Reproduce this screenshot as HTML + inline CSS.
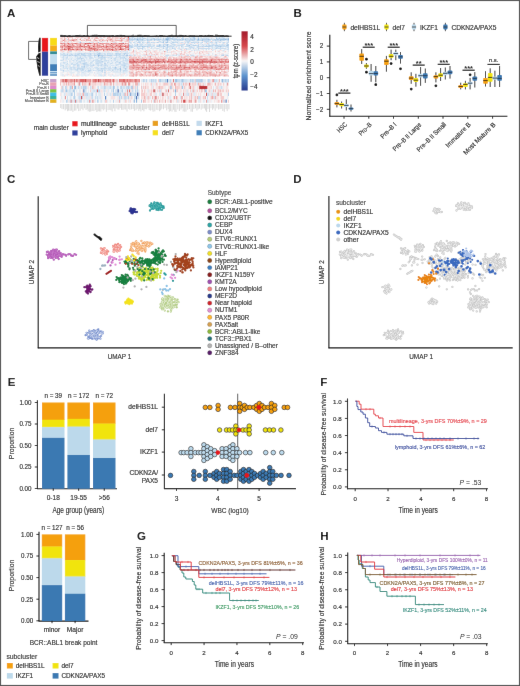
<!DOCTYPE html>
<html><head><meta charset="utf-8"><style>
html,body{margin:0;padding:0;background:#fff;}
body{width:520px;height:686px;overflow:hidden;position:relative;}
svg{position:absolute;left:0;top:0;display:block;}
text{font-family:"Liberation Sans", sans-serif;}
</style></head><body>
<svg width="520" height="686" viewBox="0 0 520 686" font-family='"Liberation Sans", sans-serif' fill="#231f20">
<defs><filter id="soft" x="0" y="0" width="520" height="686" filterUnits="userSpaceOnUse"><feConvolveMatrix order="3" kernelMatrix="0.0016 0.0371 0.0016 0.0371 0.8450 0.0371 0.0016 0.0371 0.0016" edgeMode="duplicate" preserveAlpha="true"/></filter></defs>
<g filter="url(#soft)">
<rect x="0" y="0" width="520" height="686" fill="#fff"/>
<rect x="0.5" y="0.5" width="519" height="685" fill="none" stroke="#555" stroke-width="1.2"/>
<text x="7.00" y="16.50" font-size="11.5" fill="#000" font-weight="bold">A</text>
<text x="293.50" y="16.50" font-size="11.5" fill="#000" font-weight="bold">B</text>
<text x="7.00" y="183.20" font-size="11.5" fill="#000" font-weight="bold">C</text>
<text x="293.30" y="182.70" font-size="11.5" fill="#000" font-weight="bold">D</text>
<text x="7.80" y="385.80" font-size="11.5" fill="#000" font-weight="bold">E</text>
<text x="320.20" y="386.00" font-size="11.5" fill="#000" font-weight="bold">F</text>
<text x="137.00" y="540.20" font-size="11.5" fill="#000" font-weight="bold">G</text>
<text x="320.30" y="540.40" font-size="11.5" fill="#000" font-weight="bold">H</text>
<path fill="#f6e2e2" d="M60.2 37.0h1.3v1.0h-1.3zM62.8 37.0h1.3v1.0h-1.3zM74.5 37.0h1.3v1.0h-1.3zM79.7 37.0h1.3v1.0h-1.3zM83.6 37.0h3.9v1.0h-3.9zM92.7 37.0h2.6v1.0h-2.6zM113.4 37.0h1.3v1.0h-1.3zM118.6 37.0h2.6v1.0h-2.6zM126.4 37.0h1.3v1.0h-1.3zM130.3 37.0h1.3v1.0h-1.3zM156.3 37.0h1.3v1.0h-1.3zM175.8 37.0h1.3v1.0h-1.3zM210.8 37.0h1.3v1.0h-1.3zM101.8 38.0h1.3v1.0h-1.3zM113.4 38.0h1.3v1.0h-1.3zM118.6 38.0h1.3v1.0h-1.3zM60.2 39.0h1.3v1.0h-1.3zM62.8 39.0h1.3v1.0h-1.3zM69.3 39.0h1.3v1.0h-1.3zM78.4 39.0h1.3v1.0h-1.3zM83.6 39.0h2.6v1.0h-2.6zM88.8 39.0h1.3v1.0h-1.3zM92.7 39.0h1.3v1.0h-1.3zM95.3 39.0h1.3v1.0h-1.3zM97.9 39.0h1.3v1.0h-1.3zM106.9 39.0h1.3v1.0h-1.3zM113.4 39.0h1.3v1.0h-1.3zM116.0 39.0h2.6v1.0h-2.6zM119.9 39.0h1.3v1.0h-1.3zM125.1 39.0h1.3v1.0h-1.3zM60.2 40.0h1.3v1.0h-1.3zM66.7 40.0h1.3v1.0h-1.3zM77.1 40.0h1.3v1.0h-1.3zM79.7 40.0h1.3v1.0h-1.3zM84.9 40.0h1.3v1.0h-1.3zM97.9 40.0h1.3v1.0h-1.3zM113.4 40.0h1.3v1.0h-1.3zM122.5 40.0h3.9v1.0h-3.9zM66.7 41.0h1.3v1.0h-1.3zM74.5 41.0h5.2v1.0h-5.2zM82.3 41.0h1.3v1.0h-1.3zM86.2 41.0h1.3v1.0h-1.3zM90.1 41.0h3.9v1.0h-3.9zM95.3 41.0h2.6v1.0h-2.6zM99.2 41.0h1.3v1.0h-1.3zM104.3 41.0h1.3v1.0h-1.3zM109.5 41.0h1.3v1.0h-1.3zM114.7 41.0h2.6v1.0h-2.6zM118.6 41.0h1.3v1.0h-1.3zM123.8 41.0h1.3v1.0h-1.3zM131.6 41.0h1.3v1.0h-1.3zM152.4 41.0h1.3v1.0h-1.3zM157.6 41.0h1.3v1.0h-1.3zM183.6 41.0h1.3v1.0h-1.3zM203.0 41.0h1.3v1.0h-1.3zM218.6 41.0h1.3v1.0h-1.3zM61.5 42.0h1.3v1.0h-1.3zM68.0 42.0h1.3v1.0h-1.3zM70.6 42.0h2.6v1.0h-2.6zM75.8 42.0h2.6v1.0h-2.6zM87.5 42.0h1.3v1.0h-1.3zM95.3 42.0h1.3v1.0h-1.3zM105.6 42.0h1.3v1.0h-1.3zM109.5 42.0h1.3v1.0h-1.3zM112.1 42.0h1.3v1.0h-1.3zM121.2 42.0h1.3v1.0h-1.3zM125.1 42.0h1.3v1.0h-1.3zM109.5 42.9h1.3v1.0h-1.3zM136.8 42.9h1.3v1.0h-1.3zM145.9 42.9h1.3v1.0h-1.3zM153.7 42.9h1.3v1.0h-1.3zM164.1 42.9h1.3v1.0h-1.3zM179.7 42.9h2.6v1.0h-2.6zM188.7 42.9h2.6v1.0h-2.6zM204.3 42.9h1.3v1.0h-1.3zM213.4 42.9h1.3v1.0h-1.3zM223.8 42.9h1.3v1.0h-1.3zM60.2 43.9h1.3v1.0h-1.3zM62.8 43.9h1.3v1.0h-1.3zM74.5 43.9h1.3v1.0h-1.3zM88.8 43.9h1.3v1.0h-1.3zM91.4 43.9h1.3v1.0h-1.3zM95.3 43.9h1.3v1.0h-1.3zM122.5 43.9h1.3v1.0h-1.3zM126.4 43.9h1.3v1.0h-1.3zM156.3 43.9h1.3v1.0h-1.3zM175.8 43.9h1.3v1.0h-1.3zM74.5 44.9h1.3v1.0h-1.3zM86.2 44.9h1.3v1.0h-1.3zM101.8 44.9h1.3v1.0h-1.3zM104.3 44.9h1.3v1.0h-1.3zM91.4 45.9h1.3v1.0h-1.3zM175.8 46.9h1.3v1.0h-1.3zM199.1 46.9h1.3v1.0h-1.3zM201.7 46.9h1.3v1.0h-1.3zM60.2 47.9h1.3v1.0h-1.3zM62.8 47.9h1.3v1.0h-1.3zM73.2 47.9h1.3v1.0h-1.3zM83.6 47.9h1.3v1.0h-1.3zM86.2 47.9h1.3v1.0h-1.3zM99.2 47.9h1.3v1.0h-1.3zM113.4 47.9h1.3v1.0h-1.3zM132.9 48.9h1.3v1.0h-1.3zM135.5 48.9h1.3v1.0h-1.3zM184.9 48.9h1.3v1.0h-1.3zM193.9 48.9h1.3v1.0h-1.3zM200.4 48.9h1.3v1.0h-1.3zM66.7 49.9h1.3v1.0h-1.3zM71.9 49.9h1.3v1.0h-1.3zM82.3 49.9h1.3v1.0h-1.3zM92.7 49.9h1.3v1.0h-1.3zM104.3 49.9h1.3v1.0h-1.3zM122.5 49.9h1.3v1.0h-1.3zM135.5 49.9h1.3v1.0h-1.3zM139.4 49.9h1.3v1.0h-1.3zM152.4 49.9h1.3v1.0h-1.3zM155.0 49.9h2.6v1.0h-2.6zM168.0 49.9h1.3v1.0h-1.3zM173.2 49.9h1.3v1.0h-1.3zM177.1 49.9h1.3v1.0h-1.3zM183.6 49.9h3.9v1.0h-3.9zM203.0 49.9h1.3v1.0h-1.3zM214.7 49.9h1.3v1.0h-1.3zM218.6 49.9h3.9v1.0h-3.9zM60.2 50.9h2.6v1.0h-2.6zM64.1 50.9h1.3v1.0h-1.3zM66.7 50.9h2.6v1.0h-2.6zM74.5 50.9h2.6v1.0h-2.6zM94.0 50.9h1.3v1.0h-1.3zM105.6 50.9h1.3v1.0h-1.3zM110.8 50.9h1.3v1.0h-1.3zM118.6 50.9h1.3v1.0h-1.3zM131.6 50.9h1.3v1.0h-1.3zM140.7 50.9h1.3v1.0h-1.3zM145.9 50.9h5.2v1.0h-5.2zM152.4 50.9h1.3v1.0h-1.3zM155.0 50.9h2.6v1.0h-2.6zM158.9 50.9h1.3v1.0h-1.3zM161.5 50.9h1.3v1.0h-1.3zM165.4 50.9h1.3v1.0h-1.3zM170.6 50.9h2.6v1.0h-2.6zM174.5 50.9h1.3v1.0h-1.3zM177.1 50.9h3.9v1.0h-3.9zM183.6 50.9h2.6v1.0h-2.6zM191.3 50.9h1.3v1.0h-1.3zM193.9 50.9h1.3v1.0h-1.3zM196.5 50.9h1.3v1.0h-1.3zM199.1 50.9h1.3v1.0h-1.3zM201.7 50.9h3.9v1.0h-3.9zM206.9 50.9h5.2v1.0h-5.2zM223.8 50.9h1.3v1.0h-1.3zM69.3 51.8h1.3v1.0h-1.3zM78.4 51.8h1.3v1.0h-1.3zM84.9 51.8h1.3v1.0h-1.3zM88.8 51.8h1.3v1.0h-1.3zM92.7 51.8h1.3v1.0h-1.3zM105.6 51.8h1.3v1.0h-1.3zM108.2 51.8h1.3v1.0h-1.3zM130.3 51.8h1.3v1.0h-1.3zM135.5 51.8h1.3v1.0h-1.3zM138.1 51.8h2.6v1.0h-2.6zM144.6 51.8h1.3v1.0h-1.3zM151.1 51.8h1.3v1.0h-1.3zM156.3 51.8h3.9v1.0h-3.9zM161.5 51.8h1.3v1.0h-1.3zM171.9 51.8h1.3v1.0h-1.3zM174.5 51.8h1.3v1.0h-1.3zM181.0 51.8h1.3v1.0h-1.3zM193.9 51.8h1.3v1.0h-1.3zM203.0 51.8h5.2v1.0h-5.2zM209.5 51.8h2.6v1.0h-2.6zM214.7 51.8h1.3v1.0h-1.3zM219.9 51.8h1.3v1.0h-1.3zM223.8 51.8h2.6v1.0h-2.6zM131.6 52.8h2.6v1.0h-2.6zM136.8 52.8h2.6v1.0h-2.6zM143.3 52.8h1.3v1.0h-1.3zM155.0 52.8h3.9v1.0h-3.9zM162.8 52.8h3.9v1.0h-3.9zM170.6 52.8h1.3v1.0h-1.3zM173.2 52.8h1.3v1.0h-1.3zM178.4 52.8h1.3v1.0h-1.3zM184.9 52.8h1.3v1.0h-1.3zM188.7 52.8h1.3v1.0h-1.3zM191.3 52.8h1.3v1.0h-1.3zM193.9 52.8h1.3v1.0h-1.3zM196.5 52.8h1.3v1.0h-1.3zM200.4 52.8h3.9v1.0h-3.9zM218.6 52.8h1.3v1.0h-1.3zM221.2 52.8h2.6v1.0h-2.6zM226.4 52.8h1.3v1.0h-1.3zM130.3 53.8h1.3v1.0h-1.3zM135.5 53.8h2.6v1.0h-2.6zM140.7 53.8h2.6v1.0h-2.6zM155.0 53.8h1.3v1.0h-1.3zM157.6 53.8h1.3v1.0h-1.3zM166.7 53.8h2.6v1.0h-2.6zM170.6 53.8h2.6v1.0h-2.6zM187.4 53.8h2.6v1.0h-2.6zM195.2 53.8h1.3v1.0h-1.3zM200.4 53.8h1.3v1.0h-1.3zM218.6 53.8h3.9v1.0h-3.9zM223.8 53.8h1.3v1.0h-1.3zM132.9 54.8h1.3v1.0h-1.3zM136.8 54.8h2.6v1.0h-2.6zM153.7 54.8h1.3v1.0h-1.3zM157.6 54.8h1.3v1.0h-1.3zM179.7 54.8h1.3v1.0h-1.3zM183.6 54.8h2.6v1.0h-2.6zM199.1 54.8h1.3v1.0h-1.3zM210.8 54.8h1.3v1.0h-1.3zM217.3 54.8h1.3v1.0h-1.3zM103.0 55.8h1.3v1.0h-1.3zM106.9 55.8h1.3v1.0h-1.3zM112.1 55.8h1.3v1.0h-1.3zM127.7 55.8h2.6v1.0h-2.6zM132.9 55.8h1.3v1.0h-1.3zM136.8 55.8h2.6v1.0h-2.6zM143.3 55.8h1.3v1.0h-1.3zM153.7 55.8h1.3v1.0h-1.3zM170.6 55.8h2.6v1.0h-2.6zM205.6 55.8h1.3v1.0h-1.3zM208.2 55.8h1.3v1.0h-1.3zM210.8 55.8h2.6v1.0h-2.6zM217.3 55.8h1.3v1.0h-1.3zM221.2 55.8h1.3v1.0h-1.3zM136.8 56.8h1.3v1.0h-1.3zM139.4 56.8h2.6v1.0h-2.6zM143.3 56.8h1.3v1.0h-1.3zM145.9 56.8h1.3v1.0h-1.3zM152.4 56.8h2.6v1.0h-2.6zM156.3 56.8h1.3v1.0h-1.3zM160.2 56.8h1.3v1.0h-1.3zM164.1 56.8h1.3v1.0h-1.3zM168.0 56.8h1.3v1.0h-1.3zM170.6 56.8h1.3v1.0h-1.3zM174.5 56.8h1.3v1.0h-1.3zM177.1 56.8h1.3v1.0h-1.3zM179.7 56.8h1.3v1.0h-1.3zM186.2 56.8h1.3v1.0h-1.3zM188.7 56.8h1.3v1.0h-1.3zM191.3 56.8h2.6v1.0h-2.6zM204.3 56.8h1.3v1.0h-1.3zM206.9 56.8h2.6v1.0h-2.6zM212.1 56.8h1.3v1.0h-1.3zM219.9 56.8h1.3v1.0h-1.3zM222.5 56.8h1.3v1.0h-1.3zM129.0 57.8h1.3v1.0h-1.3zM138.1 57.8h1.3v1.0h-1.3zM143.3 57.8h1.3v1.0h-1.3zM145.9 57.8h2.6v1.0h-2.6zM152.4 57.8h2.6v1.0h-2.6zM158.9 57.8h1.3v1.0h-1.3zM168.0 57.8h1.3v1.0h-1.3zM177.1 57.8h1.3v1.0h-1.3zM181.0 57.8h1.3v1.0h-1.3zM192.6 57.8h2.6v1.0h-2.6zM196.5 57.8h2.6v1.0h-2.6zM201.7 57.8h1.3v1.0h-1.3zM208.2 57.8h2.6v1.0h-2.6zM213.4 57.8h2.6v1.0h-2.6zM217.3 57.8h2.6v1.0h-2.6zM222.5 57.8h1.3v1.0h-1.3zM127.7 58.8h1.3v1.0h-1.3zM165.4 58.8h2.6v1.0h-2.6zM64.1 59.8h1.3v1.0h-1.3zM151.1 59.8h1.3v1.0h-1.3zM178.4 59.8h1.3v1.0h-1.3zM192.6 59.8h1.3v1.0h-1.3zM219.9 59.8h1.3v1.0h-1.3zM226.4 59.8h1.3v1.0h-1.3zM70.6 60.8h1.3v1.0h-1.3zM127.7 60.8h1.3v1.0h-1.3zM127.7 62.7h1.3v1.0h-1.3zM165.4 62.7h2.6v1.0h-2.6zM175.8 62.7h2.6v1.0h-2.6zM197.8 62.7h1.3v1.0h-1.3zM204.3 62.7h1.3v1.0h-1.3zM208.2 62.7h1.3v1.0h-1.3zM212.1 62.7h1.3v1.0h-1.3zM216.0 62.7h1.3v1.0h-1.3zM226.4 62.7h2.6v1.0h-2.6zM79.7 63.7h1.3v1.0h-1.3zM129.0 63.7h1.3v1.0h-1.3zM140.7 63.7h2.6v1.0h-2.6zM152.4 63.7h1.3v1.0h-1.3zM158.9 63.7h2.6v1.0h-2.6zM174.5 63.7h2.6v1.0h-2.6zM181.0 63.7h1.3v1.0h-1.3zM183.6 63.7h1.3v1.0h-1.3zM190.0 63.7h1.3v1.0h-1.3zM193.9 63.7h1.3v1.0h-1.3zM208.2 63.7h1.3v1.0h-1.3zM213.4 63.7h2.6v1.0h-2.6zM222.5 63.7h1.3v1.0h-1.3zM226.4 63.7h1.3v1.0h-1.3zM212.1 64.7h1.3v1.0h-1.3zM68.0 65.7h1.3v1.0h-1.3zM75.8 65.7h1.3v1.0h-1.3zM92.7 65.7h1.3v1.0h-1.3zM144.6 65.7h1.3v1.0h-1.3zM147.2 65.7h1.3v1.0h-1.3zM166.7 65.7h1.3v1.0h-1.3zM197.8 65.7h1.3v1.0h-1.3zM223.8 65.7h1.3v1.0h-1.3zM127.7 67.7h1.3v1.0h-1.3zM204.3 67.7h1.3v1.0h-1.3zM64.1 68.7h1.3v1.0h-1.3zM130.3 69.7h1.3v1.0h-1.3zM132.9 69.7h2.6v1.0h-2.6zM142.0 69.7h1.3v1.0h-1.3zM152.4 69.7h2.6v1.0h-2.6zM156.3 69.7h1.3v1.0h-1.3zM160.2 69.7h1.3v1.0h-1.3zM164.1 69.7h1.3v1.0h-1.3zM168.0 69.7h3.9v1.0h-3.9zM173.2 69.7h1.3v1.0h-1.3zM181.0 69.7h1.3v1.0h-1.3zM183.6 69.7h1.3v1.0h-1.3zM186.2 69.7h1.3v1.0h-1.3zM190.0 69.7h1.3v1.0h-1.3zM193.9 69.7h1.3v1.0h-1.3zM200.4 69.7h2.6v1.0h-2.6zM205.6 69.7h1.3v1.0h-1.3zM210.8 69.7h1.3v1.0h-1.3zM223.8 69.7h1.3v1.0h-1.3zM227.7 69.7h1.3v1.0h-1.3zM105.6 70.7h1.3v1.0h-1.3zM108.2 70.7h1.3v1.0h-1.3zM112.1 70.7h1.3v1.0h-1.3zM130.3 70.7h1.3v1.0h-1.3zM132.9 70.7h1.3v1.0h-1.3zM158.9 70.7h2.6v1.0h-2.6zM168.0 70.7h1.3v1.0h-1.3zM177.1 70.7h1.3v1.0h-1.3zM182.3 70.7h1.3v1.0h-1.3zM188.7 70.7h1.3v1.0h-1.3zM192.6 70.7h1.3v1.0h-1.3zM205.6 70.7h2.6v1.0h-2.6zM217.3 70.7h2.6v1.0h-2.6zM226.4 70.7h1.3v1.0h-1.3zM61.5 71.7h1.3v1.0h-1.3zM66.7 71.7h2.6v1.0h-2.6zM78.4 71.7h2.6v1.0h-2.6zM88.8 71.7h1.3v1.0h-1.3zM94.0 71.7h1.3v1.0h-1.3zM103.0 71.7h1.3v1.0h-1.3zM105.6 71.7h1.3v1.0h-1.3zM127.7 71.7h1.3v1.0h-1.3zM138.1 71.7h1.3v1.0h-1.3zM142.0 71.7h1.3v1.0h-1.3zM156.3 71.7h1.3v1.0h-1.3zM160.2 71.7h1.3v1.0h-1.3zM169.3 71.7h1.3v1.0h-1.3zM174.5 71.7h1.3v1.0h-1.3zM183.6 71.7h2.6v1.0h-2.6zM188.7 71.7h5.2v1.0h-5.2zM200.4 71.7h1.3v1.0h-1.3zM208.2 71.7h1.3v1.0h-1.3zM217.3 71.7h1.3v1.0h-1.3zM226.4 71.7h1.3v1.0h-1.3zM138.1 72.6h1.3v1.0h-1.3zM143.3 72.6h1.3v1.0h-1.3zM147.2 72.6h1.3v1.0h-1.3zM160.2 72.6h2.6v1.0h-2.6zM182.3 72.6h1.3v1.0h-1.3zM191.3 72.6h1.3v1.0h-1.3zM200.4 72.6h2.6v1.0h-2.6zM214.7 72.6h1.3v1.0h-1.3zM217.3 72.6h1.3v1.0h-1.3zM225.1 72.6h1.3v1.0h-1.3zM227.7 72.6h1.3v1.0h-1.3zM61.5 73.6h1.3v1.0h-1.3zM65.4 73.6h2.6v1.0h-2.6zM71.9 73.6h2.6v1.0h-2.6zM77.1 73.6h1.3v1.0h-1.3zM83.6 73.6h1.3v1.0h-1.3zM92.7 73.6h1.3v1.0h-1.3zM96.6 73.6h1.3v1.0h-1.3zM101.8 73.6h2.6v1.0h-2.6zM108.2 73.6h3.9v1.0h-3.9zM114.7 73.6h1.3v1.0h-1.3zM118.6 73.6h1.3v1.0h-1.3zM121.2 73.6h2.6v1.0h-2.6zM127.7 73.6h2.6v1.0h-2.6zM131.6 73.6h1.3v1.0h-1.3zM134.2 73.6h1.3v1.0h-1.3zM138.1 73.6h1.3v1.0h-1.3zM147.2 73.6h5.2v1.0h-5.2zM157.6 73.6h1.3v1.0h-1.3zM161.5 73.6h1.3v1.0h-1.3zM165.4 73.6h1.3v1.0h-1.3zM170.6 73.6h1.3v1.0h-1.3zM181.0 73.6h1.3v1.0h-1.3zM187.4 73.6h1.3v1.0h-1.3zM192.6 73.6h1.3v1.0h-1.3zM201.7 73.6h1.3v1.0h-1.3zM221.2 73.6h1.3v1.0h-1.3zM64.1 74.6h1.3v1.0h-1.3zM68.0 74.6h1.3v1.0h-1.3zM73.2 74.6h1.3v1.0h-1.3zM94.0 74.6h1.3v1.0h-1.3zM121.2 74.6h1.3v1.0h-1.3zM143.3 74.6h1.3v1.0h-1.3zM158.9 74.6h1.3v1.0h-1.3zM208.2 74.6h1.3v1.0h-1.3zM227.7 74.6h1.3v1.0h-1.3zM61.5 75.6h1.3v1.0h-1.3zM73.2 75.6h3.9v1.0h-3.9zM78.4 75.6h1.3v1.0h-1.3zM84.9 75.6h1.3v1.0h-1.3zM94.0 75.6h1.3v1.0h-1.3zM96.6 75.6h1.3v1.0h-1.3zM105.6 75.6h1.3v1.0h-1.3zM110.8 75.6h1.3v1.0h-1.3zM114.7 75.6h2.6v1.0h-2.6zM119.9 75.6h2.6v1.0h-2.6zM142.0 75.6h1.3v1.0h-1.3zM144.6 75.6h1.3v1.0h-1.3zM147.2 75.6h1.3v1.0h-1.3zM151.1 75.6h1.3v1.0h-1.3zM157.6 75.6h1.3v1.0h-1.3zM165.4 75.6h1.3v1.0h-1.3zM173.2 75.6h2.6v1.0h-2.6zM184.9 75.6h1.3v1.0h-1.3zM188.7 75.6h1.3v1.0h-1.3zM210.8 75.6h1.3v1.0h-1.3zM219.9 75.6h1.3v1.0h-1.3z"/>
<path fill="#f4cdcd" d="M61.5 37.0h1.3v1.0h-1.3zM68.0 37.0h1.3v1.0h-1.3zM70.6 37.0h2.6v1.0h-2.6zM75.8 37.0h3.9v1.0h-3.9zM81.0 37.0h2.6v1.0h-2.6zM91.4 37.0h1.3v1.0h-1.3zM99.2 37.0h2.6v1.0h-2.6zM103.0 37.0h2.6v1.0h-2.6zM106.9 37.0h1.3v1.0h-1.3zM114.7 37.0h3.9v1.0h-3.9zM123.8 37.0h2.6v1.0h-2.6zM60.2 38.0h2.6v1.0h-2.6zM65.4 38.0h1.3v1.0h-1.3zM71.9 38.0h1.3v1.0h-1.3zM74.5 38.0h1.3v1.0h-1.3zM77.1 38.0h1.3v1.0h-1.3zM79.7 38.0h1.3v1.0h-1.3zM83.6 38.0h2.6v1.0h-2.6zM94.0 38.0h1.3v1.0h-1.3zM97.9 38.0h1.3v1.0h-1.3zM108.2 38.0h5.2v1.0h-5.2zM114.7 38.0h3.9v1.0h-3.9zM121.2 38.0h1.3v1.0h-1.3zM61.5 39.0h1.3v1.0h-1.3zM70.6 39.0h1.3v1.0h-1.3zM82.3 39.0h1.3v1.0h-1.3zM90.1 39.0h1.3v1.0h-1.3zM99.2 39.0h5.2v1.0h-5.2zM105.6 39.0h1.3v1.0h-1.3zM112.1 39.0h1.3v1.0h-1.3zM114.7 39.0h1.3v1.0h-1.3zM61.5 40.0h1.3v1.0h-1.3zM65.4 40.0h1.3v1.0h-1.3zM68.0 40.0h1.3v1.0h-1.3zM75.8 40.0h1.3v1.0h-1.3zM82.3 40.0h1.3v1.0h-1.3zM92.7 40.0h2.6v1.0h-2.6zM96.6 40.0h1.3v1.0h-1.3zM103.0 40.0h3.9v1.0h-3.9zM110.8 40.0h1.3v1.0h-1.3zM60.2 41.0h1.3v1.0h-1.3zM65.4 41.0h1.3v1.0h-1.3zM68.0 41.0h1.3v1.0h-1.3zM70.6 41.0h1.3v1.0h-1.3zM110.8 41.0h1.3v1.0h-1.3zM113.4 41.0h1.3v1.0h-1.3zM119.9 41.0h1.3v1.0h-1.3zM125.1 41.0h3.9v1.0h-3.9zM148.5 41.0h1.3v1.0h-1.3zM210.8 41.0h1.3v1.0h-1.3zM60.2 42.0h1.3v1.0h-1.3zM64.1 42.0h1.3v1.0h-1.3zM66.7 42.0h1.3v1.0h-1.3zM81.0 42.0h1.3v1.0h-1.3zM92.7 42.0h1.3v1.0h-1.3zM96.6 42.0h1.3v1.0h-1.3zM114.7 42.0h1.3v1.0h-1.3zM127.7 42.0h1.3v1.0h-1.3zM65.4 42.9h1.3v1.0h-1.3zM97.9 42.9h1.3v1.0h-1.3zM117.3 42.9h1.3v1.0h-1.3zM123.8 42.9h1.3v1.0h-1.3zM183.6 42.9h1.3v1.0h-1.3zM196.5 42.9h1.3v1.0h-1.3zM206.9 42.9h1.3v1.0h-1.3zM66.7 43.9h1.3v1.0h-1.3zM70.6 43.9h1.3v1.0h-1.3zM73.2 43.9h1.3v1.0h-1.3zM81.0 43.9h2.6v1.0h-2.6zM90.1 43.9h1.3v1.0h-1.3zM97.9 43.9h1.3v1.0h-1.3zM100.5 43.9h1.3v1.0h-1.3zM110.8 43.9h1.3v1.0h-1.3zM125.1 43.9h1.3v1.0h-1.3zM65.4 44.9h1.3v1.0h-1.3zM75.8 44.9h1.3v1.0h-1.3zM82.3 44.9h1.3v1.0h-1.3zM95.3 44.9h1.3v1.0h-1.3zM100.5 44.9h1.3v1.0h-1.3zM106.9 44.9h2.6v1.0h-2.6zM113.4 44.9h1.3v1.0h-1.3zM123.8 44.9h1.3v1.0h-1.3zM62.8 46.9h1.3v1.0h-1.3zM81.0 46.9h1.3v1.0h-1.3zM101.8 46.9h1.3v1.0h-1.3zM116.0 46.9h1.3v1.0h-1.3zM122.5 46.9h1.3v1.0h-1.3zM148.5 46.9h1.3v1.0h-1.3zM70.6 47.9h1.3v1.0h-1.3zM81.0 47.9h2.6v1.0h-2.6zM100.5 47.9h1.3v1.0h-1.3zM103.0 47.9h1.3v1.0h-1.3zM110.8 47.9h1.3v1.0h-1.3zM118.6 47.9h1.3v1.0h-1.3zM126.4 47.9h1.3v1.0h-1.3zM123.8 48.9h1.3v1.0h-1.3zM179.7 48.9h1.3v1.0h-1.3zM183.6 48.9h1.3v1.0h-1.3zM210.8 48.9h1.3v1.0h-1.3zM64.1 49.9h2.6v1.0h-2.6zM73.2 49.9h2.6v1.0h-2.6zM77.1 49.9h3.9v1.0h-3.9zM86.2 49.9h1.3v1.0h-1.3zM97.9 49.9h3.9v1.0h-3.9zM105.6 49.9h1.3v1.0h-1.3zM108.2 49.9h1.3v1.0h-1.3zM110.8 49.9h1.3v1.0h-1.3zM117.3 49.9h2.6v1.0h-2.6zM123.8 49.9h1.3v1.0h-1.3zM127.7 49.9h1.3v1.0h-1.3zM145.9 49.9h1.3v1.0h-1.3zM148.5 49.9h1.3v1.0h-1.3zM175.8 49.9h1.3v1.0h-1.3zM62.8 50.9h1.3v1.0h-1.3zM103.0 50.9h1.3v1.0h-1.3zM135.5 50.9h1.3v1.0h-1.3zM143.3 50.9h1.3v1.0h-1.3zM153.7 50.9h1.3v1.0h-1.3zM173.2 50.9h1.3v1.0h-1.3zM181.0 50.9h1.3v1.0h-1.3zM188.7 50.9h2.6v1.0h-2.6zM200.4 50.9h1.3v1.0h-1.3zM205.6 50.9h1.3v1.0h-1.3zM214.7 50.9h1.3v1.0h-1.3zM217.3 50.9h2.6v1.0h-2.6zM225.1 50.9h1.3v1.0h-1.3zM61.5 51.8h1.3v1.0h-1.3zM66.7 51.8h2.6v1.0h-2.6zM121.2 51.8h1.3v1.0h-1.3zM131.6 51.8h2.6v1.0h-2.6zM136.8 51.8h1.3v1.0h-1.3zM145.9 51.8h1.3v1.0h-1.3zM153.7 51.8h2.6v1.0h-2.6zM164.1 51.8h1.3v1.0h-1.3zM168.0 51.8h1.3v1.0h-1.3zM170.6 51.8h1.3v1.0h-1.3zM183.6 51.8h2.6v1.0h-2.6zM187.4 51.8h2.6v1.0h-2.6zM196.5 51.8h1.3v1.0h-1.3zM130.3 52.8h1.3v1.0h-1.3zM135.5 52.8h1.3v1.0h-1.3zM139.4 52.8h1.3v1.0h-1.3zM145.9 52.8h1.3v1.0h-1.3zM148.5 52.8h3.9v1.0h-3.9zM160.2 52.8h2.6v1.0h-2.6zM174.5 52.8h2.6v1.0h-2.6zM179.7 52.8h1.3v1.0h-1.3zM183.6 52.8h1.3v1.0h-1.3zM186.2 52.8h1.3v1.0h-1.3zM195.2 52.8h1.3v1.0h-1.3zM205.6 52.8h3.9v1.0h-3.9zM132.9 53.8h1.3v1.0h-1.3zM143.3 53.8h2.6v1.0h-2.6zM151.1 53.8h2.6v1.0h-2.6zM161.5 53.8h1.3v1.0h-1.3zM173.2 53.8h1.3v1.0h-1.3zM181.0 53.8h1.3v1.0h-1.3zM190.0 53.8h1.3v1.0h-1.3zM199.1 53.8h1.3v1.0h-1.3zM203.0 53.8h2.6v1.0h-2.6zM216.0 53.8h1.3v1.0h-1.3zM145.9 54.8h1.3v1.0h-1.3zM134.2 55.8h1.3v1.0h-1.3zM144.6 55.8h1.3v1.0h-1.3zM147.2 55.8h1.3v1.0h-1.3zM151.1 55.8h2.6v1.0h-2.6zM155.0 55.8h1.3v1.0h-1.3zM157.6 55.8h1.3v1.0h-1.3zM161.5 55.8h1.3v1.0h-1.3zM178.4 55.8h2.6v1.0h-2.6zM183.6 55.8h1.3v1.0h-1.3zM187.4 55.8h1.3v1.0h-1.3zM191.3 55.8h1.3v1.0h-1.3zM195.2 55.8h1.3v1.0h-1.3zM199.1 55.8h1.3v1.0h-1.3zM203.0 55.8h1.3v1.0h-1.3zM206.9 55.8h1.3v1.0h-1.3zM213.4 55.8h1.3v1.0h-1.3zM216.0 55.8h1.3v1.0h-1.3zM223.8 55.8h1.3v1.0h-1.3zM131.6 56.8h1.3v1.0h-1.3zM134.2 56.8h1.3v1.0h-1.3zM147.2 56.8h2.6v1.0h-2.6zM157.6 56.8h2.6v1.0h-2.6zM161.5 56.8h2.6v1.0h-2.6zM171.9 56.8h1.3v1.0h-1.3zM175.8 56.8h1.3v1.0h-1.3zM178.4 56.8h1.3v1.0h-1.3zM182.3 56.8h1.3v1.0h-1.3zM184.9 56.8h1.3v1.0h-1.3zM193.9 56.8h1.3v1.0h-1.3zM197.8 56.8h1.3v1.0h-1.3zM201.7 56.8h1.3v1.0h-1.3zM205.6 56.8h1.3v1.0h-1.3zM210.8 56.8h1.3v1.0h-1.3zM213.4 56.8h1.3v1.0h-1.3zM218.6 56.8h1.3v1.0h-1.3zM226.4 56.8h1.3v1.0h-1.3zM130.3 57.8h6.5v1.0h-6.5zM142.0 57.8h1.3v1.0h-1.3zM155.0 57.8h1.3v1.0h-1.3zM160.2 57.8h1.3v1.0h-1.3zM162.8 57.8h3.9v1.0h-3.9zM169.3 57.8h2.6v1.0h-2.6zM174.5 57.8h2.6v1.0h-2.6zM178.4 57.8h1.3v1.0h-1.3zM182.3 57.8h5.2v1.0h-5.2zM188.7 57.8h2.6v1.0h-2.6zM203.0 57.8h2.6v1.0h-2.6zM206.9 57.8h1.3v1.0h-1.3zM210.8 57.8h1.3v1.0h-1.3zM226.4 57.8h1.3v1.0h-1.3zM134.2 58.8h1.3v1.0h-1.3zM191.3 58.8h1.3v1.0h-1.3zM208.2 58.8h1.3v1.0h-1.3zM134.2 59.8h1.3v1.0h-1.3zM148.5 59.8h1.3v1.0h-1.3zM152.4 59.8h1.3v1.0h-1.3zM156.3 59.8h1.3v1.0h-1.3zM158.9 59.8h2.6v1.0h-2.6zM193.9 59.8h1.3v1.0h-1.3zM197.8 59.8h1.3v1.0h-1.3zM217.3 59.8h1.3v1.0h-1.3zM223.8 59.8h1.3v1.0h-1.3zM139.4 62.7h1.3v1.0h-1.3zM149.8 62.7h1.3v1.0h-1.3zM152.4 62.7h2.6v1.0h-2.6zM157.6 62.7h1.3v1.0h-1.3zM161.5 62.7h1.3v1.0h-1.3zM168.0 62.7h1.3v1.0h-1.3zM171.9 62.7h1.3v1.0h-1.3zM182.3 62.7h1.3v1.0h-1.3zM187.4 62.7h3.9v1.0h-3.9zM192.6 62.7h1.3v1.0h-1.3zM203.0 62.7h1.3v1.0h-1.3zM210.8 62.7h1.3v1.0h-1.3zM218.6 62.7h2.6v1.0h-2.6zM222.5 62.7h1.3v1.0h-1.3zM225.1 62.7h1.3v1.0h-1.3zM135.5 63.7h1.3v1.0h-1.3zM138.1 63.7h1.3v1.0h-1.3zM143.3 63.7h1.3v1.0h-1.3zM153.7 63.7h1.3v1.0h-1.3zM161.5 63.7h2.6v1.0h-2.6zM165.4 63.7h1.3v1.0h-1.3zM170.6 63.7h3.9v1.0h-3.9zM177.1 63.7h1.3v1.0h-1.3zM179.7 63.7h1.3v1.0h-1.3zM182.3 63.7h1.3v1.0h-1.3zM188.7 63.7h1.3v1.0h-1.3zM196.5 63.7h1.3v1.0h-1.3zM200.4 63.7h2.6v1.0h-2.6zM204.3 63.7h2.6v1.0h-2.6zM212.1 63.7h1.3v1.0h-1.3zM216.0 63.7h2.6v1.0h-2.6zM223.8 63.7h2.6v1.0h-2.6zM227.7 63.7h1.3v1.0h-1.3zM129.0 64.7h1.3v1.0h-1.3zM140.7 64.7h1.3v1.0h-1.3zM147.2 64.7h1.3v1.0h-1.3zM166.7 64.7h1.3v1.0h-1.3zM177.1 64.7h1.3v1.0h-1.3zM187.4 64.7h1.3v1.0h-1.3zM199.1 64.7h1.3v1.0h-1.3zM208.2 64.7h1.3v1.0h-1.3zM217.3 64.7h1.3v1.0h-1.3zM136.8 65.7h3.9v1.0h-3.9zM145.9 65.7h1.3v1.0h-1.3zM155.0 65.7h2.6v1.0h-2.6zM169.3 65.7h1.3v1.0h-1.3zM174.5 65.7h1.3v1.0h-1.3zM177.1 65.7h1.3v1.0h-1.3zM188.7 65.7h1.3v1.0h-1.3zM193.9 65.7h1.3v1.0h-1.3zM208.2 65.7h1.3v1.0h-1.3zM216.0 65.7h2.6v1.0h-2.6zM217.3 66.7h2.6v1.0h-2.6zM226.4 66.7h1.3v1.0h-1.3zM160.2 67.7h1.3v1.0h-1.3zM181.0 67.7h1.3v1.0h-1.3zM200.4 67.7h1.3v1.0h-1.3zM221.2 67.7h1.3v1.0h-1.3zM169.3 68.7h1.3v1.0h-1.3zM192.6 68.7h1.3v1.0h-1.3zM131.6 69.7h1.3v1.0h-1.3zM140.7 69.7h1.3v1.0h-1.3zM144.6 69.7h1.3v1.0h-1.3zM157.6 69.7h1.3v1.0h-1.3zM174.5 69.7h1.3v1.0h-1.3zM177.1 69.7h1.3v1.0h-1.3zM184.9 69.7h1.3v1.0h-1.3zM199.1 69.7h1.3v1.0h-1.3zM203.0 69.7h1.3v1.0h-1.3zM214.7 69.7h1.3v1.0h-1.3zM217.3 69.7h2.6v1.0h-2.6zM221.2 69.7h1.3v1.0h-1.3zM129.0 70.7h1.3v1.0h-1.3zM131.6 70.7h1.3v1.0h-1.3zM135.5 70.7h2.6v1.0h-2.6zM139.4 70.7h1.3v1.0h-1.3zM143.3 70.7h2.6v1.0h-2.6zM147.2 70.7h7.8v1.0h-7.8zM171.9 70.7h1.3v1.0h-1.3zM184.9 70.7h1.3v1.0h-1.3zM191.3 70.7h1.3v1.0h-1.3zM197.8 70.7h1.3v1.0h-1.3zM209.5 70.7h1.3v1.0h-1.3zM212.1 70.7h1.3v1.0h-1.3zM222.5 70.7h1.3v1.0h-1.3zM225.1 70.7h1.3v1.0h-1.3zM129.0 71.7h1.3v1.0h-1.3zM136.8 71.7h1.3v1.0h-1.3zM143.3 71.7h1.3v1.0h-1.3zM145.9 71.7h2.6v1.0h-2.6zM152.4 71.7h2.6v1.0h-2.6zM161.5 71.7h2.6v1.0h-2.6zM171.9 71.7h1.3v1.0h-1.3zM177.1 71.7h2.6v1.0h-2.6zM181.0 71.7h1.3v1.0h-1.3zM187.4 71.7h1.3v1.0h-1.3zM195.2 71.7h1.3v1.0h-1.3zM197.8 71.7h1.3v1.0h-1.3zM203.0 71.7h1.3v1.0h-1.3zM206.9 71.7h1.3v1.0h-1.3zM210.8 71.7h1.3v1.0h-1.3zM213.4 71.7h1.3v1.0h-1.3zM222.5 71.7h1.3v1.0h-1.3zM140.7 72.6h1.3v1.0h-1.3zM145.9 72.6h1.3v1.0h-1.3zM158.9 72.6h1.3v1.0h-1.3zM164.1 72.6h2.6v1.0h-2.6zM177.1 72.6h3.9v1.0h-3.9zM184.9 72.6h1.3v1.0h-1.3zM195.2 72.6h1.3v1.0h-1.3zM204.3 72.6h1.3v1.0h-1.3zM212.1 72.6h1.3v1.0h-1.3zM221.2 72.6h2.6v1.0h-2.6zM68.0 73.6h1.3v1.0h-1.3zM112.1 73.6h1.3v1.0h-1.3zM135.5 73.6h2.6v1.0h-2.6zM139.4 73.6h1.3v1.0h-1.3zM142.0 73.6h2.6v1.0h-2.6zM153.7 73.6h1.3v1.0h-1.3zM186.2 73.6h1.3v1.0h-1.3zM190.0 73.6h2.6v1.0h-2.6zM193.9 73.6h1.3v1.0h-1.3zM200.4 73.6h1.3v1.0h-1.3zM203.0 73.6h1.3v1.0h-1.3zM205.6 73.6h1.3v1.0h-1.3zM210.8 73.6h2.6v1.0h-2.6zM214.7 73.6h1.3v1.0h-1.3zM218.6 73.6h1.3v1.0h-1.3zM222.5 73.6h3.9v1.0h-3.9zM69.3 74.6h1.3v1.0h-1.3zM88.8 74.6h1.3v1.0h-1.3zM129.0 74.6h2.6v1.0h-2.6zM138.1 74.6h1.3v1.0h-1.3zM151.1 74.6h1.3v1.0h-1.3zM162.8 74.6h2.6v1.0h-2.6zM184.9 74.6h1.3v1.0h-1.3zM192.6 74.6h1.3v1.0h-1.3zM201.7 74.6h1.3v1.0h-1.3zM205.6 74.6h2.6v1.0h-2.6zM217.3 74.6h1.3v1.0h-1.3zM64.1 75.6h1.3v1.0h-1.3zM71.9 75.6h1.3v1.0h-1.3zM77.1 75.6h1.3v1.0h-1.3zM103.0 75.6h1.3v1.0h-1.3zM109.5 75.6h1.3v1.0h-1.3zM129.0 75.6h1.3v1.0h-1.3zM149.8 75.6h1.3v1.0h-1.3zM158.9 75.6h1.3v1.0h-1.3zM161.5 75.6h2.6v1.0h-2.6zM168.0 75.6h1.3v1.0h-1.3zM177.1 75.6h2.6v1.0h-2.6zM181.0 75.6h1.3v1.0h-1.3zM186.2 75.6h1.3v1.0h-1.3zM192.6 75.6h1.3v1.0h-1.3zM197.8 75.6h1.3v1.0h-1.3zM200.4 75.6h1.3v1.0h-1.3zM203.0 75.6h1.3v1.0h-1.3zM208.2 75.6h1.3v1.0h-1.3zM216.0 75.6h1.3v1.0h-1.3zM222.5 75.6h1.3v1.0h-1.3zM226.4 75.6h1.3v1.0h-1.3z"/>
<path fill="#eeb5b5" d="M64.1 37.0h1.3v1.0h-1.3zM66.7 37.0h1.3v1.0h-1.3zM69.3 37.0h1.3v1.0h-1.3zM87.5 37.0h2.6v1.0h-2.6zM95.3 37.0h2.6v1.0h-2.6zM108.2 37.0h2.6v1.0h-2.6zM112.1 37.0h1.3v1.0h-1.3zM121.2 37.0h1.3v1.0h-1.3zM64.1 38.0h1.3v1.0h-1.3zM68.0 38.0h1.3v1.0h-1.3zM87.5 38.0h2.6v1.0h-2.6zM91.4 38.0h1.3v1.0h-1.3zM95.3 38.0h2.6v1.0h-2.6zM106.9 38.0h1.3v1.0h-1.3zM122.5 38.0h2.6v1.0h-2.6zM68.0 39.0h1.3v1.0h-1.3zM71.9 39.0h3.9v1.0h-3.9zM87.5 39.0h1.3v1.0h-1.3zM94.0 39.0h1.3v1.0h-1.3zM108.2 39.0h1.3v1.0h-1.3zM126.4 39.0h1.3v1.0h-1.3zM64.1 40.0h1.3v1.0h-1.3zM69.3 40.0h2.6v1.0h-2.6zM74.5 40.0h1.3v1.0h-1.3zM81.0 40.0h1.3v1.0h-1.3zM83.6 40.0h1.3v1.0h-1.3zM87.5 40.0h3.9v1.0h-3.9zM112.1 40.0h1.3v1.0h-1.3zM114.7 40.0h6.5v1.0h-6.5zM126.4 40.0h2.6v1.0h-2.6zM61.5 41.0h1.3v1.0h-1.3zM64.1 41.0h1.3v1.0h-1.3zM73.2 41.0h1.3v1.0h-1.3zM100.5 41.0h1.3v1.0h-1.3zM106.9 41.0h1.3v1.0h-1.3zM112.1 41.0h1.3v1.0h-1.3zM121.2 41.0h1.3v1.0h-1.3zM69.3 42.9h1.3v1.0h-1.3zM78.4 42.9h1.3v1.0h-1.3zM81.0 42.9h2.6v1.0h-2.6zM91.4 42.9h2.6v1.0h-2.6zM126.4 42.9h2.6v1.0h-2.6zM61.5 43.9h1.3v1.0h-1.3zM65.4 43.9h1.3v1.0h-1.3zM75.8 43.9h2.6v1.0h-2.6zM86.2 43.9h1.3v1.0h-1.3zM92.7 43.9h1.3v1.0h-1.3zM99.2 43.9h1.3v1.0h-1.3zM103.0 43.9h1.3v1.0h-1.3zM106.9 43.9h1.3v1.0h-1.3zM114.7 43.9h6.5v1.0h-6.5zM123.8 43.9h1.3v1.0h-1.3zM60.2 44.9h2.6v1.0h-2.6zM68.0 44.9h3.9v1.0h-3.9zM78.4 44.9h1.3v1.0h-1.3zM81.0 44.9h1.3v1.0h-1.3zM88.8 44.9h2.6v1.0h-2.6zM92.7 44.9h1.3v1.0h-1.3zM114.7 44.9h1.3v1.0h-1.3zM118.6 44.9h1.3v1.0h-1.3zM122.5 44.9h1.3v1.0h-1.3zM126.4 44.9h1.3v1.0h-1.3zM62.8 45.9h1.3v1.0h-1.3zM90.1 45.9h1.3v1.0h-1.3zM104.3 45.9h1.3v1.0h-1.3zM64.1 46.9h1.3v1.0h-1.3zM73.2 46.9h2.6v1.0h-2.6zM82.3 46.9h1.3v1.0h-1.3zM84.9 46.9h2.6v1.0h-2.6zM92.7 46.9h1.3v1.0h-1.3zM95.3 46.9h1.3v1.0h-1.3zM103.0 46.9h1.3v1.0h-1.3zM106.9 46.9h1.3v1.0h-1.3zM109.5 46.9h1.3v1.0h-1.3zM114.7 46.9h1.3v1.0h-1.3zM121.2 46.9h1.3v1.0h-1.3zM65.4 47.9h1.3v1.0h-1.3zM74.5 47.9h2.6v1.0h-2.6zM78.4 47.9h1.3v1.0h-1.3zM96.6 47.9h2.6v1.0h-2.6zM104.3 47.9h1.3v1.0h-1.3zM106.9 47.9h1.3v1.0h-1.3zM116.0 47.9h1.3v1.0h-1.3zM122.5 47.9h2.6v1.0h-2.6zM66.7 48.9h1.3v1.0h-1.3zM82.3 48.9h1.3v1.0h-1.3zM97.9 48.9h1.3v1.0h-1.3zM113.4 48.9h1.3v1.0h-1.3zM117.3 48.9h1.3v1.0h-1.3zM126.4 48.9h1.3v1.0h-1.3zM60.2 49.9h2.6v1.0h-2.6zM69.3 49.9h2.6v1.0h-2.6zM75.8 49.9h1.3v1.0h-1.3zM84.9 49.9h1.3v1.0h-1.3zM91.4 49.9h1.3v1.0h-1.3zM106.9 49.9h1.3v1.0h-1.3zM114.7 49.9h2.6v1.0h-2.6zM121.2 49.9h1.3v1.0h-1.3zM125.1 49.9h1.3v1.0h-1.3zM132.9 49.9h1.3v1.0h-1.3zM132.9 50.9h1.3v1.0h-1.3zM144.6 50.9h1.3v1.0h-1.3zM149.8 51.8h1.3v1.0h-1.3zM199.1 51.8h1.3v1.0h-1.3zM201.7 51.8h1.3v1.0h-1.3zM181.0 52.8h1.3v1.0h-1.3zM199.1 52.8h1.3v1.0h-1.3zM148.5 53.8h1.3v1.0h-1.3zM153.7 53.8h1.3v1.0h-1.3zM164.1 53.8h1.3v1.0h-1.3zM175.8 53.8h1.3v1.0h-1.3zM179.7 53.8h1.3v1.0h-1.3zM182.3 53.8h2.6v1.0h-2.6zM214.7 53.8h1.3v1.0h-1.3zM130.3 55.8h1.3v1.0h-1.3zM139.4 55.8h1.3v1.0h-1.3zM148.5 55.8h1.3v1.0h-1.3zM160.2 55.8h1.3v1.0h-1.3zM164.1 55.8h1.3v1.0h-1.3zM181.0 55.8h1.3v1.0h-1.3zM184.9 55.8h2.6v1.0h-2.6zM188.7 55.8h1.3v1.0h-1.3zM192.6 55.8h1.3v1.0h-1.3zM201.7 55.8h1.3v1.0h-1.3zM204.3 55.8h1.3v1.0h-1.3zM209.5 55.8h1.3v1.0h-1.3zM130.3 56.8h1.3v1.0h-1.3zM132.9 56.8h1.3v1.0h-1.3zM142.0 56.8h1.3v1.0h-1.3zM144.6 56.8h1.3v1.0h-1.3zM155.0 56.8h1.3v1.0h-1.3zM165.4 56.8h1.3v1.0h-1.3zM173.2 56.8h1.3v1.0h-1.3zM187.4 56.8h1.3v1.0h-1.3zM190.0 56.8h1.3v1.0h-1.3zM196.5 56.8h1.3v1.0h-1.3zM199.1 56.8h1.3v1.0h-1.3zM217.3 56.8h1.3v1.0h-1.3zM223.8 56.8h2.6v1.0h-2.6zM139.4 57.8h1.3v1.0h-1.3zM149.8 57.8h2.6v1.0h-2.6zM156.3 57.8h1.3v1.0h-1.3zM173.2 57.8h1.3v1.0h-1.3zM179.7 57.8h1.3v1.0h-1.3zM195.2 57.8h1.3v1.0h-1.3zM199.1 57.8h1.3v1.0h-1.3zM205.6 57.8h1.3v1.0h-1.3zM216.0 57.8h1.3v1.0h-1.3zM221.2 57.8h1.3v1.0h-1.3zM147.2 58.8h1.3v1.0h-1.3zM171.9 58.8h1.3v1.0h-1.3zM182.3 58.8h1.3v1.0h-1.3zM192.6 58.8h1.3v1.0h-1.3zM227.7 58.8h1.3v1.0h-1.3zM136.8 59.8h1.3v1.0h-1.3zM139.4 59.8h1.3v1.0h-1.3zM147.2 59.8h1.3v1.0h-1.3zM169.3 59.8h1.3v1.0h-1.3zM171.9 59.8h2.6v1.0h-2.6zM177.1 59.8h1.3v1.0h-1.3zM183.6 59.8h1.3v1.0h-1.3zM188.7 59.8h2.6v1.0h-2.6zM195.2 59.8h1.3v1.0h-1.3zM200.4 59.8h1.3v1.0h-1.3zM204.3 59.8h1.3v1.0h-1.3zM208.2 59.8h2.6v1.0h-2.6zM213.4 59.8h1.3v1.0h-1.3zM216.0 59.8h1.3v1.0h-1.3zM227.7 59.8h1.3v1.0h-1.3zM177.1 60.8h1.3v1.0h-1.3zM165.4 61.8h1.3v1.0h-1.3zM129.0 62.7h1.3v1.0h-1.3zM134.2 62.7h1.3v1.0h-1.3zM136.8 62.7h2.6v1.0h-2.6zM142.0 62.7h1.3v1.0h-1.3zM144.6 62.7h1.3v1.0h-1.3zM148.5 62.7h1.3v1.0h-1.3zM156.3 62.7h1.3v1.0h-1.3zM158.9 62.7h2.6v1.0h-2.6zM164.1 62.7h1.3v1.0h-1.3zM181.0 62.7h1.3v1.0h-1.3zM193.9 62.7h1.3v1.0h-1.3zM196.5 62.7h1.3v1.0h-1.3zM205.6 62.7h2.6v1.0h-2.6zM214.7 62.7h1.3v1.0h-1.3zM221.2 62.7h1.3v1.0h-1.3zM131.6 63.7h1.3v1.0h-1.3zM145.9 63.7h1.3v1.0h-1.3zM149.8 63.7h1.3v1.0h-1.3zM164.1 63.7h1.3v1.0h-1.3zM168.0 63.7h2.6v1.0h-2.6zM184.9 63.7h1.3v1.0h-1.3zM197.8 63.7h1.3v1.0h-1.3zM209.5 63.7h1.3v1.0h-1.3zM218.6 63.7h1.3v1.0h-1.3zM221.2 63.7h1.3v1.0h-1.3zM131.6 64.7h1.3v1.0h-1.3zM142.0 64.7h1.3v1.0h-1.3zM144.6 64.7h1.3v1.0h-1.3zM151.1 64.7h1.3v1.0h-1.3zM153.7 64.7h1.3v1.0h-1.3zM168.0 64.7h1.3v1.0h-1.3zM170.6 64.7h1.3v1.0h-1.3zM178.4 64.7h1.3v1.0h-1.3zM181.0 64.7h1.3v1.0h-1.3zM186.2 64.7h1.3v1.0h-1.3zM193.9 64.7h2.6v1.0h-2.6zM197.8 64.7h1.3v1.0h-1.3zM206.9 64.7h1.3v1.0h-1.3zM213.4 64.7h1.3v1.0h-1.3zM216.0 64.7h1.3v1.0h-1.3zM222.5 64.7h1.3v1.0h-1.3zM227.7 64.7h1.3v1.0h-1.3zM129.0 65.7h3.9v1.0h-3.9zM135.5 65.7h1.3v1.0h-1.3zM142.0 65.7h1.3v1.0h-1.3zM153.7 65.7h1.3v1.0h-1.3zM157.6 65.7h1.3v1.0h-1.3zM173.2 65.7h1.3v1.0h-1.3zM178.4 65.7h1.3v1.0h-1.3zM181.0 65.7h2.6v1.0h-2.6zM184.9 65.7h1.3v1.0h-1.3zM190.0 65.7h1.3v1.0h-1.3zM192.6 65.7h1.3v1.0h-1.3zM200.4 65.7h2.6v1.0h-2.6zM209.5 65.7h1.3v1.0h-1.3zM219.9 65.7h1.3v1.0h-1.3zM222.5 65.7h1.3v1.0h-1.3zM225.1 65.7h2.6v1.0h-2.6zM129.0 66.7h1.3v1.0h-1.3zM147.2 66.7h1.3v1.0h-1.3zM157.6 66.7h1.3v1.0h-1.3zM165.4 66.7h1.3v1.0h-1.3zM182.3 66.7h1.3v1.0h-1.3zM190.0 66.7h1.3v1.0h-1.3zM197.8 66.7h2.6v1.0h-2.6zM222.5 66.7h2.6v1.0h-2.6zM129.0 67.7h2.6v1.0h-2.6zM134.2 67.7h1.3v1.0h-1.3zM136.8 67.7h1.3v1.0h-1.3zM139.4 67.7h2.6v1.0h-2.6zM149.8 67.7h1.3v1.0h-1.3zM186.2 67.7h2.6v1.0h-2.6zM191.3 67.7h1.3v1.0h-1.3zM193.9 67.7h1.3v1.0h-1.3zM203.0 67.7h1.3v1.0h-1.3zM216.0 67.7h1.3v1.0h-1.3zM129.0 68.7h1.3v1.0h-1.3zM132.9 68.7h2.6v1.0h-2.6zM142.0 68.7h1.3v1.0h-1.3zM149.8 68.7h2.6v1.0h-2.6zM162.8 68.7h1.3v1.0h-1.3zM166.7 68.7h1.3v1.0h-1.3zM191.3 68.7h1.3v1.0h-1.3zM196.5 68.7h1.3v1.0h-1.3zM209.5 68.7h3.9v1.0h-3.9zM226.4 68.7h1.3v1.0h-1.3zM135.5 69.7h1.3v1.0h-1.3zM175.8 69.7h1.3v1.0h-1.3zM195.2 69.7h1.3v1.0h-1.3zM209.5 69.7h1.3v1.0h-1.3zM140.7 70.7h2.6v1.0h-2.6zM145.9 70.7h1.3v1.0h-1.3zM155.0 70.7h3.9v1.0h-3.9zM162.8 70.7h1.3v1.0h-1.3zM173.2 70.7h1.3v1.0h-1.3zM175.8 70.7h1.3v1.0h-1.3zM181.0 70.7h1.3v1.0h-1.3zM183.6 70.7h1.3v1.0h-1.3zM193.9 70.7h1.3v1.0h-1.3zM196.5 70.7h1.3v1.0h-1.3zM201.7 70.7h2.6v1.0h-2.6zM208.2 70.7h1.3v1.0h-1.3zM210.8 70.7h1.3v1.0h-1.3zM214.7 70.7h2.6v1.0h-2.6zM223.8 70.7h1.3v1.0h-1.3zM227.7 70.7h1.3v1.0h-1.3zM130.3 71.7h3.9v1.0h-3.9zM135.5 71.7h1.3v1.0h-1.3zM139.4 71.7h1.3v1.0h-1.3zM149.8 71.7h2.6v1.0h-2.6zM158.9 71.7h1.3v1.0h-1.3zM165.4 71.7h1.3v1.0h-1.3zM168.0 71.7h1.3v1.0h-1.3zM170.6 71.7h1.3v1.0h-1.3zM173.2 71.7h1.3v1.0h-1.3zM175.8 71.7h1.3v1.0h-1.3zM186.2 71.7h1.3v1.0h-1.3zM199.1 71.7h1.3v1.0h-1.3zM204.3 71.7h1.3v1.0h-1.3zM209.5 71.7h1.3v1.0h-1.3zM218.6 71.7h2.6v1.0h-2.6zM223.8 71.7h1.3v1.0h-1.3zM130.3 72.6h1.3v1.0h-1.3zM136.8 72.6h1.3v1.0h-1.3zM139.4 72.6h1.3v1.0h-1.3zM148.5 72.6h1.3v1.0h-1.3zM151.1 72.6h1.3v1.0h-1.3zM153.7 72.6h1.3v1.0h-1.3zM156.3 72.6h2.6v1.0h-2.6zM162.8 72.6h1.3v1.0h-1.3zM170.6 72.6h6.5v1.0h-6.5zM183.6 72.6h1.3v1.0h-1.3zM186.2 72.6h2.6v1.0h-2.6zM197.8 72.6h1.3v1.0h-1.3zM208.2 72.6h1.3v1.0h-1.3zM213.4 72.6h1.3v1.0h-1.3zM218.6 72.6h1.3v1.0h-1.3zM223.8 72.6h1.3v1.0h-1.3zM226.4 72.6h1.3v1.0h-1.3zM105.6 73.6h1.3v1.0h-1.3zM123.8 73.6h1.3v1.0h-1.3zM130.3 73.6h1.3v1.0h-1.3zM144.6 73.6h1.3v1.0h-1.3zM160.2 73.6h1.3v1.0h-1.3zM171.9 73.6h1.3v1.0h-1.3zM174.5 73.6h2.6v1.0h-2.6zM179.7 73.6h1.3v1.0h-1.3zM182.3 73.6h1.3v1.0h-1.3zM184.9 73.6h1.3v1.0h-1.3zM188.7 73.6h1.3v1.0h-1.3zM196.5 73.6h2.6v1.0h-2.6zM204.3 73.6h1.3v1.0h-1.3zM208.2 73.6h1.3v1.0h-1.3zM213.4 73.6h1.3v1.0h-1.3zM131.6 74.6h3.9v1.0h-3.9zM145.9 74.6h3.9v1.0h-3.9zM153.7 74.6h1.3v1.0h-1.3zM157.6 74.6h1.3v1.0h-1.3zM160.2 74.6h2.6v1.0h-2.6zM165.4 74.6h2.6v1.0h-2.6zM178.4 74.6h2.6v1.0h-2.6zM187.4 74.6h1.3v1.0h-1.3zM197.8 74.6h3.9v1.0h-3.9zM204.3 74.6h1.3v1.0h-1.3zM222.5 74.6h1.3v1.0h-1.3zM130.3 75.6h1.3v1.0h-1.3zM139.4 75.6h2.6v1.0h-2.6zM143.3 75.6h1.3v1.0h-1.3zM145.9 75.6h1.3v1.0h-1.3zM148.5 75.6h1.3v1.0h-1.3zM153.7 75.6h1.3v1.0h-1.3zM169.3 75.6h1.3v1.0h-1.3zM182.3 75.6h2.6v1.0h-2.6zM191.3 75.6h1.3v1.0h-1.3zM193.9 75.6h3.9v1.0h-3.9zM204.3 75.6h2.6v1.0h-2.6zM209.5 75.6h1.3v1.0h-1.3zM212.1 75.6h2.6v1.0h-2.6zM218.6 75.6h1.3v1.0h-1.3zM225.1 75.6h1.3v1.0h-1.3zM227.7 75.6h1.3v1.0h-1.3z"/>
<path fill="#f8f6f6" d="M65.4 37.0h1.3v1.0h-1.3zM73.2 37.0h1.3v1.0h-1.3zM90.1 37.0h1.3v1.0h-1.3zM97.9 37.0h1.3v1.0h-1.3zM101.8 37.0h1.3v1.0h-1.3zM105.6 37.0h1.3v1.0h-1.3zM110.8 37.0h1.3v1.0h-1.3zM122.5 37.0h1.3v1.0h-1.3zM135.5 37.0h1.3v1.0h-1.3zM144.6 37.0h2.6v1.0h-2.6zM153.7 37.0h1.3v1.0h-1.3zM158.9 37.0h1.3v1.0h-1.3zM161.5 37.0h1.3v1.0h-1.3zM164.1 37.0h1.3v1.0h-1.3zM170.6 37.0h1.3v1.0h-1.3zM181.0 37.0h1.3v1.0h-1.3zM183.6 37.0h5.2v1.0h-5.2zM195.2 37.0h1.3v1.0h-1.3zM199.1 37.0h1.3v1.0h-1.3zM201.7 37.0h1.3v1.0h-1.3zM213.4 37.0h1.3v1.0h-1.3zM225.1 37.0h1.3v1.0h-1.3zM62.8 38.0h1.3v1.0h-1.3zM66.7 38.0h1.3v1.0h-1.3zM69.3 38.0h2.6v1.0h-2.6zM73.2 38.0h1.3v1.0h-1.3zM75.8 38.0h1.3v1.0h-1.3zM78.4 38.0h1.3v1.0h-1.3zM82.3 38.0h1.3v1.0h-1.3zM90.1 38.0h1.3v1.0h-1.3zM92.7 38.0h1.3v1.0h-1.3zM99.2 38.0h1.3v1.0h-1.3zM103.0 38.0h3.9v1.0h-3.9zM125.1 38.0h1.3v1.0h-1.3zM179.7 38.0h1.3v1.0h-1.3zM214.7 38.0h1.3v1.0h-1.3zM65.4 39.0h1.3v1.0h-1.3zM81.0 39.0h1.3v1.0h-1.3zM91.4 39.0h1.3v1.0h-1.3zM96.6 39.0h1.3v1.0h-1.3zM104.3 39.0h1.3v1.0h-1.3zM78.4 40.0h1.3v1.0h-1.3zM91.4 40.0h1.3v1.0h-1.3zM100.5 40.0h1.3v1.0h-1.3zM108.2 40.0h1.3v1.0h-1.3zM171.9 40.0h1.3v1.0h-1.3zM210.8 40.0h1.3v1.0h-1.3zM62.8 41.0h1.3v1.0h-1.3zM71.9 41.0h1.3v1.0h-1.3zM81.0 41.0h1.3v1.0h-1.3zM83.6 41.0h1.3v1.0h-1.3zM87.5 41.0h2.6v1.0h-2.6zM97.9 41.0h1.3v1.0h-1.3zM105.6 41.0h1.3v1.0h-1.3zM108.2 41.0h1.3v1.0h-1.3zM117.3 41.0h1.3v1.0h-1.3zM122.5 41.0h1.3v1.0h-1.3zM132.9 41.0h1.3v1.0h-1.3zM136.8 41.0h1.3v1.0h-1.3zM144.6 41.0h2.6v1.0h-2.6zM149.8 41.0h2.6v1.0h-2.6zM153.7 41.0h3.9v1.0h-3.9zM169.3 41.0h1.3v1.0h-1.3zM179.7 41.0h3.9v1.0h-3.9zM191.3 41.0h1.3v1.0h-1.3zM199.1 41.0h2.6v1.0h-2.6zM213.4 41.0h1.3v1.0h-1.3zM222.5 41.0h3.9v1.0h-3.9zM73.2 42.0h2.6v1.0h-2.6zM84.9 42.0h1.3v1.0h-1.3zM94.0 42.0h1.3v1.0h-1.3zM100.5 42.0h1.3v1.0h-1.3zM103.0 42.0h2.6v1.0h-2.6zM108.2 42.0h1.3v1.0h-1.3zM110.8 42.0h1.3v1.0h-1.3zM117.3 42.0h3.9v1.0h-3.9zM123.8 42.0h1.3v1.0h-1.3zM126.4 42.0h1.3v1.0h-1.3zM131.6 42.0h1.3v1.0h-1.3zM135.5 42.0h1.3v1.0h-1.3zM140.7 42.0h1.3v1.0h-1.3zM164.1 42.0h1.3v1.0h-1.3zM203.0 42.0h1.3v1.0h-1.3zM221.2 42.0h1.3v1.0h-1.3zM129.0 42.9h1.3v1.0h-1.3zM131.6 42.9h2.6v1.0h-2.6zM138.1 42.9h1.3v1.0h-1.3zM144.6 42.9h1.3v1.0h-1.3zM151.1 42.9h1.3v1.0h-1.3zM155.0 42.9h7.8v1.0h-7.8zM166.7 42.9h3.9v1.0h-3.9zM174.5 42.9h2.6v1.0h-2.6zM186.2 42.9h1.3v1.0h-1.3zM192.6 42.9h1.3v1.0h-1.3zM195.2 42.9h1.3v1.0h-1.3zM199.1 42.9h1.3v1.0h-1.3zM201.7 42.9h2.6v1.0h-2.6zM209.5 42.9h1.3v1.0h-1.3zM217.3 42.9h5.2v1.0h-5.2zM225.1 42.9h1.3v1.0h-1.3zM227.7 42.9h1.3v1.0h-1.3zM104.3 43.9h1.3v1.0h-1.3zM130.3 43.9h1.3v1.0h-1.3zM132.9 43.9h1.3v1.0h-1.3zM143.3 43.9h1.3v1.0h-1.3zM155.0 43.9h1.3v1.0h-1.3zM169.3 43.9h1.3v1.0h-1.3zM184.9 43.9h1.3v1.0h-1.3zM193.9 43.9h1.3v1.0h-1.3zM196.5 43.9h1.3v1.0h-1.3zM209.5 43.9h1.3v1.0h-1.3zM84.9 44.9h1.3v1.0h-1.3zM155.0 44.9h1.3v1.0h-1.3zM183.6 44.9h2.6v1.0h-2.6zM199.1 44.9h1.3v1.0h-1.3zM155.0 45.9h1.3v1.0h-1.3zM179.7 45.9h1.3v1.0h-1.3zM195.2 45.9h1.3v1.0h-1.3zM123.8 46.9h1.3v1.0h-1.3zM134.2 46.9h2.6v1.0h-2.6zM140.7 46.9h1.3v1.0h-1.3zM144.6 46.9h2.6v1.0h-2.6zM149.8 46.9h1.3v1.0h-1.3zM152.4 46.9h1.3v1.0h-1.3zM156.3 46.9h2.6v1.0h-2.6zM164.1 46.9h1.3v1.0h-1.3zM177.1 46.9h1.3v1.0h-1.3zM179.7 46.9h1.3v1.0h-1.3zM183.6 46.9h5.2v1.0h-5.2zM195.2 46.9h1.3v1.0h-1.3zM204.3 46.9h3.9v1.0h-3.9zM209.5 46.9h1.3v1.0h-1.3zM223.8 46.9h1.3v1.0h-1.3zM131.6 47.9h2.6v1.0h-2.6zM135.5 47.9h1.3v1.0h-1.3zM145.9 47.9h1.3v1.0h-1.3zM148.5 47.9h1.3v1.0h-1.3zM160.2 47.9h1.3v1.0h-1.3zM168.0 47.9h1.3v1.0h-1.3zM175.8 47.9h1.3v1.0h-1.3zM196.5 47.9h1.3v1.0h-1.3zM131.6 48.9h1.3v1.0h-1.3zM134.2 48.9h1.3v1.0h-1.3zM136.8 48.9h1.3v1.0h-1.3zM139.4 48.9h2.6v1.0h-2.6zM143.3 48.9h1.3v1.0h-1.3zM145.9 48.9h1.3v1.0h-1.3zM149.8 48.9h2.6v1.0h-2.6zM153.7 48.9h2.6v1.0h-2.6zM157.6 48.9h1.3v1.0h-1.3zM162.8 48.9h2.6v1.0h-2.6zM171.9 48.9h2.6v1.0h-2.6zM175.8 48.9h2.6v1.0h-2.6zM182.3 48.9h1.3v1.0h-1.3zM191.3 48.9h1.3v1.0h-1.3zM199.1 48.9h1.3v1.0h-1.3zM204.3 48.9h1.3v1.0h-1.3zM206.9 48.9h1.3v1.0h-1.3zM209.5 48.9h1.3v1.0h-1.3zM216.0 48.9h3.9v1.0h-3.9zM221.2 48.9h2.6v1.0h-2.6zM83.6 49.9h1.3v1.0h-1.3zM101.8 49.9h1.3v1.0h-1.3zM119.9 49.9h1.3v1.0h-1.3zM131.6 49.9h1.3v1.0h-1.3zM136.8 49.9h2.6v1.0h-2.6zM140.7 49.9h3.9v1.0h-3.9zM151.1 49.9h1.3v1.0h-1.3zM157.6 49.9h1.3v1.0h-1.3zM161.5 49.9h1.3v1.0h-1.3zM164.1 49.9h1.3v1.0h-1.3zM170.6 49.9h2.6v1.0h-2.6zM174.5 49.9h1.3v1.0h-1.3zM178.4 49.9h2.6v1.0h-2.6zM187.4 49.9h3.9v1.0h-3.9zM192.6 49.9h1.3v1.0h-1.3zM200.4 49.9h2.6v1.0h-2.6zM204.3 49.9h1.3v1.0h-1.3zM206.9 49.9h5.2v1.0h-5.2zM213.4 49.9h1.3v1.0h-1.3zM216.0 49.9h1.3v1.0h-1.3zM225.1 49.9h2.6v1.0h-2.6zM65.4 50.9h1.3v1.0h-1.3zM71.9 50.9h2.6v1.0h-2.6zM77.1 50.9h1.3v1.0h-1.3zM81.0 50.9h1.3v1.0h-1.3zM83.6 50.9h5.2v1.0h-5.2zM99.2 50.9h3.9v1.0h-3.9zM109.5 50.9h1.3v1.0h-1.3zM112.1 50.9h1.3v1.0h-1.3zM127.7 50.9h3.9v1.0h-3.9zM136.8 50.9h2.6v1.0h-2.6zM142.0 50.9h1.3v1.0h-1.3zM151.1 50.9h1.3v1.0h-1.3zM157.6 50.9h1.3v1.0h-1.3zM160.2 50.9h1.3v1.0h-1.3zM168.0 50.9h2.6v1.0h-2.6zM175.8 50.9h1.3v1.0h-1.3zM182.3 50.9h1.3v1.0h-1.3zM187.4 50.9h1.3v1.0h-1.3zM192.6 50.9h1.3v1.0h-1.3zM195.2 50.9h1.3v1.0h-1.3zM197.8 50.9h1.3v1.0h-1.3zM212.1 50.9h2.6v1.0h-2.6zM216.0 50.9h1.3v1.0h-1.3zM219.9 50.9h2.6v1.0h-2.6zM226.4 50.9h1.3v1.0h-1.3zM60.2 51.8h1.3v1.0h-1.3zM64.1 51.8h2.6v1.0h-2.6zM71.9 51.8h5.2v1.0h-5.2zM81.0 51.8h3.9v1.0h-3.9zM86.2 51.8h2.6v1.0h-2.6zM90.1 51.8h2.6v1.0h-2.6zM95.3 51.8h1.3v1.0h-1.3zM97.9 51.8h1.3v1.0h-1.3zM100.5 51.8h1.3v1.0h-1.3zM103.0 51.8h1.3v1.0h-1.3zM109.5 51.8h1.3v1.0h-1.3zM112.1 51.8h3.9v1.0h-3.9zM118.6 51.8h2.6v1.0h-2.6zM122.5 51.8h2.6v1.0h-2.6zM127.7 51.8h1.3v1.0h-1.3zM140.7 51.8h1.3v1.0h-1.3zM143.3 51.8h1.3v1.0h-1.3zM148.5 51.8h1.3v1.0h-1.3zM162.8 51.8h1.3v1.0h-1.3zM175.8 51.8h2.6v1.0h-2.6zM179.7 51.8h1.3v1.0h-1.3zM182.3 51.8h1.3v1.0h-1.3zM186.2 51.8h1.3v1.0h-1.3zM191.3 51.8h2.6v1.0h-2.6zM195.2 51.8h1.3v1.0h-1.3zM197.8 51.8h1.3v1.0h-1.3zM200.4 51.8h1.3v1.0h-1.3zM212.1 51.8h2.6v1.0h-2.6zM216.0 51.8h2.6v1.0h-2.6zM221.2 51.8h2.6v1.0h-2.6zM226.4 51.8h2.6v1.0h-2.6zM134.2 52.8h1.3v1.0h-1.3zM140.7 52.8h2.6v1.0h-2.6zM144.6 52.8h1.3v1.0h-1.3zM147.2 52.8h1.3v1.0h-1.3zM152.4 52.8h2.6v1.0h-2.6zM158.9 52.8h1.3v1.0h-1.3zM166.7 52.8h3.9v1.0h-3.9zM171.9 52.8h1.3v1.0h-1.3zM177.1 52.8h1.3v1.0h-1.3zM182.3 52.8h1.3v1.0h-1.3zM187.4 52.8h1.3v1.0h-1.3zM190.0 52.8h1.3v1.0h-1.3zM204.3 52.8h1.3v1.0h-1.3zM209.5 52.8h2.6v1.0h-2.6zM213.4 52.8h3.9v1.0h-3.9zM219.9 52.8h1.3v1.0h-1.3zM223.8 52.8h2.6v1.0h-2.6zM91.4 53.8h1.3v1.0h-1.3zM105.6 53.8h1.3v1.0h-1.3zM113.4 53.8h1.3v1.0h-1.3zM127.7 53.8h2.6v1.0h-2.6zM131.6 53.8h1.3v1.0h-1.3zM138.1 53.8h1.3v1.0h-1.3zM147.2 53.8h1.3v1.0h-1.3zM149.8 53.8h1.3v1.0h-1.3zM158.9 53.8h1.3v1.0h-1.3zM162.8 53.8h1.3v1.0h-1.3zM165.4 53.8h1.3v1.0h-1.3zM169.3 53.8h1.3v1.0h-1.3zM174.5 53.8h1.3v1.0h-1.3zM184.9 53.8h1.3v1.0h-1.3zM191.3 53.8h3.9v1.0h-3.9zM196.5 53.8h2.6v1.0h-2.6zM201.7 53.8h1.3v1.0h-1.3zM205.6 53.8h2.6v1.0h-2.6zM209.5 53.8h2.6v1.0h-2.6zM213.4 53.8h1.3v1.0h-1.3zM217.3 53.8h1.3v1.0h-1.3zM226.4 53.8h2.6v1.0h-2.6zM140.7 54.8h1.3v1.0h-1.3zM158.9 54.8h1.3v1.0h-1.3zM161.5 54.8h1.3v1.0h-1.3zM164.1 54.8h1.3v1.0h-1.3zM177.1 54.8h1.3v1.0h-1.3zM188.7 54.8h1.3v1.0h-1.3zM195.2 54.8h1.3v1.0h-1.3zM213.4 54.8h1.3v1.0h-1.3zM219.9 54.8h1.3v1.0h-1.3zM61.5 55.8h1.3v1.0h-1.3zM71.9 55.8h1.3v1.0h-1.3zM92.7 55.8h1.3v1.0h-1.3zM113.4 55.8h2.6v1.0h-2.6zM121.2 55.8h1.3v1.0h-1.3zM135.5 55.8h1.3v1.0h-1.3zM142.0 55.8h1.3v1.0h-1.3zM145.9 55.8h1.3v1.0h-1.3zM156.3 55.8h1.3v1.0h-1.3zM158.9 55.8h1.3v1.0h-1.3zM162.8 55.8h1.3v1.0h-1.3zM168.0 55.8h1.3v1.0h-1.3zM173.2 55.8h3.9v1.0h-3.9zM218.6 55.8h1.3v1.0h-1.3zM222.5 55.8h1.3v1.0h-1.3zM226.4 55.8h1.3v1.0h-1.3zM68.0 56.8h1.3v1.0h-1.3zM73.2 56.8h1.3v1.0h-1.3zM92.7 56.8h1.3v1.0h-1.3zM125.1 56.8h1.3v1.0h-1.3zM127.7 56.8h1.3v1.0h-1.3zM151.1 56.8h1.3v1.0h-1.3zM203.0 56.8h1.3v1.0h-1.3zM221.2 56.8h1.3v1.0h-1.3zM227.7 56.8h1.3v1.0h-1.3zM60.2 57.8h1.3v1.0h-1.3zM87.5 57.8h1.3v1.0h-1.3zM94.0 57.8h1.3v1.0h-1.3zM105.6 57.8h1.3v1.0h-1.3zM112.1 57.8h1.3v1.0h-1.3zM136.8 57.8h1.3v1.0h-1.3zM157.6 57.8h1.3v1.0h-1.3zM171.9 57.8h1.3v1.0h-1.3zM200.4 57.8h1.3v1.0h-1.3zM219.9 57.8h1.3v1.0h-1.3zM227.7 57.8h1.3v1.0h-1.3zM60.2 58.8h2.6v1.0h-2.6zM71.9 58.8h2.6v1.0h-2.6zM84.9 58.8h1.3v1.0h-1.3zM91.4 58.8h1.3v1.0h-1.3zM99.2 58.8h1.3v1.0h-1.3zM105.6 58.8h2.6v1.0h-2.6zM110.8 58.8h1.3v1.0h-1.3zM123.8 58.8h1.3v1.0h-1.3zM66.7 59.8h2.6v1.0h-2.6zM101.8 59.8h1.3v1.0h-1.3zM121.2 59.8h1.3v1.0h-1.3zM166.7 59.8h1.3v1.0h-1.3zM222.5 59.8h1.3v1.0h-1.3zM60.2 60.8h2.6v1.0h-2.6zM64.1 60.8h1.3v1.0h-1.3zM68.0 60.8h1.3v1.0h-1.3zM71.9 60.8h1.3v1.0h-1.3zM74.5 60.8h1.3v1.0h-1.3zM86.2 60.8h1.3v1.0h-1.3zM94.0 60.8h1.3v1.0h-1.3zM68.0 61.8h1.3v1.0h-1.3zM88.8 61.8h1.3v1.0h-1.3zM92.7 61.8h1.3v1.0h-1.3zM105.6 61.8h1.3v1.0h-1.3zM109.5 61.8h1.3v1.0h-1.3zM113.4 61.8h1.3v1.0h-1.3zM121.2 61.8h1.3v1.0h-1.3zM68.0 62.7h1.3v1.0h-1.3zM94.0 62.7h1.3v1.0h-1.3zM103.0 62.7h1.3v1.0h-1.3zM117.3 62.7h1.3v1.0h-1.3zM162.8 62.7h1.3v1.0h-1.3zM61.5 63.7h2.6v1.0h-2.6zM110.8 63.7h1.3v1.0h-1.3zM113.4 63.7h1.3v1.0h-1.3zM130.3 63.7h1.3v1.0h-1.3zM134.2 63.7h1.3v1.0h-1.3zM139.4 63.7h1.3v1.0h-1.3zM144.6 63.7h1.3v1.0h-1.3zM147.2 63.7h1.3v1.0h-1.3zM151.1 63.7h1.3v1.0h-1.3zM155.0 63.7h2.6v1.0h-2.6zM178.4 63.7h1.3v1.0h-1.3zM187.4 63.7h1.3v1.0h-1.3zM191.3 63.7h1.3v1.0h-1.3zM195.2 63.7h1.3v1.0h-1.3zM206.9 63.7h1.3v1.0h-1.3zM210.8 63.7h1.3v1.0h-1.3zM219.9 63.7h1.3v1.0h-1.3zM64.1 64.7h1.3v1.0h-1.3zM70.6 64.7h2.6v1.0h-2.6zM118.6 64.7h1.3v1.0h-1.3zM70.6 65.7h1.3v1.0h-1.3zM79.7 65.7h1.3v1.0h-1.3zM88.8 65.7h1.3v1.0h-1.3zM94.0 65.7h1.3v1.0h-1.3zM99.2 65.7h1.3v1.0h-1.3zM110.8 65.7h1.3v1.0h-1.3zM113.4 65.7h1.3v1.0h-1.3zM116.0 65.7h1.3v1.0h-1.3zM158.9 65.7h1.3v1.0h-1.3zM171.9 65.7h1.3v1.0h-1.3zM186.2 65.7h2.6v1.0h-2.6zM60.2 66.7h1.3v1.0h-1.3zM92.7 66.7h1.3v1.0h-1.3zM110.8 66.7h1.3v1.0h-1.3zM125.1 66.7h1.3v1.0h-1.3zM121.2 67.7h1.3v1.0h-1.3zM144.6 67.7h1.3v1.0h-1.3zM65.4 68.7h1.3v1.0h-1.3zM68.0 68.7h1.3v1.0h-1.3zM94.0 68.7h2.6v1.0h-2.6zM127.7 69.7h1.3v1.0h-1.3zM136.8 69.7h3.9v1.0h-3.9zM149.8 69.7h2.6v1.0h-2.6zM155.0 69.7h1.3v1.0h-1.3zM161.5 69.7h1.3v1.0h-1.3zM171.9 69.7h1.3v1.0h-1.3zM187.4 69.7h2.6v1.0h-2.6zM191.3 69.7h2.6v1.0h-2.6zM196.5 69.7h2.6v1.0h-2.6zM204.3 69.7h1.3v1.0h-1.3zM208.2 69.7h1.3v1.0h-1.3zM216.0 69.7h1.3v1.0h-1.3zM219.9 69.7h1.3v1.0h-1.3zM222.5 69.7h1.3v1.0h-1.3zM225.1 69.7h1.3v1.0h-1.3zM60.2 70.7h2.6v1.0h-2.6zM71.9 70.7h2.6v1.0h-2.6zM92.7 70.7h2.6v1.0h-2.6zM103.0 70.7h1.3v1.0h-1.3zM106.9 70.7h1.3v1.0h-1.3zM109.5 70.7h1.3v1.0h-1.3zM121.2 70.7h1.3v1.0h-1.3zM134.2 70.7h1.3v1.0h-1.3zM161.5 70.7h1.3v1.0h-1.3zM166.7 70.7h1.3v1.0h-1.3zM169.3 70.7h1.3v1.0h-1.3zM178.4 70.7h1.3v1.0h-1.3zM200.4 70.7h1.3v1.0h-1.3zM213.4 70.7h1.3v1.0h-1.3zM219.9 70.7h1.3v1.0h-1.3zM60.2 71.7h1.3v1.0h-1.3zM64.1 71.7h2.6v1.0h-2.6zM74.5 71.7h2.6v1.0h-2.6zM83.6 71.7h3.9v1.0h-3.9zM92.7 71.7h1.3v1.0h-1.3zM95.3 71.7h1.3v1.0h-1.3zM97.9 71.7h1.3v1.0h-1.3zM106.9 71.7h1.3v1.0h-1.3zM110.8 71.7h1.3v1.0h-1.3zM134.2 71.7h1.3v1.0h-1.3zM140.7 71.7h1.3v1.0h-1.3zM157.6 71.7h1.3v1.0h-1.3zM182.3 71.7h1.3v1.0h-1.3zM193.9 71.7h1.3v1.0h-1.3zM214.7 71.7h1.3v1.0h-1.3zM221.2 71.7h1.3v1.0h-1.3zM227.7 71.7h1.3v1.0h-1.3zM62.8 72.6h3.9v1.0h-3.9zM68.0 72.6h1.3v1.0h-1.3zM74.5 72.6h2.6v1.0h-2.6zM79.7 72.6h1.3v1.0h-1.3zM87.5 72.6h1.3v1.0h-1.3zM92.7 72.6h1.3v1.0h-1.3zM95.3 72.6h1.3v1.0h-1.3zM101.8 72.6h2.6v1.0h-2.6zM105.6 72.6h1.3v1.0h-1.3zM109.5 72.6h5.2v1.0h-5.2zM121.2 72.6h1.3v1.0h-1.3zM127.7 72.6h1.3v1.0h-1.3zM132.9 72.6h1.3v1.0h-1.3zM142.0 72.6h1.3v1.0h-1.3zM152.4 72.6h1.3v1.0h-1.3zM166.7 72.6h1.3v1.0h-1.3zM188.7 72.6h2.6v1.0h-2.6zM60.2 73.6h1.3v1.0h-1.3zM62.8 73.6h2.6v1.0h-2.6zM69.3 73.6h1.3v1.0h-1.3zM74.5 73.6h2.6v1.0h-2.6zM79.7 73.6h2.6v1.0h-2.6zM86.2 73.6h2.6v1.0h-2.6zM90.1 73.6h2.6v1.0h-2.6zM94.0 73.6h1.3v1.0h-1.3zM99.2 73.6h1.3v1.0h-1.3zM104.3 73.6h1.3v1.0h-1.3zM106.9 73.6h1.3v1.0h-1.3zM113.4 73.6h1.3v1.0h-1.3zM116.0 73.6h2.6v1.0h-2.6zM125.1 73.6h2.6v1.0h-2.6zM158.9 73.6h1.3v1.0h-1.3zM169.3 73.6h1.3v1.0h-1.3zM173.2 73.6h1.3v1.0h-1.3zM177.1 73.6h1.3v1.0h-1.3zM216.0 73.6h2.6v1.0h-2.6zM219.9 73.6h1.3v1.0h-1.3zM227.7 73.6h1.3v1.0h-1.3zM71.9 74.6h1.3v1.0h-1.3zM74.5 74.6h1.3v1.0h-1.3zM91.4 74.6h1.3v1.0h-1.3zM96.6 74.6h1.3v1.0h-1.3zM105.6 74.6h2.6v1.0h-2.6zM113.4 74.6h1.3v1.0h-1.3zM123.8 74.6h2.6v1.0h-2.6zM127.7 74.6h1.3v1.0h-1.3zM60.2 75.6h1.3v1.0h-1.3zM65.4 75.6h6.5v1.0h-6.5zM79.7 75.6h1.3v1.0h-1.3zM83.6 75.6h1.3v1.0h-1.3zM87.5 75.6h6.5v1.0h-6.5zM106.9 75.6h2.6v1.0h-2.6zM112.1 75.6h1.3v1.0h-1.3zM118.6 75.6h1.3v1.0h-1.3zM123.8 75.6h1.3v1.0h-1.3zM126.4 75.6h2.6v1.0h-2.6zM134.2 75.6h1.3v1.0h-1.3zM136.8 75.6h2.6v1.0h-2.6zM155.0 75.6h1.3v1.0h-1.3zM221.2 75.6h1.3v1.0h-1.3z"/>
<path fill="#db6667" d="M127.7 37.0h1.3v1.0h-1.3zM68.0 42.9h1.3v1.0h-1.3zM86.2 42.9h3.9v1.0h-3.9zM118.6 42.9h1.3v1.0h-1.3zM64.1 44.9h1.3v1.0h-1.3zM79.7 44.9h1.3v1.0h-1.3zM116.0 44.9h1.3v1.0h-1.3zM119.9 44.9h1.3v1.0h-1.3zM61.5 45.9h1.3v1.0h-1.3zM65.4 45.9h1.3v1.0h-1.3zM73.2 45.9h1.3v1.0h-1.3zM81.0 45.9h2.6v1.0h-2.6zM86.2 45.9h1.3v1.0h-1.3zM88.8 45.9h1.3v1.0h-1.3zM100.5 45.9h1.3v1.0h-1.3zM103.0 45.9h1.3v1.0h-1.3zM105.6 45.9h2.6v1.0h-2.6zM109.5 45.9h1.3v1.0h-1.3zM112.1 45.9h1.3v1.0h-1.3zM123.8 45.9h2.6v1.0h-2.6zM61.5 46.9h1.3v1.0h-1.3zM88.8 46.9h1.3v1.0h-1.3zM105.6 46.9h1.3v1.0h-1.3zM119.9 46.9h1.3v1.0h-1.3zM68.0 47.9h2.6v1.0h-2.6zM90.1 47.9h2.6v1.0h-2.6zM119.9 47.9h1.3v1.0h-1.3zM61.5 48.9h1.3v1.0h-1.3zM65.4 48.9h1.3v1.0h-1.3zM71.9 48.9h2.6v1.0h-2.6zM81.0 48.9h1.3v1.0h-1.3zM91.4 48.9h1.3v1.0h-1.3zM94.0 48.9h1.3v1.0h-1.3zM96.6 48.9h1.3v1.0h-1.3zM100.5 48.9h1.3v1.0h-1.3zM106.9 48.9h1.3v1.0h-1.3zM110.8 48.9h1.3v1.0h-1.3zM118.6 48.9h1.3v1.0h-1.3zM122.5 48.9h1.3v1.0h-1.3zM112.1 49.9h1.3v1.0h-1.3zM195.2 56.8h1.3v1.0h-1.3zM131.6 58.8h2.6v1.0h-2.6zM135.5 58.8h1.3v1.0h-1.3zM138.1 58.8h1.3v1.0h-1.3zM144.6 58.8h2.6v1.0h-2.6zM157.6 58.8h1.3v1.0h-1.3zM161.5 58.8h1.3v1.0h-1.3zM164.1 58.8h1.3v1.0h-1.3zM168.0 58.8h1.3v1.0h-1.3zM173.2 58.8h1.3v1.0h-1.3zM175.8 58.8h1.3v1.0h-1.3zM181.0 58.8h1.3v1.0h-1.3zM188.7 58.8h2.6v1.0h-2.6zM196.5 58.8h1.3v1.0h-1.3zM199.1 58.8h1.3v1.0h-1.3zM203.0 58.8h1.3v1.0h-1.3zM205.6 58.8h1.3v1.0h-1.3zM210.8 58.8h2.6v1.0h-2.6zM217.3 58.8h2.6v1.0h-2.6zM222.5 58.8h1.3v1.0h-1.3zM225.1 58.8h2.6v1.0h-2.6zM140.7 59.8h5.2v1.0h-5.2zM155.0 59.8h1.3v1.0h-1.3zM157.6 59.8h1.3v1.0h-1.3zM181.0 59.8h1.3v1.0h-1.3zM201.7 59.8h1.3v1.0h-1.3zM131.6 60.8h1.3v1.0h-1.3zM135.5 60.8h1.3v1.0h-1.3zM142.0 60.8h1.3v1.0h-1.3zM147.2 60.8h1.3v1.0h-1.3zM151.1 60.8h1.3v1.0h-1.3zM153.7 60.8h1.3v1.0h-1.3zM164.1 60.8h1.3v1.0h-1.3zM166.7 60.8h1.3v1.0h-1.3zM171.9 60.8h1.3v1.0h-1.3zM175.8 60.8h1.3v1.0h-1.3zM184.9 60.8h1.3v1.0h-1.3zM187.4 60.8h1.3v1.0h-1.3zM196.5 60.8h2.6v1.0h-2.6zM200.4 60.8h1.3v1.0h-1.3zM203.0 60.8h1.3v1.0h-1.3zM206.9 60.8h1.3v1.0h-1.3zM214.7 60.8h1.3v1.0h-1.3zM219.9 60.8h2.6v1.0h-2.6zM227.7 60.8h1.3v1.0h-1.3zM129.0 61.8h1.3v1.0h-1.3zM144.6 61.8h1.3v1.0h-1.3zM158.9 61.8h1.3v1.0h-1.3zM166.7 61.8h1.3v1.0h-1.3zM177.1 61.8h1.3v1.0h-1.3zM186.2 61.8h1.3v1.0h-1.3zM188.7 61.8h1.3v1.0h-1.3zM191.3 61.8h1.3v1.0h-1.3zM196.5 61.8h2.6v1.0h-2.6zM203.0 61.8h1.3v1.0h-1.3zM205.6 61.8h1.3v1.0h-1.3zM222.5 61.8h1.3v1.0h-1.3zM225.1 61.8h1.3v1.0h-1.3zM227.7 61.8h1.3v1.0h-1.3zM151.1 62.7h1.3v1.0h-1.3zM155.0 62.7h1.3v1.0h-1.3zM174.5 62.7h1.3v1.0h-1.3zM201.7 62.7h1.3v1.0h-1.3zM209.5 62.7h1.3v1.0h-1.3zM223.8 62.7h1.3v1.0h-1.3zM148.5 64.7h1.3v1.0h-1.3zM152.4 64.7h1.3v1.0h-1.3zM155.0 64.7h1.3v1.0h-1.3zM162.8 64.7h1.3v1.0h-1.3zM173.2 64.7h1.3v1.0h-1.3zM183.6 64.7h1.3v1.0h-1.3zM200.4 64.7h1.3v1.0h-1.3zM203.0 64.7h1.3v1.0h-1.3zM209.5 64.7h1.3v1.0h-1.3zM221.2 64.7h1.3v1.0h-1.3zM223.8 64.7h1.3v1.0h-1.3zM164.1 65.7h1.3v1.0h-1.3zM168.0 65.7h1.3v1.0h-1.3zM191.3 65.7h1.3v1.0h-1.3zM218.6 65.7h1.3v1.0h-1.3zM131.6 66.7h1.3v1.0h-1.3zM135.5 66.7h2.6v1.0h-2.6zM143.3 66.7h1.3v1.0h-1.3zM148.5 66.7h2.6v1.0h-2.6zM155.0 66.7h1.3v1.0h-1.3zM171.9 66.7h1.3v1.0h-1.3zM177.1 66.7h1.3v1.0h-1.3zM181.0 66.7h1.3v1.0h-1.3zM187.4 66.7h1.3v1.0h-1.3zM195.2 66.7h1.3v1.0h-1.3zM206.9 66.7h1.3v1.0h-1.3zM212.1 66.7h1.3v1.0h-1.3zM216.0 66.7h1.3v1.0h-1.3zM132.9 67.7h1.3v1.0h-1.3zM142.0 67.7h1.3v1.0h-1.3zM145.9 67.7h1.3v1.0h-1.3zM153.7 67.7h1.3v1.0h-1.3zM161.5 67.7h1.3v1.0h-1.3zM164.1 67.7h1.3v1.0h-1.3zM168.0 67.7h1.3v1.0h-1.3zM188.7 67.7h1.3v1.0h-1.3zM201.7 67.7h1.3v1.0h-1.3zM209.5 67.7h1.3v1.0h-1.3zM212.1 67.7h1.3v1.0h-1.3zM143.3 68.7h1.3v1.0h-1.3zM153.7 68.7h1.3v1.0h-1.3zM173.2 68.7h2.6v1.0h-2.6zM177.1 68.7h1.3v1.0h-1.3zM179.7 68.7h1.3v1.0h-1.3zM187.4 68.7h1.3v1.0h-1.3zM204.3 68.7h1.3v1.0h-1.3zM206.9 68.7h1.3v1.0h-1.3zM217.3 68.7h2.6v1.0h-2.6zM221.2 68.7h1.3v1.0h-1.3zM174.5 70.7h1.3v1.0h-1.3zM209.5 72.6h1.3v1.0h-1.3zM219.9 72.6h1.3v1.0h-1.3zM195.2 73.6h1.3v1.0h-1.3zM135.5 74.6h1.3v1.0h-1.3zM142.0 74.6h1.3v1.0h-1.3zM181.0 74.6h1.3v1.0h-1.3zM183.6 74.6h1.3v1.0h-1.3zM203.0 74.6h1.3v1.0h-1.3zM209.5 74.6h1.3v1.0h-1.3zM218.6 74.6h1.3v1.0h-1.3zM179.7 75.6h1.3v1.0h-1.3zM214.7 75.6h1.3v1.0h-1.3z"/>
<path fill="#c9ddef" d="M129.0 37.0h1.3v1.0h-1.3zM132.9 37.0h1.3v1.0h-1.3zM136.8 37.0h1.3v1.0h-1.3zM147.2 37.0h1.3v1.0h-1.3zM157.6 37.0h1.3v1.0h-1.3zM160.2 37.0h1.3v1.0h-1.3zM168.0 37.0h1.3v1.0h-1.3zM171.9 37.0h2.6v1.0h-2.6zM188.7 37.0h1.3v1.0h-1.3zM191.3 37.0h1.3v1.0h-1.3zM197.8 37.0h1.3v1.0h-1.3zM200.4 37.0h1.3v1.0h-1.3zM216.0 37.0h1.3v1.0h-1.3zM218.6 37.0h1.3v1.0h-1.3zM221.2 37.0h2.6v1.0h-2.6zM100.5 38.0h1.3v1.0h-1.3zM126.4 38.0h1.3v1.0h-1.3zM130.3 38.0h1.3v1.0h-1.3zM135.5 38.0h1.3v1.0h-1.3zM138.1 38.0h1.3v1.0h-1.3zM142.0 38.0h1.3v1.0h-1.3zM151.1 38.0h1.3v1.0h-1.3zM157.6 38.0h1.3v1.0h-1.3zM160.2 38.0h1.3v1.0h-1.3zM173.2 38.0h3.9v1.0h-3.9zM178.4 38.0h1.3v1.0h-1.3zM181.0 38.0h1.3v1.0h-1.3zM184.9 38.0h3.9v1.0h-3.9zM191.3 38.0h1.3v1.0h-1.3zM195.2 38.0h1.3v1.0h-1.3zM201.7 38.0h3.9v1.0h-3.9zM206.9 38.0h2.6v1.0h-2.6zM210.8 38.0h1.3v1.0h-1.3zM217.3 38.0h1.3v1.0h-1.3zM219.9 38.0h2.6v1.0h-2.6zM225.1 38.0h2.6v1.0h-2.6zM66.7 39.0h1.3v1.0h-1.3zM143.3 39.0h1.3v1.0h-1.3zM145.9 39.0h1.3v1.0h-1.3zM148.5 39.0h1.3v1.0h-1.3zM152.4 39.0h1.3v1.0h-1.3zM161.5 39.0h1.3v1.0h-1.3zM164.1 39.0h1.3v1.0h-1.3zM170.6 39.0h1.3v1.0h-1.3zM181.0 39.0h1.3v1.0h-1.3zM183.6 39.0h1.3v1.0h-1.3zM186.2 39.0h1.3v1.0h-1.3zM188.7 39.0h1.3v1.0h-1.3zM195.2 39.0h1.3v1.0h-1.3zM199.1 39.0h2.6v1.0h-2.6zM210.8 39.0h2.6v1.0h-2.6zM218.6 39.0h1.3v1.0h-1.3zM129.0 40.0h2.6v1.0h-2.6zM135.5 40.0h1.3v1.0h-1.3zM139.4 40.0h2.6v1.0h-2.6zM143.3 40.0h2.6v1.0h-2.6zM148.5 40.0h3.9v1.0h-3.9zM156.3 40.0h3.9v1.0h-3.9zM161.5 40.0h3.9v1.0h-3.9zM168.0 40.0h1.3v1.0h-1.3zM173.2 40.0h2.6v1.0h-2.6zM178.4 40.0h5.2v1.0h-5.2zM184.9 40.0h1.3v1.0h-1.3zM187.4 40.0h1.3v1.0h-1.3zM190.0 40.0h1.3v1.0h-1.3zM193.9 40.0h1.3v1.0h-1.3zM199.1 40.0h1.3v1.0h-1.3zM203.0 40.0h5.2v1.0h-5.2zM209.5 40.0h1.3v1.0h-1.3zM212.1 40.0h2.6v1.0h-2.6zM216.0 40.0h1.3v1.0h-1.3zM218.6 40.0h1.3v1.0h-1.3zM221.2 40.0h1.3v1.0h-1.3zM223.8 40.0h1.3v1.0h-1.3zM226.4 40.0h1.3v1.0h-1.3zM129.0 41.0h1.3v1.0h-1.3zM135.5 41.0h1.3v1.0h-1.3zM138.1 41.0h2.6v1.0h-2.6zM147.2 41.0h1.3v1.0h-1.3zM158.9 41.0h2.6v1.0h-2.6zM170.6 41.0h1.3v1.0h-1.3zM174.5 41.0h1.3v1.0h-1.3zM186.2 41.0h3.9v1.0h-3.9zM205.6 41.0h3.9v1.0h-3.9zM217.3 41.0h1.3v1.0h-1.3zM227.7 41.0h1.3v1.0h-1.3zM88.8 42.0h1.3v1.0h-1.3zM91.4 42.0h1.3v1.0h-1.3zM113.4 42.0h1.3v1.0h-1.3zM122.5 42.0h1.3v1.0h-1.3zM129.0 42.0h2.6v1.0h-2.6zM132.9 42.0h2.6v1.0h-2.6zM136.8 42.0h1.3v1.0h-1.3zM143.3 42.0h1.3v1.0h-1.3zM152.4 42.0h2.6v1.0h-2.6zM160.2 42.0h1.3v1.0h-1.3zM169.3 42.0h1.3v1.0h-1.3zM174.5 42.0h2.6v1.0h-2.6zM181.0 42.0h2.6v1.0h-2.6zM184.9 42.0h1.3v1.0h-1.3zM193.9 42.0h3.9v1.0h-3.9zM200.4 42.0h1.3v1.0h-1.3zM210.8 42.0h2.6v1.0h-2.6zM214.7 42.0h1.3v1.0h-1.3zM218.6 42.0h2.6v1.0h-2.6zM223.8 42.0h1.3v1.0h-1.3zM226.4 42.0h2.6v1.0h-2.6zM130.3 42.9h1.3v1.0h-1.3zM139.4 42.9h1.3v1.0h-1.3zM147.2 42.9h1.3v1.0h-1.3zM187.4 42.9h1.3v1.0h-1.3zM193.9 42.9h1.3v1.0h-1.3zM200.4 42.9h1.3v1.0h-1.3zM208.2 42.9h1.3v1.0h-1.3zM216.0 42.9h1.3v1.0h-1.3zM222.5 42.9h1.3v1.0h-1.3zM129.0 43.9h1.3v1.0h-1.3zM131.6 43.9h1.3v1.0h-1.3zM134.2 43.9h1.3v1.0h-1.3zM139.4 43.9h3.9v1.0h-3.9zM144.6 43.9h1.3v1.0h-1.3zM147.2 43.9h3.9v1.0h-3.9zM160.2 43.9h1.3v1.0h-1.3zM162.8 43.9h3.9v1.0h-3.9zM168.0 43.9h1.3v1.0h-1.3zM171.9 43.9h3.9v1.0h-3.9zM181.0 43.9h3.9v1.0h-3.9zM187.4 43.9h1.3v1.0h-1.3zM190.0 43.9h2.6v1.0h-2.6zM197.8 43.9h1.3v1.0h-1.3zM201.7 43.9h1.3v1.0h-1.3zM212.1 43.9h2.6v1.0h-2.6zM216.0 43.9h1.3v1.0h-1.3zM218.6 43.9h1.3v1.0h-1.3zM221.2 43.9h2.6v1.0h-2.6zM131.6 44.9h1.3v1.0h-1.3zM134.2 44.9h2.6v1.0h-2.6zM139.4 44.9h2.6v1.0h-2.6zM143.3 44.9h1.3v1.0h-1.3zM147.2 44.9h3.9v1.0h-3.9zM152.4 44.9h2.6v1.0h-2.6zM156.3 44.9h2.6v1.0h-2.6zM169.3 44.9h2.6v1.0h-2.6zM173.2 44.9h2.6v1.0h-2.6zM177.1 44.9h6.5v1.0h-6.5zM186.2 44.9h1.3v1.0h-1.3zM191.3 44.9h1.3v1.0h-1.3zM196.5 44.9h1.3v1.0h-1.3zM203.0 44.9h1.3v1.0h-1.3zM210.8 44.9h1.3v1.0h-1.3zM213.4 44.9h1.3v1.0h-1.3zM218.6 44.9h6.5v1.0h-6.5zM135.5 45.9h2.6v1.0h-2.6zM140.7 45.9h1.3v1.0h-1.3zM145.9 45.9h1.3v1.0h-1.3zM148.5 45.9h3.9v1.0h-3.9zM160.2 45.9h2.6v1.0h-2.6zM168.0 45.9h1.3v1.0h-1.3zM170.6 45.9h2.6v1.0h-2.6zM175.8 45.9h1.3v1.0h-1.3zM178.4 45.9h1.3v1.0h-1.3zM182.3 45.9h1.3v1.0h-1.3zM184.9 45.9h2.6v1.0h-2.6zM188.7 45.9h3.9v1.0h-3.9zM196.5 45.9h1.3v1.0h-1.3zM199.1 45.9h2.6v1.0h-2.6zM203.0 45.9h1.3v1.0h-1.3zM210.8 45.9h2.6v1.0h-2.6zM214.7 45.9h2.6v1.0h-2.6zM222.5 45.9h3.9v1.0h-3.9zM227.7 45.9h1.3v1.0h-1.3zM129.0 46.9h1.3v1.0h-1.3zM136.8 46.9h1.3v1.0h-1.3zM142.0 46.9h2.6v1.0h-2.6zM147.2 46.9h1.3v1.0h-1.3zM151.1 46.9h1.3v1.0h-1.3zM162.8 46.9h1.3v1.0h-1.3zM165.4 46.9h1.3v1.0h-1.3zM169.3 46.9h1.3v1.0h-1.3zM171.9 46.9h1.3v1.0h-1.3zM178.4 46.9h1.3v1.0h-1.3zM182.3 46.9h1.3v1.0h-1.3zM188.7 46.9h5.2v1.0h-5.2zM196.5 46.9h2.6v1.0h-2.6zM208.2 46.9h1.3v1.0h-1.3zM212.1 46.9h1.3v1.0h-1.3zM216.0 46.9h2.6v1.0h-2.6zM219.9 46.9h1.3v1.0h-1.3zM226.4 46.9h2.6v1.0h-2.6zM134.2 47.9h1.3v1.0h-1.3zM136.8 47.9h2.6v1.0h-2.6zM140.7 47.9h1.3v1.0h-1.3zM151.1 47.9h1.3v1.0h-1.3zM157.6 47.9h1.3v1.0h-1.3zM165.4 47.9h2.6v1.0h-2.6zM169.3 47.9h1.3v1.0h-1.3zM173.2 47.9h2.6v1.0h-2.6zM184.9 47.9h2.6v1.0h-2.6zM190.0 47.9h1.3v1.0h-1.3zM195.2 47.9h1.3v1.0h-1.3zM199.1 47.9h11.7v1.0h-11.7zM212.1 47.9h1.3v1.0h-1.3zM214.7 47.9h1.3v1.0h-1.3zM217.3 47.9h9.1v1.0h-9.1zM227.7 47.9h1.3v1.0h-1.3zM129.0 48.9h1.3v1.0h-1.3zM138.1 48.9h1.3v1.0h-1.3zM142.0 48.9h1.3v1.0h-1.3zM160.2 48.9h1.3v1.0h-1.3zM165.4 48.9h2.6v1.0h-2.6zM181.0 48.9h1.3v1.0h-1.3zM197.8 48.9h1.3v1.0h-1.3zM205.6 48.9h1.3v1.0h-1.3zM208.2 48.9h1.3v1.0h-1.3zM219.9 48.9h1.3v1.0h-1.3zM226.4 48.9h2.6v1.0h-2.6zM129.0 49.9h1.3v1.0h-1.3zM191.3 49.9h1.3v1.0h-1.3zM193.9 49.9h1.3v1.0h-1.3zM212.1 49.9h1.3v1.0h-1.3zM222.5 49.9h1.3v1.0h-1.3zM69.3 50.9h2.6v1.0h-2.6zM95.3 50.9h1.3v1.0h-1.3zM104.3 50.9h1.3v1.0h-1.3zM114.7 50.9h3.9v1.0h-3.9zM119.9 50.9h1.3v1.0h-1.3zM122.5 50.9h1.3v1.0h-1.3zM126.4 50.9h1.3v1.0h-1.3zM96.6 51.8h1.3v1.0h-1.3zM126.4 51.8h1.3v1.0h-1.3zM166.7 51.8h1.3v1.0h-1.3zM169.3 51.8h1.3v1.0h-1.3zM64.1 52.8h1.3v1.0h-1.3zM66.7 52.8h1.3v1.0h-1.3zM69.3 52.8h2.6v1.0h-2.6zM75.8 52.8h2.6v1.0h-2.6zM82.3 52.8h1.3v1.0h-1.3zM88.8 52.8h1.3v1.0h-1.3zM91.4 52.8h6.5v1.0h-6.5zM101.8 52.8h2.6v1.0h-2.6zM110.8 52.8h2.6v1.0h-2.6zM118.6 52.8h1.3v1.0h-1.3zM121.2 52.8h1.3v1.0h-1.3zM126.4 52.8h2.6v1.0h-2.6zM60.2 53.8h5.2v1.0h-5.2zM71.9 53.8h1.3v1.0h-1.3zM74.5 53.8h1.3v1.0h-1.3zM87.5 53.8h2.6v1.0h-2.6zM94.0 53.8h1.3v1.0h-1.3zM106.9 53.8h1.3v1.0h-1.3zM109.5 53.8h1.3v1.0h-1.3zM112.1 53.8h1.3v1.0h-1.3zM114.7 53.8h1.3v1.0h-1.3zM117.3 53.8h1.3v1.0h-1.3zM119.9 53.8h1.3v1.0h-1.3zM126.4 53.8h1.3v1.0h-1.3zM177.1 53.8h1.3v1.0h-1.3zM208.2 53.8h1.3v1.0h-1.3zM222.5 53.8h1.3v1.0h-1.3zM61.5 54.8h1.3v1.0h-1.3zM92.7 54.8h1.3v1.0h-1.3zM112.1 54.8h1.3v1.0h-1.3zM119.9 54.8h1.3v1.0h-1.3zM125.1 54.8h1.3v1.0h-1.3zM127.7 54.8h1.3v1.0h-1.3zM131.6 54.8h1.3v1.0h-1.3zM139.4 54.8h1.3v1.0h-1.3zM143.3 54.8h2.6v1.0h-2.6zM155.0 54.8h1.3v1.0h-1.3zM171.9 54.8h1.3v1.0h-1.3zM174.5 54.8h1.3v1.0h-1.3zM181.0 54.8h1.3v1.0h-1.3zM186.2 54.8h1.3v1.0h-1.3zM190.0 54.8h1.3v1.0h-1.3zM208.2 54.8h1.3v1.0h-1.3zM214.7 54.8h2.6v1.0h-2.6zM62.8 55.8h1.3v1.0h-1.3zM66.7 55.8h1.3v1.0h-1.3zM69.3 55.8h1.3v1.0h-1.3zM74.5 55.8h3.9v1.0h-3.9zM79.7 55.8h1.3v1.0h-1.3zM84.9 55.8h1.3v1.0h-1.3zM87.5 55.8h3.9v1.0h-3.9zM94.0 55.8h1.3v1.0h-1.3zM100.5 55.8h1.3v1.0h-1.3zM104.3 55.8h1.3v1.0h-1.3zM109.5 55.8h1.3v1.0h-1.3zM116.0 55.8h1.3v1.0h-1.3zM118.6 55.8h2.6v1.0h-2.6zM122.5 55.8h1.3v1.0h-1.3zM125.1 55.8h2.6v1.0h-2.6zM165.4 55.8h2.6v1.0h-2.6zM193.9 55.8h1.3v1.0h-1.3zM214.7 55.8h1.3v1.0h-1.3zM62.8 56.8h1.3v1.0h-1.3zM65.4 56.8h1.3v1.0h-1.3zM74.5 56.8h1.3v1.0h-1.3zM86.2 56.8h1.3v1.0h-1.3zM88.8 56.8h3.9v1.0h-3.9zM94.0 56.8h1.3v1.0h-1.3zM97.9 56.8h2.6v1.0h-2.6zM105.6 56.8h2.6v1.0h-2.6zM109.5 56.8h1.3v1.0h-1.3zM112.1 56.8h1.3v1.0h-1.3zM114.7 56.8h1.3v1.0h-1.3zM117.3 56.8h2.6v1.0h-2.6zM121.2 56.8h2.6v1.0h-2.6zM126.4 56.8h1.3v1.0h-1.3zM62.8 57.8h1.3v1.0h-1.3zM65.4 57.8h2.6v1.0h-2.6zM70.6 57.8h1.3v1.0h-1.3zM75.8 57.8h2.6v1.0h-2.6zM86.2 57.8h1.3v1.0h-1.3zM90.1 57.8h3.9v1.0h-3.9zM99.2 57.8h1.3v1.0h-1.3zM101.8 57.8h2.6v1.0h-2.6zM108.2 57.8h1.3v1.0h-1.3zM119.9 57.8h5.2v1.0h-5.2zM127.7 57.8h1.3v1.0h-1.3zM148.5 57.8h1.3v1.0h-1.3zM166.7 57.8h1.3v1.0h-1.3zM65.4 58.8h1.3v1.0h-1.3zM68.0 58.8h1.3v1.0h-1.3zM77.1 58.8h1.3v1.0h-1.3zM83.6 58.8h1.3v1.0h-1.3zM86.2 58.8h1.3v1.0h-1.3zM90.1 58.8h1.3v1.0h-1.3zM95.3 58.8h1.3v1.0h-1.3zM101.8 58.8h1.3v1.0h-1.3zM113.4 58.8h2.6v1.0h-2.6zM117.3 58.8h1.3v1.0h-1.3zM119.9 58.8h1.3v1.0h-1.3zM122.5 58.8h1.3v1.0h-1.3zM125.1 58.8h1.3v1.0h-1.3zM62.8 59.8h1.3v1.0h-1.3zM65.4 59.8h1.3v1.0h-1.3zM69.3 59.8h1.3v1.0h-1.3zM71.9 59.8h1.3v1.0h-1.3zM75.8 59.8h2.6v1.0h-2.6zM81.0 59.8h5.2v1.0h-5.2zM87.5 59.8h1.3v1.0h-1.3zM94.0 59.8h3.9v1.0h-3.9zM99.2 59.8h2.6v1.0h-2.6zM105.6 59.8h3.9v1.0h-3.9zM110.8 59.8h1.3v1.0h-1.3zM117.3 59.8h1.3v1.0h-1.3zM122.5 59.8h3.9v1.0h-3.9zM127.7 59.8h1.3v1.0h-1.3zM69.3 60.8h1.3v1.0h-1.3zM73.2 60.8h1.3v1.0h-1.3zM75.8 60.8h1.3v1.0h-1.3zM79.7 60.8h2.6v1.0h-2.6zM83.6 60.8h1.3v1.0h-1.3zM91.4 60.8h2.6v1.0h-2.6zM96.6 60.8h3.9v1.0h-3.9zM103.0 60.8h1.3v1.0h-1.3zM105.6 60.8h1.3v1.0h-1.3zM108.2 60.8h1.3v1.0h-1.3zM110.8 60.8h1.3v1.0h-1.3zM116.0 60.8h2.6v1.0h-2.6zM119.9 60.8h3.9v1.0h-3.9zM125.1 60.8h1.3v1.0h-1.3zM62.8 61.8h3.9v1.0h-3.9zM69.3 61.8h1.3v1.0h-1.3zM74.5 61.8h1.3v1.0h-1.3zM77.1 61.8h1.3v1.0h-1.3zM79.7 61.8h1.3v1.0h-1.3zM83.6 61.8h3.9v1.0h-3.9zM90.1 61.8h2.6v1.0h-2.6zM95.3 61.8h6.5v1.0h-6.5zM106.9 61.8h1.3v1.0h-1.3zM112.1 61.8h1.3v1.0h-1.3zM114.7 61.8h3.9v1.0h-3.9zM123.8 61.8h1.3v1.0h-1.3zM126.4 61.8h1.3v1.0h-1.3zM60.2 62.7h1.3v1.0h-1.3zM62.8 62.7h1.3v1.0h-1.3zM70.6 62.7h2.6v1.0h-2.6zM75.8 62.7h2.6v1.0h-2.6zM79.7 62.7h2.6v1.0h-2.6zM86.2 62.7h1.3v1.0h-1.3zM90.1 62.7h2.6v1.0h-2.6zM99.2 62.7h2.6v1.0h-2.6zM106.9 62.7h1.3v1.0h-1.3zM109.5 62.7h1.3v1.0h-1.3zM112.1 62.7h1.3v1.0h-1.3zM114.7 62.7h1.3v1.0h-1.3zM119.9 62.7h1.3v1.0h-1.3zM122.5 62.7h1.3v1.0h-1.3zM125.1 62.7h1.3v1.0h-1.3zM60.2 63.7h1.3v1.0h-1.3zM65.4 63.7h2.6v1.0h-2.6zM71.9 63.7h7.8v1.0h-7.8zM84.9 63.7h3.9v1.0h-3.9zM90.1 63.7h1.3v1.0h-1.3zM92.7 63.7h1.3v1.0h-1.3zM95.3 63.7h3.9v1.0h-3.9zM100.5 63.7h2.6v1.0h-2.6zM105.6 63.7h1.3v1.0h-1.3zM109.5 63.7h1.3v1.0h-1.3zM116.0 63.7h13.0v1.0h-13.0zM60.2 64.7h1.3v1.0h-1.3zM65.4 64.7h1.3v1.0h-1.3zM69.3 64.7h1.3v1.0h-1.3zM73.2 64.7h2.6v1.0h-2.6zM84.9 64.7h6.5v1.0h-6.5zM94.0 64.7h1.3v1.0h-1.3zM99.2 64.7h1.3v1.0h-1.3zM101.8 64.7h2.6v1.0h-2.6zM106.9 64.7h1.3v1.0h-1.3zM110.8 64.7h3.9v1.0h-3.9zM117.3 64.7h1.3v1.0h-1.3zM62.8 65.7h1.3v1.0h-1.3zM69.3 65.7h1.3v1.0h-1.3zM73.2 65.7h1.3v1.0h-1.3zM78.4 65.7h1.3v1.0h-1.3zM81.0 65.7h2.6v1.0h-2.6zM87.5 65.7h1.3v1.0h-1.3zM91.4 65.7h1.3v1.0h-1.3zM97.9 65.7h1.3v1.0h-1.3zM109.5 65.7h1.3v1.0h-1.3zM122.5 65.7h1.3v1.0h-1.3zM125.1 65.7h1.3v1.0h-1.3zM62.8 66.7h1.3v1.0h-1.3zM69.3 66.7h6.5v1.0h-6.5zM77.1 66.7h2.6v1.0h-2.6zM81.0 66.7h2.6v1.0h-2.6zM86.2 66.7h1.3v1.0h-1.3zM88.8 66.7h1.3v1.0h-1.3zM91.4 66.7h1.3v1.0h-1.3zM94.0 66.7h3.9v1.0h-3.9zM108.2 66.7h1.3v1.0h-1.3zM113.4 66.7h1.3v1.0h-1.3zM116.0 66.7h1.3v1.0h-1.3zM119.9 66.7h1.3v1.0h-1.3zM123.8 66.7h1.3v1.0h-1.3zM60.2 67.7h1.3v1.0h-1.3zM62.8 67.7h3.9v1.0h-3.9zM70.6 67.7h1.3v1.0h-1.3zM73.2 67.7h2.6v1.0h-2.6zM83.6 67.7h1.3v1.0h-1.3zM86.2 67.7h2.6v1.0h-2.6zM90.1 67.7h1.3v1.0h-1.3zM92.7 67.7h1.3v1.0h-1.3zM96.6 67.7h1.3v1.0h-1.3zM99.2 67.7h1.3v1.0h-1.3zM106.9 67.7h1.3v1.0h-1.3zM109.5 67.7h2.6v1.0h-2.6zM116.0 67.7h1.3v1.0h-1.3zM118.6 67.7h1.3v1.0h-1.3zM122.5 67.7h1.3v1.0h-1.3zM126.4 67.7h1.3v1.0h-1.3zM60.2 68.7h1.3v1.0h-1.3zM66.7 68.7h1.3v1.0h-1.3zM69.3 68.7h5.2v1.0h-5.2zM75.8 68.7h1.3v1.0h-1.3zM78.4 68.7h3.9v1.0h-3.9zM83.6 68.7h1.3v1.0h-1.3zM87.5 68.7h1.3v1.0h-1.3zM90.1 68.7h1.3v1.0h-1.3zM96.6 68.7h2.6v1.0h-2.6zM101.8 68.7h3.9v1.0h-3.9zM108.2 68.7h2.6v1.0h-2.6zM112.1 68.7h5.2v1.0h-5.2zM118.6 68.7h1.3v1.0h-1.3zM60.2 69.7h2.6v1.0h-2.6zM68.0 69.7h1.3v1.0h-1.3zM70.6 69.7h1.3v1.0h-1.3zM74.5 69.7h1.3v1.0h-1.3zM79.7 69.7h1.3v1.0h-1.3zM84.9 69.7h1.3v1.0h-1.3zM94.0 69.7h3.9v1.0h-3.9zM100.5 69.7h1.3v1.0h-1.3zM106.9 69.7h2.6v1.0h-2.6zM114.7 69.7h1.3v1.0h-1.3zM117.3 69.7h1.3v1.0h-1.3zM125.1 69.7h1.3v1.0h-1.3zM143.3 69.7h1.3v1.0h-1.3zM158.9 69.7h1.3v1.0h-1.3zM206.9 69.7h1.3v1.0h-1.3zM213.4 69.7h1.3v1.0h-1.3zM65.4 70.7h1.3v1.0h-1.3zM69.3 70.7h1.3v1.0h-1.3zM77.1 70.7h2.6v1.0h-2.6zM81.0 70.7h1.3v1.0h-1.3zM83.6 70.7h3.9v1.0h-3.9zM90.1 70.7h1.3v1.0h-1.3zM97.9 70.7h1.3v1.0h-1.3zM104.3 70.7h1.3v1.0h-1.3zM110.8 70.7h1.3v1.0h-1.3zM113.4 70.7h1.3v1.0h-1.3zM116.0 70.7h2.6v1.0h-2.6zM122.5 70.7h5.2v1.0h-5.2zM73.2 71.7h1.3v1.0h-1.3zM82.3 71.7h1.3v1.0h-1.3zM87.5 71.7h1.3v1.0h-1.3zM91.4 71.7h1.3v1.0h-1.3zM101.8 71.7h1.3v1.0h-1.3zM113.4 71.7h1.3v1.0h-1.3zM119.9 71.7h1.3v1.0h-1.3zM122.5 71.7h1.3v1.0h-1.3zM77.1 72.6h2.6v1.0h-2.6zM81.0 72.6h5.2v1.0h-5.2zM94.0 72.6h1.3v1.0h-1.3zM96.6 72.6h3.9v1.0h-3.9zM122.5 72.6h1.3v1.0h-1.3zM125.1 72.6h1.3v1.0h-1.3zM61.5 74.6h2.6v1.0h-2.6zM66.7 74.6h1.3v1.0h-1.3zM70.6 74.6h1.3v1.0h-1.3zM75.8 74.6h2.6v1.0h-2.6zM81.0 74.6h1.3v1.0h-1.3zM83.6 74.6h2.6v1.0h-2.6zM97.9 74.6h1.3v1.0h-1.3zM108.2 74.6h1.3v1.0h-1.3zM112.1 74.6h1.3v1.0h-1.3zM126.4 74.6h1.3v1.0h-1.3zM100.5 75.6h1.3v1.0h-1.3zM113.4 75.6h1.3v1.0h-1.3zM166.7 75.6h1.3v1.0h-1.3z"/>
<path fill="#b7d2ea" d="M131.6 37.0h1.3v1.0h-1.3zM139.4 37.0h1.3v1.0h-1.3zM142.0 37.0h1.3v1.0h-1.3zM166.7 37.0h1.3v1.0h-1.3zM169.3 37.0h1.3v1.0h-1.3zM177.1 37.0h1.3v1.0h-1.3zM182.3 37.0h1.3v1.0h-1.3zM192.6 37.0h2.6v1.0h-2.6zM131.6 38.0h1.3v1.0h-1.3zM136.8 38.0h1.3v1.0h-1.3zM144.6 38.0h1.3v1.0h-1.3zM147.2 38.0h1.3v1.0h-1.3zM152.4 38.0h2.6v1.0h-2.6zM156.3 38.0h1.3v1.0h-1.3zM162.8 38.0h1.3v1.0h-1.3zM169.3 38.0h3.9v1.0h-3.9zM190.0 38.0h1.3v1.0h-1.3zM192.6 38.0h1.3v1.0h-1.3zM200.4 38.0h1.3v1.0h-1.3zM205.6 38.0h1.3v1.0h-1.3zM223.8 38.0h1.3v1.0h-1.3zM130.3 39.0h3.9v1.0h-3.9zM135.5 39.0h1.3v1.0h-1.3zM138.1 39.0h3.9v1.0h-3.9zM149.8 39.0h1.3v1.0h-1.3zM155.0 39.0h2.6v1.0h-2.6zM158.9 39.0h2.6v1.0h-2.6zM162.8 39.0h1.3v1.0h-1.3zM169.3 39.0h1.3v1.0h-1.3zM171.9 39.0h6.5v1.0h-6.5zM179.7 39.0h1.3v1.0h-1.3zM187.4 39.0h1.3v1.0h-1.3zM190.0 39.0h3.9v1.0h-3.9zM196.5 39.0h1.3v1.0h-1.3zM203.0 39.0h5.2v1.0h-5.2zM209.5 39.0h1.3v1.0h-1.3zM213.4 39.0h3.9v1.0h-3.9zM131.6 40.0h1.3v1.0h-1.3zM136.8 40.0h2.6v1.0h-2.6zM142.0 40.0h1.3v1.0h-1.3zM153.7 40.0h1.3v1.0h-1.3zM165.4 40.0h1.3v1.0h-1.3zM169.3 40.0h1.3v1.0h-1.3zM177.1 40.0h1.3v1.0h-1.3zM186.2 40.0h1.3v1.0h-1.3zM188.7 40.0h1.3v1.0h-1.3zM191.3 40.0h2.6v1.0h-2.6zM196.5 40.0h2.6v1.0h-2.6zM200.4 40.0h1.3v1.0h-1.3zM208.2 40.0h1.3v1.0h-1.3zM214.7 40.0h1.3v1.0h-1.3zM217.3 40.0h1.3v1.0h-1.3zM222.5 40.0h1.3v1.0h-1.3zM227.7 40.0h1.3v1.0h-1.3zM162.8 41.0h1.3v1.0h-1.3zM166.7 41.0h1.3v1.0h-1.3zM204.3 41.0h1.3v1.0h-1.3zM97.9 42.0h1.3v1.0h-1.3zM138.1 42.0h2.6v1.0h-2.6zM142.0 42.0h1.3v1.0h-1.3zM148.5 42.0h1.3v1.0h-1.3zM151.1 42.0h1.3v1.0h-1.3zM156.3 42.0h2.6v1.0h-2.6zM161.5 42.0h1.3v1.0h-1.3zM171.9 42.0h1.3v1.0h-1.3zM177.1 42.0h1.3v1.0h-1.3zM192.6 42.0h1.3v1.0h-1.3zM197.8 42.0h1.3v1.0h-1.3zM201.7 42.0h1.3v1.0h-1.3zM205.6 42.0h1.3v1.0h-1.3zM209.5 42.0h1.3v1.0h-1.3zM216.0 42.0h1.3v1.0h-1.3zM222.5 42.0h1.3v1.0h-1.3zM170.6 42.9h1.3v1.0h-1.3zM226.4 42.9h1.3v1.0h-1.3zM158.9 43.9h1.3v1.0h-1.3zM186.2 43.9h1.3v1.0h-1.3zM208.2 43.9h1.3v1.0h-1.3zM226.4 43.9h2.6v1.0h-2.6zM130.3 44.9h1.3v1.0h-1.3zM136.8 44.9h1.3v1.0h-1.3zM160.2 44.9h1.3v1.0h-1.3zM162.8 44.9h1.3v1.0h-1.3zM165.4 44.9h1.3v1.0h-1.3zM187.4 44.9h1.3v1.0h-1.3zM192.6 44.9h2.6v1.0h-2.6zM197.8 44.9h1.3v1.0h-1.3zM205.6 44.9h1.3v1.0h-1.3zM208.2 44.9h2.6v1.0h-2.6zM212.1 44.9h1.3v1.0h-1.3zM214.7 44.9h3.9v1.0h-3.9zM227.7 44.9h1.3v1.0h-1.3zM130.3 45.9h2.6v1.0h-2.6zM134.2 45.9h1.3v1.0h-1.3zM138.1 45.9h2.6v1.0h-2.6zM143.3 45.9h2.6v1.0h-2.6zM152.4 45.9h1.3v1.0h-1.3zM156.3 45.9h3.9v1.0h-3.9zM162.8 45.9h1.3v1.0h-1.3zM166.7 45.9h1.3v1.0h-1.3zM169.3 45.9h1.3v1.0h-1.3zM173.2 45.9h1.3v1.0h-1.3zM181.0 45.9h1.3v1.0h-1.3zM187.4 45.9h1.3v1.0h-1.3zM197.8 45.9h1.3v1.0h-1.3zM201.7 45.9h1.3v1.0h-1.3zM204.3 45.9h6.5v1.0h-6.5zM217.3 45.9h2.6v1.0h-2.6zM221.2 45.9h1.3v1.0h-1.3zM226.4 45.9h1.3v1.0h-1.3zM130.3 46.9h2.6v1.0h-2.6zM166.7 46.9h1.3v1.0h-1.3zM129.0 47.9h1.3v1.0h-1.3zM139.4 47.9h1.3v1.0h-1.3zM142.0 47.9h1.3v1.0h-1.3zM156.3 47.9h1.3v1.0h-1.3zM162.8 47.9h1.3v1.0h-1.3zM171.9 47.9h1.3v1.0h-1.3zM178.4 47.9h1.3v1.0h-1.3zM192.6 47.9h1.3v1.0h-1.3zM197.8 47.9h1.3v1.0h-1.3zM216.0 47.9h1.3v1.0h-1.3zM174.5 48.9h1.3v1.0h-1.3zM186.2 48.9h1.3v1.0h-1.3zM166.7 49.9h1.3v1.0h-1.3zM90.1 50.9h1.3v1.0h-1.3zM60.2 52.8h1.3v1.0h-1.3zM62.8 52.8h1.3v1.0h-1.3zM74.5 52.8h1.3v1.0h-1.3zM78.4 52.8h3.9v1.0h-3.9zM84.9 52.8h3.9v1.0h-3.9zM90.1 52.8h1.3v1.0h-1.3zM100.5 52.8h1.3v1.0h-1.3zM104.3 52.8h1.3v1.0h-1.3zM106.9 52.8h3.9v1.0h-3.9zM114.7 52.8h2.6v1.0h-2.6zM119.9 52.8h1.3v1.0h-1.3zM122.5 52.8h1.3v1.0h-1.3zM66.7 53.8h1.3v1.0h-1.3zM70.6 53.8h1.3v1.0h-1.3zM77.1 53.8h2.6v1.0h-2.6zM81.0 53.8h3.9v1.0h-3.9zM90.1 53.8h1.3v1.0h-1.3zM96.6 53.8h3.9v1.0h-3.9zM104.3 53.8h1.3v1.0h-1.3zM116.0 53.8h1.3v1.0h-1.3zM123.8 53.8h1.3v1.0h-1.3zM60.2 54.8h1.3v1.0h-1.3zM62.8 54.8h1.3v1.0h-1.3zM66.7 54.8h2.6v1.0h-2.6zM70.6 54.8h1.3v1.0h-1.3zM73.2 54.8h1.3v1.0h-1.3zM77.1 54.8h1.3v1.0h-1.3zM79.7 54.8h2.6v1.0h-2.6zM86.2 54.8h6.5v1.0h-6.5zM96.6 54.8h1.3v1.0h-1.3zM103.0 54.8h3.9v1.0h-3.9zM113.4 54.8h2.6v1.0h-2.6zM117.3 54.8h2.6v1.0h-2.6zM121.2 54.8h1.3v1.0h-1.3zM123.8 54.8h1.3v1.0h-1.3zM130.3 54.8h1.3v1.0h-1.3zM147.2 54.8h1.3v1.0h-1.3zM151.1 54.8h1.3v1.0h-1.3zM165.4 54.8h3.9v1.0h-3.9zM173.2 54.8h1.3v1.0h-1.3zM175.8 54.8h1.3v1.0h-1.3zM178.4 54.8h1.3v1.0h-1.3zM192.6 54.8h1.3v1.0h-1.3zM83.6 55.8h1.3v1.0h-1.3zM101.8 55.8h1.3v1.0h-1.3zM61.5 56.8h1.3v1.0h-1.3zM66.7 56.8h1.3v1.0h-1.3zM77.1 56.8h1.3v1.0h-1.3zM84.9 56.8h1.3v1.0h-1.3zM95.3 56.8h1.3v1.0h-1.3zM101.8 56.8h3.9v1.0h-3.9zM108.2 56.8h1.3v1.0h-1.3zM116.0 56.8h1.3v1.0h-1.3zM119.9 56.8h1.3v1.0h-1.3zM79.7 57.8h2.6v1.0h-2.6zM88.8 57.8h1.3v1.0h-1.3zM97.9 57.8h1.3v1.0h-1.3zM100.5 57.8h1.3v1.0h-1.3zM104.3 57.8h1.3v1.0h-1.3zM113.4 57.8h2.6v1.0h-2.6zM62.8 58.8h1.3v1.0h-1.3zM70.6 58.8h1.3v1.0h-1.3zM74.5 58.8h1.3v1.0h-1.3zM78.4 58.8h1.3v1.0h-1.3zM81.0 58.8h1.3v1.0h-1.3zM96.6 58.8h1.3v1.0h-1.3zM104.3 58.8h1.3v1.0h-1.3zM126.4 58.8h1.3v1.0h-1.3zM60.2 59.8h2.6v1.0h-2.6zM73.2 59.8h1.3v1.0h-1.3zM92.7 59.8h1.3v1.0h-1.3zM97.9 59.8h1.3v1.0h-1.3zM104.3 59.8h1.3v1.0h-1.3zM113.4 59.8h2.6v1.0h-2.6zM126.4 59.8h1.3v1.0h-1.3zM66.7 60.8h1.3v1.0h-1.3zM78.4 60.8h1.3v1.0h-1.3zM82.3 60.8h1.3v1.0h-1.3zM95.3 60.8h1.3v1.0h-1.3zM100.5 60.8h2.6v1.0h-2.6zM104.3 60.8h1.3v1.0h-1.3zM126.4 60.8h1.3v1.0h-1.3zM78.4 61.8h1.3v1.0h-1.3zM101.8 61.8h1.3v1.0h-1.3zM108.2 61.8h1.3v1.0h-1.3zM118.6 61.8h2.6v1.0h-2.6zM122.5 61.8h1.3v1.0h-1.3zM64.1 62.7h1.3v1.0h-1.3zM66.7 62.7h1.3v1.0h-1.3zM82.3 62.7h3.9v1.0h-3.9zM95.3 62.7h3.9v1.0h-3.9zM110.8 62.7h1.3v1.0h-1.3zM118.6 62.7h1.3v1.0h-1.3zM123.8 62.7h1.3v1.0h-1.3zM126.4 62.7h1.3v1.0h-1.3zM70.6 63.7h1.3v1.0h-1.3zM82.3 63.7h2.6v1.0h-2.6zM104.3 63.7h1.3v1.0h-1.3zM61.5 64.7h2.6v1.0h-2.6zM78.4 64.7h1.3v1.0h-1.3zM83.6 64.7h1.3v1.0h-1.3zM91.4 64.7h1.3v1.0h-1.3zM96.6 64.7h2.6v1.0h-2.6zM104.3 64.7h2.6v1.0h-2.6zM116.0 64.7h1.3v1.0h-1.3zM121.2 64.7h2.6v1.0h-2.6zM125.1 64.7h1.3v1.0h-1.3zM60.2 65.7h1.3v1.0h-1.3zM65.4 65.7h1.3v1.0h-1.3zM77.1 65.7h1.3v1.0h-1.3zM86.2 65.7h1.3v1.0h-1.3zM90.1 65.7h1.3v1.0h-1.3zM100.5 65.7h1.3v1.0h-1.3zM104.3 65.7h1.3v1.0h-1.3zM106.9 65.7h1.3v1.0h-1.3zM119.9 65.7h1.3v1.0h-1.3zM123.8 65.7h1.3v1.0h-1.3zM126.4 65.7h1.3v1.0h-1.3zM65.4 66.7h1.3v1.0h-1.3zM109.5 66.7h1.3v1.0h-1.3zM112.1 66.7h1.3v1.0h-1.3zM122.5 66.7h1.3v1.0h-1.3zM126.4 66.7h1.3v1.0h-1.3zM66.7 67.7h1.3v1.0h-1.3zM69.3 67.7h1.3v1.0h-1.3zM77.1 67.7h1.3v1.0h-1.3zM79.7 67.7h3.9v1.0h-3.9zM95.3 67.7h1.3v1.0h-1.3zM97.9 67.7h1.3v1.0h-1.3zM100.5 67.7h6.5v1.0h-6.5zM108.2 67.7h1.3v1.0h-1.3zM113.4 67.7h1.3v1.0h-1.3zM123.8 67.7h1.3v1.0h-1.3zM74.5 68.7h1.3v1.0h-1.3zM77.1 68.7h1.3v1.0h-1.3zM100.5 68.7h1.3v1.0h-1.3zM62.8 69.7h1.3v1.0h-1.3zM75.8 69.7h2.6v1.0h-2.6zM81.0 69.7h1.3v1.0h-1.3zM87.5 69.7h2.6v1.0h-2.6zM92.7 69.7h1.3v1.0h-1.3zM97.9 69.7h1.3v1.0h-1.3zM101.8 69.7h1.3v1.0h-1.3zM109.5 69.7h1.3v1.0h-1.3zM122.5 69.7h2.6v1.0h-2.6zM126.4 69.7h1.3v1.0h-1.3zM62.8 70.7h1.3v1.0h-1.3zM87.5 70.7h2.6v1.0h-2.6zM100.5 70.7h2.6v1.0h-2.6zM119.9 70.7h1.3v1.0h-1.3zM104.3 71.7h1.3v1.0h-1.3zM129.0 72.6h1.3v1.0h-1.3zM87.5 74.6h1.3v1.0h-1.3zM99.2 74.6h2.6v1.0h-2.6z"/>
<path fill="#e0e9f2" d="M134.2 37.0h1.3v1.0h-1.3zM138.1 37.0h1.3v1.0h-1.3zM140.7 37.0h1.3v1.0h-1.3zM143.3 37.0h1.3v1.0h-1.3zM148.5 37.0h5.2v1.0h-5.2zM155.0 37.0h1.3v1.0h-1.3zM162.8 37.0h1.3v1.0h-1.3zM165.4 37.0h1.3v1.0h-1.3zM174.5 37.0h1.3v1.0h-1.3zM178.4 37.0h2.6v1.0h-2.6zM190.0 37.0h1.3v1.0h-1.3zM196.5 37.0h1.3v1.0h-1.3zM203.0 37.0h7.8v1.0h-7.8zM212.1 37.0h1.3v1.0h-1.3zM214.7 37.0h1.3v1.0h-1.3zM217.3 37.0h1.3v1.0h-1.3zM219.9 37.0h1.3v1.0h-1.3zM223.8 37.0h1.3v1.0h-1.3zM226.4 37.0h2.6v1.0h-2.6zM81.0 38.0h1.3v1.0h-1.3zM86.2 38.0h1.3v1.0h-1.3zM132.9 38.0h1.3v1.0h-1.3zM140.7 38.0h1.3v1.0h-1.3zM145.9 38.0h1.3v1.0h-1.3zM148.5 38.0h2.6v1.0h-2.6zM155.0 38.0h1.3v1.0h-1.3zM158.9 38.0h1.3v1.0h-1.3zM161.5 38.0h1.3v1.0h-1.3zM164.1 38.0h1.3v1.0h-1.3zM177.1 38.0h1.3v1.0h-1.3zM183.6 38.0h1.3v1.0h-1.3zM188.7 38.0h1.3v1.0h-1.3zM196.5 38.0h1.3v1.0h-1.3zM199.1 38.0h1.3v1.0h-1.3zM209.5 38.0h1.3v1.0h-1.3zM212.1 38.0h2.6v1.0h-2.6zM77.1 39.0h1.3v1.0h-1.3zM118.6 39.0h1.3v1.0h-1.3zM122.5 39.0h2.6v1.0h-2.6zM144.6 39.0h1.3v1.0h-1.3zM132.9 40.0h2.6v1.0h-2.6zM145.9 40.0h1.3v1.0h-1.3zM152.4 40.0h1.3v1.0h-1.3zM155.0 40.0h1.3v1.0h-1.3zM160.2 40.0h1.3v1.0h-1.3zM170.6 40.0h1.3v1.0h-1.3zM175.8 40.0h1.3v1.0h-1.3zM183.6 40.0h1.3v1.0h-1.3zM195.2 40.0h1.3v1.0h-1.3zM225.1 40.0h1.3v1.0h-1.3zM69.3 41.0h1.3v1.0h-1.3zM79.7 41.0h1.3v1.0h-1.3zM84.9 41.0h1.3v1.0h-1.3zM94.0 41.0h1.3v1.0h-1.3zM101.8 41.0h2.6v1.0h-2.6zM130.3 41.0h1.3v1.0h-1.3zM134.2 41.0h1.3v1.0h-1.3zM140.7 41.0h3.9v1.0h-3.9zM161.5 41.0h1.3v1.0h-1.3zM164.1 41.0h2.6v1.0h-2.6zM168.0 41.0h1.3v1.0h-1.3zM171.9 41.0h2.6v1.0h-2.6zM175.8 41.0h3.9v1.0h-3.9zM184.9 41.0h1.3v1.0h-1.3zM190.0 41.0h1.3v1.0h-1.3zM192.6 41.0h6.5v1.0h-6.5zM201.7 41.0h1.3v1.0h-1.3zM209.5 41.0h1.3v1.0h-1.3zM212.1 41.0h1.3v1.0h-1.3zM214.7 41.0h2.6v1.0h-2.6zM219.9 41.0h2.6v1.0h-2.6zM226.4 41.0h1.3v1.0h-1.3zM62.8 42.0h1.3v1.0h-1.3zM65.4 42.0h1.3v1.0h-1.3zM69.3 42.0h1.3v1.0h-1.3zM78.4 42.0h1.3v1.0h-1.3zM82.3 42.0h2.6v1.0h-2.6zM86.2 42.0h1.3v1.0h-1.3zM90.1 42.0h1.3v1.0h-1.3zM99.2 42.0h1.3v1.0h-1.3zM101.8 42.0h1.3v1.0h-1.3zM106.9 42.0h1.3v1.0h-1.3zM116.0 42.0h1.3v1.0h-1.3zM144.6 42.0h2.6v1.0h-2.6zM149.8 42.0h1.3v1.0h-1.3zM155.0 42.0h1.3v1.0h-1.3zM158.9 42.0h1.3v1.0h-1.3zM168.0 42.0h1.3v1.0h-1.3zM170.6 42.0h1.3v1.0h-1.3zM178.4 42.0h2.6v1.0h-2.6zM183.6 42.0h1.3v1.0h-1.3zM186.2 42.0h1.3v1.0h-1.3zM188.7 42.0h2.6v1.0h-2.6zM199.1 42.0h1.3v1.0h-1.3zM204.3 42.0h1.3v1.0h-1.3zM206.9 42.0h2.6v1.0h-2.6zM213.4 42.0h1.3v1.0h-1.3zM217.3 42.0h1.3v1.0h-1.3zM225.1 42.0h1.3v1.0h-1.3zM134.2 42.9h2.6v1.0h-2.6zM140.7 42.9h3.9v1.0h-3.9zM148.5 42.9h2.6v1.0h-2.6zM152.4 42.9h1.3v1.0h-1.3zM162.8 42.9h1.3v1.0h-1.3zM165.4 42.9h1.3v1.0h-1.3zM171.9 42.9h2.6v1.0h-2.6zM177.1 42.9h2.6v1.0h-2.6zM182.3 42.9h1.3v1.0h-1.3zM184.9 42.9h1.3v1.0h-1.3zM191.3 42.9h1.3v1.0h-1.3zM197.8 42.9h1.3v1.0h-1.3zM205.6 42.9h1.3v1.0h-1.3zM210.8 42.9h2.6v1.0h-2.6zM214.7 42.9h1.3v1.0h-1.3zM135.5 43.9h1.3v1.0h-1.3zM138.1 43.9h1.3v1.0h-1.3zM145.9 43.9h1.3v1.0h-1.3zM151.1 43.9h3.9v1.0h-3.9zM157.6 43.9h1.3v1.0h-1.3zM161.5 43.9h1.3v1.0h-1.3zM170.6 43.9h1.3v1.0h-1.3zM177.1 43.9h3.9v1.0h-3.9zM188.7 43.9h1.3v1.0h-1.3zM192.6 43.9h1.3v1.0h-1.3zM195.2 43.9h1.3v1.0h-1.3zM199.1 43.9h2.6v1.0h-2.6zM203.0 43.9h5.2v1.0h-5.2zM210.8 43.9h1.3v1.0h-1.3zM214.7 43.9h1.3v1.0h-1.3zM217.3 43.9h1.3v1.0h-1.3zM219.9 43.9h1.3v1.0h-1.3zM223.8 43.9h2.6v1.0h-2.6zM132.9 44.9h1.3v1.0h-1.3zM138.1 44.9h1.3v1.0h-1.3zM142.0 44.9h1.3v1.0h-1.3zM144.6 44.9h2.6v1.0h-2.6zM151.1 44.9h1.3v1.0h-1.3zM161.5 44.9h1.3v1.0h-1.3zM164.1 44.9h1.3v1.0h-1.3zM168.0 44.9h1.3v1.0h-1.3zM171.9 44.9h1.3v1.0h-1.3zM175.8 44.9h1.3v1.0h-1.3zM190.0 44.9h1.3v1.0h-1.3zM200.4 44.9h2.6v1.0h-2.6zM204.3 44.9h1.3v1.0h-1.3zM206.9 44.9h1.3v1.0h-1.3zM225.1 44.9h1.3v1.0h-1.3zM132.9 45.9h1.3v1.0h-1.3zM153.7 45.9h1.3v1.0h-1.3zM165.4 45.9h1.3v1.0h-1.3zM174.5 45.9h1.3v1.0h-1.3zM177.1 45.9h1.3v1.0h-1.3zM183.6 45.9h1.3v1.0h-1.3zM192.6 45.9h2.6v1.0h-2.6zM213.4 45.9h1.3v1.0h-1.3zM132.9 46.9h1.3v1.0h-1.3zM138.1 46.9h2.6v1.0h-2.6zM153.7 46.9h2.6v1.0h-2.6zM158.9 46.9h3.9v1.0h-3.9zM168.0 46.9h1.3v1.0h-1.3zM170.6 46.9h1.3v1.0h-1.3zM173.2 46.9h2.6v1.0h-2.6zM181.0 46.9h1.3v1.0h-1.3zM193.9 46.9h1.3v1.0h-1.3zM200.4 46.9h1.3v1.0h-1.3zM203.0 46.9h1.3v1.0h-1.3zM210.8 46.9h1.3v1.0h-1.3zM213.4 46.9h2.6v1.0h-2.6zM218.6 46.9h1.3v1.0h-1.3zM221.2 46.9h2.6v1.0h-2.6zM225.1 46.9h1.3v1.0h-1.3zM130.3 47.9h1.3v1.0h-1.3zM143.3 47.9h2.6v1.0h-2.6zM147.2 47.9h1.3v1.0h-1.3zM149.8 47.9h1.3v1.0h-1.3zM152.4 47.9h3.9v1.0h-3.9zM158.9 47.9h1.3v1.0h-1.3zM161.5 47.9h1.3v1.0h-1.3zM164.1 47.9h1.3v1.0h-1.3zM170.6 47.9h1.3v1.0h-1.3zM177.1 47.9h1.3v1.0h-1.3zM179.7 47.9h5.2v1.0h-5.2zM187.4 47.9h2.6v1.0h-2.6zM191.3 47.9h1.3v1.0h-1.3zM193.9 47.9h1.3v1.0h-1.3zM210.8 47.9h1.3v1.0h-1.3zM213.4 47.9h1.3v1.0h-1.3zM226.4 47.9h1.3v1.0h-1.3zM130.3 48.9h1.3v1.0h-1.3zM144.6 48.9h1.3v1.0h-1.3zM147.2 48.9h2.6v1.0h-2.6zM152.4 48.9h1.3v1.0h-1.3zM156.3 48.9h1.3v1.0h-1.3zM158.9 48.9h1.3v1.0h-1.3zM161.5 48.9h1.3v1.0h-1.3zM168.0 48.9h3.9v1.0h-3.9zM178.4 48.9h1.3v1.0h-1.3zM187.4 48.9h3.9v1.0h-3.9zM192.6 48.9h1.3v1.0h-1.3zM195.2 48.9h2.6v1.0h-2.6zM201.7 48.9h2.6v1.0h-2.6zM212.1 48.9h3.9v1.0h-3.9zM223.8 48.9h2.6v1.0h-2.6zM62.8 49.9h1.3v1.0h-1.3zM126.4 49.9h1.3v1.0h-1.3zM130.3 49.9h1.3v1.0h-1.3zM134.2 49.9h1.3v1.0h-1.3zM144.6 49.9h1.3v1.0h-1.3zM147.2 49.9h1.3v1.0h-1.3zM149.8 49.9h1.3v1.0h-1.3zM153.7 49.9h1.3v1.0h-1.3zM158.9 49.9h2.6v1.0h-2.6zM162.8 49.9h1.3v1.0h-1.3zM165.4 49.9h1.3v1.0h-1.3zM169.3 49.9h1.3v1.0h-1.3zM181.0 49.9h2.6v1.0h-2.6zM195.2 49.9h5.2v1.0h-5.2zM205.6 49.9h1.3v1.0h-1.3zM217.3 49.9h1.3v1.0h-1.3zM223.8 49.9h1.3v1.0h-1.3zM227.7 49.9h1.3v1.0h-1.3zM78.4 50.9h2.6v1.0h-2.6zM82.3 50.9h1.3v1.0h-1.3zM88.8 50.9h1.3v1.0h-1.3zM91.4 50.9h2.6v1.0h-2.6zM96.6 50.9h2.6v1.0h-2.6zM106.9 50.9h2.6v1.0h-2.6zM113.4 50.9h1.3v1.0h-1.3zM121.2 50.9h1.3v1.0h-1.3zM123.8 50.9h2.6v1.0h-2.6zM134.2 50.9h1.3v1.0h-1.3zM139.4 50.9h1.3v1.0h-1.3zM162.8 50.9h1.3v1.0h-1.3zM166.7 50.9h1.3v1.0h-1.3zM186.2 50.9h1.3v1.0h-1.3zM222.5 50.9h1.3v1.0h-1.3zM227.7 50.9h1.3v1.0h-1.3zM62.8 51.8h1.3v1.0h-1.3zM70.6 51.8h1.3v1.0h-1.3zM77.1 51.8h1.3v1.0h-1.3zM79.7 51.8h1.3v1.0h-1.3zM94.0 51.8h1.3v1.0h-1.3zM99.2 51.8h1.3v1.0h-1.3zM101.8 51.8h1.3v1.0h-1.3zM104.3 51.8h1.3v1.0h-1.3zM106.9 51.8h1.3v1.0h-1.3zM110.8 51.8h1.3v1.0h-1.3zM116.0 51.8h2.6v1.0h-2.6zM125.1 51.8h1.3v1.0h-1.3zM129.0 51.8h1.3v1.0h-1.3zM134.2 51.8h1.3v1.0h-1.3zM142.0 51.8h1.3v1.0h-1.3zM147.2 51.8h1.3v1.0h-1.3zM152.4 51.8h1.3v1.0h-1.3zM160.2 51.8h1.3v1.0h-1.3zM165.4 51.8h1.3v1.0h-1.3zM173.2 51.8h1.3v1.0h-1.3zM178.4 51.8h1.3v1.0h-1.3zM190.0 51.8h1.3v1.0h-1.3zM208.2 51.8h1.3v1.0h-1.3zM218.6 51.8h1.3v1.0h-1.3zM61.5 52.8h1.3v1.0h-1.3zM65.4 52.8h1.3v1.0h-1.3zM68.0 52.8h1.3v1.0h-1.3zM71.9 52.8h2.6v1.0h-2.6zM105.6 52.8h1.3v1.0h-1.3zM113.4 52.8h1.3v1.0h-1.3zM129.0 52.8h1.3v1.0h-1.3zM192.6 52.8h1.3v1.0h-1.3zM197.8 52.8h1.3v1.0h-1.3zM212.1 52.8h1.3v1.0h-1.3zM217.3 52.8h1.3v1.0h-1.3zM227.7 52.8h1.3v1.0h-1.3zM65.4 53.8h1.3v1.0h-1.3zM68.0 53.8h2.6v1.0h-2.6zM73.2 53.8h1.3v1.0h-1.3zM75.8 53.8h1.3v1.0h-1.3zM79.7 53.8h1.3v1.0h-1.3zM84.9 53.8h2.6v1.0h-2.6zM92.7 53.8h1.3v1.0h-1.3zM95.3 53.8h1.3v1.0h-1.3zM100.5 53.8h3.9v1.0h-3.9zM108.2 53.8h1.3v1.0h-1.3zM110.8 53.8h1.3v1.0h-1.3zM121.2 53.8h2.6v1.0h-2.6zM125.1 53.8h1.3v1.0h-1.3zM134.2 53.8h1.3v1.0h-1.3zM139.4 53.8h1.3v1.0h-1.3zM160.2 53.8h1.3v1.0h-1.3zM178.4 53.8h1.3v1.0h-1.3zM186.2 53.8h1.3v1.0h-1.3zM212.1 53.8h1.3v1.0h-1.3zM225.1 53.8h1.3v1.0h-1.3zM135.5 54.8h1.3v1.0h-1.3zM142.0 54.8h1.3v1.0h-1.3zM148.5 54.8h2.6v1.0h-2.6zM152.4 54.8h1.3v1.0h-1.3zM156.3 54.8h1.3v1.0h-1.3zM160.2 54.8h1.3v1.0h-1.3zM162.8 54.8h1.3v1.0h-1.3zM169.3 54.8h2.6v1.0h-2.6zM182.3 54.8h1.3v1.0h-1.3zM193.9 54.8h1.3v1.0h-1.3zM196.5 54.8h2.6v1.0h-2.6zM200.4 54.8h7.8v1.0h-7.8zM209.5 54.8h1.3v1.0h-1.3zM212.1 54.8h1.3v1.0h-1.3zM218.6 54.8h1.3v1.0h-1.3zM223.8 54.8h2.6v1.0h-2.6zM227.7 54.8h1.3v1.0h-1.3zM60.2 55.8h1.3v1.0h-1.3zM64.1 55.8h2.6v1.0h-2.6zM68.0 55.8h1.3v1.0h-1.3zM70.6 55.8h1.3v1.0h-1.3zM73.2 55.8h1.3v1.0h-1.3zM78.4 55.8h1.3v1.0h-1.3zM81.0 55.8h2.6v1.0h-2.6zM86.2 55.8h1.3v1.0h-1.3zM91.4 55.8h1.3v1.0h-1.3zM95.3 55.8h2.6v1.0h-2.6zM99.2 55.8h1.3v1.0h-1.3zM105.6 55.8h1.3v1.0h-1.3zM108.2 55.8h1.3v1.0h-1.3zM110.8 55.8h1.3v1.0h-1.3zM117.3 55.8h1.3v1.0h-1.3zM123.8 55.8h1.3v1.0h-1.3zM131.6 55.8h1.3v1.0h-1.3zM140.7 55.8h1.3v1.0h-1.3zM169.3 55.8h1.3v1.0h-1.3zM177.1 55.8h1.3v1.0h-1.3zM182.3 55.8h1.3v1.0h-1.3zM190.0 55.8h1.3v1.0h-1.3zM197.8 55.8h1.3v1.0h-1.3zM219.9 55.8h1.3v1.0h-1.3zM227.7 55.8h1.3v1.0h-1.3zM60.2 56.8h1.3v1.0h-1.3zM64.1 56.8h1.3v1.0h-1.3zM69.3 56.8h3.9v1.0h-3.9zM75.8 56.8h1.3v1.0h-1.3zM78.4 56.8h1.3v1.0h-1.3zM81.0 56.8h3.9v1.0h-3.9zM87.5 56.8h1.3v1.0h-1.3zM96.6 56.8h1.3v1.0h-1.3zM110.8 56.8h1.3v1.0h-1.3zM113.4 56.8h1.3v1.0h-1.3zM166.7 56.8h1.3v1.0h-1.3zM61.5 57.8h1.3v1.0h-1.3zM64.1 57.8h1.3v1.0h-1.3zM68.0 57.8h2.6v1.0h-2.6zM71.9 57.8h3.9v1.0h-3.9zM83.6 57.8h2.6v1.0h-2.6zM95.3 57.8h2.6v1.0h-2.6zM106.9 57.8h1.3v1.0h-1.3zM109.5 57.8h1.3v1.0h-1.3zM116.0 57.8h3.9v1.0h-3.9zM126.4 57.8h1.3v1.0h-1.3zM140.7 57.8h1.3v1.0h-1.3zM144.6 57.8h1.3v1.0h-1.3zM161.5 57.8h1.3v1.0h-1.3zM187.4 57.8h1.3v1.0h-1.3zM191.3 57.8h1.3v1.0h-1.3zM223.8 57.8h2.6v1.0h-2.6zM64.1 58.8h1.3v1.0h-1.3zM66.7 58.8h1.3v1.0h-1.3zM69.3 58.8h1.3v1.0h-1.3zM75.8 58.8h1.3v1.0h-1.3zM79.7 58.8h1.3v1.0h-1.3zM82.3 58.8h1.3v1.0h-1.3zM87.5 58.8h2.6v1.0h-2.6zM92.7 58.8h2.6v1.0h-2.6zM97.9 58.8h1.3v1.0h-1.3zM103.0 58.8h1.3v1.0h-1.3zM108.2 58.8h2.6v1.0h-2.6zM112.1 58.8h1.3v1.0h-1.3zM116.0 58.8h1.3v1.0h-1.3zM118.6 58.8h1.3v1.0h-1.3zM121.2 58.8h1.3v1.0h-1.3zM70.6 59.8h1.3v1.0h-1.3zM74.5 59.8h1.3v1.0h-1.3zM78.4 59.8h2.6v1.0h-2.6zM86.2 59.8h1.3v1.0h-1.3zM88.8 59.8h3.9v1.0h-3.9zM103.0 59.8h1.3v1.0h-1.3zM109.5 59.8h1.3v1.0h-1.3zM112.1 59.8h1.3v1.0h-1.3zM116.0 59.8h1.3v1.0h-1.3zM118.6 59.8h2.6v1.0h-2.6zM62.8 60.8h1.3v1.0h-1.3zM65.4 60.8h1.3v1.0h-1.3zM77.1 60.8h1.3v1.0h-1.3zM84.9 60.8h1.3v1.0h-1.3zM87.5 60.8h3.9v1.0h-3.9zM106.9 60.8h1.3v1.0h-1.3zM109.5 60.8h1.3v1.0h-1.3zM112.1 60.8h3.9v1.0h-3.9zM118.6 60.8h1.3v1.0h-1.3zM123.8 60.8h1.3v1.0h-1.3zM60.2 61.8h2.6v1.0h-2.6zM66.7 61.8h1.3v1.0h-1.3zM70.6 61.8h3.9v1.0h-3.9zM75.8 61.8h1.3v1.0h-1.3zM81.0 61.8h2.6v1.0h-2.6zM87.5 61.8h1.3v1.0h-1.3zM94.0 61.8h1.3v1.0h-1.3zM103.0 61.8h2.6v1.0h-2.6zM110.8 61.8h1.3v1.0h-1.3zM125.1 61.8h1.3v1.0h-1.3zM127.7 61.8h1.3v1.0h-1.3zM61.5 62.7h1.3v1.0h-1.3zM65.4 62.7h1.3v1.0h-1.3zM69.3 62.7h1.3v1.0h-1.3zM73.2 62.7h2.6v1.0h-2.6zM78.4 62.7h1.3v1.0h-1.3zM87.5 62.7h2.6v1.0h-2.6zM92.7 62.7h1.3v1.0h-1.3zM101.8 62.7h1.3v1.0h-1.3zM105.6 62.7h1.3v1.0h-1.3zM108.2 62.7h1.3v1.0h-1.3zM113.4 62.7h1.3v1.0h-1.3zM116.0 62.7h1.3v1.0h-1.3zM121.2 62.7h1.3v1.0h-1.3zM64.1 63.7h1.3v1.0h-1.3zM68.0 63.7h2.6v1.0h-2.6zM81.0 63.7h1.3v1.0h-1.3zM88.8 63.7h1.3v1.0h-1.3zM91.4 63.7h1.3v1.0h-1.3zM94.0 63.7h1.3v1.0h-1.3zM99.2 63.7h1.3v1.0h-1.3zM103.0 63.7h1.3v1.0h-1.3zM106.9 63.7h2.6v1.0h-2.6zM112.1 63.7h1.3v1.0h-1.3zM114.7 63.7h1.3v1.0h-1.3zM166.7 63.7h1.3v1.0h-1.3zM186.2 63.7h1.3v1.0h-1.3zM66.7 64.7h2.6v1.0h-2.6zM75.8 64.7h1.3v1.0h-1.3zM79.7 64.7h3.9v1.0h-3.9zM95.3 64.7h1.3v1.0h-1.3zM108.2 64.7h2.6v1.0h-2.6zM114.7 64.7h1.3v1.0h-1.3zM119.9 64.7h1.3v1.0h-1.3zM126.4 64.7h2.6v1.0h-2.6zM61.5 65.7h1.3v1.0h-1.3zM64.1 65.7h1.3v1.0h-1.3zM66.7 65.7h1.3v1.0h-1.3zM71.9 65.7h1.3v1.0h-1.3zM74.5 65.7h1.3v1.0h-1.3zM84.9 65.7h1.3v1.0h-1.3zM95.3 65.7h2.6v1.0h-2.6zM101.8 65.7h2.6v1.0h-2.6zM105.6 65.7h1.3v1.0h-1.3zM108.2 65.7h1.3v1.0h-1.3zM112.1 65.7h1.3v1.0h-1.3zM114.7 65.7h1.3v1.0h-1.3zM117.3 65.7h2.6v1.0h-2.6zM121.2 65.7h1.3v1.0h-1.3zM127.7 65.7h1.3v1.0h-1.3zM61.5 66.7h1.3v1.0h-1.3zM64.1 66.7h1.3v1.0h-1.3zM66.7 66.7h2.6v1.0h-2.6zM75.8 66.7h1.3v1.0h-1.3zM79.7 66.7h1.3v1.0h-1.3zM84.9 66.7h1.3v1.0h-1.3zM87.5 66.7h1.3v1.0h-1.3zM90.1 66.7h1.3v1.0h-1.3zM97.9 66.7h6.5v1.0h-6.5zM105.6 66.7h2.6v1.0h-2.6zM117.3 66.7h2.6v1.0h-2.6zM121.2 66.7h1.3v1.0h-1.3zM127.7 66.7h1.3v1.0h-1.3zM61.5 67.7h1.3v1.0h-1.3zM68.0 67.7h1.3v1.0h-1.3zM71.9 67.7h1.3v1.0h-1.3zM75.8 67.7h1.3v1.0h-1.3zM84.9 67.7h1.3v1.0h-1.3zM88.8 67.7h1.3v1.0h-1.3zM91.4 67.7h1.3v1.0h-1.3zM94.0 67.7h1.3v1.0h-1.3zM112.1 67.7h1.3v1.0h-1.3zM117.3 67.7h1.3v1.0h-1.3zM222.5 67.7h1.3v1.0h-1.3zM61.5 68.7h2.6v1.0h-2.6zM84.9 68.7h2.6v1.0h-2.6zM88.8 68.7h1.3v1.0h-1.3zM91.4 68.7h2.6v1.0h-2.6zM99.2 68.7h1.3v1.0h-1.3zM105.6 68.7h2.6v1.0h-2.6zM110.8 68.7h1.3v1.0h-1.3zM121.2 68.7h3.9v1.0h-3.9zM126.4 68.7h2.6v1.0h-2.6zM64.1 69.7h3.9v1.0h-3.9zM69.3 69.7h1.3v1.0h-1.3zM71.9 69.7h2.6v1.0h-2.6zM78.4 69.7h1.3v1.0h-1.3zM83.6 69.7h1.3v1.0h-1.3zM86.2 69.7h1.3v1.0h-1.3zM91.4 69.7h1.3v1.0h-1.3zM103.0 69.7h1.3v1.0h-1.3zM105.6 69.7h1.3v1.0h-1.3zM110.8 69.7h1.3v1.0h-1.3zM113.4 69.7h1.3v1.0h-1.3zM116.0 69.7h1.3v1.0h-1.3zM118.6 69.7h1.3v1.0h-1.3zM121.2 69.7h1.3v1.0h-1.3zM129.0 69.7h1.3v1.0h-1.3zM145.9 69.7h3.9v1.0h-3.9zM162.8 69.7h1.3v1.0h-1.3zM165.4 69.7h2.6v1.0h-2.6zM178.4 69.7h1.3v1.0h-1.3zM182.3 69.7h1.3v1.0h-1.3zM212.1 69.7h1.3v1.0h-1.3zM226.4 69.7h1.3v1.0h-1.3zM64.1 70.7h1.3v1.0h-1.3zM66.7 70.7h2.6v1.0h-2.6zM70.6 70.7h1.3v1.0h-1.3zM74.5 70.7h2.6v1.0h-2.6zM79.7 70.7h1.3v1.0h-1.3zM82.3 70.7h1.3v1.0h-1.3zM91.4 70.7h1.3v1.0h-1.3zM95.3 70.7h2.6v1.0h-2.6zM99.2 70.7h1.3v1.0h-1.3zM114.7 70.7h1.3v1.0h-1.3zM118.6 70.7h1.3v1.0h-1.3zM127.7 70.7h1.3v1.0h-1.3zM165.4 70.7h1.3v1.0h-1.3zM62.8 71.7h1.3v1.0h-1.3zM69.3 71.7h3.9v1.0h-3.9zM77.1 71.7h1.3v1.0h-1.3zM81.0 71.7h1.3v1.0h-1.3zM90.1 71.7h1.3v1.0h-1.3zM96.6 71.7h1.3v1.0h-1.3zM99.2 71.7h2.6v1.0h-2.6zM108.2 71.7h2.6v1.0h-2.6zM112.1 71.7h1.3v1.0h-1.3zM114.7 71.7h5.2v1.0h-5.2zM121.2 71.7h1.3v1.0h-1.3zM123.8 71.7h3.9v1.0h-3.9zM166.7 71.7h1.3v1.0h-1.3zM212.1 71.7h1.3v1.0h-1.3zM60.2 72.6h2.6v1.0h-2.6zM66.7 72.6h1.3v1.0h-1.3zM69.3 72.6h5.2v1.0h-5.2zM86.2 72.6h1.3v1.0h-1.3zM88.8 72.6h3.9v1.0h-3.9zM100.5 72.6h1.3v1.0h-1.3zM106.9 72.6h2.6v1.0h-2.6zM114.7 72.6h6.5v1.0h-6.5zM123.8 72.6h1.3v1.0h-1.3zM126.4 72.6h1.3v1.0h-1.3zM134.2 72.6h1.3v1.0h-1.3zM192.6 72.6h1.3v1.0h-1.3zM196.5 72.6h1.3v1.0h-1.3zM70.6 73.6h1.3v1.0h-1.3zM78.4 73.6h1.3v1.0h-1.3zM82.3 73.6h1.3v1.0h-1.3zM84.9 73.6h1.3v1.0h-1.3zM88.8 73.6h1.3v1.0h-1.3zM95.3 73.6h1.3v1.0h-1.3zM97.9 73.6h1.3v1.0h-1.3zM100.5 73.6h1.3v1.0h-1.3zM119.9 73.6h1.3v1.0h-1.3zM145.9 73.6h1.3v1.0h-1.3zM226.4 73.6h1.3v1.0h-1.3zM60.2 74.6h1.3v1.0h-1.3zM65.4 74.6h1.3v1.0h-1.3zM78.4 74.6h2.6v1.0h-2.6zM82.3 74.6h1.3v1.0h-1.3zM86.2 74.6h1.3v1.0h-1.3zM90.1 74.6h1.3v1.0h-1.3zM92.7 74.6h1.3v1.0h-1.3zM95.3 74.6h1.3v1.0h-1.3zM101.8 74.6h2.6v1.0h-2.6zM109.5 74.6h2.6v1.0h-2.6zM114.7 74.6h6.5v1.0h-6.5zM122.5 74.6h1.3v1.0h-1.3zM62.8 75.6h1.3v1.0h-1.3zM81.0 75.6h2.6v1.0h-2.6zM86.2 75.6h1.3v1.0h-1.3zM95.3 75.6h1.3v1.0h-1.3zM97.9 75.6h2.6v1.0h-2.6zM101.8 75.6h1.3v1.0h-1.3zM104.3 75.6h1.3v1.0h-1.3zM117.3 75.6h1.3v1.0h-1.3zM122.5 75.6h1.3v1.0h-1.3zM125.1 75.6h1.3v1.0h-1.3z"/>
<path fill="#e99d9d" d="M119.9 38.0h1.3v1.0h-1.3zM127.7 38.0h1.3v1.0h-1.3zM64.1 39.0h1.3v1.0h-1.3zM75.8 39.0h1.3v1.0h-1.3zM79.7 39.0h1.3v1.0h-1.3zM86.2 39.0h1.3v1.0h-1.3zM109.5 39.0h2.6v1.0h-2.6zM121.2 39.0h1.3v1.0h-1.3zM127.7 39.0h1.3v1.0h-1.3zM86.2 40.0h1.3v1.0h-1.3zM99.2 40.0h1.3v1.0h-1.3zM101.8 40.0h1.3v1.0h-1.3zM106.9 40.0h1.3v1.0h-1.3zM109.5 40.0h1.3v1.0h-1.3zM62.8 42.9h1.3v1.0h-1.3zM66.7 42.9h1.3v1.0h-1.3zM70.6 42.9h3.9v1.0h-3.9zM77.1 42.9h1.3v1.0h-1.3zM79.7 42.9h1.3v1.0h-1.3zM83.6 42.9h1.3v1.0h-1.3zM95.3 42.9h2.6v1.0h-2.6zM101.8 42.9h2.6v1.0h-2.6zM105.6 42.9h3.9v1.0h-3.9zM112.1 42.9h1.3v1.0h-1.3zM114.7 42.9h2.6v1.0h-2.6zM68.0 43.9h1.3v1.0h-1.3zM78.4 43.9h1.3v1.0h-1.3zM83.6 43.9h2.6v1.0h-2.6zM87.5 43.9h1.3v1.0h-1.3zM101.8 43.9h1.3v1.0h-1.3zM105.6 43.9h1.3v1.0h-1.3zM108.2 43.9h1.3v1.0h-1.3zM112.1 43.9h2.6v1.0h-2.6zM127.7 43.9h1.3v1.0h-1.3zM62.8 44.9h1.3v1.0h-1.3zM71.9 44.9h1.3v1.0h-1.3zM77.1 44.9h1.3v1.0h-1.3zM91.4 44.9h1.3v1.0h-1.3zM94.0 44.9h1.3v1.0h-1.3zM97.9 44.9h1.3v1.0h-1.3zM103.0 44.9h1.3v1.0h-1.3zM109.5 44.9h1.3v1.0h-1.3zM112.1 44.9h1.3v1.0h-1.3zM121.2 44.9h1.3v1.0h-1.3zM71.9 45.9h1.3v1.0h-1.3zM75.8 45.9h2.6v1.0h-2.6zM95.3 45.9h1.3v1.0h-1.3zM97.9 45.9h1.3v1.0h-1.3zM110.8 45.9h1.3v1.0h-1.3zM113.4 45.9h1.3v1.0h-1.3zM116.0 45.9h1.3v1.0h-1.3zM60.2 46.9h1.3v1.0h-1.3zM66.7 46.9h1.3v1.0h-1.3zM75.8 46.9h2.6v1.0h-2.6zM79.7 46.9h1.3v1.0h-1.3zM90.1 46.9h2.6v1.0h-2.6zM94.0 46.9h1.3v1.0h-1.3zM96.6 46.9h3.9v1.0h-3.9zM108.2 46.9h1.3v1.0h-1.3zM110.8 46.9h1.3v1.0h-1.3zM117.3 46.9h2.6v1.0h-2.6zM61.5 47.9h1.3v1.0h-1.3zM66.7 47.9h1.3v1.0h-1.3zM71.9 47.9h1.3v1.0h-1.3zM77.1 47.9h1.3v1.0h-1.3zM79.7 47.9h1.3v1.0h-1.3zM84.9 47.9h1.3v1.0h-1.3zM87.5 47.9h1.3v1.0h-1.3zM101.8 47.9h1.3v1.0h-1.3zM105.6 47.9h1.3v1.0h-1.3zM108.2 47.9h2.6v1.0h-2.6zM112.1 47.9h1.3v1.0h-1.3zM117.3 47.9h1.3v1.0h-1.3zM125.1 47.9h1.3v1.0h-1.3zM127.7 47.9h1.3v1.0h-1.3zM60.2 48.9h1.3v1.0h-1.3zM62.8 48.9h1.3v1.0h-1.3zM74.5 48.9h1.3v1.0h-1.3zM78.4 48.9h2.6v1.0h-2.6zM83.6 48.9h1.3v1.0h-1.3zM86.2 48.9h1.3v1.0h-1.3zM88.8 48.9h2.6v1.0h-2.6zM101.8 48.9h1.3v1.0h-1.3zM104.3 48.9h1.3v1.0h-1.3zM114.7 48.9h1.3v1.0h-1.3zM125.1 48.9h1.3v1.0h-1.3zM68.0 49.9h1.3v1.0h-1.3zM81.0 49.9h1.3v1.0h-1.3zM87.5 49.9h3.9v1.0h-3.9zM95.3 49.9h2.6v1.0h-2.6zM109.5 49.9h1.3v1.0h-1.3zM113.4 49.9h1.3v1.0h-1.3zM164.1 50.9h1.3v1.0h-1.3zM145.9 53.8h1.3v1.0h-1.3zM156.3 53.8h1.3v1.0h-1.3zM149.8 55.8h1.3v1.0h-1.3zM196.5 55.8h1.3v1.0h-1.3zM200.4 55.8h1.3v1.0h-1.3zM225.1 55.8h1.3v1.0h-1.3zM129.0 56.8h1.3v1.0h-1.3zM135.5 56.8h1.3v1.0h-1.3zM138.1 56.8h1.3v1.0h-1.3zM149.8 56.8h1.3v1.0h-1.3zM169.3 56.8h1.3v1.0h-1.3zM181.0 56.8h1.3v1.0h-1.3zM183.6 56.8h1.3v1.0h-1.3zM200.4 56.8h1.3v1.0h-1.3zM209.5 56.8h1.3v1.0h-1.3zM214.7 56.8h2.6v1.0h-2.6zM212.1 57.8h1.3v1.0h-1.3zM139.4 58.8h1.3v1.0h-1.3zM152.4 58.8h1.3v1.0h-1.3zM155.0 58.8h1.3v1.0h-1.3zM170.6 58.8h1.3v1.0h-1.3zM174.5 58.8h1.3v1.0h-1.3zM178.4 58.8h1.3v1.0h-1.3zM187.4 58.8h1.3v1.0h-1.3zM197.8 58.8h1.3v1.0h-1.3zM216.0 58.8h1.3v1.0h-1.3zM129.0 59.8h2.6v1.0h-2.6zM135.5 59.8h1.3v1.0h-1.3zM149.8 59.8h1.3v1.0h-1.3zM164.1 59.8h2.6v1.0h-2.6zM182.3 59.8h1.3v1.0h-1.3zM184.9 59.8h2.6v1.0h-2.6zM205.6 59.8h2.6v1.0h-2.6zM212.1 59.8h1.3v1.0h-1.3zM214.7 59.8h1.3v1.0h-1.3zM138.1 60.8h1.3v1.0h-1.3zM161.5 60.8h1.3v1.0h-1.3zM217.3 60.8h1.3v1.0h-1.3zM142.0 61.8h1.3v1.0h-1.3zM162.8 61.8h1.3v1.0h-1.3zM223.8 61.8h1.3v1.0h-1.3zM132.9 62.7h1.3v1.0h-1.3zM140.7 62.7h1.3v1.0h-1.3zM145.9 62.7h2.6v1.0h-2.6zM169.3 62.7h2.6v1.0h-2.6zM179.7 62.7h1.3v1.0h-1.3zM183.6 62.7h1.3v1.0h-1.3zM186.2 62.7h1.3v1.0h-1.3zM191.3 62.7h1.3v1.0h-1.3zM195.2 62.7h1.3v1.0h-1.3zM200.4 62.7h1.3v1.0h-1.3zM217.3 62.7h1.3v1.0h-1.3zM132.9 63.7h1.3v1.0h-1.3zM136.8 63.7h1.3v1.0h-1.3zM157.6 63.7h1.3v1.0h-1.3zM192.6 63.7h1.3v1.0h-1.3zM199.1 63.7h1.3v1.0h-1.3zM130.3 64.7h1.3v1.0h-1.3zM134.2 64.7h1.3v1.0h-1.3zM145.9 64.7h1.3v1.0h-1.3zM149.8 64.7h1.3v1.0h-1.3zM160.2 64.7h2.6v1.0h-2.6zM165.4 64.7h1.3v1.0h-1.3zM175.8 64.7h1.3v1.0h-1.3zM188.7 64.7h3.9v1.0h-3.9zM196.5 64.7h1.3v1.0h-1.3zM204.3 64.7h1.3v1.0h-1.3zM210.8 64.7h1.3v1.0h-1.3zM214.7 64.7h1.3v1.0h-1.3zM219.9 64.7h1.3v1.0h-1.3zM226.4 64.7h1.3v1.0h-1.3zM132.9 65.7h2.6v1.0h-2.6zM140.7 65.7h1.3v1.0h-1.3zM143.3 65.7h1.3v1.0h-1.3zM149.8 65.7h3.9v1.0h-3.9zM160.2 65.7h1.3v1.0h-1.3zM162.8 65.7h1.3v1.0h-1.3zM165.4 65.7h1.3v1.0h-1.3zM175.8 65.7h1.3v1.0h-1.3zM196.5 65.7h1.3v1.0h-1.3zM199.1 65.7h1.3v1.0h-1.3zM203.0 65.7h5.2v1.0h-5.2zM214.7 65.7h1.3v1.0h-1.3zM227.7 65.7h1.3v1.0h-1.3zM140.7 66.7h1.3v1.0h-1.3zM144.6 66.7h1.3v1.0h-1.3zM151.1 66.7h1.3v1.0h-1.3zM156.3 66.7h1.3v1.0h-1.3zM162.8 66.7h1.3v1.0h-1.3zM166.7 66.7h2.6v1.0h-2.6zM174.5 66.7h1.3v1.0h-1.3zM213.4 66.7h1.3v1.0h-1.3zM219.9 66.7h1.3v1.0h-1.3zM131.6 67.7h1.3v1.0h-1.3zM135.5 67.7h1.3v1.0h-1.3zM143.3 67.7h1.3v1.0h-1.3zM147.2 67.7h2.6v1.0h-2.6zM152.4 67.7h1.3v1.0h-1.3zM156.3 67.7h1.3v1.0h-1.3zM166.7 67.7h1.3v1.0h-1.3zM169.3 67.7h5.2v1.0h-5.2zM179.7 67.7h1.3v1.0h-1.3zM182.3 67.7h1.3v1.0h-1.3zM184.9 67.7h1.3v1.0h-1.3zM192.6 67.7h1.3v1.0h-1.3zM195.2 67.7h1.3v1.0h-1.3zM197.8 67.7h1.3v1.0h-1.3zM205.6 67.7h1.3v1.0h-1.3zM208.2 67.7h1.3v1.0h-1.3zM213.4 67.7h2.6v1.0h-2.6zM217.3 67.7h1.3v1.0h-1.3zM223.8 67.7h2.6v1.0h-2.6zM227.7 67.7h1.3v1.0h-1.3zM131.6 68.7h1.3v1.0h-1.3zM139.4 68.7h1.3v1.0h-1.3zM147.2 68.7h1.3v1.0h-1.3zM156.3 68.7h3.9v1.0h-3.9zM161.5 68.7h1.3v1.0h-1.3zM164.1 68.7h1.3v1.0h-1.3zM178.4 68.7h1.3v1.0h-1.3zM190.0 68.7h1.3v1.0h-1.3zM199.1 68.7h1.3v1.0h-1.3zM203.0 68.7h1.3v1.0h-1.3zM205.6 68.7h1.3v1.0h-1.3zM214.7 68.7h1.3v1.0h-1.3zM225.1 68.7h1.3v1.0h-1.3zM227.7 68.7h1.3v1.0h-1.3zM179.7 69.7h1.3v1.0h-1.3zM138.1 70.7h1.3v1.0h-1.3zM164.1 70.7h1.3v1.0h-1.3zM170.6 70.7h1.3v1.0h-1.3zM186.2 70.7h2.6v1.0h-2.6zM190.0 70.7h1.3v1.0h-1.3zM199.1 70.7h1.3v1.0h-1.3zM204.3 70.7h1.3v1.0h-1.3zM221.2 70.7h1.3v1.0h-1.3zM144.6 71.7h1.3v1.0h-1.3zM155.0 71.7h1.3v1.0h-1.3zM179.7 71.7h1.3v1.0h-1.3zM196.5 71.7h1.3v1.0h-1.3zM201.7 71.7h1.3v1.0h-1.3zM205.6 71.7h1.3v1.0h-1.3zM216.0 71.7h1.3v1.0h-1.3zM225.1 71.7h1.3v1.0h-1.3zM131.6 72.6h1.3v1.0h-1.3zM144.6 72.6h1.3v1.0h-1.3zM149.8 72.6h1.3v1.0h-1.3zM169.3 72.6h1.3v1.0h-1.3zM181.0 72.6h1.3v1.0h-1.3zM193.9 72.6h1.3v1.0h-1.3zM199.1 72.6h1.3v1.0h-1.3zM203.0 72.6h1.3v1.0h-1.3zM205.6 72.6h2.6v1.0h-2.6zM210.8 72.6h1.3v1.0h-1.3zM216.0 72.6h1.3v1.0h-1.3zM140.7 73.6h1.3v1.0h-1.3zM152.4 73.6h1.3v1.0h-1.3zM162.8 73.6h2.6v1.0h-2.6zM166.7 73.6h2.6v1.0h-2.6zM178.4 73.6h1.3v1.0h-1.3zM206.9 73.6h1.3v1.0h-1.3zM209.5 73.6h1.3v1.0h-1.3zM136.8 74.6h1.3v1.0h-1.3zM140.7 74.6h1.3v1.0h-1.3zM144.6 74.6h1.3v1.0h-1.3zM152.4 74.6h1.3v1.0h-1.3zM168.0 74.6h1.3v1.0h-1.3zM173.2 74.6h1.3v1.0h-1.3zM177.1 74.6h1.3v1.0h-1.3zM182.3 74.6h1.3v1.0h-1.3zM186.2 74.6h1.3v1.0h-1.3zM190.0 74.6h2.6v1.0h-2.6zM195.2 74.6h1.3v1.0h-1.3zM219.9 74.6h2.6v1.0h-2.6zM223.8 74.6h3.9v1.0h-3.9zM131.6 75.6h1.3v1.0h-1.3zM135.5 75.6h1.3v1.0h-1.3zM152.4 75.6h1.3v1.0h-1.3zM156.3 75.6h1.3v1.0h-1.3zM160.2 75.6h1.3v1.0h-1.3zM170.6 75.6h1.3v1.0h-1.3zM175.8 75.6h1.3v1.0h-1.3zM187.4 75.6h1.3v1.0h-1.3zM190.0 75.6h1.3v1.0h-1.3zM199.1 75.6h1.3v1.0h-1.3zM201.7 75.6h1.3v1.0h-1.3zM206.9 75.6h1.3v1.0h-1.3zM217.3 75.6h1.3v1.0h-1.3zM223.8 75.6h1.3v1.0h-1.3z"/>
<path fill="#a5c7e5" d="M129.0 38.0h1.3v1.0h-1.3zM134.2 38.0h1.3v1.0h-1.3zM139.4 38.0h1.3v1.0h-1.3zM143.3 38.0h1.3v1.0h-1.3zM165.4 38.0h3.9v1.0h-3.9zM182.3 38.0h1.3v1.0h-1.3zM193.9 38.0h1.3v1.0h-1.3zM197.8 38.0h1.3v1.0h-1.3zM216.0 38.0h1.3v1.0h-1.3zM218.6 38.0h1.3v1.0h-1.3zM222.5 38.0h1.3v1.0h-1.3zM227.7 38.0h1.3v1.0h-1.3zM129.0 39.0h1.3v1.0h-1.3zM134.2 39.0h1.3v1.0h-1.3zM142.0 39.0h1.3v1.0h-1.3zM147.2 39.0h1.3v1.0h-1.3zM151.1 39.0h1.3v1.0h-1.3zM153.7 39.0h1.3v1.0h-1.3zM157.6 39.0h1.3v1.0h-1.3zM168.0 39.0h1.3v1.0h-1.3zM178.4 39.0h1.3v1.0h-1.3zM184.9 39.0h1.3v1.0h-1.3zM193.9 39.0h1.3v1.0h-1.3zM201.7 39.0h1.3v1.0h-1.3zM219.9 39.0h5.2v1.0h-5.2zM226.4 39.0h1.3v1.0h-1.3zM147.2 40.0h1.3v1.0h-1.3zM166.7 40.0h1.3v1.0h-1.3zM201.7 40.0h1.3v1.0h-1.3zM219.9 40.0h1.3v1.0h-1.3zM79.7 42.0h1.3v1.0h-1.3zM147.2 42.0h1.3v1.0h-1.3zM162.8 42.0h1.3v1.0h-1.3zM165.4 42.0h2.6v1.0h-2.6zM173.2 42.0h1.3v1.0h-1.3zM187.4 42.0h1.3v1.0h-1.3zM191.3 42.0h1.3v1.0h-1.3zM136.8 43.9h1.3v1.0h-1.3zM166.7 43.9h1.3v1.0h-1.3zM129.0 44.9h1.3v1.0h-1.3zM158.9 44.9h1.3v1.0h-1.3zM166.7 44.9h1.3v1.0h-1.3zM188.7 44.9h1.3v1.0h-1.3zM195.2 44.9h1.3v1.0h-1.3zM129.0 45.9h1.3v1.0h-1.3zM142.0 45.9h1.3v1.0h-1.3zM147.2 45.9h1.3v1.0h-1.3zM164.1 45.9h1.3v1.0h-1.3zM219.9 45.9h1.3v1.0h-1.3zM83.6 52.8h1.3v1.0h-1.3zM97.9 52.8h1.3v1.0h-1.3zM117.3 52.8h1.3v1.0h-1.3zM123.8 52.8h2.6v1.0h-2.6zM118.6 53.8h1.3v1.0h-1.3zM64.1 54.8h2.6v1.0h-2.6zM71.9 54.8h1.3v1.0h-1.3zM75.8 54.8h1.3v1.0h-1.3zM78.4 54.8h1.3v1.0h-1.3zM82.3 54.8h3.9v1.0h-3.9zM94.0 54.8h2.6v1.0h-2.6zM100.5 54.8h2.6v1.0h-2.6zM106.9 54.8h5.2v1.0h-5.2zM116.0 54.8h1.3v1.0h-1.3zM122.5 54.8h1.3v1.0h-1.3zM129.0 54.8h1.3v1.0h-1.3zM134.2 54.8h1.3v1.0h-1.3zM187.4 54.8h1.3v1.0h-1.3zM191.3 54.8h1.3v1.0h-1.3zM221.2 54.8h1.3v1.0h-1.3zM79.7 56.8h1.3v1.0h-1.3zM100.5 56.8h1.3v1.0h-1.3zM123.8 56.8h1.3v1.0h-1.3zM78.4 57.8h1.3v1.0h-1.3zM82.3 57.8h1.3v1.0h-1.3zM110.8 57.8h1.3v1.0h-1.3zM125.1 57.8h1.3v1.0h-1.3zM100.5 58.8h1.3v1.0h-1.3zM77.1 64.7h1.3v1.0h-1.3zM92.7 64.7h1.3v1.0h-1.3zM100.5 64.7h1.3v1.0h-1.3zM123.8 64.7h1.3v1.0h-1.3zM83.6 65.7h1.3v1.0h-1.3zM83.6 66.7h1.3v1.0h-1.3zM104.3 66.7h1.3v1.0h-1.3zM114.7 66.7h1.3v1.0h-1.3zM78.4 67.7h1.3v1.0h-1.3zM114.7 67.7h1.3v1.0h-1.3zM119.9 67.7h1.3v1.0h-1.3zM125.1 67.7h1.3v1.0h-1.3zM82.3 68.7h1.3v1.0h-1.3zM117.3 68.7h1.3v1.0h-1.3zM119.9 68.7h1.3v1.0h-1.3zM125.1 68.7h1.3v1.0h-1.3zM82.3 69.7h1.3v1.0h-1.3zM90.1 69.7h1.3v1.0h-1.3zM99.2 69.7h1.3v1.0h-1.3zM104.3 69.7h1.3v1.0h-1.3zM112.1 69.7h1.3v1.0h-1.3zM119.9 69.7h1.3v1.0h-1.3zM104.3 72.6h1.3v1.0h-1.3zM104.3 74.6h1.3v1.0h-1.3z"/>
<path fill="#8cb4dc" d="M136.8 39.0h1.3v1.0h-1.3zM165.4 39.0h2.6v1.0h-2.6zM182.3 39.0h1.3v1.0h-1.3zM197.8 39.0h1.3v1.0h-1.3zM208.2 39.0h1.3v1.0h-1.3zM217.3 39.0h1.3v1.0h-1.3zM225.1 39.0h1.3v1.0h-1.3zM227.7 39.0h1.3v1.0h-1.3zM226.4 44.9h1.3v1.0h-1.3zM99.2 52.8h1.3v1.0h-1.3zM69.3 54.8h1.3v1.0h-1.3zM74.5 54.8h1.3v1.0h-1.3zM97.9 54.8h2.6v1.0h-2.6zM222.5 54.8h1.3v1.0h-1.3zM226.4 54.8h1.3v1.0h-1.3zM97.9 55.8h1.3v1.0h-1.3zM104.3 62.7h1.3v1.0h-1.3z"/>
<path fill="#e28282" d="M62.8 40.0h1.3v1.0h-1.3zM71.9 40.0h2.6v1.0h-2.6zM95.3 40.0h1.3v1.0h-1.3zM121.2 40.0h1.3v1.0h-1.3zM60.2 42.9h2.6v1.0h-2.6zM64.1 42.9h1.3v1.0h-1.3zM75.8 42.9h1.3v1.0h-1.3zM94.0 42.9h1.3v1.0h-1.3zM99.2 42.9h2.6v1.0h-2.6zM104.3 42.9h1.3v1.0h-1.3zM113.4 42.9h1.3v1.0h-1.3zM119.9 42.9h2.6v1.0h-2.6zM125.1 42.9h1.3v1.0h-1.3zM64.1 43.9h1.3v1.0h-1.3zM69.3 43.9h1.3v1.0h-1.3zM71.9 43.9h1.3v1.0h-1.3zM79.7 43.9h1.3v1.0h-1.3zM94.0 43.9h1.3v1.0h-1.3zM96.6 43.9h1.3v1.0h-1.3zM109.5 43.9h1.3v1.0h-1.3zM121.2 43.9h1.3v1.0h-1.3zM66.7 44.9h1.3v1.0h-1.3zM73.2 44.9h1.3v1.0h-1.3zM83.6 44.9h1.3v1.0h-1.3zM96.6 44.9h1.3v1.0h-1.3zM99.2 44.9h1.3v1.0h-1.3zM105.6 44.9h1.3v1.0h-1.3zM110.8 44.9h1.3v1.0h-1.3zM117.3 44.9h1.3v1.0h-1.3zM125.1 44.9h1.3v1.0h-1.3zM127.7 44.9h1.3v1.0h-1.3zM60.2 45.9h1.3v1.0h-1.3zM64.1 45.9h1.3v1.0h-1.3zM66.7 45.9h1.3v1.0h-1.3zM70.6 45.9h1.3v1.0h-1.3zM74.5 45.9h1.3v1.0h-1.3zM78.4 45.9h2.6v1.0h-2.6zM83.6 45.9h2.6v1.0h-2.6zM87.5 45.9h1.3v1.0h-1.3zM94.0 45.9h1.3v1.0h-1.3zM96.6 45.9h1.3v1.0h-1.3zM99.2 45.9h1.3v1.0h-1.3zM101.8 45.9h1.3v1.0h-1.3zM108.2 45.9h1.3v1.0h-1.3zM114.7 45.9h1.3v1.0h-1.3zM117.3 45.9h1.3v1.0h-1.3zM119.9 45.9h3.9v1.0h-3.9zM126.4 45.9h2.6v1.0h-2.6zM65.4 46.9h1.3v1.0h-1.3zM68.0 46.9h5.2v1.0h-5.2zM78.4 46.9h1.3v1.0h-1.3zM83.6 46.9h1.3v1.0h-1.3zM87.5 46.9h1.3v1.0h-1.3zM100.5 46.9h1.3v1.0h-1.3zM104.3 46.9h1.3v1.0h-1.3zM112.1 46.9h2.6v1.0h-2.6zM125.1 46.9h3.9v1.0h-3.9zM64.1 47.9h1.3v1.0h-1.3zM88.8 47.9h1.3v1.0h-1.3zM92.7 47.9h3.9v1.0h-3.9zM114.7 47.9h1.3v1.0h-1.3zM121.2 47.9h1.3v1.0h-1.3zM69.3 48.9h2.6v1.0h-2.6zM75.8 48.9h1.3v1.0h-1.3zM84.9 48.9h1.3v1.0h-1.3zM87.5 48.9h1.3v1.0h-1.3zM92.7 48.9h1.3v1.0h-1.3zM95.3 48.9h1.3v1.0h-1.3zM99.2 48.9h1.3v1.0h-1.3zM103.0 48.9h1.3v1.0h-1.3zM105.6 48.9h1.3v1.0h-1.3zM108.2 48.9h2.6v1.0h-2.6zM116.0 48.9h1.3v1.0h-1.3zM94.0 49.9h1.3v1.0h-1.3zM103.0 49.9h1.3v1.0h-1.3zM129.0 58.8h2.6v1.0h-2.6zM140.7 58.8h2.6v1.0h-2.6zM148.5 58.8h3.9v1.0h-3.9zM153.7 58.8h1.3v1.0h-1.3zM158.9 58.8h2.6v1.0h-2.6zM162.8 58.8h1.3v1.0h-1.3zM169.3 58.8h1.3v1.0h-1.3zM177.1 58.8h1.3v1.0h-1.3zM179.7 58.8h1.3v1.0h-1.3zM183.6 58.8h2.6v1.0h-2.6zM193.9 58.8h2.6v1.0h-2.6zM201.7 58.8h1.3v1.0h-1.3zM206.9 58.8h1.3v1.0h-1.3zM209.5 58.8h1.3v1.0h-1.3zM213.4 58.8h2.6v1.0h-2.6zM219.9 58.8h2.6v1.0h-2.6zM223.8 58.8h1.3v1.0h-1.3zM131.6 59.8h1.3v1.0h-1.3zM138.1 59.8h1.3v1.0h-1.3zM145.9 59.8h1.3v1.0h-1.3zM153.7 59.8h1.3v1.0h-1.3zM161.5 59.8h2.6v1.0h-2.6zM168.0 59.8h1.3v1.0h-1.3zM170.6 59.8h1.3v1.0h-1.3zM174.5 59.8h2.6v1.0h-2.6zM179.7 59.8h1.3v1.0h-1.3zM187.4 59.8h1.3v1.0h-1.3zM191.3 59.8h1.3v1.0h-1.3zM196.5 59.8h1.3v1.0h-1.3zM199.1 59.8h1.3v1.0h-1.3zM203.0 59.8h1.3v1.0h-1.3zM218.6 59.8h1.3v1.0h-1.3zM221.2 59.8h1.3v1.0h-1.3zM225.1 59.8h1.3v1.0h-1.3zM139.4 60.8h1.3v1.0h-1.3zM143.3 60.8h1.3v1.0h-1.3zM165.4 60.8h1.3v1.0h-1.3zM170.6 60.8h1.3v1.0h-1.3zM173.2 60.8h1.3v1.0h-1.3zM178.4 60.8h1.3v1.0h-1.3zM181.0 60.8h1.3v1.0h-1.3zM183.6 60.8h1.3v1.0h-1.3zM188.7 60.8h2.6v1.0h-2.6zM212.1 60.8h1.3v1.0h-1.3zM216.0 60.8h1.3v1.0h-1.3zM218.6 60.8h1.3v1.0h-1.3zM223.8 60.8h1.3v1.0h-1.3zM226.4 60.8h1.3v1.0h-1.3zM136.8 61.8h1.3v1.0h-1.3zM140.7 61.8h1.3v1.0h-1.3zM145.9 61.8h1.3v1.0h-1.3zM153.7 61.8h1.3v1.0h-1.3zM160.2 61.8h1.3v1.0h-1.3zM168.0 61.8h2.6v1.0h-2.6zM174.5 61.8h1.3v1.0h-1.3zM182.3 61.8h1.3v1.0h-1.3zM184.9 61.8h1.3v1.0h-1.3zM192.6 61.8h1.3v1.0h-1.3zM208.2 61.8h1.3v1.0h-1.3zM217.3 61.8h2.6v1.0h-2.6zM130.3 62.7h2.6v1.0h-2.6zM135.5 62.7h1.3v1.0h-1.3zM143.3 62.7h1.3v1.0h-1.3zM173.2 62.7h1.3v1.0h-1.3zM178.4 62.7h1.3v1.0h-1.3zM184.9 62.7h1.3v1.0h-1.3zM213.4 62.7h1.3v1.0h-1.3zM148.5 63.7h1.3v1.0h-1.3zM203.0 63.7h1.3v1.0h-1.3zM135.5 64.7h5.2v1.0h-5.2zM156.3 64.7h3.9v1.0h-3.9zM164.1 64.7h1.3v1.0h-1.3zM169.3 64.7h1.3v1.0h-1.3zM171.9 64.7h1.3v1.0h-1.3zM174.5 64.7h1.3v1.0h-1.3zM182.3 64.7h1.3v1.0h-1.3zM184.9 64.7h1.3v1.0h-1.3zM192.6 64.7h1.3v1.0h-1.3zM201.7 64.7h1.3v1.0h-1.3zM205.6 64.7h1.3v1.0h-1.3zM218.6 64.7h1.3v1.0h-1.3zM225.1 64.7h1.3v1.0h-1.3zM148.5 65.7h1.3v1.0h-1.3zM161.5 65.7h1.3v1.0h-1.3zM170.6 65.7h1.3v1.0h-1.3zM179.7 65.7h1.3v1.0h-1.3zM183.6 65.7h1.3v1.0h-1.3zM195.2 65.7h1.3v1.0h-1.3zM210.8 65.7h3.9v1.0h-3.9zM221.2 65.7h1.3v1.0h-1.3zM130.3 66.7h1.3v1.0h-1.3zM132.9 66.7h2.6v1.0h-2.6zM138.1 66.7h2.6v1.0h-2.6zM153.7 66.7h1.3v1.0h-1.3zM158.9 66.7h1.3v1.0h-1.3zM161.5 66.7h1.3v1.0h-1.3zM164.1 66.7h1.3v1.0h-1.3zM169.3 66.7h2.6v1.0h-2.6zM173.2 66.7h1.3v1.0h-1.3zM179.7 66.7h1.3v1.0h-1.3zM191.3 66.7h2.6v1.0h-2.6zM201.7 66.7h1.3v1.0h-1.3zM208.2 66.7h2.6v1.0h-2.6zM227.7 66.7h1.3v1.0h-1.3zM138.1 67.7h1.3v1.0h-1.3zM151.1 67.7h1.3v1.0h-1.3zM155.0 67.7h1.3v1.0h-1.3zM158.9 67.7h1.3v1.0h-1.3zM162.8 67.7h1.3v1.0h-1.3zM174.5 67.7h5.2v1.0h-5.2zM190.0 67.7h1.3v1.0h-1.3zM196.5 67.7h1.3v1.0h-1.3zM199.1 67.7h1.3v1.0h-1.3zM206.9 67.7h1.3v1.0h-1.3zM218.6 67.7h2.6v1.0h-2.6zM226.4 67.7h1.3v1.0h-1.3zM130.3 68.7h1.3v1.0h-1.3zM135.5 68.7h3.9v1.0h-3.9zM140.7 68.7h1.3v1.0h-1.3zM145.9 68.7h1.3v1.0h-1.3zM160.2 68.7h1.3v1.0h-1.3zM165.4 68.7h1.3v1.0h-1.3zM168.0 68.7h1.3v1.0h-1.3zM170.6 68.7h2.6v1.0h-2.6zM175.8 68.7h1.3v1.0h-1.3zM182.3 68.7h5.2v1.0h-5.2zM188.7 68.7h1.3v1.0h-1.3zM193.9 68.7h2.6v1.0h-2.6zM197.8 68.7h1.3v1.0h-1.3zM201.7 68.7h1.3v1.0h-1.3zM208.2 68.7h1.3v1.0h-1.3zM213.4 68.7h1.3v1.0h-1.3zM219.9 68.7h1.3v1.0h-1.3zM222.5 68.7h2.6v1.0h-2.6zM179.7 70.7h1.3v1.0h-1.3zM195.2 70.7h1.3v1.0h-1.3zM148.5 71.7h1.3v1.0h-1.3zM164.1 71.7h1.3v1.0h-1.3zM135.5 72.6h1.3v1.0h-1.3zM155.0 72.6h1.3v1.0h-1.3zM168.0 72.6h1.3v1.0h-1.3zM132.9 73.6h1.3v1.0h-1.3zM155.0 73.6h2.6v1.0h-2.6zM183.6 73.6h1.3v1.0h-1.3zM199.1 73.6h1.3v1.0h-1.3zM139.4 74.6h1.3v1.0h-1.3zM149.8 74.6h1.3v1.0h-1.3zM156.3 74.6h1.3v1.0h-1.3zM169.3 74.6h3.9v1.0h-3.9zM174.5 74.6h2.6v1.0h-2.6zM188.7 74.6h1.3v1.0h-1.3zM193.9 74.6h1.3v1.0h-1.3zM196.5 74.6h1.3v1.0h-1.3zM210.8 74.6h6.5v1.0h-6.5zM132.9 75.6h1.3v1.0h-1.3zM164.1 75.6h1.3v1.0h-1.3zM171.9 75.6h1.3v1.0h-1.3z"/>
<path fill="#d34a4c" d="M74.5 42.9h1.3v1.0h-1.3zM84.9 42.9h1.3v1.0h-1.3zM90.1 42.9h1.3v1.0h-1.3zM110.8 42.9h1.3v1.0h-1.3zM87.5 44.9h1.3v1.0h-1.3zM92.7 45.9h1.3v1.0h-1.3zM118.6 45.9h1.3v1.0h-1.3zM68.0 48.9h1.3v1.0h-1.3zM77.1 48.9h1.3v1.0h-1.3zM112.1 48.9h1.3v1.0h-1.3zM121.2 48.9h1.3v1.0h-1.3zM127.7 48.9h1.3v1.0h-1.3zM136.8 58.8h1.3v1.0h-1.3zM156.3 58.8h1.3v1.0h-1.3zM186.2 58.8h1.3v1.0h-1.3zM200.4 58.8h1.3v1.0h-1.3zM204.3 58.8h1.3v1.0h-1.3zM132.9 59.8h1.3v1.0h-1.3zM210.8 59.8h1.3v1.0h-1.3zM129.0 60.8h2.6v1.0h-2.6zM136.8 60.8h1.3v1.0h-1.3zM148.5 60.8h2.6v1.0h-2.6zM152.4 60.8h1.3v1.0h-1.3zM155.0 60.8h1.3v1.0h-1.3zM158.9 60.8h1.3v1.0h-1.3zM169.3 60.8h1.3v1.0h-1.3zM182.3 60.8h1.3v1.0h-1.3zM186.2 60.8h1.3v1.0h-1.3zM191.3 60.8h3.9v1.0h-3.9zM199.1 60.8h1.3v1.0h-1.3zM205.6 60.8h1.3v1.0h-1.3zM210.8 60.8h1.3v1.0h-1.3zM213.4 60.8h1.3v1.0h-1.3zM222.5 60.8h1.3v1.0h-1.3zM225.1 60.8h1.3v1.0h-1.3zM131.6 61.8h2.6v1.0h-2.6zM138.1 61.8h1.3v1.0h-1.3zM143.3 61.8h1.3v1.0h-1.3zM148.5 61.8h1.3v1.0h-1.3zM152.4 61.8h1.3v1.0h-1.3zM157.6 61.8h1.3v1.0h-1.3zM161.5 61.8h1.3v1.0h-1.3zM171.9 61.8h2.6v1.0h-2.6zM175.8 61.8h1.3v1.0h-1.3zM178.4 61.8h1.3v1.0h-1.3zM181.0 61.8h1.3v1.0h-1.3zM190.0 61.8h1.3v1.0h-1.3zM193.9 61.8h1.3v1.0h-1.3zM200.4 61.8h2.6v1.0h-2.6zM206.9 61.8h1.3v1.0h-1.3zM213.4 61.8h2.6v1.0h-2.6zM219.9 61.8h2.6v1.0h-2.6zM226.4 61.8h1.3v1.0h-1.3zM199.1 62.7h1.3v1.0h-1.3zM132.9 64.7h1.3v1.0h-1.3zM143.3 64.7h1.3v1.0h-1.3zM152.4 66.7h1.3v1.0h-1.3zM160.2 66.7h1.3v1.0h-1.3zM175.8 66.7h1.3v1.0h-1.3zM184.9 66.7h2.6v1.0h-2.6zM193.9 66.7h1.3v1.0h-1.3zM196.5 66.7h1.3v1.0h-1.3zM200.4 66.7h1.3v1.0h-1.3zM203.0 66.7h3.9v1.0h-3.9zM214.7 66.7h1.3v1.0h-1.3zM221.2 66.7h1.3v1.0h-1.3zM225.1 66.7h1.3v1.0h-1.3zM157.6 67.7h1.3v1.0h-1.3zM165.4 67.7h1.3v1.0h-1.3zM183.6 67.7h1.3v1.0h-1.3zM210.8 67.7h1.3v1.0h-1.3zM144.6 68.7h1.3v1.0h-1.3zM155.0 68.7h1.3v1.0h-1.3zM181.0 68.7h1.3v1.0h-1.3zM200.4 68.7h1.3v1.0h-1.3zM216.0 68.7h1.3v1.0h-1.3z"/>
<path fill="#c83d41" d="M122.5 42.9h1.3v1.0h-1.3zM68.0 45.9h1.3v1.0h-1.3zM64.1 48.9h1.3v1.0h-1.3zM119.9 48.9h1.3v1.0h-1.3zM143.3 58.8h1.3v1.0h-1.3zM132.9 60.8h2.6v1.0h-2.6zM140.7 60.8h1.3v1.0h-1.3zM144.6 60.8h2.6v1.0h-2.6zM156.3 60.8h2.6v1.0h-2.6zM160.2 60.8h1.3v1.0h-1.3zM168.0 60.8h1.3v1.0h-1.3zM174.5 60.8h1.3v1.0h-1.3zM179.7 60.8h1.3v1.0h-1.3zM195.2 60.8h1.3v1.0h-1.3zM201.7 60.8h1.3v1.0h-1.3zM208.2 60.8h1.3v1.0h-1.3zM134.2 61.8h1.3v1.0h-1.3zM147.2 61.8h1.3v1.0h-1.3zM149.8 61.8h2.6v1.0h-2.6zM156.3 61.8h1.3v1.0h-1.3zM170.6 61.8h1.3v1.0h-1.3zM183.6 61.8h1.3v1.0h-1.3zM187.4 61.8h1.3v1.0h-1.3zM195.2 61.8h1.3v1.0h-1.3zM204.3 61.8h1.3v1.0h-1.3zM209.5 61.8h3.9v1.0h-3.9zM142.0 66.7h1.3v1.0h-1.3zM183.6 66.7h1.3v1.0h-1.3zM188.7 66.7h1.3v1.0h-1.3zM210.8 66.7h1.3v1.0h-1.3zM152.4 68.7h1.3v1.0h-1.3z"/>
<path fill="#bc3238" d="M69.3 45.9h1.3v1.0h-1.3zM162.8 60.8h1.3v1.0h-1.3zM204.3 60.8h1.3v1.0h-1.3zM209.5 60.8h1.3v1.0h-1.3zM130.3 61.8h1.3v1.0h-1.3zM135.5 61.8h1.3v1.0h-1.3zM139.4 61.8h1.3v1.0h-1.3zM179.7 61.8h1.3v1.0h-1.3zM199.1 61.8h1.3v1.0h-1.3zM216.0 61.8h1.3v1.0h-1.3zM179.7 64.7h1.3v1.0h-1.3zM145.9 66.7h1.3v1.0h-1.3zM178.4 66.7h1.3v1.0h-1.3zM148.5 68.7h1.3v1.0h-1.3zM155.0 74.6h1.3v1.0h-1.3z"/>
<path fill="#709cd0" d="M126.4 54.8h1.3v1.0h-1.3z"/>
<path fill="#b12730" d="M155.0 61.8h1.3v1.0h-1.3zM164.1 61.8h1.3v1.0h-1.3z"/>
<path fill="#eeb5b5" d="M60.2 79.0h1.1v3.4h-1.1zM75.1 79.0h1.1v3.4h-1.1zM110.7 79.0h1.1v3.4h-1.1zM194.6 79.0h1.1v3.4h-1.1zM211.8 79.0h1.1v3.4h-1.1zM60.2 82.4h1.1v3.4h-1.1zM63.6 82.4h1.1v3.4h-1.1zM65.9 82.4h1.1v3.4h-1.1zM70.5 82.4h1.1v3.4h-1.1zM82.0 82.4h1.1v3.4h-1.1zM90.1 82.4h1.1v3.4h-1.1zM92.4 82.4h1.1v3.4h-1.1zM94.6 82.4h1.1v3.4h-1.1zM100.4 82.4h1.1v3.4h-1.1zM107.3 82.4h1.1v3.4h-1.1zM109.6 82.4h2.3v3.4h-2.3zM113.0 82.4h1.1v3.4h-1.1zM116.5 82.4h1.1v3.4h-1.1zM125.7 82.4h1.1v3.4h-1.1zM132.5 82.4h1.1v3.4h-1.1zM134.8 82.4h3.4v3.4h-3.4zM170.4 82.4h1.1v3.4h-1.1zM175.0 82.4h1.1v3.4h-1.1zM183.1 82.4h1.1v3.4h-1.1zM192.3 82.4h1.1v3.4h-1.1zM194.6 82.4h1.1v3.4h-1.1zM198.0 82.4h1.1v3.4h-1.1zM202.6 82.4h1.1v3.4h-1.1zM207.2 82.4h2.3v3.4h-2.3zM223.3 82.4h1.1v3.4h-1.1zM61.3 85.8h1.1v3.4h-1.1zM132.5 85.8h1.1v3.4h-1.1zM145.2 85.8h1.1v3.4h-1.1zM147.5 85.8h1.1v3.4h-1.1zM159.0 85.8h1.1v3.4h-1.1zM175.0 85.8h1.1v3.4h-1.1zM178.5 85.8h1.1v3.4h-1.1zM184.2 85.8h1.1v3.4h-1.1zM188.8 85.8h1.1v3.4h-1.1zM207.2 85.8h1.1v3.4h-1.1zM210.6 85.8h1.1v3.4h-1.1zM216.4 85.8h1.1v3.4h-1.1zM141.7 89.2h1.1v3.4h-1.1zM165.8 89.2h1.1v3.4h-1.1zM172.7 89.2h1.1v3.4h-1.1zM192.3 89.2h2.3v3.4h-2.3zM203.7 89.2h1.1v3.4h-1.1zM212.9 89.2h1.1v3.4h-1.1zM219.8 89.2h1.1v3.4h-1.1zM225.6 89.2h1.1v3.4h-1.1zM191.1 92.6h1.1v3.4h-1.1zM131.4 96.0h1.1v3.4h-1.1zM144.0 96.0h1.1v3.4h-1.1zM152.1 96.0h1.1v3.4h-1.1zM180.8 96.0h2.3v3.4h-2.3zM191.1 96.0h1.1v3.4h-1.1zM196.8 96.0h1.1v3.4h-1.1zM202.6 96.0h1.1v3.4h-1.1zM204.9 96.0h1.1v3.4h-1.1zM210.6 96.0h1.1v3.4h-1.1zM142.9 99.4h1.1v3.4h-1.1zM156.7 99.4h1.1v3.4h-1.1zM159.0 99.4h1.1v3.4h-1.1zM162.4 99.4h1.1v3.4h-1.1zM185.4 99.4h1.1v3.4h-1.1zM190.0 99.4h1.1v3.4h-1.1zM195.7 99.4h1.1v3.4h-1.1zM224.4 99.4h1.1v3.4h-1.1z"/>
<path fill="#e99d9d" d="M61.3 79.0h1.1v3.4h-1.1zM63.6 79.0h1.1v3.4h-1.1zM68.2 79.0h1.1v3.4h-1.1zM72.8 79.0h1.1v3.4h-1.1zM77.4 79.0h1.1v3.4h-1.1zM87.8 79.0h2.3v3.4h-2.3zM96.9 79.0h1.1v3.4h-1.1zM101.5 79.0h1.1v3.4h-1.1zM103.8 79.0h1.1v3.4h-1.1zM111.9 79.0h1.1v3.4h-1.1zM114.2 79.0h1.1v3.4h-1.1zM127.9 79.0h1.1v3.4h-1.1zM132.5 79.0h1.1v3.4h-1.1zM137.1 79.0h1.1v3.4h-1.1zM212.9 79.0h1.1v3.4h-1.1zM218.7 79.0h1.1v3.4h-1.1zM68.2 82.4h1.1v3.4h-1.1zM74.0 82.4h1.1v3.4h-1.1zM103.8 82.4h1.1v3.4h-1.1zM127.9 82.4h2.3v3.4h-2.3zM163.5 82.4h1.1v3.4h-1.1zM171.6 82.4h1.1v3.4h-1.1zM173.9 82.4h1.1v3.4h-1.1zM178.5 82.4h1.1v3.4h-1.1zM185.4 82.4h1.1v3.4h-1.1zM209.5 82.4h1.1v3.4h-1.1zM215.2 82.4h1.1v3.4h-1.1zM217.5 82.4h1.1v3.4h-1.1zM140.6 85.8h1.1v3.4h-1.1zM215.2 89.2h1.1v3.4h-1.1zM217.5 89.2h1.1v3.4h-1.1zM83.2 92.6h1.1v3.4h-1.1zM126.8 92.6h1.1v3.4h-1.1zM147.5 96.0h1.1v3.4h-1.1zM154.4 96.0h1.1v3.4h-1.1zM162.4 96.0h1.1v3.4h-1.1zM173.9 96.0h1.1v3.4h-1.1zM194.6 96.0h1.1v3.4h-1.1zM211.8 96.0h1.1v3.4h-1.1zM215.2 96.0h1.1v3.4h-1.1zM88.9 99.4h1.1v3.4h-1.1zM118.8 99.4h1.1v3.4h-1.1zM180.8 99.4h1.1v3.4h-1.1zM188.8 99.4h1.1v3.4h-1.1zM191.1 99.4h1.1v3.4h-1.1zM206.0 99.4h1.1v3.4h-1.1zM221.0 99.4h1.1v3.4h-1.1z"/>
<path fill="#c83d41" d="M62.5 79.0h1.1v3.4h-1.1zM170.4 99.4h1.1v3.4h-1.1z"/>
<path fill="#d34a4c" d="M64.8 79.0h1.1v3.4h-1.1zM70.5 79.0h1.1v3.4h-1.1zM76.3 79.0h1.1v3.4h-1.1zM79.7 79.0h1.1v3.4h-1.1zM84.3 79.0h2.3v3.4h-2.3zM93.5 79.0h1.1v3.4h-1.1zM109.6 79.0h1.1v3.4h-1.1zM172.7 79.0h1.1v3.4h-1.1zM78.6 82.4h1.1v3.4h-1.1zM153.2 89.2h1.1v3.4h-1.1zM168.1 89.2h1.1v3.4h-1.1zM206.0 92.6h1.1v3.4h-1.1zM217.5 92.6h1.1v3.4h-1.1zM80.9 96.0h1.1v3.4h-1.1zM155.5 96.0h1.1v3.4h-1.1zM70.5 99.4h1.1v3.4h-1.1zM92.4 99.4h1.1v3.4h-1.1zM183.1 99.4h2.3v3.4h-2.3z"/>
<path fill="#db6667" d="M65.9 79.0h1.1v3.4h-1.1zM74.0 79.0h1.1v3.4h-1.1zM80.9 79.0h3.4v3.4h-3.4zM92.4 79.0h1.1v3.4h-1.1zM94.6 79.0h2.3v3.4h-2.3zM108.4 79.0h1.1v3.4h-1.1zM113.0 79.0h1.1v3.4h-1.1zM118.8 79.0h1.1v3.4h-1.1zM122.2 79.0h3.4v3.4h-3.4zM126.8 79.0h1.1v3.4h-1.1zM131.4 79.0h1.1v3.4h-1.1zM134.8 79.0h1.1v3.4h-1.1zM124.5 82.4h1.1v3.4h-1.1zM188.8 82.4h1.1v3.4h-1.1zM96.9 89.2h1.1v3.4h-1.1zM129.1 89.2h1.1v3.4h-1.1zM75.1 99.4h1.1v3.4h-1.1zM154.4 99.4h1.1v3.4h-1.1z"/>
<path fill="#e28282" d="M67.1 79.0h1.1v3.4h-1.1zM69.4 79.0h1.1v3.4h-1.1zM71.7 79.0h1.1v3.4h-1.1zM78.6 79.0h1.1v3.4h-1.1zM86.6 79.0h1.1v3.4h-1.1zM90.1 79.0h1.1v3.4h-1.1zM99.2 79.0h2.3v3.4h-2.3zM102.7 79.0h1.1v3.4h-1.1zM105.0 79.0h3.4v3.4h-3.4zM116.5 79.0h1.1v3.4h-1.1zM119.9 79.0h2.3v3.4h-2.3zM125.7 79.0h1.1v3.4h-1.1zM129.1 79.0h2.3v3.4h-2.3zM133.7 79.0h1.1v3.4h-1.1zM136.0 79.0h1.1v3.4h-1.1zM138.3 79.0h2.3v3.4h-2.3zM88.9 82.4h1.1v3.4h-1.1zM122.2 82.4h1.1v3.4h-1.1zM226.7 82.4h1.1v3.4h-1.1zM71.7 85.8h1.1v3.4h-1.1zM92.4 85.8h1.1v3.4h-1.1zM190.0 85.8h1.1v3.4h-1.1zM126.8 89.2h1.1v3.4h-1.1zM201.4 89.2h1.1v3.4h-1.1zM124.5 92.6h1.1v3.4h-1.1zM183.1 92.6h1.1v3.4h-1.1zM64.8 96.0h1.1v3.4h-1.1zM176.2 96.0h1.1v3.4h-1.1zM164.7 99.4h1.1v3.4h-1.1zM194.6 99.4h1.1v3.4h-1.1z"/>
<path fill="#f4cdcd" d="M91.2 79.0h1.1v3.4h-1.1zM115.3 79.0h1.1v3.4h-1.1zM157.8 79.0h1.1v3.4h-1.1zM62.5 82.4h1.1v3.4h-1.1zM69.4 82.4h1.1v3.4h-1.1zM71.7 82.4h2.3v3.4h-2.3zM83.2 82.4h3.4v3.4h-3.4zM87.8 82.4h1.1v3.4h-1.1zM93.5 82.4h1.1v3.4h-1.1zM105.0 82.4h2.3v3.4h-2.3zM121.1 82.4h1.1v3.4h-1.1zM123.4 82.4h1.1v3.4h-1.1zM139.4 82.4h2.3v3.4h-2.3zM145.2 82.4h1.1v3.4h-1.1zM150.9 82.4h1.1v3.4h-1.1zM155.5 82.4h2.3v3.4h-2.3zM164.7 82.4h3.4v3.4h-3.4zM186.5 82.4h1.1v3.4h-1.1zM190.0 82.4h1.1v3.4h-1.1zM193.4 82.4h1.1v3.4h-1.1zM199.1 82.4h2.3v3.4h-2.3zM219.8 82.4h1.1v3.4h-1.1zM142.9 85.8h1.1v3.4h-1.1zM153.2 85.8h1.1v3.4h-1.1zM157.8 85.8h1.1v3.4h-1.1zM160.1 85.8h3.4v3.4h-3.4zM169.3 85.8h1.1v3.4h-1.1zM171.6 85.8h1.1v3.4h-1.1zM176.2 85.8h2.3v3.4h-2.3zM180.8 85.8h1.1v3.4h-1.1zM192.3 85.8h2.3v3.4h-2.3zM217.5 85.8h1.1v3.4h-1.1zM90.1 89.2h1.1v3.4h-1.1zM140.6 89.2h1.1v3.4h-1.1zM144.0 89.2h1.1v3.4h-1.1zM150.9 89.2h1.1v3.4h-1.1zM156.7 89.2h1.1v3.4h-1.1zM159.0 89.2h1.1v3.4h-1.1zM161.3 89.2h1.1v3.4h-1.1zM164.7 89.2h1.1v3.4h-1.1zM170.4 89.2h1.1v3.4h-1.1zM176.2 89.2h2.3v3.4h-2.3zM183.1 89.2h1.1v3.4h-1.1zM190.0 89.2h1.1v3.4h-1.1zM196.8 89.2h1.1v3.4h-1.1zM199.1 89.2h1.1v3.4h-1.1zM208.3 89.2h2.3v3.4h-2.3zM218.7 89.2h1.1v3.4h-1.1zM222.1 89.2h2.3v3.4h-2.3zM227.9 89.2h1.1v3.4h-1.1zM77.4 92.6h1.1v3.4h-1.1zM79.7 92.6h1.1v3.4h-1.1zM82.0 92.6h1.1v3.4h-1.1zM140.6 92.6h4.6v3.4h-4.6zM146.3 92.6h1.1v3.4h-1.1zM149.8 92.6h2.3v3.4h-2.3zM161.3 92.6h1.1v3.4h-1.1zM163.5 92.6h1.1v3.4h-1.1zM167.0 92.6h1.1v3.4h-1.1zM170.4 92.6h1.1v3.4h-1.1zM185.4 92.6h1.1v3.4h-1.1zM200.3 92.6h1.1v3.4h-1.1zM211.8 92.6h1.1v3.4h-1.1zM216.4 92.6h1.1v3.4h-1.1zM219.8 92.6h2.3v3.4h-2.3zM140.6 96.0h1.1v3.4h-1.1zM145.2 96.0h1.1v3.4h-1.1zM148.6 96.0h1.1v3.4h-1.1zM157.8 96.0h1.1v3.4h-1.1zM168.1 96.0h1.1v3.4h-1.1zM172.7 96.0h1.1v3.4h-1.1zM177.3 96.0h1.1v3.4h-1.1zM184.2 96.0h1.1v3.4h-1.1zM188.8 96.0h1.1v3.4h-1.1zM200.3 96.0h1.1v3.4h-1.1zM203.7 96.0h1.1v3.4h-1.1zM212.9 96.0h1.1v3.4h-1.1zM221.0 96.0h3.4v3.4h-3.4zM78.6 99.4h1.1v3.4h-1.1zM105.0 99.4h2.3v3.4h-2.3zM124.5 99.4h2.3v3.4h-2.3zM130.2 99.4h1.1v3.4h-1.1zM144.0 99.4h2.3v3.4h-2.3zM147.5 99.4h1.1v3.4h-1.1zM150.9 99.4h1.1v3.4h-1.1zM176.2 99.4h1.1v3.4h-1.1zM178.5 99.4h1.1v3.4h-1.1zM187.7 99.4h1.1v3.4h-1.1zM200.3 99.4h1.1v3.4h-1.1zM217.5 99.4h2.3v3.4h-2.3zM222.1 99.4h1.1v3.4h-1.1zM227.9 99.4h1.1v3.4h-1.1z"/>
<path fill="#bc3238" d="M98.1 79.0h1.1v3.4h-1.1zM199.1 85.8h8.0v3.4h-8.0zM154.4 89.2h1.1v3.4h-1.1zM162.4 92.6h1.1v3.4h-1.1z"/>
<path fill="#e0e9f2" d="M117.6 79.0h1.1v3.4h-1.1zM140.6 79.0h2.3v3.4h-2.3zM145.2 79.0h1.1v3.4h-1.1zM149.8 79.0h1.1v3.4h-1.1zM163.5 79.0h1.1v3.4h-1.1zM168.1 79.0h1.1v3.4h-1.1zM173.9 79.0h1.1v3.4h-1.1zM187.7 79.0h2.3v3.4h-2.3zM202.6 79.0h3.4v3.4h-3.4zM217.5 79.0h1.1v3.4h-1.1zM101.5 82.4h1.1v3.4h-1.1zM115.3 82.4h1.1v3.4h-1.1zM152.1 82.4h1.1v3.4h-1.1zM154.4 82.4h1.1v3.4h-1.1zM169.3 82.4h1.1v3.4h-1.1zM179.6 82.4h1.1v3.4h-1.1zM181.9 82.4h1.1v3.4h-1.1zM203.7 82.4h1.1v3.4h-1.1zM225.6 82.4h1.1v3.4h-1.1zM82.0 85.8h1.1v3.4h-1.1zM86.6 85.8h1.1v3.4h-1.1zM91.2 85.8h1.1v3.4h-1.1zM96.9 85.8h1.1v3.4h-1.1zM101.5 85.8h2.3v3.4h-2.3zM106.1 85.8h3.4v3.4h-3.4zM110.7 85.8h2.3v3.4h-2.3zM122.2 85.8h1.1v3.4h-1.1zM124.5 85.8h1.1v3.4h-1.1zM130.2 85.8h1.1v3.4h-1.1zM141.7 85.8h1.1v3.4h-1.1zM152.1 85.8h1.1v3.4h-1.1zM164.7 85.8h1.1v3.4h-1.1zM183.1 85.8h1.1v3.4h-1.1zM194.6 85.8h1.1v3.4h-1.1zM212.9 85.8h1.1v3.4h-1.1zM215.2 85.8h1.1v3.4h-1.1zM218.7 85.8h2.3v3.4h-2.3zM222.1 85.8h1.1v3.4h-1.1zM60.2 89.2h1.1v3.4h-1.1zM68.2 89.2h1.1v3.4h-1.1zM70.5 89.2h2.3v3.4h-2.3zM78.6 89.2h2.3v3.4h-2.3zM87.8 89.2h1.1v3.4h-1.1zM91.2 89.2h1.1v3.4h-1.1zM94.6 89.2h1.1v3.4h-1.1zM102.7 89.2h1.1v3.4h-1.1zM105.0 89.2h1.1v3.4h-1.1zM107.3 89.2h2.3v3.4h-2.3zM111.9 89.2h1.1v3.4h-1.1zM116.5 89.2h1.1v3.4h-1.1zM118.8 89.2h2.3v3.4h-2.3zM125.7 89.2h1.1v3.4h-1.1zM127.9 89.2h1.1v3.4h-1.1zM136.0 89.2h1.1v3.4h-1.1zM138.3 89.2h1.1v3.4h-1.1zM157.8 89.2h1.1v3.4h-1.1zM167.0 89.2h1.1v3.4h-1.1zM173.9 89.2h1.1v3.4h-1.1zM191.1 89.2h1.1v3.4h-1.1zM194.6 89.2h1.1v3.4h-1.1zM210.6 89.2h2.3v3.4h-2.3zM61.3 92.6h1.1v3.4h-1.1zM64.8 92.6h1.1v3.4h-1.1zM67.1 92.6h2.3v3.4h-2.3zM76.3 92.6h1.1v3.4h-1.1zM80.9 92.6h1.1v3.4h-1.1zM87.8 92.6h3.4v3.4h-3.4zM94.6 92.6h1.1v3.4h-1.1zM98.1 92.6h3.4v3.4h-3.4zM106.1 92.6h2.3v3.4h-2.3zM110.7 92.6h1.1v3.4h-1.1zM121.1 92.6h2.3v3.4h-2.3zM127.9 92.6h1.1v3.4h-1.1zM131.4 92.6h1.1v3.4h-1.1zM136.0 92.6h1.1v3.4h-1.1zM139.4 92.6h1.1v3.4h-1.1zM147.5 92.6h1.1v3.4h-1.1zM159.0 92.6h2.3v3.4h-2.3zM180.8 92.6h1.1v3.4h-1.1zM184.2 92.6h1.1v3.4h-1.1zM194.6 92.6h1.1v3.4h-1.1zM212.9 92.6h3.4v3.4h-3.4zM224.4 92.6h1.1v3.4h-1.1zM63.6 96.0h1.1v3.4h-1.1zM69.4 96.0h1.1v3.4h-1.1zM75.1 96.0h1.1v3.4h-1.1zM77.4 96.0h1.1v3.4h-1.1zM86.6 96.0h3.4v3.4h-3.4zM95.8 96.0h1.1v3.4h-1.1zM98.1 96.0h2.3v3.4h-2.3zM106.1 96.0h1.1v3.4h-1.1zM116.5 96.0h1.1v3.4h-1.1zM119.9 96.0h1.1v3.4h-1.1zM126.8 96.0h1.1v3.4h-1.1zM130.2 96.0h1.1v3.4h-1.1zM137.1 96.0h1.1v3.4h-1.1zM146.3 96.0h1.1v3.4h-1.1zM149.8 96.0h1.1v3.4h-1.1zM167.0 96.0h1.1v3.4h-1.1zM169.3 96.0h2.3v3.4h-2.3zM192.3 96.0h1.1v3.4h-1.1zM226.7 96.0h1.1v3.4h-1.1zM83.2 99.4h2.3v3.4h-2.3zM87.8 99.4h1.1v3.4h-1.1zM101.5 99.4h1.1v3.4h-1.1zM103.8 99.4h1.1v3.4h-1.1zM107.3 99.4h1.1v3.4h-1.1zM115.3 99.4h1.1v3.4h-1.1zM117.6 99.4h1.1v3.4h-1.1zM119.9 99.4h1.1v3.4h-1.1zM123.4 99.4h1.1v3.4h-1.1zM129.1 99.4h1.1v3.4h-1.1zM139.4 99.4h1.1v3.4h-1.1zM169.3 99.4h1.1v3.4h-1.1zM198.0 99.4h2.3v3.4h-2.3zM202.6 99.4h2.3v3.4h-2.3zM208.3 99.4h1.1v3.4h-1.1zM210.6 99.4h1.1v3.4h-1.1z"/>
<path fill="#b7d2ea" d="M142.9 79.0h1.1v3.4h-1.1zM150.9 79.0h1.1v3.4h-1.1zM153.2 79.0h1.1v3.4h-1.1zM159.0 79.0h1.1v3.4h-1.1zM162.4 79.0h1.1v3.4h-1.1zM165.8 79.0h1.1v3.4h-1.1zM180.8 79.0h1.1v3.4h-1.1zM183.1 79.0h1.1v3.4h-1.1zM185.4 79.0h1.1v3.4h-1.1zM190.0 79.0h1.1v3.4h-1.1zM195.7 79.0h5.7v3.4h-5.7zM209.5 79.0h1.1v3.4h-1.1zM214.1 79.0h1.1v3.4h-1.1zM224.4 79.0h2.3v3.4h-2.3zM227.9 79.0h1.1v3.4h-1.1zM64.8 85.8h1.1v3.4h-1.1zM69.4 85.8h2.3v3.4h-2.3zM84.3 85.8h2.3v3.4h-2.3zM103.8 85.8h1.1v3.4h-1.1zM109.6 85.8h1.1v3.4h-1.1zM114.2 85.8h1.1v3.4h-1.1zM121.1 85.8h1.1v3.4h-1.1zM123.4 85.8h1.1v3.4h-1.1zM127.9 85.8h1.1v3.4h-1.1zM137.1 85.8h1.1v3.4h-1.1zM61.3 89.2h1.1v3.4h-1.1zM69.4 89.2h1.1v3.4h-1.1zM74.0 89.2h1.1v3.4h-1.1zM85.5 89.2h1.1v3.4h-1.1zM93.5 89.2h1.1v3.4h-1.1zM95.8 89.2h1.1v3.4h-1.1zM98.1 89.2h2.3v3.4h-2.3zM115.3 89.2h1.1v3.4h-1.1zM134.8 89.2h1.1v3.4h-1.1zM137.1 89.2h1.1v3.4h-1.1zM147.5 89.2h1.1v3.4h-1.1zM186.5 89.2h1.1v3.4h-1.1zM206.0 89.2h1.1v3.4h-1.1zM70.5 92.6h2.3v3.4h-2.3zM74.0 92.6h1.1v3.4h-1.1zM91.2 92.6h2.3v3.4h-2.3zM103.8 92.6h1.1v3.4h-1.1zM113.0 92.6h2.3v3.4h-2.3zM116.5 92.6h2.3v3.4h-2.3zM119.9 92.6h1.1v3.4h-1.1zM123.4 92.6h1.1v3.4h-1.1zM132.5 92.6h1.1v3.4h-1.1zM138.3 92.6h1.1v3.4h-1.1zM155.5 92.6h1.1v3.4h-1.1zM175.0 92.6h1.1v3.4h-1.1zM187.7 92.6h1.1v3.4h-1.1zM227.9 92.6h1.1v3.4h-1.1zM74.0 96.0h1.1v3.4h-1.1zM78.6 96.0h1.1v3.4h-1.1zM82.0 96.0h1.1v3.4h-1.1zM94.6 96.0h1.1v3.4h-1.1zM118.8 96.0h1.1v3.4h-1.1zM121.1 96.0h1.1v3.4h-1.1zM127.9 96.0h1.1v3.4h-1.1zM138.3 96.0h1.1v3.4h-1.1zM207.2 96.0h1.1v3.4h-1.1zM65.9 99.4h1.1v3.4h-1.1zM76.3 99.4h1.1v3.4h-1.1zM79.7 99.4h1.1v3.4h-1.1zM90.1 99.4h1.1v3.4h-1.1zM96.9 99.4h1.1v3.4h-1.1zM100.4 99.4h1.1v3.4h-1.1zM113.0 99.4h1.1v3.4h-1.1zM223.3 99.4h1.1v3.4h-1.1z"/>
<path fill="#c9ddef" d="M144.0 79.0h1.1v3.4h-1.1zM148.6 79.0h1.1v3.4h-1.1zM152.1 79.0h1.1v3.4h-1.1zM154.4 79.0h1.1v3.4h-1.1zM161.3 79.0h1.1v3.4h-1.1zM169.3 79.0h1.1v3.4h-1.1zM177.3 79.0h3.4v3.4h-3.4zM184.2 79.0h1.1v3.4h-1.1zM186.5 79.0h1.1v3.4h-1.1zM191.1 79.0h1.1v3.4h-1.1zM193.4 79.0h1.1v3.4h-1.1zM207.2 79.0h1.1v3.4h-1.1zM215.2 79.0h2.3v3.4h-2.3zM221.0 79.0h1.1v3.4h-1.1zM223.3 79.0h1.1v3.4h-1.1zM226.7 79.0h1.1v3.4h-1.1zM79.7 82.4h1.1v3.4h-1.1zM138.3 82.4h1.1v3.4h-1.1zM180.8 82.4h1.1v3.4h-1.1zM196.8 82.4h1.1v3.4h-1.1zM65.9 85.8h1.1v3.4h-1.1zM77.4 85.8h2.3v3.4h-2.3zM80.9 85.8h1.1v3.4h-1.1zM90.1 85.8h1.1v3.4h-1.1zM98.1 85.8h1.1v3.4h-1.1zM100.4 85.8h1.1v3.4h-1.1zM105.0 85.8h1.1v3.4h-1.1zM116.5 85.8h2.3v3.4h-2.3zM119.9 85.8h1.1v3.4h-1.1zM125.7 85.8h2.3v3.4h-2.3zM129.1 85.8h1.1v3.4h-1.1zM134.8 85.8h1.1v3.4h-1.1zM221.0 85.8h1.1v3.4h-1.1zM64.8 89.2h1.1v3.4h-1.1zM67.1 89.2h1.1v3.4h-1.1zM76.3 89.2h1.1v3.4h-1.1zM84.3 89.2h1.1v3.4h-1.1zM92.4 89.2h1.1v3.4h-1.1zM103.8 89.2h1.1v3.4h-1.1zM110.7 89.2h1.1v3.4h-1.1zM121.1 89.2h1.1v3.4h-1.1zM124.5 89.2h1.1v3.4h-1.1zM131.4 89.2h2.3v3.4h-2.3zM160.1 89.2h1.1v3.4h-1.1zM63.6 92.6h1.1v3.4h-1.1zM69.4 92.6h1.1v3.4h-1.1zM78.6 92.6h1.1v3.4h-1.1zM84.3 92.6h2.3v3.4h-2.3zM95.8 92.6h1.1v3.4h-1.1zM109.6 92.6h1.1v3.4h-1.1zM118.8 92.6h1.1v3.4h-1.1zM129.1 92.6h1.1v3.4h-1.1zM133.7 92.6h1.1v3.4h-1.1zM186.5 92.6h1.1v3.4h-1.1zM193.4 92.6h1.1v3.4h-1.1zM207.2 92.6h2.3v3.4h-2.3zM210.6 92.6h1.1v3.4h-1.1zM61.3 96.0h1.1v3.4h-1.1zM67.1 96.0h1.1v3.4h-1.1zM70.5 96.0h1.1v3.4h-1.1zM72.8 96.0h1.1v3.4h-1.1zM79.7 96.0h1.1v3.4h-1.1zM85.5 96.0h1.1v3.4h-1.1zM91.2 96.0h2.3v3.4h-2.3zM96.9 96.0h1.1v3.4h-1.1zM100.4 96.0h1.1v3.4h-1.1zM123.4 96.0h1.1v3.4h-1.1zM125.7 96.0h1.1v3.4h-1.1zM133.7 96.0h2.3v3.4h-2.3zM179.6 96.0h1.1v3.4h-1.1zM198.0 96.0h2.3v3.4h-2.3zM214.1 96.0h1.1v3.4h-1.1zM62.5 99.4h1.1v3.4h-1.1zM67.1 99.4h1.1v3.4h-1.1zM69.4 99.4h1.1v3.4h-1.1zM71.7 99.4h1.1v3.4h-1.1zM74.0 99.4h1.1v3.4h-1.1zM80.9 99.4h1.1v3.4h-1.1zM86.6 99.4h1.1v3.4h-1.1zM94.6 99.4h1.1v3.4h-1.1zM98.1 99.4h1.1v3.4h-1.1zM109.6 99.4h1.1v3.4h-1.1zM153.2 99.4h1.1v3.4h-1.1zM177.3 99.4h1.1v3.4h-1.1zM207.2 99.4h1.1v3.4h-1.1z"/>
<path fill="#a5c7e5" d="M146.3 79.0h1.1v3.4h-1.1zM155.5 79.0h1.1v3.4h-1.1zM160.1 79.0h1.1v3.4h-1.1zM164.7 79.0h1.1v3.4h-1.1zM170.4 79.0h1.1v3.4h-1.1zM175.0 79.0h1.1v3.4h-1.1zM181.9 79.0h1.1v3.4h-1.1zM192.3 79.0h1.1v3.4h-1.1zM208.3 79.0h1.1v3.4h-1.1zM62.5 85.8h1.1v3.4h-1.1zM74.0 85.8h1.1v3.4h-1.1zM83.2 85.8h1.1v3.4h-1.1zM113.0 85.8h1.1v3.4h-1.1zM181.9 85.8h1.1v3.4h-1.1zM62.5 89.2h1.1v3.4h-1.1zM65.9 89.2h1.1v3.4h-1.1zM72.8 89.2h1.1v3.4h-1.1zM113.0 89.2h1.1v3.4h-1.1zM122.2 89.2h1.1v3.4h-1.1zM204.9 89.2h1.1v3.4h-1.1zM86.6 92.6h1.1v3.4h-1.1zM115.3 92.6h1.1v3.4h-1.1zM134.8 92.6h1.1v3.4h-1.1zM124.5 96.0h1.1v3.4h-1.1z"/>
<path fill="#f8f6f6" d="M147.5 79.0h1.1v3.4h-1.1zM156.7 79.0h1.1v3.4h-1.1zM171.6 79.0h1.1v3.4h-1.1zM206.0 79.0h1.1v3.4h-1.1zM219.8 79.0h1.1v3.4h-1.1zM61.3 82.4h1.1v3.4h-1.1zM75.1 82.4h2.3v3.4h-2.3zM80.9 82.4h1.1v3.4h-1.1zM111.9 82.4h1.1v3.4h-1.1zM126.8 82.4h1.1v3.4h-1.1zM131.4 82.4h1.1v3.4h-1.1zM133.7 82.4h1.1v3.4h-1.1zM141.7 82.4h1.1v3.4h-1.1zM144.0 82.4h1.1v3.4h-1.1zM148.6 82.4h1.1v3.4h-1.1zM157.8 82.4h1.1v3.4h-1.1zM161.3 82.4h1.1v3.4h-1.1zM172.7 82.4h1.1v3.4h-1.1zM206.0 82.4h1.1v3.4h-1.1zM212.9 82.4h1.1v3.4h-1.1zM216.4 82.4h1.1v3.4h-1.1zM222.1 82.4h1.1v3.4h-1.1zM224.4 82.4h1.1v3.4h-1.1zM60.2 85.8h1.1v3.4h-1.1zM63.6 85.8h1.1v3.4h-1.1zM68.2 85.8h1.1v3.4h-1.1zM72.8 85.8h1.1v3.4h-1.1zM76.3 85.8h1.1v3.4h-1.1zM88.9 85.8h1.1v3.4h-1.1zM95.8 85.8h1.1v3.4h-1.1zM99.2 85.8h1.1v3.4h-1.1zM115.3 85.8h1.1v3.4h-1.1zM118.8 85.8h1.1v3.4h-1.1zM138.3 85.8h2.3v3.4h-2.3zM148.6 85.8h2.3v3.4h-2.3zM154.4 85.8h1.1v3.4h-1.1zM165.8 85.8h2.3v3.4h-2.3zM173.9 85.8h1.1v3.4h-1.1zM186.5 85.8h1.1v3.4h-1.1zM195.7 85.8h1.1v3.4h-1.1zM211.8 85.8h1.1v3.4h-1.1zM214.1 85.8h1.1v3.4h-1.1zM224.4 85.8h1.1v3.4h-1.1zM227.9 85.8h1.1v3.4h-1.1zM75.1 89.2h1.1v3.4h-1.1zM77.4 89.2h1.1v3.4h-1.1zM80.9 89.2h1.1v3.4h-1.1zM86.6 89.2h1.1v3.4h-1.1zM88.9 89.2h1.1v3.4h-1.1zM109.6 89.2h1.1v3.4h-1.1zM114.2 89.2h1.1v3.4h-1.1zM123.4 89.2h1.1v3.4h-1.1zM133.7 89.2h1.1v3.4h-1.1zM142.9 89.2h1.1v3.4h-1.1zM146.3 89.2h1.1v3.4h-1.1zM155.5 89.2h1.1v3.4h-1.1zM162.4 89.2h2.3v3.4h-2.3zM169.3 89.2h1.1v3.4h-1.1zM171.6 89.2h1.1v3.4h-1.1zM178.5 89.2h1.1v3.4h-1.1zM181.9 89.2h1.1v3.4h-1.1zM188.8 89.2h1.1v3.4h-1.1zM198.0 89.2h1.1v3.4h-1.1zM202.6 89.2h1.1v3.4h-1.1zM207.2 89.2h1.1v3.4h-1.1zM216.4 89.2h1.1v3.4h-1.1zM224.4 89.2h1.1v3.4h-1.1zM62.5 92.6h1.1v3.4h-1.1zM72.8 92.6h1.1v3.4h-1.1zM75.1 92.6h1.1v3.4h-1.1zM93.5 92.6h1.1v3.4h-1.1zM96.9 92.6h1.1v3.4h-1.1zM102.7 92.6h1.1v3.4h-1.1zM105.0 92.6h1.1v3.4h-1.1zM152.1 92.6h1.1v3.4h-1.1zM156.7 92.6h2.3v3.4h-2.3zM168.1 92.6h1.1v3.4h-1.1zM171.6 92.6h3.4v3.4h-3.4zM176.2 92.6h2.3v3.4h-2.3zM181.9 92.6h1.1v3.4h-1.1zM196.8 92.6h1.1v3.4h-1.1zM199.1 92.6h1.1v3.4h-1.1zM201.4 92.6h2.3v3.4h-2.3zM204.9 92.6h1.1v3.4h-1.1zM222.1 92.6h2.3v3.4h-2.3zM225.6 92.6h1.1v3.4h-1.1zM60.2 96.0h1.1v3.4h-1.1zM62.5 96.0h1.1v3.4h-1.1zM65.9 96.0h1.1v3.4h-1.1zM68.2 96.0h1.1v3.4h-1.1zM71.7 96.0h1.1v3.4h-1.1zM76.3 96.0h1.1v3.4h-1.1zM93.5 96.0h1.1v3.4h-1.1zM102.7 96.0h2.3v3.4h-2.3zM107.3 96.0h3.4v3.4h-3.4zM115.3 96.0h1.1v3.4h-1.1zM132.5 96.0h1.1v3.4h-1.1zM139.4 96.0h1.1v3.4h-1.1zM150.9 96.0h1.1v3.4h-1.1zM159.0 96.0h1.1v3.4h-1.1zM161.3 96.0h1.1v3.4h-1.1zM163.5 96.0h1.1v3.4h-1.1zM165.8 96.0h1.1v3.4h-1.1zM171.6 96.0h1.1v3.4h-1.1zM178.5 96.0h1.1v3.4h-1.1zM183.1 96.0h1.1v3.4h-1.1zM187.7 96.0h1.1v3.4h-1.1zM201.4 96.0h1.1v3.4h-1.1zM206.0 96.0h1.1v3.4h-1.1zM208.3 96.0h1.1v3.4h-1.1zM218.7 96.0h1.1v3.4h-1.1zM224.4 96.0h2.3v3.4h-2.3zM227.9 96.0h1.1v3.4h-1.1zM61.3 99.4h1.1v3.4h-1.1zM63.6 99.4h2.3v3.4h-2.3zM82.0 99.4h1.1v3.4h-1.1zM85.5 99.4h1.1v3.4h-1.1zM95.8 99.4h1.1v3.4h-1.1zM99.2 99.4h1.1v3.4h-1.1zM102.7 99.4h1.1v3.4h-1.1zM108.4 99.4h1.1v3.4h-1.1zM110.7 99.4h2.3v3.4h-2.3zM114.2 99.4h1.1v3.4h-1.1zM121.1 99.4h2.3v3.4h-2.3zM126.8 99.4h1.1v3.4h-1.1zM131.4 99.4h2.3v3.4h-2.3zM134.8 99.4h1.1v3.4h-1.1zM137.1 99.4h2.3v3.4h-2.3zM141.7 99.4h1.1v3.4h-1.1zM146.3 99.4h1.1v3.4h-1.1zM149.8 99.4h1.1v3.4h-1.1zM152.1 99.4h1.1v3.4h-1.1zM157.8 99.4h1.1v3.4h-1.1zM163.5 99.4h1.1v3.4h-1.1zM165.8 99.4h1.1v3.4h-1.1zM171.6 99.4h1.1v3.4h-1.1zM173.9 99.4h2.3v3.4h-2.3zM179.6 99.4h1.1v3.4h-1.1zM192.3 99.4h1.1v3.4h-1.1zM196.8 99.4h1.1v3.4h-1.1zM201.4 99.4h1.1v3.4h-1.1zM204.9 99.4h1.1v3.4h-1.1zM211.8 99.4h2.3v3.4h-2.3zM215.2 99.4h1.1v3.4h-1.1zM219.8 99.4h1.1v3.4h-1.1zM226.7 99.4h1.1v3.4h-1.1z"/>
<path fill="#5485c5" d="M167.0 79.0h1.1v3.4h-1.1zM83.2 89.2h1.1v3.4h-1.1zM105.0 96.0h1.1v3.4h-1.1zM225.6 99.4h1.1v3.4h-1.1z"/>
<path fill="#8cb4dc" d="M176.2 79.0h1.1v3.4h-1.1zM201.4 79.0h1.1v3.4h-1.1zM222.1 79.0h1.1v3.4h-1.1zM75.1 85.8h1.1v3.4h-1.1zM131.4 85.8h1.1v3.4h-1.1zM170.4 85.8h1.1v3.4h-1.1zM175.0 89.2h1.1v3.4h-1.1zM133.7 99.4h1.1v3.4h-1.1zM136.0 99.4h1.1v3.4h-1.1zM140.6 99.4h1.1v3.4h-1.1z"/>
<path fill="#f6e2e2" d="M210.6 79.0h1.1v3.4h-1.1zM64.8 82.4h1.1v3.4h-1.1zM67.1 82.4h1.1v3.4h-1.1zM77.4 82.4h1.1v3.4h-1.1zM86.6 82.4h1.1v3.4h-1.1zM91.2 82.4h1.1v3.4h-1.1zM95.8 82.4h4.6v3.4h-4.6zM102.7 82.4h1.1v3.4h-1.1zM108.4 82.4h1.1v3.4h-1.1zM114.2 82.4h1.1v3.4h-1.1zM117.6 82.4h3.4v3.4h-3.4zM130.2 82.4h1.1v3.4h-1.1zM142.9 82.4h1.1v3.4h-1.1zM146.3 82.4h2.3v3.4h-2.3zM149.8 82.4h1.1v3.4h-1.1zM153.2 82.4h1.1v3.4h-1.1zM159.0 82.4h2.3v3.4h-2.3zM162.4 82.4h1.1v3.4h-1.1zM168.1 82.4h1.1v3.4h-1.1zM176.2 82.4h2.3v3.4h-2.3zM184.2 82.4h1.1v3.4h-1.1zM187.7 82.4h1.1v3.4h-1.1zM191.1 82.4h1.1v3.4h-1.1zM195.7 82.4h1.1v3.4h-1.1zM201.4 82.4h1.1v3.4h-1.1zM204.9 82.4h1.1v3.4h-1.1zM210.6 82.4h2.3v3.4h-2.3zM214.1 82.4h1.1v3.4h-1.1zM218.7 82.4h1.1v3.4h-1.1zM221.0 82.4h1.1v3.4h-1.1zM227.9 82.4h1.1v3.4h-1.1zM67.1 85.8h1.1v3.4h-1.1zM79.7 85.8h1.1v3.4h-1.1zM87.8 85.8h1.1v3.4h-1.1zM93.5 85.8h2.3v3.4h-2.3zM133.7 85.8h1.1v3.4h-1.1zM136.0 85.8h1.1v3.4h-1.1zM144.0 85.8h1.1v3.4h-1.1zM146.3 85.8h1.1v3.4h-1.1zM150.9 85.8h1.1v3.4h-1.1zM155.5 85.8h2.3v3.4h-2.3zM163.5 85.8h1.1v3.4h-1.1zM168.1 85.8h1.1v3.4h-1.1zM172.7 85.8h1.1v3.4h-1.1zM179.6 85.8h1.1v3.4h-1.1zM185.4 85.8h1.1v3.4h-1.1zM187.7 85.8h1.1v3.4h-1.1zM191.1 85.8h1.1v3.4h-1.1zM196.8 85.8h2.3v3.4h-2.3zM208.3 85.8h2.3v3.4h-2.3zM223.3 85.8h1.1v3.4h-1.1zM225.6 85.8h2.3v3.4h-2.3zM63.6 89.2h1.1v3.4h-1.1zM82.0 89.2h1.1v3.4h-1.1zM100.4 89.2h2.3v3.4h-2.3zM106.1 89.2h1.1v3.4h-1.1zM130.2 89.2h1.1v3.4h-1.1zM139.4 89.2h1.1v3.4h-1.1zM145.2 89.2h1.1v3.4h-1.1zM148.6 89.2h2.3v3.4h-2.3zM152.1 89.2h1.1v3.4h-1.1zM179.6 89.2h2.3v3.4h-2.3zM184.2 89.2h2.3v3.4h-2.3zM187.7 89.2h1.1v3.4h-1.1zM195.7 89.2h1.1v3.4h-1.1zM200.3 89.2h1.1v3.4h-1.1zM214.1 89.2h1.1v3.4h-1.1zM221.0 89.2h1.1v3.4h-1.1zM226.7 89.2h1.1v3.4h-1.1zM60.2 92.6h1.1v3.4h-1.1zM65.9 92.6h1.1v3.4h-1.1zM101.5 92.6h1.1v3.4h-1.1zM108.4 92.6h1.1v3.4h-1.1zM111.9 92.6h1.1v3.4h-1.1zM125.7 92.6h1.1v3.4h-1.1zM145.2 92.6h1.1v3.4h-1.1zM148.6 92.6h1.1v3.4h-1.1zM153.2 92.6h2.3v3.4h-2.3zM164.7 92.6h2.3v3.4h-2.3zM169.3 92.6h1.1v3.4h-1.1zM178.5 92.6h2.3v3.4h-2.3zM188.8 92.6h2.3v3.4h-2.3zM192.3 92.6h1.1v3.4h-1.1zM195.7 92.6h1.1v3.4h-1.1zM198.0 92.6h1.1v3.4h-1.1zM203.7 92.6h1.1v3.4h-1.1zM209.5 92.6h1.1v3.4h-1.1zM218.7 92.6h1.1v3.4h-1.1zM226.7 92.6h1.1v3.4h-1.1zM83.2 96.0h2.3v3.4h-2.3zM90.1 96.0h1.1v3.4h-1.1zM101.5 96.0h1.1v3.4h-1.1zM110.7 96.0h4.6v3.4h-4.6zM117.6 96.0h1.1v3.4h-1.1zM122.2 96.0h1.1v3.4h-1.1zM129.1 96.0h1.1v3.4h-1.1zM141.7 96.0h2.3v3.4h-2.3zM153.2 96.0h1.1v3.4h-1.1zM156.7 96.0h1.1v3.4h-1.1zM160.1 96.0h1.1v3.4h-1.1zM164.7 96.0h1.1v3.4h-1.1zM175.0 96.0h1.1v3.4h-1.1zM185.4 96.0h2.3v3.4h-2.3zM190.0 96.0h1.1v3.4h-1.1zM193.4 96.0h1.1v3.4h-1.1zM195.7 96.0h1.1v3.4h-1.1zM209.5 96.0h1.1v3.4h-1.1zM216.4 96.0h2.3v3.4h-2.3zM219.8 96.0h1.1v3.4h-1.1zM60.2 99.4h1.1v3.4h-1.1zM68.2 99.4h1.1v3.4h-1.1zM72.8 99.4h1.1v3.4h-1.1zM77.4 99.4h1.1v3.4h-1.1zM91.2 99.4h1.1v3.4h-1.1zM93.5 99.4h1.1v3.4h-1.1zM116.5 99.4h1.1v3.4h-1.1zM127.9 99.4h1.1v3.4h-1.1zM148.6 99.4h1.1v3.4h-1.1zM155.5 99.4h1.1v3.4h-1.1zM160.1 99.4h2.3v3.4h-2.3zM167.0 99.4h2.3v3.4h-2.3zM172.7 99.4h1.1v3.4h-1.1zM181.9 99.4h1.1v3.4h-1.1zM186.5 99.4h1.1v3.4h-1.1zM193.4 99.4h1.1v3.4h-1.1zM209.5 99.4h1.1v3.4h-1.1zM214.1 99.4h1.1v3.4h-1.1zM216.4 99.4h1.1v3.4h-1.1z"/>
<path fill="#4062ab" d="M117.6 89.2h1.1v3.4h-1.1z"/>
<path fill="#709cd0" d="M130.2 92.6h1.1v3.4h-1.1z"/>
<path fill="#37519e" d="M137.1 92.6h1.1v3.4h-1.1z"/>
<path fill="#4873b8" d="M136.0 96.0h1.1v3.4h-1.1z"/>
<rect x="139.90" y="79.00" width="1.00" height="23.80" fill="#fff" />
<path d="M60.7 104v4.0M62.0 104v5.1M63.6 104v5.2M65.2 104v6.4M66.3 104v5.2M67.6 104v7.2M68.6 104v6.6M70.1 104v6.8M71.4 104v6.6M72.9 104v7.9M74.6 104v6.7M75.9 104v6.5M77.4 104v4.6M78.7 104v7.1M80.2 104v6.6M81.8 104v4.9M83.0 104v6.2M84.6 104v4.3M86.0 104v5.9M87.2 104v5.3M88.2 104v7.2M89.7 104v7.8M90.8 104v7.4M92.2 104v7.0M93.9 104v7.1M95.7 104v6.2M96.9 104v8.0M98.2 104v7.1M99.4 104v7.4M100.8 104v7.5M102.1 104v5.1M103.3 104v6.4M104.8 104v5.4M106.4 104v7.8M108.1 104v6.1M109.8 104v5.9M111.0 104v6.3M112.2 104v7.5M113.6 104v4.5M114.9 104v7.2M116.2 104v4.5M117.9 104v5.5M119.0 104v5.6M120.2 104v4.0M121.5 104v5.7M122.9 104v5.9M124.2 104v5.4M125.7 104v5.5M127.0 104v7.4M128.7 104v4.9M129.9 104v5.7M131.6 104v5.3M133.2 104v5.0M134.4 104v6.8M136.0 104v6.2M137.2 104v4.9M138.8 104v6.8M139.8 104v5.1M140.9 104v7.4M142.6 104v6.1M143.9 104v7.3M145.1 104v5.1M146.3 104v5.3M148.0 104v4.3M149.2 104v6.0M150.4 104v6.6M152.0 104v6.1M153.1 104v7.7M154.8 104v7.3M156.3 104v5.8M157.9 104v6.1M159.6 104v7.2M160.7 104v6.2M161.8 104v4.8M163.5 104v5.3M165.1 104v4.2M166.7 104v6.3M168.2 104v5.1M169.3 104v7.7M170.4 104v7.1M172.0 104v7.6M173.6 104v5.8M174.8 104v7.7M176.0 104v7.9M177.8 104v5.4M179.4 104v7.0M181.0 104v5.5M182.1 104v4.1M183.2 104v7.4M184.7 104v7.8M186.0 104v7.5M187.7 104v5.7M189.4 104v5.1M191.0 104v7.6M192.4 104v7.8M193.9 104v5.1M195.5 104v4.4M196.9 104v6.5M198.2 104v5.3M199.5 104v4.6M201.2 104v5.6M202.9 104v4.6M204.4 104v4.5M205.6 104v6.4M206.6 104v7.9M208.0 104v4.8M209.5 104v8.0M211.0 104v4.2M212.6 104v5.8M213.7 104v4.4M215.2 104v6.6M216.9 104v4.4M218.6 104v5.5M220.0 104v5.2M221.2 104v4.8M222.8 104v7.0M224.3 104v7.8M226.0 104v5.1M227.2 104v7.1M228.9 104v5.3" stroke="#b4b4b4" stroke-width="0.5"/>
<path d="M87.4 36V25.4H176.2V36" fill="none" stroke="#333" stroke-width="0.8"/>
<path d="M60.2 35.4h2.5M62.5 35.8h2.5M64.7 35.8h1.7M66.2 36.4h1.8M67.8 35.9h0.9M68.6 35.7h2.0M70.4 36.4h2.3M72.5 36.1h1.1M73.5 36.3h0.9M74.3 36.1h1.0M75.3 35.5h2.9M77.9 35.6h1.9M79.6 35.3h0.9M80.4 36.0h1.5M81.8 36.2h1.2M82.8 35.6h2.3M84.9 36.1h1.8M86.5 35.8h2.1M88.4 36.4h2.4M90.5 36.1h1.5M91.8 35.4h2.5M94.1 35.3h2.8M96.6 35.3h1.0M97.5 35.5h2.5M99.8 35.6h2.9M102.4 35.6h2.5M104.6 35.8h0.9M105.4 35.8h1.3M106.6 35.9h2.9M109.2 35.9h2.5M111.5 35.6h2.4M113.7 36.4h1.4M114.9 36.0h1.4M116.2 35.6h2.3M118.2 35.9h1.3M119.4 35.4h2.7M121.9 35.7h1.0M122.8 35.6h2.1M124.7 36.0h0.9M125.5 36.3h0.9M126.3 36.3h1.1M127.3 36.3h0.8M128.0 36.3h1.6M129.5 36.3h2.1M131.4 35.9h1.3M132.6 35.2h1.1M133.5 36.3h1.9M135.2 36.2h2.2M137.2 35.4h1.9M138.9 35.3h2.7M141.4 36.0h2.7M143.9 35.7h2.8M146.4 35.9h2.8M148.9 36.1h1.0M149.8 36.5h2.9M152.4 36.4h2.3M154.5 36.2h2.0M156.3 35.7h1.0M157.2 36.3h2.2M159.1 35.6h1.0M160.0 35.5h2.9M162.6 36.1h2.7M165.0 36.4h2.2M167.0 36.3h1.5M168.4 35.7h0.8M169.1 35.7h1.9M170.9 35.3h1.9M172.6 35.9h2.9M175.2 35.9h1.1M176.3 36.0h1.9M178.0 35.9h1.3M179.2 35.4h2.7M181.6 35.6h2.1M183.6 36.2h1.0M184.5 35.7h2.0M186.3 36.4h2.7M188.7 35.8h0.9M189.5 35.8h1.6M190.9 35.9h1.2M192.0 35.9h3.0M194.7 36.2h2.9M197.3 36.3h2.1M199.2 35.5h1.3M200.4 35.6h2.2M202.4 36.5h0.9M203.2 36.1h1.6M204.7 35.7h1.4M205.9 36.1h1.3M207.1 35.7h1.0M208.0 35.4h1.6M209.5 35.5h2.1M211.3 35.6h2.0M213.1 36.5h2.1M215.0 35.2h2.7M217.4 35.6h2.3M219.5 35.6h2.6M221.9 35.5h2.2M223.9 36.2h1.8M225.5 35.9h1.8M227.1 36.1h0.8M227.8 36.4h1.0M228.7 36.2h2.9" stroke="#111" stroke-width="0.9" fill="none"/>
<rect x="60.2" y="35.6" width="168.8" height="1.3" fill="#111"/>
<path d="M38.4 41.4H28.6V59.4H36.4" fill="none" stroke="#444" stroke-width="0.8"/>
<polygon points="39.2,37.8 40.6,37.8 40.6,51.5 38.2,52.5 38.0,47 38.4,41.4" fill="#111"/>
<polygon points="36.2,56.5 38.6,53.2 40.6,52.6 40.6,75.8 39.4,75.8 37.4,68 36.6,62" fill="#111"/>
<path d="M37 57.5l2.2 1.2M37.3 61.5l2.4 1M37.6 65.2l2 1.5" stroke="#fff" stroke-width="0.7"/>
<rect x="41.90" y="37.90" width="6.20" height="13.80" fill="#e8141c" />
<rect x="41.90" y="51.70" width="6.20" height="24.00" fill="#2f3f9c" />
<rect x="50.10" y="37.90" width="6.90" height="7.60" fill="#f8dc12" />
<rect x="50.10" y="45.50" width="6.90" height="5.90" fill="#f4ad16" />
<rect x="50.10" y="51.40" width="6.90" height="3.00" fill="#2d8c96" />
<rect x="50.10" y="54.40" width="6.90" height="9.80" fill="#c3def0" />
<rect x="50.10" y="64.20" width="6.90" height="6.90" fill="#3f7fb8" />
<rect x="50.10" y="71.10" width="6.90" height="1.20" fill="#c3def0" />
<rect x="50.10" y="72.30" width="6.90" height="1.20" fill="#3f7fb8" />
<rect x="50.10" y="73.50" width="6.90" height="0.80" fill="#c3def0" />
<rect x="50.10" y="74.30" width="6.90" height="1.40" fill="#3f7fb8" />
<rect x="50.10" y="79.00" width="6.30" height="3.45" fill="#c8a0cc" />
<text x="48.80" y="81.80" font-size="3.7" fill="#555" stroke="#555" stroke-width="0.15" text-anchor="end">HSC</text>
<rect x="50.10" y="82.40" width="6.30" height="3.45" fill="#e8a2b4" />
<text x="48.80" y="85.20" font-size="3.7" fill="#555" stroke="#555" stroke-width="0.15" text-anchor="end">Pro-B</text>
<rect x="50.10" y="85.80" width="6.30" height="3.45" fill="#de8ccc" />
<text x="48.80" y="88.60" font-size="3.7" fill="#555" stroke="#555" stroke-width="0.15" text-anchor="end">Pre-B I</text>
<rect x="50.10" y="89.20" width="6.30" height="3.45" fill="#7cc242" />
<text x="48.80" y="92.00" font-size="3.7" fill="#555" stroke="#555" stroke-width="0.15" text-anchor="end">Pre-B II Large</text>
<rect x="50.10" y="92.60" width="6.30" height="3.45" fill="#3fbfe6" />
<text x="48.80" y="95.40" font-size="3.7" fill="#555" stroke="#555" stroke-width="0.15" text-anchor="end">Pre-B II Small</text>
<rect x="50.10" y="96.00" width="6.30" height="3.45" fill="#3bb39c" />
<text x="48.80" y="98.80" font-size="3.7" fill="#555" stroke="#555" stroke-width="0.15" text-anchor="end">Immature B</text>
<rect x="50.10" y="99.40" width="6.30" height="3.45" fill="#e2b11f" />
<text x="48.80" y="102.20" font-size="3.7" fill="#555" stroke="#555" stroke-width="0.15" text-anchor="end">Most Mature B</text>
<defs><linearGradient id="cb" x1="0" y1="0" x2="0" y2="1"><stop offset="0" stop-color="#a3192a"/><stop offset="0.25" stop-color="#d6484d"/><stop offset="0.5" stop-color="#f8f6f6"/><stop offset="0.75" stop-color="#5d94cf"/><stop offset="1" stop-color="#263a8e"/></linearGradient></defs>
<rect x="241.50" y="31.30" width="6.20" height="59.20" fill="url(#cb)" />
<text x="250.30" y="39.10" font-size="6.4" fill="#262626" stroke="#262626" stroke-width="0.15">4</text>
<text x="250.30" y="51.50" font-size="6.4" fill="#262626" stroke="#262626" stroke-width="0.15">2</text>
<text x="250.30" y="64.00" font-size="6.4" fill="#262626" stroke="#262626" stroke-width="0.15">0</text>
<text x="250.30" y="76.50" font-size="6.4" fill="#262626" stroke="#262626" stroke-width="0.15">−2</text>
<text x="250.30" y="88.90" font-size="6.4" fill="#262626" stroke="#262626" stroke-width="0.15">−4</text>
<text x="237.60" y="61.00" font-size="6.4" fill="#262626" stroke="#262626" stroke-width="0.15" text-anchor="middle" textLength="34.50" lengthAdjust="spacingAndGlyphs" transform="rotate(-90 237.60 61.00)">tpm (z-score)</text>
<text x="33.80" y="130.40" font-size="6.6" fill="#262626" stroke="#262626" stroke-width="0.15" textLength="35.00" lengthAdjust="spacingAndGlyphs">main cluster</text>
<rect x="72.30" y="121.20" width="5.30" height="5.10" fill="#e8141c" />
<rect x="72.30" y="130.40" width="5.30" height="5.10" fill="#2f3f9c" />
<text x="81.00" y="126.20" font-size="6.6" fill="#262626" stroke="#262626" stroke-width="0.15" textLength="35.80" lengthAdjust="spacingAndGlyphs">multilineage</text>
<text x="81.00" y="135.40" font-size="6.6" fill="#262626" stroke="#262626" stroke-width="0.15">lymphoid</text>
<text x="119.60" y="130.40" font-size="6.6" fill="#262626" stroke="#262626" stroke-width="0.15" textLength="30.00" lengthAdjust="spacingAndGlyphs">subcluster</text>
<rect x="152.70" y="120.80" width="5.30" height="5.10" fill="#e8a01c" />
<rect x="152.70" y="130.20" width="5.30" height="5.10" fill="#f6e01a" />
<rect x="196.50" y="120.80" width="5.30" height="5.10" fill="#c3daec" />
<rect x="196.50" y="130.20" width="5.30" height="5.10" fill="#3f7fb8" />
<text x="161.90" y="126.00" font-size="6.6" fill="#262626" stroke="#262626" stroke-width="0.15" textLength="27.70" lengthAdjust="spacingAndGlyphs">delHBS1L</text>
<text x="161.90" y="135.20" font-size="6.6" fill="#262626" stroke="#262626" stroke-width="0.15">del7</text>
<text x="205.30" y="126.00" font-size="6.6" fill="#262626" stroke="#262626" stroke-width="0.15">IKZF1</text>
<text x="205.30" y="135.20" font-size="6.6" fill="#262626" stroke="#262626" stroke-width="0.15" textLength="43.00" lengthAdjust="spacingAndGlyphs">CDKN2A/PAX5</text>
<line x1="329.80" y1="34.70" x2="329.80" y2="116.80" stroke="#111" stroke-width="1.1" />
<line x1="329.30" y1="116.30" x2="507.40" y2="116.30" stroke="#111" stroke-width="1.1" />
<line x1="326.80" y1="46.10" x2="329.80" y2="46.10" stroke="#111" stroke-width="0.9" />
<text x="323.20" y="48.30" font-size="6.3" fill="#262626" stroke="#262626" stroke-width="0.15" text-anchor="end">2</text>
<line x1="326.80" y1="61.90" x2="329.80" y2="61.90" stroke="#111" stroke-width="0.9" />
<text x="323.20" y="64.10" font-size="6.3" fill="#262626" stroke="#262626" stroke-width="0.15" text-anchor="end">1</text>
<line x1="326.80" y1="77.70" x2="329.80" y2="77.70" stroke="#111" stroke-width="0.9" />
<text x="323.20" y="79.90" font-size="6.3" fill="#262626" stroke="#262626" stroke-width="0.15" text-anchor="end">0</text>
<line x1="326.80" y1="93.50" x2="329.80" y2="93.50" stroke="#111" stroke-width="0.9" />
<text x="323.20" y="95.70" font-size="6.3" fill="#262626" stroke="#262626" stroke-width="0.15" text-anchor="end">−1</text>
<line x1="326.80" y1="109.30" x2="329.80" y2="109.30" stroke="#111" stroke-width="0.9" />
<text x="323.20" y="111.50" font-size="6.3" fill="#262626" stroke="#262626" stroke-width="0.15" text-anchor="end">−2</text>
<text x="310.80" y="76.00" font-size="6.6" fill="#262626" stroke="#262626" stroke-width="0.15" text-anchor="middle" textLength="89.00" lengthAdjust="spacingAndGlyphs" transform="rotate(-90 310.80 76.00)">Normalized enrichment score</text>
<line x1="344.00" y1="116.30" x2="344.00" y2="118.70" stroke="#111" stroke-width="0.9" />
<text x="347.40" y="125.10" font-size="6.6" fill="#262626" stroke="#262626" stroke-width="0.15" text-anchor="end" textLength="11.15" lengthAdjust="spacingAndGlyphs" transform="rotate(-45 347.40 125.10)">HSC</text>
<line x1="368.80" y1="116.30" x2="368.80" y2="118.70" stroke="#111" stroke-width="0.9" />
<text x="372.20" y="125.10" font-size="6.6" fill="#262626" stroke="#262626" stroke-width="0.15" text-anchor="end" textLength="15.59" lengthAdjust="spacingAndGlyphs" transform="rotate(-45 372.20 125.10)">Pro–B</text>
<line x1="393.50" y1="116.30" x2="393.50" y2="118.70" stroke="#111" stroke-width="0.9" />
<text x="396.90" y="125.10" font-size="6.6" fill="#262626" stroke="#262626" stroke-width="0.15" text-anchor="end" textLength="19.81" lengthAdjust="spacingAndGlyphs" transform="rotate(-45 396.90 125.10)">Pre–B I</text>
<line x1="418.30" y1="116.30" x2="418.30" y2="118.70" stroke="#111" stroke-width="0.9" />
<text x="421.70" y="125.10" font-size="6.6" fill="#262626" stroke="#262626" stroke-width="0.15" text-anchor="end" textLength="37.45" lengthAdjust="spacingAndGlyphs" transform="rotate(-45 421.70 125.10)">Pre–B II Large</text>
<line x1="443.00" y1="116.30" x2="443.00" y2="118.70" stroke="#111" stroke-width="0.9" />
<text x="446.40" y="125.10" font-size="6.6" fill="#262626" stroke="#262626" stroke-width="0.15" text-anchor="end" textLength="38.38" lengthAdjust="spacingAndGlyphs" transform="rotate(-45 446.40 125.10)">Pre–B II Small</text>
<line x1="467.80" y1="116.30" x2="467.80" y2="118.70" stroke="#111" stroke-width="0.9" />
<text x="471.20" y="125.10" font-size="6.6" fill="#262626" stroke="#262626" stroke-width="0.15" text-anchor="end" textLength="32.40" lengthAdjust="spacingAndGlyphs" transform="rotate(-45 471.20 125.10)">Immature B</text>
<line x1="492.60" y1="116.30" x2="492.60" y2="118.70" stroke="#111" stroke-width="0.9" />
<text x="496.00" y="125.10" font-size="6.6" fill="#262626" stroke="#262626" stroke-width="0.15" text-anchor="end" textLength="42.48" lengthAdjust="spacingAndGlyphs" transform="rotate(-45 496.00 125.10)">Most Mature B</text>
<line x1="336.90" y1="99.80" x2="336.90" y2="107.40" stroke="#3a3a3a" stroke-width="1.0" />
<rect x="334.60" y="101.90" width="4.60" height="3.20" fill="#f5a00c" rx="0.8"/>
<line x1="334.60" y1="103.60" x2="339.20" y2="103.60" stroke="#3a2a10" stroke-width="0.9" />
<line x1="341.60" y1="101.50" x2="341.60" y2="108.50" stroke="#3a3a3a" stroke-width="1.0" />
<rect x="339.30" y="103.00" width="4.60" height="3.30" fill="#f1e40c" rx="0.8"/>
<line x1="339.30" y1="104.50" x2="343.90" y2="104.50" stroke="#3a2a10" stroke-width="0.9" />
<line x1="346.30" y1="99.30" x2="346.30" y2="110.40" stroke="#3a3a3a" stroke-width="1.0" />
<rect x="344.00" y="104.00" width="4.60" height="3.00" fill="#bcd9eb" rx="0.8"/>
<line x1="344.00" y1="105.40" x2="348.60" y2="105.40" stroke="#2a3a50" stroke-width="0.9" />
<line x1="351.00" y1="104.50" x2="351.00" y2="111.50" stroke="#3a3a3a" stroke-width="1.0" />
<rect x="348.70" y="107.40" width="4.60" height="2.40" fill="#3b79b2" rx="0.8"/>
<line x1="348.70" y1="108.60" x2="353.30" y2="108.60" stroke="#2a3a50" stroke-width="0.9" />
<line x1="361.70" y1="49.10" x2="361.70" y2="64.00" stroke="#3a3a3a" stroke-width="1.0" />
<rect x="359.40" y="53.50" width="4.60" height="7.20" fill="#f5a00c" rx="0.8"/>
<line x1="359.40" y1="56.30" x2="364.00" y2="56.30" stroke="#3a2a10" stroke-width="0.9" />
<line x1="366.40" y1="63.00" x2="366.40" y2="68.80" stroke="#3a3a3a" stroke-width="1.0" />
<rect x="364.10" y="64.50" width="4.60" height="2.90" fill="#f1e40c" rx="0.8"/>
<line x1="364.10" y1="66.00" x2="368.70" y2="66.00" stroke="#3a2a10" stroke-width="0.9" />
<line x1="371.10" y1="64.00" x2="371.10" y2="81.80" stroke="#3a3a3a" stroke-width="1.0" />
<rect x="368.80" y="70.80" width="4.60" height="4.80" fill="#bcd9eb" rx="0.8"/>
<line x1="368.80" y1="73.60" x2="373.40" y2="73.60" stroke="#2a3a50" stroke-width="0.9" />
<line x1="375.80" y1="66.00" x2="375.80" y2="82.30" stroke="#3a3a3a" stroke-width="1.0" />
<rect x="373.50" y="71.30" width="4.60" height="4.30" fill="#3b79b2" rx="0.8"/>
<line x1="373.50" y1="73.50" x2="378.10" y2="73.50" stroke="#2a3a50" stroke-width="0.9" />
<line x1="386.40" y1="55.90" x2="386.40" y2="71.70" stroke="#3a3a3a" stroke-width="1.0" />
<rect x="384.10" y="59.20" width="4.60" height="5.80" fill="#f5a00c" rx="0.8"/>
<line x1="384.10" y1="61.20" x2="388.70" y2="61.20" stroke="#3a2a10" stroke-width="0.9" />
<line x1="391.10" y1="49.60" x2="391.10" y2="60.20" stroke="#3a3a3a" stroke-width="1.0" />
<rect x="388.80" y="54.00" width="4.60" height="3.80" fill="#f1e40c" rx="0.8"/>
<line x1="388.80" y1="56.30" x2="393.40" y2="56.30" stroke="#3a2a10" stroke-width="0.9" />
<line x1="395.80" y1="49.60" x2="395.80" y2="60.20" stroke="#3a3a3a" stroke-width="1.0" />
<rect x="393.50" y="52.00" width="4.60" height="3.40" fill="#bcd9eb" rx="0.8"/>
<line x1="393.50" y1="53.50" x2="398.10" y2="53.50" stroke="#2a3a50" stroke-width="0.9" />
<line x1="400.50" y1="52.00" x2="400.50" y2="63.60" stroke="#3a3a3a" stroke-width="1.0" />
<rect x="398.20" y="54.90" width="4.60" height="3.90" fill="#3b79b2" rx="0.8"/>
<line x1="398.20" y1="56.80" x2="402.80" y2="56.80" stroke="#2a3a50" stroke-width="0.9" />
<line x1="411.20" y1="72.30" x2="411.20" y2="83.80" stroke="#3a3a3a" stroke-width="1.0" />
<rect x="408.90" y="76.20" width="4.60" height="3.80" fill="#f5a00c" rx="0.8"/>
<line x1="408.90" y1="78.10" x2="413.50" y2="78.10" stroke="#3a2a10" stroke-width="0.9" />
<line x1="415.90" y1="73.80" x2="415.90" y2="86.70" stroke="#3a3a3a" stroke-width="1.0" />
<rect x="413.60" y="78.10" width="4.60" height="3.80" fill="#f1e40c" rx="0.8"/>
<line x1="413.60" y1="80.20" x2="418.20" y2="80.20" stroke="#3a2a10" stroke-width="0.9" />
<line x1="420.60" y1="67.00" x2="420.60" y2="85.80" stroke="#3a3a3a" stroke-width="1.0" />
<rect x="418.30" y="73.80" width="4.60" height="3.80" fill="#bcd9eb" rx="0.8"/>
<line x1="418.30" y1="75.70" x2="422.90" y2="75.70" stroke="#2a3a50" stroke-width="0.9" />
<line x1="425.30" y1="68.50" x2="425.30" y2="82.90" stroke="#3a3a3a" stroke-width="1.0" />
<rect x="423.00" y="73.30" width="4.60" height="5.30" fill="#3b79b2" rx="0.8"/>
<line x1="423.00" y1="75.70" x2="427.60" y2="75.70" stroke="#2a3a50" stroke-width="0.9" />
<line x1="435.90" y1="72.30" x2="435.90" y2="82.40" stroke="#3a3a3a" stroke-width="1.0" />
<rect x="433.60" y="75.20" width="4.60" height="3.40" fill="#f5a00c" rx="0.8"/>
<line x1="433.60" y1="76.60" x2="438.20" y2="76.60" stroke="#3a2a10" stroke-width="0.9" />
<line x1="440.60" y1="68.00" x2="440.60" y2="81.00" stroke="#3a3a3a" stroke-width="1.0" />
<rect x="438.30" y="73.30" width="4.60" height="3.80" fill="#f1e40c" rx="0.8"/>
<line x1="438.30" y1="75.20" x2="442.90" y2="75.20" stroke="#3a2a10" stroke-width="0.9" />
<line x1="445.30" y1="67.50" x2="445.30" y2="79.50" stroke="#3a3a3a" stroke-width="1.0" />
<rect x="443.00" y="71.80" width="4.60" height="3.40" fill="#bcd9eb" rx="0.8"/>
<line x1="443.00" y1="73.30" x2="447.60" y2="73.30" stroke="#2a3a50" stroke-width="0.9" />
<line x1="450.00" y1="66.00" x2="450.00" y2="78.60" stroke="#3a3a3a" stroke-width="1.0" />
<rect x="447.70" y="70.40" width="4.60" height="3.80" fill="#3b79b2" rx="0.8"/>
<line x1="447.70" y1="72.30" x2="452.30" y2="72.30" stroke="#2a3a50" stroke-width="0.9" />
<line x1="460.70" y1="82.70" x2="460.70" y2="89.40" stroke="#3a3a3a" stroke-width="1.0" />
<rect x="458.40" y="85.10" width="4.60" height="2.90" fill="#f5a00c" rx="0.8"/>
<line x1="458.40" y1="86.50" x2="463.00" y2="86.50" stroke="#3a2a10" stroke-width="0.9" />
<line x1="465.40" y1="80.80" x2="465.40" y2="89.40" stroke="#3a3a3a" stroke-width="1.0" />
<rect x="463.10" y="83.20" width="4.60" height="3.80" fill="#f1e40c" rx="0.8"/>
<line x1="463.10" y1="84.40" x2="467.70" y2="84.40" stroke="#3a2a10" stroke-width="0.9" />
<line x1="470.10" y1="77.90" x2="470.10" y2="89.40" stroke="#3a3a3a" stroke-width="1.0" />
<rect x="467.80" y="81.70" width="4.60" height="2.90" fill="#bcd9eb" rx="0.8"/>
<line x1="467.80" y1="83.20" x2="472.40" y2="83.20" stroke="#2a3a50" stroke-width="0.9" />
<line x1="474.80" y1="72.10" x2="474.80" y2="87.50" stroke="#3a3a3a" stroke-width="1.0" />
<rect x="472.50" y="76.40" width="4.60" height="4.40" fill="#3b79b2" rx="0.8"/>
<line x1="472.50" y1="78.40" x2="477.10" y2="78.40" stroke="#2a3a50" stroke-width="0.9" />
<line x1="485.50" y1="71.20" x2="485.50" y2="86.50" stroke="#3a3a3a" stroke-width="1.0" />
<rect x="483.20" y="77.90" width="4.60" height="5.80" fill="#f5a00c" rx="0.8"/>
<line x1="483.20" y1="80.60" x2="487.80" y2="80.60" stroke="#3a2a10" stroke-width="0.9" />
<line x1="490.20" y1="68.30" x2="490.20" y2="87.00" stroke="#3a3a3a" stroke-width="1.0" />
<rect x="487.90" y="73.10" width="4.60" height="8.60" fill="#f1e40c" rx="0.8"/>
<line x1="487.90" y1="77.40" x2="492.50" y2="77.40" stroke="#3a2a10" stroke-width="0.9" />
<line x1="494.90" y1="70.70" x2="494.90" y2="87.00" stroke="#3a3a3a" stroke-width="1.0" />
<rect x="492.60" y="76.40" width="4.60" height="3.40" fill="#bcd9eb" rx="0.8"/>
<line x1="492.60" y1="78.10" x2="497.20" y2="78.10" stroke="#2a3a50" stroke-width="0.9" />
<line x1="499.60" y1="65.90" x2="499.60" y2="87.00" stroke="#3a3a3a" stroke-width="1.0" />
<rect x="497.30" y="75.00" width="4.60" height="5.80" fill="#3b79b2" rx="0.8"/>
<line x1="497.30" y1="78.40" x2="501.90" y2="78.40" stroke="#2a3a50" stroke-width="0.9" />
<circle cx="336.90" cy="94.9" r="1.35" fill="#000"/>
<circle cx="366.40" cy="59.2" r="1.35" fill="#000"/>
<circle cx="366.40" cy="72.2" r="1.35" fill="#000"/>
<circle cx="375.80" cy="84.7" r="1.35" fill="#000"/>
<circle cx="391.10" cy="63.6" r="1.35" fill="#000"/>
<circle cx="400.50" cy="68.8" r="1.35" fill="#000"/>
<circle cx="411.20" cy="89.1" r="1.35" fill="#000"/>
<circle cx="435.90" cy="85.8" r="1.35" fill="#000"/>
<circle cx="470.10" cy="74.8" r="1.35" fill="#000"/>
<line x1="338.30" y1="93.10" x2="350.40" y2="93.10" stroke="#000" stroke-width="1.1" />
<text x="344.35" y="94.20" font-size="7.4" fill="#111" text-anchor="middle" font-weight="bold">***</text>
<line x1="362.70" y1="47.20" x2="374.70" y2="47.20" stroke="#000" stroke-width="1.1" />
<text x="368.70" y="48.30" font-size="7.4" fill="#111" text-anchor="middle" font-weight="bold">***</text>
<line x1="387.70" y1="47.20" x2="399.70" y2="47.20" stroke="#000" stroke-width="1.1" />
<text x="393.70" y="48.30" font-size="7.4" fill="#111" text-anchor="middle" font-weight="bold">***</text>
<line x1="412.70" y1="65.10" x2="424.70" y2="65.10" stroke="#000" stroke-width="1.1" />
<text x="418.70" y="66.20" font-size="7.4" fill="#111" text-anchor="middle" font-weight="bold">**</text>
<line x1="437.70" y1="64.30" x2="449.70" y2="64.30" stroke="#000" stroke-width="1.1" />
<text x="443.70" y="65.40" font-size="7.4" fill="#111" text-anchor="middle" font-weight="bold">***</text>
<line x1="462.50" y1="70.20" x2="474.70" y2="70.20" stroke="#000" stroke-width="1.1" />
<text x="468.60" y="71.30" font-size="7.4" fill="#111" text-anchor="middle" font-weight="bold">***</text>
<line x1="487.50" y1="64.40" x2="499.70" y2="64.40" stroke="#000" stroke-width="1.1" />
<text x="493.60" y="61.90" font-size="5.8" fill="#222" stroke="#222" stroke-width="0.15" text-anchor="middle">n.s.</text>
<line x1="344.40" y1="22.80" x2="344.40" y2="31.20" stroke="#3a3a3a" stroke-width="0.9" />
<rect x="342.30" y="24.60" width="4.20" height="4.80" fill="#f5a00c" rx="0.8"/>
<line x1="342.30" y1="27.00" x2="346.50" y2="27.00" stroke="#333" stroke-width="0.8" />
<text x="350.40" y="29.60" font-size="6.6" fill="#262626" stroke="#262626" stroke-width="0.15">delHBS1L</text>
<line x1="386.50" y1="22.80" x2="386.50" y2="31.20" stroke="#3a3a3a" stroke-width="0.9" />
<rect x="384.40" y="24.60" width="4.20" height="4.80" fill="#f1e40c" rx="0.8"/>
<line x1="384.40" y1="27.00" x2="388.60" y2="27.00" stroke="#333" stroke-width="0.8" />
<text x="392.50" y="29.60" font-size="6.6" fill="#262626" stroke="#262626" stroke-width="0.15">del7</text>
<line x1="414.00" y1="22.80" x2="414.00" y2="31.20" stroke="#3a3a3a" stroke-width="0.9" />
<rect x="411.90" y="24.60" width="4.20" height="4.80" fill="#bcd9eb" rx="0.8"/>
<line x1="411.90" y1="27.00" x2="416.10" y2="27.00" stroke="#333" stroke-width="0.8" />
<text x="420.00" y="29.60" font-size="6.6" fill="#262626" stroke="#262626" stroke-width="0.15">IKZF1</text>
<line x1="445.40" y1="22.80" x2="445.40" y2="31.20" stroke="#3a3a3a" stroke-width="0.9" />
<rect x="443.30" y="24.60" width="4.20" height="4.80" fill="#3b79b2" rx="0.8"/>
<line x1="443.30" y1="27.00" x2="447.50" y2="27.00" stroke="#333" stroke-width="0.8" />
<text x="451.40" y="29.60" font-size="6.6" fill="#262626" stroke="#262626" stroke-width="0.15">CDKN2A/PAX5</text>
<path d="M159.9 209.3h0M153.3 204.7h0M158.1 210.1h0M158.3 204.1h0M153.3 206.5h0M160.6 206.5h0M155.1 206.1h0M157.3 205.0h0M156.6 207.1h0M163.5 206.4h0M160.7 204.4h0M160.3 206.9h0M154.4 206.5h0M160.4 205.9h0M161.0 209.7h0M151.3 207.3h0M153.8 208.5h0M157.0 207.0h0M158.6 205.4h0M157.1 205.1h0M156.7 202.9h0M150.4 204.8h0M160.0 208.2h0M157.8 205.3h0M153.0 207.6h0M152.5 207.1h0M160.7 206.4h0M158.4 206.7h0M151.5 206.6h0M149.7 205.4h0M157.5 209.3h0M150.9 205.5h0M157.6 207.7h0M153.2 208.8h0M155.8 207.4h0M163.7 208.0h0M157.2 204.5h0M153.9 203.6h0M162.1 205.8h0M160.2 204.9h0M154.2 207.6h0M158.3 205.6h0M163.6 208.1h0M157.2 204.1h0M157.2 205.9h0M156.3 208.2h0M154.2 207.1h0M160.0 207.3h0M156.4 204.1h0M149.6 206.0h0M159.4 206.8h0M160.5 203.3h0M160.8 204.6h0M151.4 207.7h0M158.7 205.0h0M153.1 206.1h0M156.6 206.2h0M162.2 206.9h0M151.3 203.3h0M153.6 205.7h0M158.4 205.9h0M158.1 207.0h0M161.1 206.9h0M162.0 209.8h0M155.2 205.6h0M152.8 206.1h0M153.5 206.6h0M157.9 207.7h0M151.6 208.8h0M155.2 206.3h0M154.4 202.4h0M157.7 202.8h0M161.3 206.6h0M163.2 207.9h0M159.6 209.5h0M156.4 209.7h0M156.0 207.1h0M153.7 207.7h0M159.4 205.5h0M151.1 206.4h0M175.0 270.2h0M165.6 274.7h0M173.0 280.8h0M164.4 273.5h0M176.7 262.9h0M173.5 274.9h0M150.0 210.5h0" stroke="#1f9a9b" stroke-width="2.3" stroke-linecap="round" fill="none"/>
<path d="M133.4 210.8h0M130.8 209.9h0M131.5 213.2h0M130.2 210.7h0M135.8 212.1h0M134.4 210.8h0M133.2 211.4h0M135.7 212.2h0M132.7 209.4h0M132.3 210.8h0M131.3 209.7h0M130.7 210.8h0M131.5 211.6h0M134.5 211.5h0M132.7 213.3h0M133.9 208.8h0M131.3 211.3h0M131.0 212.1h0M134.5 211.9h0M129.6 211.1h0M135.2 209.3h0M130.4 209.2h0M130.7 208.4h0M131.7 208.8h0M137.0 212.0h0" stroke="#2b3391" stroke-width="2.3" stroke-linecap="round" fill="none"/>
<path d="M49.2 256.9h0M54.5 254.5h0M52.5 256.7h0M52.0 255.5h0M52.2 254.1h0M53.8 251.5h0M53.1 252.7h0M50.6 257.8h0M52.5 252.6h0M57.9 253.8h0M53.8 259.7h0M58.0 257.9h0M55.9 258.0h0M53.2 257.1h0M58.8 253.4h0M48.1 255.9h0M53.5 256.1h0M51.3 255.9h0M62.2 255.6h0M60.6 252.8h0M59.4 254.9h0M60.1 255.4h0M53.0 252.6h0M59.8 254.7h0M57.3 255.8h0M52.3 255.6h0M56.2 249.7h0M52.6 254.3h0M55.8 257.0h0M50.9 253.9h0M56.9 249.6h0M60.0 254.9h0M53.9 249.9h0M54.6 255.4h0M56.5 251.1h0M50.2 252.4h0M55.3 252.2h0M53.5 257.0h0M52.1 258.1h0M55.4 253.8h0M59.0 255.8h0M52.7 252.9h0M53.8 255.4h0M59.2 255.2h0M51.2 250.9h0M55.2 255.6h0M59.2 253.1h0M48.1 256.8h0M53.2 251.2h0M61.6 256.9h0M54.3 255.3h0M50.6 257.2h0M52.0 253.3h0M52.7 251.5h0M58.7 259.0h0M52.6 252.8h0M58.5 254.0h0M54.2 254.1h0M50.2 257.5h0M48.0 251.7h0M52.4 253.2h0M59.2 253.1h0M56.3 253.3h0M59.9 254.5h0M55.2 250.1h0M57.2 252.8h0M58.1 255.9h0M56.5 257.5h0M55.7 252.1h0M54.7 255.0h0M48.6 256.2h0M60.7 255.2h0M54.5 255.7h0M59.0 253.1h0M58.4 252.5h0M56.4 255.9h0M48.1 256.3h0M55.0 250.0h0M51.9 252.8h0M49.9 255.6h0M50.4 254.6h0M49.0 253.8h0M62.3 255.6h0M46.9 252.0h0M53.4 250.1h0M58.5 254.4h0M53.7 254.6h0M50.9 251.4h0M55.1 256.3h0M53.2 249.6h0M52.5 254.6h0M48.1 258.2h0M48.9 254.5h0M49.0 256.9h0M48.2 252.1h0M59.1 251.1h0M51.5 256.0h0M55.6 249.8h0M56.8 253.7h0M57.5 255.6h0M52.3 253.4h0M55.8 252.7h0M52.4 252.4h0M54.6 256.3h0M46.7 254.6h0M60.3 255.9h0M61.2 254.4h0M62.3 255.0h0M63.0 254.2h0M64.8 254.6h0M65.9 255.1h0M66.1 255.8h0M68.2 254.4h0M69.0 254.1h0M70.3 254.3h0M71.1 255.5h0M72.2 255.8h0M72.9 255.9h0M74.5 254.2h0M74.9 254.4h0M76.1 254.8h0M110.0 258.3h0M110.5 265.4h0M112.7 260.1h0M111.7 262.3h0M107.7 262.3h0M109.3 258.9h0M108.7 260.7h0M114.6 258.4h0M111.8 262.6h0M116.2 259.1h0" stroke="#b55ab8" stroke-width="2.3" stroke-linecap="round" fill="none"/>
<path d="M105.3 254.0h0M102.6 253.5h0M103.3 252.0h0M105.1 251.5h0M103.6 249.0h0M104.2 250.7h0M103.9 248.3h0M101.6 251.8h0M106.9 250.5h0M102.1 248.9h0M102.9 252.4h0M104.6 248.2h0M101.5 251.6h0M105.3 254.5h0M108.2 251.4h0M102.7 251.4h0M101.6 249.6h0M107.1 252.2h0M106.9 254.1h0M103.4 252.6h0M104.7 251.6h0M105.1 252.1h0M100.9 248.3h0M104.7 252.0h0M103.2 250.8h0M100.9 252.9h0M105.7 254.0h0M103.4 250.8h0M117.2 251.5h0M118.3 249.0h0M113.1 245.8h0M113.5 247.5h0M119.0 248.1h0M114.4 251.6h0M119.8 248.7h0M120.2 245.2h0M115.7 247.2h0M117.9 247.5h0M121.1 247.0h0M116.4 244.9h0M118.1 250.0h0M115.2 244.7h0M113.7 251.0h0M118.9 248.7h0M118.8 249.2h0M118.1 243.8h0M118.2 249.8h0M119.7 250.5h0M115.4 248.7h0M113.6 251.7h0M113.7 249.8h0M115.1 245.9h0M114.9 247.1h0M117.9 250.9h0M116.3 250.2h0M115.6 248.8h0M118.6 248.4h0M118.5 246.3h0M116.1 246.4h0M115.5 245.7h0" stroke="#f08a82" stroke-width="2.3" stroke-linecap="round" fill="none"/>
<path d="M138.5 243.5h0M136.2 249.4h0M131.5 244.0h0M137.0 244.0h0M140.5 246.0h0M135.4 242.4h0M141.6 245.8h0M143.3 247.4h0M141.4 250.4h0M136.3 245.6h0M138.1 253.3h0M133.0 244.0h0M141.4 241.0h0M146.0 243.7h0M144.6 247.0h0M137.3 243.7h0M145.9 246.6h0M132.6 249.6h0M138.3 249.2h0M137.0 248.7h0M141.1 247.5h0M131.2 249.1h0M145.5 248.9h0M143.4 250.0h0M137.5 250.9h0M137.8 244.2h0M133.0 250.9h0M142.3 249.5h0M136.3 241.5h0M142.7 247.2h0M136.1 245.5h0M136.2 241.4h0M141.9 249.8h0M143.1 246.3h0M133.0 243.0h0M137.5 253.2h0M143.4 247.6h0M141.2 250.1h0M139.2 248.2h0M140.0 245.6h0M133.5 245.6h0M144.4 242.3h0M136.9 246.1h0M139.1 246.0h0M142.7 246.3h0M138.9 249.8h0M132.2 251.0h0M143.9 243.2h0M138.5 245.1h0M137.2 250.0h0M130.1 250.2h0M141.0 247.5h0M131.8 248.7h0M139.7 245.4h0M145.5 250.2h0M142.0 251.1h0M145.3 251.6h0M138.8 246.7h0M138.0 249.2h0M134.5 244.0h0M144.1 246.7h0M134.9 246.1h0M135.2 245.4h0M131.6 249.5h0M140.6 250.1h0M139.3 245.2h0M141.7 250.4h0M137.5 249.9h0M135.4 250.8h0M143.4 250.2h0M140.8 247.9h0M140.1 249.8h0M136.8 249.8h0M142.6 243.4h0M130.9 248.5h0M137.4 244.9h0M133.1 243.9h0M131.2 246.3h0M138.4 252.4h0M144.8 246.9h0M140.8 246.7h0M138.4 244.9h0M139.0 244.0h0M135.5 247.0h0M138.6 254.1h0M146.6 242.3h0M149.9 245.6h0M150.0 244.2h0M145.2 243.8h0M145.7 244.3h0M152.3 243.9h0M148.7 246.6h0M145.6 246.0h0M147.7 243.1h0M147.7 242.5h0M150.3 244.7h0M147.5 245.4h0M151.3 243.3h0M150.1 242.7h0M150.4 245.2h0M147.1 245.8h0" stroke="#f2a564" stroke-width="2.3" stroke-linecap="round" fill="none"/>
<path d="M145.2 274.1h0M148.0 275.9h0M140.7 279.3h0M149.4 280.0h0M152.2 278.0h0M145.5 267.9h0M152.5 269.9h0M154.0 269.5h0M151.2 276.8h0M151.1 269.7h0M151.9 274.1h0M151.4 278.1h0M142.4 270.2h0M141.3 278.2h0M150.0 277.9h0M149.1 275.2h0M145.6 275.1h0M139.5 277.3h0M134.8 271.4h0M144.4 273.7h0M146.4 269.7h0M141.9 273.1h0M142.0 277.0h0M146.0 275.1h0M138.7 276.8h0M152.6 267.6h0M157.6 269.0h0M138.3 276.4h0M160.1 275.8h0M146.0 270.6h0M141.6 274.0h0M149.7 269.7h0M148.8 269.8h0M151.5 272.1h0M138.9 278.6h0M147.7 270.4h0M152.6 275.1h0M155.5 272.1h0M144.9 275.9h0M146.7 280.1h0M153.5 277.2h0M152.0 272.4h0M141.1 270.1h0M156.3 272.5h0M147.6 271.4h0M150.0 269.9h0M139.7 273.7h0M148.4 276.5h0M148.7 275.7h0M147.2 272.3h0M139.3 270.5h0M146.6 268.6h0M153.0 272.1h0M155.8 276.3h0M157.6 270.8h0M150.3 271.0h0M140.2 273.9h0M143.4 276.5h0M136.7 274.3h0M156.7 274.2h0M138.0 271.9h0M142.8 279.0h0M142.3 272.0h0M145.8 272.6h0M147.3 270.3h0M146.7 271.5h0M143.8 272.2h0M153.2 274.2h0M151.8 270.4h0M134.4 272.5h0M153.3 273.1h0M143.0 267.3h0M149.4 270.1h0M134.5 274.6h0M147.5 277.9h0M137.7 268.0h0M147.9 279.1h0M148.4 275.7h0M136.8 274.3h0M152.2 277.5h0M141.7 273.9h0M151.1 272.5h0M147.4 274.6h0M140.7 269.1h0M144.2 271.6h0M161.2 270.8h0M141.6 280.5h0M152.2 276.1h0M145.3 277.1h0M151.2 280.3h0M153.4 280.2h0M142.4 277.5h0M151.7 271.4h0M137.0 272.5h0M140.7 271.7h0M143.5 270.9h0M148.1 273.9h0M139.8 270.4h0M148.8 271.4h0M143.7 269.8h0M133.5 272.4h0M139.5 273.0h0M144.9 271.8h0M153.8 270.2h0M155.8 274.6h0M142.2 274.8h0M153.2 272.3h0M153.1 273.8h0M136.5 274.5h0M153.7 274.9h0M146.5 270.0h0M152.8 278.8h0M136.8 275.8h0M133.8 274.2h0M152.1 267.9h0M137.2 273.8h0M145.4 274.6h0M157.7 268.9h0M149.1 266.0h0M153.9 275.3h0M135.0 270.5h0M134.4 272.6h0M139.6 277.6h0M150.4 268.6h0M158.4 274.2h0M153.9 273.5h0M157.1 277.8h0M153.4 278.8h0M152.1 274.6h0M156.8 275.8h0M139.1 276.7h0M148.7 273.8h0M137.2 273.8h0M155.1 277.8h0M151.5 272.0h0M150.3 266.3h0M157.2 273.3h0M143.3 270.7h0M148.7 270.3h0M140.0 269.8h0M160.7 273.1h0M151.4 274.8h0M142.8 276.5h0M146.3 270.6h0M139.8 272.0h0M143.8 278.6h0M142.1 270.3h0M157.1 276.1h0M149.8 270.2h0M145.3 268.9h0M160.0 277.5h0M144.2 277.5h0M148.6 265.8h0M151.9 270.6h0M150.0 271.7h0M139.9 272.2h0M155.5 269.0h0M140.1 267.7h0M142.8 276.9h0M153.1 275.6h0M151.3 279.4h0M140.9 271.1h0M153.5 276.3h0M143.6 272.7h0M154.5 273.0h0M141.9 274.7h0M143.3 275.7h0M149.3 272.3h0M140.8 277.4h0M140.9 273.9h0" stroke="#c6da36" stroke-width="2.3" stroke-linecap="round" fill="none"/>
<path d="M157.2 255.6h0M157.1 259.5h0M158.9 251.3h0M154.0 258.5h0M157.7 260.5h0M160.2 260.7h0M153.4 254.1h0M163.0 250.5h0M161.1 255.3h0M162.2 254.3h0M155.8 258.8h0M159.5 252.3h0M160.3 257.3h0M155.9 250.0h0M158.8 255.6h0M161.8 255.4h0M162.4 256.7h0M163.9 259.7h0M153.6 254.5h0M160.2 254.6h0M159.9 262.4h0M155.5 252.8h0M155.4 259.9h0M159.1 256.2h0M159.8 252.9h0M154.5 254.9h0M162.3 254.8h0M160.1 257.5h0M163.9 251.3h0M154.5 260.2h0M152.0 252.4h0M157.6 255.6h0M151.9 252.7h0M152.8 259.5h0M155.3 256.7h0M156.9 257.7h0M153.3 251.8h0M160.0 259.0h0M155.4 253.6h0M165.7 255.9h0M162.1 259.8h0M161.5 255.1h0M158.1 259.1h0M160.2 257.9h0M160.8 253.5h0M155.6 250.0h0M159.3 255.5h0M157.1 251.3h0M162.0 258.4h0M161.0 257.8h0M162.7 256.6h0M155.6 256.2h0M158.7 257.0h0M160.3 255.9h0M159.4 255.4h0M157.7 251.2h0M155.9 253.7h0M165.0 254.6h0M155.3 257.9h0M160.3 254.4h0M162.0 251.5h0M154.4 253.5h0M157.2 254.6h0M158.5 259.2h0M158.8 257.2h0M157.6 251.4h0M158.3 251.5h0M161.0 254.4h0M154.7 255.2h0M159.0 253.5h0M154.7 254.2h0M156.6 253.4h0M162.3 254.6h0M162.2 257.8h0M158.7 255.5h0M158.6 248.5h0M162.2 259.1h0M159.5 257.0h0M155.5 255.1h0M156.1 251.4h0M165.0 255.8h0M155.4 252.7h0M160.0 263.2h0M162.7 251.9h0M155.9 260.1h0M154.9 261.6h0M151.7 252.9h0M163.2 251.3h0M159.4 259.0h0M161.3 257.3h0M160.2 258.3h0M159.0 253.6h0M158.9 252.6h0M157.5 259.8h0M160.0 255.7h0M144.9 261.6h0M149.0 261.1h0M155.2 261.6h0M129.3 259.3h0M148.6 259.9h0M126.9 263.0h0M143.7 264.0h0M148.3 260.1h0M141.4 262.9h0M145.6 261.4h0M144.9 262.5h0M150.9 262.8h0M142.2 265.6h0M140.2 263.1h0M145.8 262.7h0M149.1 262.5h0M133.7 258.9h0M141.1 262.2h0M139.6 261.7h0M147.1 262.4h0M148.3 261.6h0M125.7 262.7h0M147.0 264.2h0M147.5 259.1h0M148.3 264.7h0M162.5 261.9h0M146.1 261.9h0M155.0 263.0h0M140.7 264.8h0M151.6 260.3h0M144.6 260.7h0M128.9 263.3h0M137.7 262.3h0M150.0 260.3h0M151.4 261.0h0M146.4 261.0h0M136.8 260.3h0M147.1 260.5h0M155.7 263.7h0M146.4 262.6h0M141.6 266.2h0M148.7 262.6h0M147.0 263.3h0M142.9 261.0h0M148.7 262.8h0M135.5 261.0h0M147.2 260.9h0M158.0 259.6h0M134.4 264.2h0M141.7 260.9h0M153.8 261.0h0M124.5 261.6h0M151.8 262.2h0M160.0 262.7h0M147.1 265.6h0M148.4 264.2h0M146.6 259.6h0M150.7 265.1h0M147.0 259.6h0M140.1 262.8h0M128.1 264.5h0M136.9 264.0h0M149.9 260.0h0M139.0 262.4h0M126.0 261.0h0M147.2 263.9h0M154.1 263.0h0M147.3 264.3h0M142.8 261.1h0M131.4 260.6h0M150.6 262.3h0M145.3 260.7h0M137.2 260.2h0M128.3 265.0h0M149.5 259.4h0M151.2 263.2h0M151.5 261.5h0M138.4 261.2h0M142.3 258.5h0M154.3 260.0h0M157.7 264.6h0M135.2 261.8h0M132.0 263.0h0M139.5 258.9h0M152.0 259.8h0M149.5 266.4h0M142.6 260.7h0M125.1 263.1h0M139.5 261.5h0M154.8 259.2h0M149.0 265.3h0M152.6 259.7h0M155.8 261.1h0M158.6 262.3h0M147.7 259.5h0M149.6 262.5h0M145.8 259.5h0M141.9 261.8h0M149.4 264.0h0M152.3 262.7h0M138.1 261.8h0M145.9 262.9h0M125.6 263.2h0M129.2 263.2h0M140.2 257.9h0M147.4 259.4h0M149.8 262.4h0M142.4 264.1h0M134.5 260.4h0M142.6 263.4h0M123.8 278.0h0M121.8 275.1h0M118.4 278.5h0M127.8 277.1h0M123.8 277.8h0M127.5 276.5h0M126.7 282.6h0M126.7 276.9h0M121.9 282.9h0M122.6 282.0h0M122.8 280.3h0M121.0 278.7h0M116.3 279.9h0M125.3 280.8h0M130.8 280.8h0M123.8 281.0h0M129.4 278.0h0M125.9 283.5h0M124.8 280.2h0M119.4 282.2h0M121.5 277.4h0M126.4 280.4h0M120.4 277.6h0M117.5 278.2h0M116.6 277.1h0M129.2 277.8h0M121.2 281.6h0M124.5 280.9h0M123.6 276.6h0M128.9 279.6h0M123.8 280.1h0M130.5 279.8h0M127.4 274.8h0M121.9 278.3h0M122.2 277.8h0M125.0 281.5h0M125.9 280.2h0M126.3 279.2h0M131.1 278.6h0M124.4 278.1h0M123.3 277.8h0M119.7 279.2h0M126.2 278.6h0M130.3 279.5h0M118.2 278.7h0M128.1 280.5h0M123.2 276.0h0M124.3 279.6h0M124.2 280.2h0M123.7 281.0h0M123.2 279.1h0M118.4 278.4h0M118.7 278.5h0M124.7 281.8h0M124.5 277.3h0M125.8 277.9h0M122.7 277.6h0M122.1 280.8h0M124.5 276.9h0M128.0 276.0h0M127.1 276.6h0M123.2 283.0h0M123.2 279.6h0M121.8 279.8h0M127.6 280.2h0M130.8 278.3h0M119.2 280.6h0M120.2 281.4h0M123.9 284.2h0M125.8 276.7h0M120.5 278.5h0M125.6 274.6h0M126.4 278.8h0M127.1 278.3h0M128.0 281.0h0M128.4 266.0h0M133.6 269.6h0M134.3 263.9h0M128.2 266.6h0M131.4 261.2h0M129.7 261.6h0M134.5 263.2h0M134.8 265.7h0M133.0 267.8h0M129.6 268.5h0M134.5 260.9h0M130.2 262.6h0M137.6 269.1h0M150.7 269.8h0M154.6 272.3h0M144.9 269.1h0M140.2 269.6h0M148.3 268.9h0M143.7 274.8h0M143.1 274.5h0M129.5 269.3h0M150.7 272.4h0M139.4 274.7h0M144.8 273.5h0M149.0 278.7h0M144.2 272.8h0M142.3 271.2h0M153.7 269.4h0M151.2 273.0h0M150.2 274.0h0M149.6 266.8h0M151.1 270.1h0M139.0 270.6h0M144.2 280.4h0M152.6 279.1h0M148.6 277.9h0M144.1 272.6h0" stroke="#17803f" stroke-width="2.3" stroke-linecap="round" fill="none"/>
<path d="M181.2 261.2h0M185.0 254.0h0M185.9 267.0h0M183.1 268.0h0M182.3 269.6h0M180.2 264.0h0M185.7 264.8h0M180.4 263.5h0M181.6 260.1h0M192.1 265.3h0M173.4 265.1h0M177.9 260.9h0M193.4 267.4h0M181.0 259.7h0M190.2 266.7h0M191.8 259.7h0M185.6 265.5h0M180.2 263.7h0M172.2 264.1h0M182.3 272.4h0M182.7 272.4h0M185.6 264.4h0M190.4 265.1h0M192.0 264.3h0M174.6 269.5h0M183.1 258.4h0M184.5 256.5h0M177.8 260.3h0M187.1 268.2h0M176.8 262.6h0M186.6 262.9h0M189.4 259.8h0M189.2 266.9h0M185.6 268.6h0M172.9 264.3h0M184.9 262.2h0M184.4 264.9h0M181.5 263.5h0M188.0 267.4h0M185.0 269.8h0M185.3 270.4h0M181.3 261.8h0M184.7 263.1h0M181.0 259.1h0M177.3 266.0h0M190.9 265.3h0M190.9 270.4h0M189.6 267.4h0M181.6 262.8h0M188.2 267.0h0M180.4 265.0h0M186.4 265.4h0M184.3 260.7h0M183.1 260.7h0M187.1 255.4h0M187.3 259.8h0M189.0 262.4h0M175.5 256.3h0M184.0 264.4h0M181.5 259.8h0M184.3 268.9h0M185.2 266.7h0M183.8 265.3h0M187.6 254.4h0M182.3 257.9h0M189.5 260.3h0M181.8 262.9h0M180.5 266.0h0M179.4 260.0h0M184.2 261.4h0M183.6 261.8h0M192.6 261.4h0M189.7 262.7h0M179.7 259.0h0M183.0 257.0h0M172.8 265.6h0M187.4 261.7h0M180.1 267.3h0M178.3 262.0h0M178.4 264.3h0M173.1 266.4h0M187.3 261.6h0M184.6 255.6h0M178.2 259.1h0M189.7 260.1h0M185.6 262.3h0M181.0 265.3h0M181.8 257.8h0M180.7 267.3h0M178.0 263.6h0M174.8 263.5h0M187.1 263.6h0M174.4 262.1h0M175.0 258.7h0M183.8 257.3h0M173.4 259.3h0M182.1 267.2h0M176.0 263.2h0M189.6 265.1h0M193.3 258.3h0M174.1 261.3h0M181.4 264.6h0M186.2 257.6h0M176.8 258.8h0M187.9 262.5h0M174.3 259.7h0M193.2 265.5h0M188.0 264.2h0M176.6 270.4h0M188.7 259.1h0M174.8 260.7h0M188.6 264.0h0M181.2 263.7h0M181.3 267.0h0M185.6 265.5h0M177.0 268.5h0M186.1 259.7h0M185.1 255.5h0M186.1 265.2h0M185.3 261.3h0M177.5 258.5h0M186.5 255.1h0M184.3 260.7h0M188.7 266.0h0M187.9 262.3h0M180.2 266.7h0M178.6 267.0h0M178.5 263.1h0M180.4 266.3h0M191.0 259.3h0M188.0 262.8h0M192.7 263.2h0M179.9 259.0h0M191.8 258.1h0M175.7 260.2h0M179.7 264.8h0M180.4 271.0h0M175.8 263.4h0M184.9 264.7h0M183.5 259.7h0M137.4 262.3h0M135.2 264.3h0M128.2 258.1h0M135.7 259.3h0M126.8 258.9h0M138.4 265.1h0M132.1 263.8h0M129.3 258.9h0M134.2 260.2h0M125.8 263.8h0" stroke="#a3421b" stroke-width="2.3" stroke-linecap="round" fill="none"/>
<path d="M163.7 300.9h0M165.6 297.6h0M163.6 306.5h0M177.6 299.7h0M161.4 304.9h0M175.3 303.1h0M163.3 301.7h0M162.6 298.5h0M164.1 307.4h0M168.9 304.7h0M171.7 304.3h0M166.8 304.3h0M170.4 296.6h0M166.7 304.8h0M160.4 307.4h0M172.9 297.4h0M162.0 308.4h0M164.5 302.8h0M174.9 299.2h0M170.7 303.6h0M160.6 304.2h0M163.4 305.0h0M173.4 307.4h0M165.1 305.2h0M170.6 308.6h0M171.9 298.3h0M164.1 299.6h0M167.1 296.6h0M167.4 303.1h0M167.6 295.8h0M164.6 307.3h0M176.8 304.7h0M164.9 296.1h0M168.6 303.2h0M172.7 305.0h0M169.6 306.1h0M175.0 306.4h0M165.5 307.0h0M162.4 302.1h0M168.3 298.5h0M173.2 303.5h0M176.4 303.5h0M175.3 301.9h0M166.7 297.8h0M171.9 302.6h0M165.0 301.3h0M165.7 303.8h0M169.9 299.2h0M167.9 311.4h0M172.1 303.3h0M175.5 300.2h0M169.8 305.2h0M164.7 295.8h0M169.0 301.2h0M170.2 298.5h0M167.9 302.8h0M174.9 303.4h0M166.6 300.3h0M170.8 302.7h0M176.8 307.3h0M165.1 300.0h0M163.3 305.1h0M176.4 299.8h0M163.6 303.8h0M171.8 307.8h0M173.4 298.3h0M164.6 300.3h0M178.5 302.2h0M161.8 302.3h0M170.3 299.9h0M166.2 300.4h0M169.4 299.3h0M176.3 301.5h0M162.7 302.0h0M165.7 301.3h0M174.3 303.7h0M167.5 307.7h0M169.8 305.8h0M173.7 302.5h0M169.0 300.6h0M175.4 306.4h0M160.9 306.0h0M174.7 303.7h0M166.2 301.3h0M168.3 300.2h0M171.2 304.6h0M173.8 304.3h0M169.6 300.4h0M168.1 306.8h0M170.8 311.5h0M170.2 301.1h0M174.0 303.3h0M173.2 303.6h0M172.9 306.3h0M171.3 309.7h0M167.5 304.2h0M163.9 301.4h0M168.5 295.9h0M169.1 307.2h0M162.6 301.1h0M166.4 307.0h0M166.7 307.6h0M168.0 306.7h0M171.1 303.3h0M172.0 300.1h0M172.6 302.3h0M162.1 305.2h0M169.8 298.8h0M169.2 303.6h0M173.2 298.7h0M173.5 298.8h0M173.9 306.6h0M166.7 303.2h0M173.5 303.5h0M162.0 309.3h0M164.8 310.6h0M165.6 305.8h0M167.7 302.4h0M168.2 301.6h0M162.1 299.2h0M175.6 305.3h0M164.5 302.8h0M169.9 299.3h0M170.8 307.1h0M163.0 309.0h0" stroke="#b7cf8c" stroke-width="2.3" stroke-linecap="round" fill="none"/>
<path d="M130.0 303.2h0M129.9 299.7h0M128.7 302.4h0M127.7 303.3h0M126.8 301.2h0M129.5 299.7h0M129.3 304.2h0M130.2 300.6h0M129.9 301.1h0M130.2 303.1h0M131.6 300.5h0M128.4 302.6h0M126.5 302.0h0M132.0 303.5h0M132.5 301.1h0M128.4 298.6h0M130.9 300.6h0M125.2 302.6h0M130.8 303.2h0M131.7 301.2h0M127.2 302.3h0M125.5 302.0h0M131.4 302.8h0M130.6 300.5h0M132.9 301.8h0M131.3 301.7h0M127.3 299.6h0M128.3 300.7h0M125.7 303.5h0M128.9 303.7h0M126.0 259.3h0M127.9 256.3h0M129.6 259.9h0M132.4 254.6h0M129.2 258.3h0M135.6 257.5h0M134.1 260.6h0M133.6 256.0h0M127.4 260.3h0M128.2 257.9h0" stroke="#f3e21b" stroke-width="2.3" stroke-linecap="round" fill="none"/>
<path d="M84.4 287.2h0M89.8 284.7h0M86.6 292.6h0M89.2 288.4h0M88.1 286.1h0M86.1 291.5h0M90.2 286.6h0M87.8 288.5h0M85.8 291.3h0M89.6 289.2h0M90.3 285.7h0M92.3 289.5h0M86.8 287.4h0M87.9 288.1h0M90.6 292.0h0M87.2 285.7h0M87.2 289.7h0M87.9 291.6h0M88.3 289.0h0M87.9 290.6h0M89.3 290.9h0M88.0 293.5h0M90.6 286.3h0M86.5 286.4h0M91.7 289.7h0M89.5 288.3h0M88.6 291.1h0M90.1 288.7h0M90.4 292.2h0M87.1 292.2h0M88.5 290.9h0M86.5 287.5h0M87.1 286.1h0M88.6 290.8h0M89.3 289.5h0M88.0 286.7h0" stroke="#6e1670" stroke-width="2.3" stroke-linecap="round" fill="none"/>
<path d="M95.9 334.6h0M98.9 331.3h0M96.6 339.8h0M96.0 334.0h0M97.6 338.7h0M95.3 332.3h0M90.4 334.9h0M87.9 338.4h0M88.7 332.6h0M94.1 333.9h0M93.5 334.7h0M91.8 331.2h0M93.8 330.8h0M93.8 337.5h0M98.1 336.9h0M92.2 334.5h0M101.1 335.9h0M89.3 330.7h0M92.7 334.9h0M90.7 334.3h0M97.5 333.4h0M97.2 330.6h0M92.9 338.5h0M98.2 335.6h0M94.3 333.8h0M102.7 333.4h0M96.6 332.3h0M92.3 336.4h0M96.5 335.1h0M97.9 335.3h0M92.4 337.1h0M85.6 335.2h0M91.1 337.1h0M96.4 331.5h0M97.8 333.1h0M95.0 336.3h0M93.8 330.2h0M87.0 334.6h0M100.4 338.7h0M91.5 335.4h0M88.4 336.6h0M100.9 331.3h0M101.7 332.1h0M92.6 335.9h0M99.0 332.8h0M101.6 333.4h0M96.3 330.7h0M96.4 337.9h0M93.5 333.4h0M88.7 338.5h0M94.9 335.1h0M95.6 337.8h0M93.6 338.2h0M94.1 337.8h0M102.6 331.8h0M95.0 331.4h0M86.6 332.8h0M95.9 337.3h0M98.1 337.1h0M92.1 338.8h0M90.2 337.9h0M89.0 332.8h0M90.2 335.9h0M99.6 337.7h0M93.0 336.8h0M98.7 332.7h0M99.9 337.2h0M90.9 336.3h0M90.2 332.4h0M97.9 333.1h0M98.3 329.3h0M94.7 335.1h0M98.0 337.7h0M98.3 332.1h0M95.1 338.6h0" stroke="#7f96d0" stroke-width="2.3" stroke-linecap="round" fill="none"/>
<path d="M109.7 258.9h0M119.9 263.0h0M112.0 257.2h0M109.3 259.1h0M108.9 257.4h0M121.9 259.3h0M119.6 256.6h0M110.2 256.5h0M115.5 264.7h0M119.9 259.7h0M119.2 259.9h0M115.3 258.9h0M112.6 262.4h0M113.4 258.0h0M173.4 275.3h0M177.6 270.7h0M170.6 277.3h0M171.8 274.7h0M172.1 278.4h0M175.1 277.8h0" stroke="#e28ed6" stroke-width="2.3" stroke-linecap="round" fill="none"/>
<path d="M166.8 264.9h0M127.6 277.5h0M162.8 289.8h0M135.4 278.7h0M176.4 272.2h0M161.6 256.7h0M137.4 267.0h0M131.2 256.5h0M142.1 276.4h0M150.3 271.7h0M151.0 280.5h0M164.2 264.6h0M126.3 257.2h0M141.4 267.9h0M161.9 255.8h0M132.8 280.2h0M171.0 262.0h0M153.3 273.0h0M135.3 270.9h0M123.4 287.6h0M134.7 286.4h0M173.5 267.6h0M130.0 262.9h0M175.7 254.1h0M135.9 262.1h0M141.5 289.3h0M146.4 286.9h0M159.1 252.3h0M141.4 264.7h0M131.3 260.9h0" stroke="#b0b0b0" stroke-width="2.3" stroke-linecap="round" fill="none"/>
<path d="M162.6 294.0h0M166.7 286.0h0M163.5 289.3h0M164.2 278.4h0M162.0 292.5h0M168.3 290.5h0M165.2 289.1h0M160.3 289.4h0M170.0 289.1h0M166.3 290.5h0" stroke="#8cc3e6" stroke-width="2.3" stroke-linecap="round" fill="none"/>
<path d="M102.1 265.8h0M104.0 265.7h0M100.4 269.0h0M105.1 265.4h0M102.5 265.3h0" stroke="#9db0c0" stroke-width="2.3" stroke-linecap="round" fill="none"/>
<path d="M106.5 273.8h0M107.4 273.2h0M108.3 272.6h0M109.2 272.0h0M110.1 271.4h0M111.0 270.8h0" stroke="#a01a1a" stroke-width="2.3" stroke-linecap="round" fill="none"/>
<path d="M94.6 234.6h0M95.4 235.3h0M96.2 235.8h0M97.1 236.6h0M97.9 237.0h0M98.7 237.7h0M99.4 237.5h0M99.9 238.9h0M100.3 238.2h0M100.7 239.2h0M101.2 239.1h0M100.9 239.8h0" stroke="#111111" stroke-width="2.3" stroke-linecap="round" fill="none"/>
<path d="M159.9 209.3h0M153.3 204.7h0M158.1 210.1h0M160.6 206.5h0M155.1 206.1h0M156.6 207.1h0M160.7 204.4h0M160.3 206.9h0M160.4 205.9h0M161.0 209.7h0M151.3 207.3h0M153.8 208.5h0M157.0 207.0h0M158.6 205.4h0M157.1 205.1h0M156.7 202.9h0M150.4 204.8h0M160.0 208.2h0M153.0 207.6h0M152.5 207.1h0M160.7 206.4h0M158.4 206.7h0M151.5 206.6h0M149.7 205.4h0M157.5 209.3h0M150.9 205.5h0M157.6 207.7h0M153.2 208.8h0M155.8 207.4h0M157.2 204.5h0M153.9 203.6h0M162.1 205.8h0M160.2 204.9h0M154.2 207.6h0M158.3 205.6h0M163.6 208.1h0M157.2 204.1h0M157.2 205.9h0M156.3 208.2h0M154.2 207.1h0M156.4 204.1h0M149.6 206.0h0M159.4 206.8h0M160.5 203.3h0M160.8 204.6h0M151.4 207.7h0M158.7 205.0h0M153.1 206.1h0M156.6 206.2h0M162.2 206.9h0M153.6 205.7h0M158.4 205.9h0M158.1 207.0h0M161.1 206.9h0M162.0 209.8h0M155.2 205.6h0M153.5 206.6h0M157.9 207.7h0M151.6 208.8h0M154.4 202.4h0M161.3 206.6h0M159.6 209.5h0M156.0 207.1h0M153.7 207.7h0M159.4 205.5h0M151.1 206.4h0M150.0 210.5h0" stroke="#5ab4b4" stroke-width="0.9" stroke-linecap="round" fill="none"/>
<path d="M49.2 256.9h0M54.5 254.5h0M52.5 256.7h0M52.0 255.5h0M52.2 254.1h0M53.8 251.5h0M53.1 252.7h0M50.6 257.8h0M52.5 252.6h0M53.8 259.7h0M58.0 257.9h0M53.2 257.1h0M48.1 255.9h0M53.5 256.1h0M51.3 255.9h0M62.2 255.6h0M60.6 252.8h0M59.4 254.9h0M60.1 255.4h0M53.0 252.6h0M57.3 255.8h0M52.3 255.6h0M56.2 249.7h0M52.6 254.3h0M55.8 257.0h0M50.9 253.9h0M56.9 249.6h0M60.0 254.9h0M56.5 251.1h0M50.2 252.4h0M53.5 257.0h0M52.1 258.1h0M55.4 253.8h0M59.0 255.8h0M52.7 252.9h0M59.2 255.2h0M59.2 253.1h0M53.2 251.2h0M61.6 256.9h0M54.3 255.3h0M50.6 257.2h0M52.0 253.3h0M52.7 251.5h0M58.7 259.0h0M52.6 252.8h0M58.5 254.0h0M54.2 254.1h0M50.2 257.5h0M48.0 251.7h0M52.4 253.2h0M56.3 253.3h0M59.9 254.5h0M55.2 250.1h0M57.2 252.8h0M58.1 255.9h0M56.5 257.5h0M55.7 252.1h0M54.7 255.0h0M48.6 256.2h0M60.7 255.2h0M54.5 255.7h0M58.4 252.5h0M56.4 255.9h0M48.1 256.3h0M55.0 250.0h0M51.9 252.8h0M49.9 255.6h0M49.0 253.8h0M62.3 255.6h0M46.9 252.0h0M53.4 250.1h0M58.5 254.4h0M50.9 251.4h0M55.1 256.3h0M53.2 249.6h0M48.1 258.2h0M49.0 256.9h0M48.2 252.1h0M56.8 253.7h0M57.5 255.6h0M52.3 253.4h0M55.8 252.7h0M52.4 252.4h0M54.6 256.3h0M46.7 254.6h0M60.3 255.9h0M61.2 254.4h0M62.3 255.0h0M63.0 254.2h0M64.8 254.6h0M65.9 255.1h0M66.1 255.8h0M68.2 254.4h0M69.0 254.1h0M70.3 254.3h0M72.2 255.8h0M74.5 254.2h0M74.9 254.4h0M76.1 254.8h0" stroke="#c77cc9" stroke-width="0.9" stroke-linecap="round" fill="none"/>
<path d="M105.3 254.0h0M102.6 253.5h0M103.3 252.0h0M105.1 251.5h0M104.2 250.7h0M103.9 248.3h0M101.6 251.8h0M106.9 250.5h0M102.9 252.4h0M104.6 248.2h0M101.5 251.6h0M105.3 254.5h0M102.7 251.4h0M101.6 249.6h0M107.1 252.2h0M106.9 254.1h0M103.4 252.6h0M105.1 252.1h0M100.9 248.3h0M104.7 252.0h0M100.9 252.9h0M105.7 254.0h0M103.4 250.8h0M117.2 251.5h0M118.3 249.0h0M113.1 245.8h0M113.5 247.5h0M114.4 251.6h0M120.2 245.2h0M121.1 247.0h0M113.7 251.0h0M118.9 248.7h0M118.8 249.2h0M118.2 249.8h0M119.7 250.5h0M115.4 248.7h0M113.6 251.7h0M114.9 247.1h0M117.9 250.9h0M116.3 250.2h0M115.6 248.8h0M118.6 248.4h0M118.5 246.3h0M116.1 246.4h0M115.5 245.7h0" stroke="#fbd3cf" stroke-width="0.9" stroke-linecap="round" fill="none"/>
<path d="M138.5 243.5h0M136.2 249.4h0M131.5 244.0h0M137.0 244.0h0M135.4 242.4h0M141.6 245.8h0M143.3 247.4h0M136.3 245.6h0M141.4 241.0h0M146.0 243.7h0M144.6 247.0h0M137.3 243.7h0M145.9 246.6h0M132.6 249.6h0M138.3 249.2h0M131.2 249.1h0M145.5 248.9h0M143.4 250.0h0M137.5 250.9h0M133.0 250.9h0M142.3 249.5h0M136.3 241.5h0M142.7 247.2h0M136.1 245.5h0M136.2 241.4h0M141.9 249.8h0M143.1 246.3h0M133.0 243.0h0M137.5 253.2h0M143.4 247.6h0M141.2 250.1h0M139.2 248.2h0M140.0 245.6h0M133.5 245.6h0M144.4 242.3h0M136.9 246.1h0M139.1 246.0h0M142.7 246.3h0M138.9 249.8h0M132.2 251.0h0M138.5 245.1h0M137.2 250.0h0M131.8 248.7h0M145.5 250.2h0M142.0 251.1h0M138.8 246.7h0M138.0 249.2h0M144.1 246.7h0M135.2 245.4h0M140.6 250.1h0M139.3 245.2h0M135.4 250.8h0M143.4 250.2h0M140.8 247.9h0M136.8 249.8h0M137.4 244.9h0M133.1 243.9h0M131.2 246.3h0M138.4 252.4h0M144.8 246.9h0M140.8 246.7h0M135.5 247.0h0M138.6 254.1h0M146.6 242.3h0M149.9 245.6h0M150.0 244.2h0M145.2 243.8h0M145.7 244.3h0M152.3 243.9h0M148.7 246.6h0M147.7 243.1h0M150.3 244.7h0M147.5 245.4h0M151.3 243.3h0M150.1 242.7h0M150.4 245.2h0M147.1 245.8h0" stroke="#fde3c6" stroke-width="0.9" stroke-linecap="round" fill="none"/>
<path d="M165.6 297.6h0M163.6 306.5h0M161.4 304.9h0M175.3 303.1h0M162.6 298.5h0M164.1 307.4h0M168.9 304.7h0M171.7 304.3h0M166.8 304.3h0M170.4 296.6h0M160.4 307.4h0M172.9 297.4h0M164.5 302.8h0M174.9 299.2h0M160.6 304.2h0M163.4 305.0h0M173.4 307.4h0M165.1 305.2h0M170.6 308.6h0M171.9 298.3h0M164.1 299.6h0M167.4 303.1h0M167.6 295.8h0M164.6 307.3h0M164.9 296.1h0M168.6 303.2h0M172.7 305.0h0M175.0 306.4h0M165.5 307.0h0M162.4 302.1h0M173.2 303.5h0M176.4 303.5h0M175.3 301.9h0M166.7 297.8h0M171.9 302.6h0M165.0 301.3h0M169.9 299.2h0M175.5 300.2h0M169.8 305.2h0M164.7 295.8h0M169.0 301.2h0M170.2 298.5h0M167.9 302.8h0M174.9 303.4h0M170.8 302.7h0M165.1 300.0h0M163.3 305.1h0M176.4 299.8h0M163.6 303.8h0M171.8 307.8h0M173.4 298.3h0M164.6 300.3h0M178.5 302.2h0M161.8 302.3h0M170.3 299.9h0M166.2 300.4h0M169.4 299.3h0M176.3 301.5h0M162.7 302.0h0M165.7 301.3h0M174.3 303.7h0M167.5 307.7h0M169.8 305.8h0M169.0 300.6h0M175.4 306.4h0M160.9 306.0h0M174.7 303.7h0M166.2 301.3h0M168.3 300.2h0M173.8 304.3h0M169.6 300.4h0M168.1 306.8h0M170.8 311.5h0M170.2 301.1h0M173.2 303.6h0M172.9 306.3h0M171.3 309.7h0M167.5 304.2h0M163.9 301.4h0M169.1 307.2h0M162.6 301.1h0M166.4 307.0h0M166.7 307.6h0M168.0 306.7h0M171.1 303.3h0M172.0 300.1h0M162.1 305.2h0M169.8 298.8h0M169.2 303.6h0M173.2 298.7h0M173.5 298.8h0M173.9 306.6h0M173.5 303.5h0M162.0 309.3h0M164.8 310.6h0M165.6 305.8h0M167.7 302.4h0M168.2 301.6h0M162.1 299.2h0M164.5 302.8h0M170.8 307.1h0M163.0 309.0h0" stroke="#eef5e2" stroke-width="0.9" stroke-linecap="round" fill="none"/>
<path d="M95.9 334.6h0M98.9 331.3h0M96.6 339.8h0M96.0 334.0h0M95.3 332.3h0M87.9 338.4h0M94.1 333.9h0M93.5 334.7h0M91.8 331.2h0M93.8 330.8h0M93.8 337.5h0M98.1 336.9h0M92.2 334.5h0M101.1 335.9h0M89.3 330.7h0M92.7 334.9h0M90.7 334.3h0M97.5 333.4h0M97.2 330.6h0M98.2 335.6h0M94.3 333.8h0M102.7 333.4h0M96.5 335.1h0M92.4 337.1h0M91.1 337.1h0M96.4 331.5h0M97.8 333.1h0M95.0 336.3h0M87.0 334.6h0M100.4 338.7h0M91.5 335.4h0M101.7 332.1h0M92.6 335.9h0M99.0 332.8h0M101.6 333.4h0M96.3 330.7h0M96.4 337.9h0M93.5 333.4h0M88.7 338.5h0M95.6 337.8h0M93.6 338.2h0M94.1 337.8h0M102.6 331.8h0M95.0 331.4h0M86.6 332.8h0M95.9 337.3h0M98.1 337.1h0M89.0 332.8h0M90.2 335.9h0M99.6 337.7h0M93.0 336.8h0M99.9 337.2h0M90.9 336.3h0M90.2 332.4h0M97.9 333.1h0M94.7 335.1h0M98.0 337.7h0M98.3 332.1h0" stroke="#dfe6f6" stroke-width="0.9" stroke-linecap="round" fill="none"/>
<line x1="38.20" y1="196.20" x2="38.20" y2="348.30" stroke="#111" stroke-width="1.1" />
<line x1="37.80" y1="347.90" x2="201.00" y2="347.90" stroke="#111" stroke-width="1.1" />
<text x="33.60" y="272.00" font-size="8.1" fill="#262626" stroke="#262626" stroke-width="0.15" text-anchor="middle" textLength="24.30" lengthAdjust="spacingAndGlyphs" transform="rotate(-90 33.60 272.00)">UMAP 2</text>
<text x="119.50" y="358.70" font-size="8.1" fill="#262626" stroke="#262626" stroke-width="0.15" text-anchor="middle" textLength="23.60" lengthAdjust="spacingAndGlyphs">UMAP 1</text>
<text x="207.80" y="194.50" font-size="6.4" fill="#444" stroke="#444" stroke-width="0.15">Subtype</text>
<circle cx="209.7" cy="201.80" r="2.2" fill="#17803f" stroke="#333" stroke-opacity="0.45" stroke-width="0.4"/>
<text x="214.90" y="204.05" font-size="6.55" fill="#303030" stroke="#303030" stroke-width="0.15">BCR::ABL1-positive</text>
<circle cx="209.7" cy="210.80" r="2.2" fill="#b0509a" stroke="#333" stroke-opacity="0.45" stroke-width="0.4"/>
<text x="214.90" y="213.05" font-size="6.55" fill="#303030" stroke="#303030" stroke-width="0.15">BCL2/MYC</text>
<circle cx="209.7" cy="217.90" r="2.2" fill="#111111" stroke="#333" stroke-opacity="0.45" stroke-width="0.4"/>
<text x="214.90" y="220.15" font-size="6.55" fill="#303030" stroke="#303030" stroke-width="0.15">CDX2/UBTF</text>
<circle cx="209.7" cy="225.00" r="2.2" fill="#2aa6a6" stroke="#333" stroke-opacity="0.45" stroke-width="0.4"/>
<text x="214.90" y="227.25" font-size="6.55" fill="#303030" stroke="#303030" stroke-width="0.15">CEBP</text>
<circle cx="209.7" cy="232.10" r="2.2" fill="#7b8cc8" stroke="#333" stroke-opacity="0.45" stroke-width="0.4"/>
<text x="214.90" y="234.35" font-size="6.55" fill="#303030" stroke="#303030" stroke-width="0.15">DUX4</text>
<circle cx="209.7" cy="239.20" r="2.2" fill="#b5cc7a" stroke="#333" stroke-opacity="0.45" stroke-width="0.4"/>
<text x="214.90" y="241.45" font-size="6.55" fill="#303030" stroke="#303030" stroke-width="0.15">ETV6::RUNX1</text>
<circle cx="209.7" cy="246.30" r="2.2" fill="#8ec6e8" stroke="#333" stroke-opacity="0.45" stroke-width="0.4"/>
<text x="214.90" y="248.55" font-size="6.55" fill="#303030" stroke="#303030" stroke-width="0.15">ETV6::RUNX1-like</text>
<circle cx="209.7" cy="253.40" r="2.2" fill="#f0e020" stroke="#333" stroke-opacity="0.45" stroke-width="0.4"/>
<text x="214.90" y="255.65" font-size="6.55" fill="#303030" stroke="#303030" stroke-width="0.15">HLF</text>
<circle cx="209.7" cy="260.50" r="2.2" fill="#8b4513" stroke="#333" stroke-opacity="0.45" stroke-width="0.4"/>
<text x="214.90" y="262.75" font-size="6.55" fill="#303030" stroke="#303030" stroke-width="0.15">Hyperdiploid</text>
<circle cx="209.7" cy="267.60" r="2.2" fill="#3a7fc0" stroke="#333" stroke-opacity="0.45" stroke-width="0.4"/>
<text x="214.90" y="269.85" font-size="6.55" fill="#303030" stroke="#303030" stroke-width="0.15">iAMP21</text>
<circle cx="209.7" cy="274.70" r="2.2" fill="#8b1a1a" stroke="#333" stroke-opacity="0.45" stroke-width="0.4"/>
<text x="214.90" y="276.95" font-size="6.55" fill="#303030" stroke="#303030" stroke-width="0.15">IKZF1 N159Y</text>
<circle cx="209.7" cy="281.80" r="2.2" fill="#a050b0" stroke="#333" stroke-opacity="0.45" stroke-width="0.4"/>
<text x="214.90" y="284.05" font-size="6.55" fill="#303030" stroke="#303030" stroke-width="0.15">KMT2A</text>
<circle cx="209.7" cy="288.90" r="2.2" fill="#f08080" stroke="#333" stroke-opacity="0.45" stroke-width="0.4"/>
<text x="214.90" y="291.15" font-size="6.55" fill="#303030" stroke="#303030" stroke-width="0.15">Low hypodiploid</text>
<circle cx="209.7" cy="296.00" r="2.2" fill="#283a8c" stroke="#333" stroke-opacity="0.45" stroke-width="0.4"/>
<text x="214.90" y="298.25" font-size="6.55" fill="#303030" stroke="#303030" stroke-width="0.15">MEF2D</text>
<circle cx="209.7" cy="303.10" r="2.2" fill="#d0202a" stroke="#333" stroke-opacity="0.45" stroke-width="0.4"/>
<text x="214.90" y="305.35" font-size="6.55" fill="#303030" stroke="#303030" stroke-width="0.15">Near haploid</text>
<circle cx="209.7" cy="310.20" r="2.2" fill="#e090d0" stroke="#333" stroke-opacity="0.45" stroke-width="0.4"/>
<text x="214.90" y="312.45" font-size="6.55" fill="#303030" stroke="#303030" stroke-width="0.15">NUTM1</text>
<circle cx="209.7" cy="317.30" r="2.2" fill="#ffb830" stroke="#333" stroke-opacity="0.45" stroke-width="0.4"/>
<text x="214.90" y="319.55" font-size="6.55" fill="#303030" stroke="#303030" stroke-width="0.15">PAX5 P80R</text>
<circle cx="209.7" cy="324.40" r="2.2" fill="#d4a050" stroke="#333" stroke-opacity="0.45" stroke-width="0.4"/>
<text x="214.90" y="326.65" font-size="6.55" fill="#303030" stroke="#303030" stroke-width="0.15">PAX5alt</text>
<circle cx="209.7" cy="331.50" r="2.2" fill="#8db83a" stroke="#333" stroke-opacity="0.45" stroke-width="0.4"/>
<text x="214.90" y="333.75" font-size="6.55" fill="#303030" stroke="#303030" stroke-width="0.15">BCR::ABL1-like</text>
<circle cx="209.7" cy="338.60" r="2.2" fill="#1f6f7a" stroke="#333" stroke-opacity="0.45" stroke-width="0.4"/>
<text x="214.90" y="340.85" font-size="6.55" fill="#303030" stroke="#303030" stroke-width="0.15">TCF3::PBX1</text>
<circle cx="209.7" cy="345.70" r="2.2" fill="#b0b0b0" stroke="#333" stroke-opacity="0.45" stroke-width="0.4"/>
<text x="214.90" y="347.95" font-size="6.55" fill="#303030" stroke="#303030" stroke-width="0.15">Unassigned / B–other</text>
<circle cx="209.7" cy="352.80" r="2.2" fill="#5a1a6a" stroke="#333" stroke-opacity="0.45" stroke-width="0.4"/>
<text x="214.90" y="355.05" font-size="6.55" fill="#303030" stroke="#303030" stroke-width="0.15">ZNF384</text>
<path d="M467.6 209.3h0M460.2 204.7h0M465.7 210.1h0M465.9 204.1h0M460.3 206.5h0M468.5 206.5h0M462.3 206.1h0M464.8 205.0h0M464.0 207.1h0M471.8 206.4h0M468.6 204.4h0M468.1 206.9h0M461.4 206.5h0M468.3 205.9h0M468.9 209.7h0M458.0 207.3h0M460.8 208.5h0M464.4 207.0h0M466.2 205.4h0M464.5 205.1h0M464.1 202.9h0M457.0 204.8h0M467.8 208.2h0M465.4 205.3h0M459.9 207.6h0M459.3 207.1h0M468.6 206.4h0M466.0 206.7h0M458.2 206.6h0M456.2 205.4h0M465.0 209.3h0M457.5 205.5h0M465.1 207.7h0M460.1 208.8h0M463.1 207.4h0M472.0 208.0h0M464.6 204.5h0M460.9 203.6h0M470.1 205.8h0M468.0 204.9h0M461.2 207.6h0M465.9 205.6h0M471.8 208.1h0M464.7 204.1h0M464.7 205.9h0M463.6 208.2h0M461.2 207.1h0M467.8 207.3h0M463.7 204.1h0M456.1 206.0h0M467.1 206.8h0M468.4 203.3h0M468.7 204.6h0M458.1 207.7h0M466.3 205.0h0M460.0 206.1h0M463.9 206.2h0M470.3 206.9h0M458.0 203.3h0M460.6 205.7h0M466.0 205.9h0M465.6 207.0h0M469.1 206.9h0M470.0 209.8h0M462.4 205.6h0M459.7 206.1h0M460.4 206.6h0M465.4 207.7h0M458.3 208.8h0M462.4 206.3h0M461.4 202.4h0M465.1 202.8h0M469.3 206.6h0M471.5 207.9h0M467.3 209.5h0M463.7 209.7h0M463.3 207.1h0M460.6 207.7h0M467.1 205.5h0M457.7 206.4h0M437.8 210.8h0M434.8 209.9h0M435.6 213.2h0M434.1 210.7h0M440.5 212.1h0M438.8 210.8h0M437.5 211.4h0M440.4 212.2h0M437.0 209.4h0M436.5 210.8h0M435.4 209.7h0M434.7 210.8h0M435.6 211.6h0M439.0 211.5h0M436.9 213.3h0M438.3 208.8h0M435.3 211.3h0M435.0 212.1h0M438.9 211.9h0M433.4 211.1h0M439.7 209.3h0M434.3 209.2h0M434.7 208.4h0M435.8 208.8h0M342.6 256.9h0M348.6 254.5h0M346.3 256.7h0M345.8 255.5h0M346.0 254.1h0M347.7 251.5h0M347.0 252.7h0M344.2 257.8h0M346.3 252.6h0M352.4 253.8h0M347.8 259.7h0M352.5 257.9h0M350.2 258.0h0M347.2 257.1h0M353.5 253.4h0M341.4 255.9h0M347.4 256.1h0M344.9 255.9h0M357.3 255.6h0M355.5 252.8h0M354.1 254.9h0M354.9 255.4h0M346.8 252.6h0M354.5 254.7h0M351.7 255.8h0M346.1 255.6h0M350.5 249.7h0M346.4 254.3h0M350.0 257.0h0M344.5 253.9h0M351.3 249.6h0M354.8 254.9h0M347.9 249.9h0M348.7 255.4h0M350.8 251.1h0M343.8 252.4h0M349.5 252.2h0M347.4 257.0h0M345.9 258.1h0M349.6 253.8h0M353.7 255.8h0M346.5 252.9h0M347.8 255.4h0M353.9 255.2h0M344.8 250.9h0M349.3 255.6h0M353.9 253.1h0M341.3 256.8h0M347.1 251.2h0M356.6 256.9h0M348.4 255.3h0M344.2 257.2h0M345.8 253.3h0M346.5 251.5h0M353.3 259.0h0M346.5 252.8h0M353.1 254.0h0M348.2 254.1h0M343.7 257.5h0M341.2 251.7h0M346.2 253.2h0M353.9 253.1h0M350.6 253.3h0M354.6 254.5h0M349.4 250.1h0M351.7 252.8h0M352.6 255.9h0M350.8 257.5h0M350.0 252.1h0M348.8 255.0h0M342.0 256.2h0M355.6 255.2h0M348.6 255.7h0M353.7 253.1h0M353.0 252.5h0M350.8 255.9h0M341.4 256.3h0M349.2 250.0h0M345.7 252.8h0M343.4 255.6h0M343.9 254.6h0M342.4 253.8h0M357.5 255.6h0M340.0 252.0h0M347.3 250.1h0M353.1 254.4h0M347.7 254.6h0M344.5 251.4h0M349.2 256.3h0M347.1 249.6h0M346.3 254.6h0M341.3 258.2h0M342.2 254.5h0M342.4 256.9h0M341.5 252.1h0M353.8 251.1h0M345.2 256.0h0M349.9 249.8h0M351.1 253.7h0M352.0 255.6h0M346.1 253.4h0M350.0 252.7h0M346.2 252.4h0M348.7 256.3h0M339.8 254.6h0M406.0 254.0h0M402.9 253.5h0M403.8 252.0h0M405.7 251.5h0M404.1 249.0h0M404.7 250.7h0M404.5 248.3h0M401.8 251.8h0M407.8 250.5h0M402.3 248.9h0M403.3 252.4h0M405.2 248.2h0M401.7 251.6h0M405.9 254.5h0M409.3 251.4h0M403.1 251.4h0M401.8 249.6h0M408.0 252.2h0M407.8 254.1h0M403.9 252.6h0M405.3 251.6h0M405.7 252.1h0M401.0 248.3h0M405.3 252.0h0M403.7 250.8h0M401.0 252.9h0M406.4 254.0h0M403.9 250.8h0M419.4 251.5h0M420.7 249.0h0M414.8 245.8h0M415.2 247.5h0M421.5 248.1h0M416.2 251.6h0M422.3 248.7h0M422.8 245.2h0M417.7 247.2h0M420.2 247.5h0M423.8 247.0h0M418.6 244.9h0M420.5 250.0h0M417.2 244.7h0M415.5 251.0h0M421.3 248.7h0M421.2 249.2h0M420.4 243.8h0M420.6 249.8h0M422.3 250.5h0M417.4 248.7h0M415.4 251.7h0M415.5 249.8h0M417.1 245.9h0M416.8 247.1h0M420.2 250.9h0M418.4 250.2h0M417.6 248.8h0M421.1 248.4h0M420.9 246.3h0M418.2 246.4h0M417.5 245.7h0M443.5 243.5h0M441.0 249.4h0M435.6 244.0h0M441.8 244.0h0M445.8 246.0h0M440.1 242.4h0M447.0 245.8h0M448.9 247.4h0M446.8 250.4h0M441.0 245.6h0M443.0 253.3h0M437.3 244.0h0M446.8 241.0h0M452.0 243.7h0M450.4 247.0h0M442.1 243.7h0M451.8 246.6h0M436.8 249.6h0M443.3 249.2h0M441.8 248.7h0M446.5 247.5h0M435.2 249.1h0M451.4 248.9h0M449.0 250.0h0M442.4 250.9h0M442.7 244.2h0M437.3 250.9h0M447.8 249.5h0M441.0 241.5h0M448.2 247.2h0M440.8 245.5h0M440.9 241.4h0M447.4 249.8h0M448.7 246.3h0M437.3 243.0h0M442.4 253.2h0M449.0 247.6h0M446.6 250.1h0M444.4 248.2h0M445.2 245.6h0M437.9 245.6h0M450.2 242.3h0M441.7 246.1h0M444.2 246.0h0M448.3 246.3h0M444.0 249.8h0M436.4 251.0h0M449.6 243.2h0M443.5 245.1h0M442.1 250.0h0M434.0 250.2h0M446.3 247.5h0M436.0 248.7h0M444.8 245.4h0M451.5 250.2h0M447.5 251.1h0M451.2 251.6h0M443.8 246.7h0M443.0 249.2h0M439.0 244.0h0M449.8 246.7h0M439.5 246.1h0M439.8 245.4h0M435.7 249.5h0M445.8 250.1h0M444.4 245.2h0M447.1 250.4h0M442.4 249.9h0M440.0 250.8h0M449.1 250.2h0M446.2 247.9h0M445.3 249.8h0M441.6 249.8h0M448.2 243.4h0M434.9 248.5h0M442.2 244.9h0M437.4 243.9h0M435.2 246.3h0M443.4 252.4h0M450.6 246.9h0M446.1 246.7h0M443.4 244.9h0M444.1 244.0h0M440.1 247.0h0M443.6 254.1h0M452.6 242.3h0M456.4 245.6h0M456.4 244.2h0M451.1 243.8h0M451.7 244.3h0M459.1 243.9h0M455.0 246.6h0M451.5 246.0h0M453.9 243.1h0M453.9 242.5h0M456.9 244.7h0M453.6 245.4h0M458.0 243.3h0M456.6 242.7h0M457.0 245.2h0M453.2 245.8h0M451.1 274.1h0M454.2 275.9h0M446.0 279.3h0M455.8 280.0h0M459.0 278.0h0M451.4 267.9h0M459.3 269.9h0M461.0 269.5h0M457.8 276.8h0M457.7 269.7h0M458.6 274.1h0M458.1 278.1h0M448.0 270.2h0M446.7 278.2h0M456.5 277.9h0M455.5 275.2h0M451.5 275.1h0M444.6 277.3h0M439.3 271.4h0M450.2 273.7h0M452.5 269.7h0M447.3 273.1h0M447.4 277.0h0M452.0 275.1h0M443.7 276.8h0M459.5 267.6h0M465.0 269.0h0M443.3 276.4h0M467.9 275.8h0M451.9 270.6h0M447.0 274.0h0M456.2 269.7h0M455.1 269.8h0M458.2 272.1h0M444.0 278.6h0M454.0 270.4h0M459.4 275.1h0M462.7 272.1h0M450.8 275.9h0M452.8 280.1h0M460.5 277.2h0M458.8 272.4h0M446.5 270.1h0M463.6 272.5h0M453.7 271.4h0M456.5 269.9h0M444.9 273.7h0M454.7 276.5h0M455.1 275.7h0M453.3 272.3h0M444.4 270.5h0M452.7 268.6h0M459.9 272.1h0M463.0 276.3h0M465.1 270.8h0M456.9 271.0h0M445.4 273.9h0M449.1 276.5h0M441.4 274.3h0M464.1 274.2h0M443.0 271.9h0M448.4 279.0h0M447.8 272.0h0M451.8 272.6h0M453.4 270.3h0M452.8 271.5h0M449.5 272.2h0M460.1 274.2h0M458.5 270.4h0M438.8 272.5h0M460.2 273.1h0M448.6 267.3h0M455.8 270.1h0M439.0 274.6h0M453.6 277.9h0M442.6 268.0h0M454.2 279.1h0M454.7 275.7h0M441.6 274.3h0M459.0 277.5h0M447.2 273.9h0M457.8 272.5h0M453.5 274.6h0M446.0 269.1h0M449.9 271.6h0M469.2 270.8h0M447.1 280.5h0M459.0 276.1h0M451.2 277.1h0M457.8 280.3h0M460.3 280.2h0M447.9 277.5h0M458.4 271.4h0M441.8 272.5h0M446.0 271.7h0M449.2 270.9h0M454.3 273.9h0M445.0 270.4h0M455.2 271.4h0M449.3 269.8h0M437.9 272.4h0M444.7 273.0h0M450.8 271.8h0M460.8 270.2h0M463.0 274.6h0M447.7 274.8h0M460.1 272.3h0M460.0 273.8h0M441.2 274.5h0M460.7 274.9h0M452.6 270.0h0M459.7 278.8h0M441.6 275.8h0M438.2 274.2h0M458.9 267.9h0M442.1 273.8h0M451.3 274.6h0M465.2 268.9h0M455.5 266.0h0M460.9 275.3h0M439.6 270.5h0M438.8 272.6h0M444.7 277.6h0M457.0 268.6h0M466.0 274.2h0M460.9 273.5h0M464.5 277.8h0M460.3 278.8h0M458.9 274.6h0M464.2 275.8h0M444.2 276.7h0M455.1 273.8h0M442.0 273.8h0M462.3 277.8h0M458.3 272.0h0M456.8 266.3h0M464.6 273.3h0M448.9 270.7h0M455.1 270.3h0M445.2 269.8h0M468.6 273.1h0M458.0 274.8h0M448.4 276.5h0M452.3 270.6h0M445.0 272.0h0M449.5 278.6h0M447.6 270.3h0M464.5 276.1h0M456.3 270.2h0M451.2 268.9h0M467.8 277.5h0M450.0 277.5h0M454.9 265.8h0M458.6 270.6h0M456.5 271.7h0M445.1 272.2h0M462.7 269.0h0M445.3 267.7h0M448.4 276.9h0M460.0 275.6h0M458.0 279.4h0M446.2 271.1h0M460.4 276.3h0M449.3 272.7h0M461.6 273.0h0M447.3 274.7h0M448.9 275.7h0M455.7 272.3h0M446.1 277.4h0M446.2 273.9h0M464.6 259.5h0M461.0 258.5h0M465.2 260.5h0M468.0 260.7h0M463.1 258.8h0M467.7 262.4h0M462.6 259.9h0M467.9 257.5h0M458.7 252.4h0M459.7 259.5h0M462.5 256.7h0M464.2 257.7h0M467.8 259.0h0M462.6 253.6h0M470.2 259.8h0M468.9 257.8h0M463.1 253.7h0M462.5 257.9h0M461.5 253.5h0M466.1 259.2h0M470.3 257.8h0M470.2 259.1h0M462.6 252.7h0M458.4 252.9h0M469.3 257.3h0M468.0 258.3h0M462.3 261.6h0M430.4 263.0h0M451.8 262.7h0M438.0 258.9h0M454.6 261.6h0M429.0 262.7h0M458.3 260.3h0M450.4 260.7h0M432.6 263.3h0M447.0 266.2h0M455.0 262.6h0M465.6 259.6h0M438.9 264.2h0M460.8 261.0h0M427.7 261.6h0M467.8 262.7h0M445.3 262.8h0M431.8 264.5h0M456.4 260.0h0M444.0 262.4h0M429.4 261.0h0M461.1 263.0h0M435.4 260.6h0M442.1 260.2h0M432.0 265.0h0M461.4 260.0h0M465.2 264.6h0M439.8 261.8h0M436.1 263.0h0M444.6 258.9h0M458.8 259.8h0M428.3 263.1h0M461.9 259.2h0M459.4 259.7h0M466.3 262.3h0M459.1 262.7h0M443.1 261.8h0M433.0 263.2h0M445.4 257.9h0M491.8 261.2h0M496.1 254.0h0M497.1 267.0h0M493.9 268.0h0M493.0 269.6h0M490.6 264.0h0M496.8 264.8h0M490.9 263.5h0M492.2 260.1h0M504.1 265.3h0M482.9 265.1h0M488.0 260.9h0M505.6 267.4h0M491.6 259.7h0M502.0 266.7h0M503.7 259.7h0M496.8 265.5h0M490.6 263.7h0M481.6 264.1h0M493.0 272.4h0M493.4 272.4h0M496.8 264.4h0M502.2 265.1h0M503.9 264.3h0M484.3 269.5h0M493.9 258.4h0M495.4 256.5h0M487.9 260.3h0M498.4 268.2h0M486.7 262.6h0M497.9 262.9h0M501.0 259.8h0M500.8 266.9h0M496.8 268.6h0M482.4 264.3h0M496.0 262.2h0M495.4 264.9h0M492.1 263.5h0M499.4 267.4h0M496.1 269.8h0M496.4 270.4h0M491.9 261.8h0M495.7 263.1h0M491.6 259.1h0M487.4 266.0h0M502.7 265.3h0M502.8 270.4h0M501.3 267.4h0M492.2 262.8h0M499.7 267.0h0M490.8 265.0h0M497.7 265.4h0M495.2 260.7h0M493.9 260.7h0M498.5 255.4h0M498.7 259.8h0M500.6 262.4h0M485.3 256.3h0M495.0 264.4h0M492.1 259.8h0M495.3 268.9h0M496.3 266.7h0M494.6 265.3h0M498.9 254.4h0M493.0 257.9h0M501.2 260.3h0M492.5 262.9h0M490.9 266.0h0M489.7 260.0h0M495.1 261.4h0M494.5 261.8h0M504.7 261.4h0M501.4 262.7h0M490.1 259.0h0M493.8 257.0h0M482.2 265.6h0M498.8 261.7h0M490.5 267.3h0M488.5 262.0h0M488.6 264.3h0M482.6 266.4h0M498.6 261.6h0M495.6 255.6h0M488.4 259.1h0M501.3 260.1h0M496.7 262.3h0M491.5 265.3h0M492.4 257.8h0M491.2 267.3h0M488.1 263.6h0M484.5 263.5h0M498.4 263.6h0M484.1 262.1h0M484.7 258.7h0M494.7 257.3h0M482.9 259.3h0M492.7 267.2h0M485.9 263.2h0M501.3 265.1h0M505.4 258.3h0M483.8 261.3h0M492.0 264.6h0M497.4 257.6h0M486.7 258.8h0M499.4 262.5h0M484.0 259.7h0M505.3 265.5h0M499.5 264.2h0M486.6 270.4h0M500.3 259.1h0M484.5 260.7h0M500.1 264.0h0M491.8 263.7h0M491.8 267.0h0M496.8 265.5h0M487.0 268.5h0M497.3 259.7h0M496.2 255.5h0M497.3 265.2h0M496.4 261.3h0M487.6 258.5h0M497.8 255.1h0M495.3 260.7h0M500.3 266.0h0M499.3 262.3h0M490.7 266.7h0M488.8 267.0h0M488.7 263.1h0M490.8 266.3h0M502.9 259.3h0M499.4 262.8h0M504.7 263.2h0M490.3 259.0h0M503.7 258.1h0M485.5 260.2h0M490.1 264.8h0M490.8 271.0h0M485.7 263.4h0M496.0 264.7h0M494.4 259.7h0M472.0 300.9h0M474.2 297.6h0M471.9 306.5h0M487.7 299.7h0M469.3 304.9h0M485.1 303.1h0M471.6 301.7h0M470.7 298.5h0M472.5 307.4h0M477.9 304.7h0M481.0 304.3h0M475.5 304.3h0M479.6 296.6h0M475.4 304.8h0M468.3 307.4h0M482.3 297.4h0M470.1 308.4h0M472.9 302.8h0M484.7 299.2h0M479.9 303.6h0M468.5 304.2h0M471.7 305.0h0M482.9 307.4h0M473.6 305.2h0M479.7 308.6h0M481.2 298.3h0M472.4 299.6h0M475.8 296.6h0M476.2 303.1h0M476.4 295.8h0M473.0 307.3h0M486.8 304.7h0M473.3 296.1h0M477.5 303.2h0M482.1 305.0h0M478.6 306.1h0M484.7 306.4h0M474.0 307.0h0M470.6 302.1h0M477.2 298.5h0M482.8 303.5h0M486.3 303.5h0M485.0 301.9h0M475.4 297.8h0M481.3 302.6h0M473.5 301.3h0M474.2 303.8h0M479.0 299.2h0M476.7 311.4h0M481.5 303.3h0M485.3 300.2h0M478.9 305.2h0M473.1 295.8h0M478.0 301.2h0M479.4 298.5h0M476.8 302.8h0M484.6 303.4h0M475.3 300.3h0M480.0 302.7h0M486.8 307.3h0M473.5 300.0h0M471.5 305.1h0M486.3 299.8h0M471.9 303.8h0M481.1 307.8h0M483.0 298.3h0M473.0 300.3h0M488.7 302.2h0M469.9 302.3h0M479.4 299.9h0M474.8 300.4h0M478.4 299.3h0M486.2 301.5h0M470.9 302.0h0M474.2 301.3h0M484.0 303.7h0M476.3 307.7h0M478.9 305.8h0M483.3 302.5h0M477.9 300.6h0M485.2 306.4h0M468.8 306.0h0M484.4 303.7h0M474.8 301.3h0M477.2 300.2h0M480.5 304.6h0M483.4 304.3h0M478.7 300.4h0M476.9 306.8h0M480.0 311.5h0M479.4 301.1h0M483.6 303.3h0M482.7 303.6h0M482.4 306.3h0M480.5 309.7h0M476.3 304.2h0M472.2 301.4h0M477.4 295.9h0M478.1 307.2h0M470.8 301.1h0M475.0 307.0h0M475.3 307.6h0M476.9 306.7h0M480.3 303.3h0M481.4 300.1h0M482.0 302.3h0M470.1 305.2h0M478.9 298.8h0M478.2 303.6h0M482.7 298.7h0M483.1 298.8h0M483.5 306.6h0M475.4 303.2h0M483.0 303.5h0M470.1 309.3h0M473.2 310.6h0M474.1 305.8h0M476.5 302.4h0M477.1 301.6h0M470.2 299.2h0M485.4 305.3h0M472.9 302.8h0M478.9 299.3h0M480.0 307.1h0M471.2 309.0h0M433.9 303.2h0M433.8 299.7h0M432.4 302.4h0M431.3 303.3h0M430.2 301.2h0M433.4 299.7h0M433.1 304.2h0M434.1 300.6h0M433.8 301.1h0M434.2 303.1h0M435.7 300.5h0M432.1 302.6h0M430.0 302.0h0M436.2 303.5h0M436.7 301.1h0M432.1 298.6h0M434.9 300.6h0M428.5 302.6h0M434.8 303.2h0M435.8 301.2h0M430.7 302.3h0M428.8 302.0h0M435.5 302.8h0M434.5 300.5h0M437.2 301.8h0M435.4 301.7h0M430.9 299.6h0M432.0 300.7h0M429.1 303.5h0M432.7 303.7h0M382.4 287.2h0M388.5 284.7h0M384.9 292.6h0M387.8 288.4h0M386.6 286.1h0M384.3 291.5h0M388.9 286.6h0M386.2 288.5h0M384.0 291.3h0M388.2 289.2h0M389.1 285.7h0M391.3 289.5h0M385.1 287.4h0M386.3 288.1h0M389.4 292.0h0M385.6 285.7h0M385.5 289.7h0M386.4 291.6h0M386.8 289.0h0M386.3 290.6h0M387.9 290.9h0M386.5 293.5h0M389.4 286.3h0M384.7 286.4h0M390.6 289.7h0M388.1 288.3h0M387.1 291.1h0M388.8 288.7h0M389.2 292.2h0M385.5 292.2h0M387.0 290.9h0M384.7 287.5h0M385.4 286.1h0M387.1 290.8h0M387.9 289.5h0M386.5 286.7h0M395.4 334.6h0M398.7 331.3h0M396.2 339.8h0M395.4 334.0h0M397.3 338.7h0M394.7 332.3h0M389.1 334.9h0M386.4 338.4h0M387.2 332.6h0M393.3 333.9h0M392.7 334.7h0M390.7 331.2h0M393.0 330.8h0M392.9 337.5h0M397.8 336.9h0M391.1 334.5h0M401.3 335.9h0M388.0 330.7h0M391.7 334.9h0M389.5 334.3h0M397.2 333.4h0M396.8 330.6h0M391.9 338.5h0M398.0 335.6h0M393.6 333.8h0M403.1 333.4h0M396.2 332.3h0M391.3 336.4h0M396.1 335.1h0M397.6 335.3h0M391.4 337.1h0M383.8 335.2h0M390.0 337.1h0M396.0 331.5h0M397.5 333.1h0M394.3 336.3h0M393.0 330.2h0M385.4 334.6h0M400.5 338.7h0M390.4 335.4h0M386.9 336.6h0M401.0 331.3h0M402.0 332.1h0M391.7 335.9h0M398.9 332.8h0M401.8 333.4h0M395.8 330.7h0M395.9 337.9h0M392.7 333.4h0M387.3 338.5h0M394.2 335.1h0M395.0 337.8h0M392.7 338.2h0M393.3 337.8h0M402.9 331.8h0M394.3 331.4h0M384.8 332.8h0M395.4 337.3h0M397.9 337.1h0M391.0 338.8h0M388.9 337.9h0M387.6 332.8h0M388.9 335.9h0M399.5 337.7h0M392.1 336.8h0M398.5 332.7h0M399.9 337.2h0M389.7 336.3h0M388.9 332.4h0M397.7 333.1h0M398.1 329.3h0M394.0 335.1h0M397.8 337.7h0M398.1 332.1h0M394.5 338.6h0M355.1 255.9h0M356.1 254.4h0M357.3 255.0h0M358.2 254.2h0M360.2 254.6h0M361.4 255.1h0M361.7 255.8h0M364.0 254.4h0M365.0 254.1h0M366.4 254.3h0M367.4 255.5h0M368.6 255.8h0M369.4 255.9h0M371.1 254.2h0M371.7 254.4h0M373.0 254.8h0M411.0 258.9h0M422.5 263.0h0M413.5 257.2h0M410.5 259.1h0M410.1 257.4h0M424.7 259.3h0M422.2 256.6h0M411.5 256.5h0M417.5 264.7h0M422.5 259.7h0M421.6 259.9h0M417.3 258.9h0M414.3 262.4h0M415.2 258.0h0M411.3 258.3h0M411.9 265.4h0M414.4 260.1h0M413.2 262.3h0M408.7 262.3h0M410.5 258.9h0M409.9 260.7h0M416.5 258.4h0M413.3 262.6h0M418.3 259.1h0M475.5 264.9h0M431.2 277.5h0M470.9 289.8h0M440.0 278.7h0M486.3 272.2h0M469.6 256.7h0M442.3 267.0h0M435.3 256.5h0M447.5 276.4h0M456.9 271.7h0M457.6 280.5h0M472.6 264.6h0M429.7 257.2h0M446.8 267.9h0M470.0 255.8h0M437.1 280.2h0M480.3 262.0h0M460.2 273.0h0M439.9 270.9h0M426.4 287.6h0M439.2 286.4h0M483.1 267.6h0M433.9 262.9h0M485.5 254.1h0M440.5 262.1h0M446.8 289.3h0M452.4 286.9h0M466.8 252.3h0M446.8 264.7h0M435.3 260.9h0M470.8 294.0h0M475.4 286.0h0M471.8 289.3h0M472.5 278.4h0M470.0 292.5h0M477.1 290.5h0M473.7 289.1h0M468.1 289.4h0M479.1 289.1h0M474.9 290.5h0M484.7 270.2h0M474.1 274.7h0M482.5 280.8h0M472.7 273.5h0M486.7 262.9h0M483.1 274.9h0M442.2 262.3h0M439.8 264.3h0M431.9 258.1h0M440.3 259.3h0M430.3 258.9h0M443.4 265.1h0M436.3 263.8h0M433.2 258.9h0M438.6 260.2h0M429.1 263.8h0M429.4 259.3h0M431.5 256.3h0M433.5 259.9h0M436.6 254.6h0M433.0 258.3h0M440.2 257.5h0M438.5 260.6h0M437.9 256.0h0M431.0 260.3h0M431.9 257.9h0M482.9 275.3h0M487.6 270.7h0M479.8 277.3h0M481.1 274.7h0M481.5 278.4h0M484.8 277.8h0M402.4 265.8h0M404.5 265.7h0M400.4 269.0h0M405.7 265.4h0M402.8 265.3h0M432.1 266.0h0M437.9 269.6h0M438.8 263.9h0M431.9 266.6h0M435.5 261.2h0M433.5 261.6h0M439.0 263.2h0M439.4 265.7h0M437.3 267.8h0M433.4 268.5h0M439.0 260.9h0M442.5 269.1h0M457.3 269.8h0M461.7 272.3h0M450.7 269.1h0M445.4 269.6h0M454.5 268.9h0M449.4 274.8h0M448.7 274.5h0M433.3 269.3h0M457.3 272.4h0M450.6 273.5h0M455.4 278.7h0M449.9 272.8h0M447.8 271.2h0M460.7 269.4h0M456.7 274.0h0M456.0 266.8h0M457.7 270.1h0M444.1 270.6h0M449.9 280.4h0M459.5 279.1h0M454.9 277.9h0M449.9 272.6h0M407.3 273.8h0M408.4 273.2h0M409.4 272.6h0M410.4 272.0h0M411.4 271.4h0M412.4 270.8h0M393.9 234.6h0M394.8 235.3h0M395.8 235.8h0M396.7 236.6h0M397.6 237.0h0M398.5 237.7h0M399.3 237.5h0M399.9 238.9h0M400.3 238.2h0M400.8 239.2h0M401.4 239.1h0M401.0 239.8h0M441.8 212.0h0M456.5 210.5h0" stroke="#c6c6c6" stroke-width="2.3" stroke-linecap="round" fill="none"/>
<path d="M467.6 209.3h0M460.2 204.7h0M465.7 210.1h0M465.9 204.1h0M460.3 206.5h0M468.5 206.5h0M462.3 206.1h0M464.8 205.0h0M464.0 207.1h0M471.8 206.4h0M468.6 204.4h0M468.1 206.9h0M461.4 206.5h0M468.3 205.9h0M468.9 209.7h0M458.0 207.3h0M460.8 208.5h0M464.4 207.0h0M466.2 205.4h0M464.5 205.1h0M464.1 202.9h0M457.0 204.8h0M467.8 208.2h0M465.4 205.3h0M459.9 207.6h0M459.3 207.1h0M468.6 206.4h0M466.0 206.7h0M458.2 206.6h0M456.2 205.4h0M465.0 209.3h0M457.5 205.5h0M465.1 207.7h0M460.1 208.8h0M463.1 207.4h0M472.0 208.0h0M464.6 204.5h0M460.9 203.6h0M470.1 205.8h0M468.0 204.9h0M461.2 207.6h0M465.9 205.6h0M471.8 208.1h0M464.7 204.1h0M464.7 205.9h0M463.6 208.2h0M461.2 207.1h0M467.8 207.3h0M463.7 204.1h0M456.1 206.0h0M467.1 206.8h0M468.4 203.3h0M468.7 204.6h0M458.1 207.7h0M466.3 205.0h0M460.0 206.1h0M463.9 206.2h0M470.3 206.9h0M458.0 203.3h0M460.6 205.7h0M466.0 205.9h0M465.6 207.0h0M469.1 206.9h0M470.0 209.8h0M462.4 205.6h0M459.7 206.1h0M460.4 206.6h0M465.4 207.7h0M458.3 208.8h0M462.4 206.3h0M461.4 202.4h0M465.1 202.8h0M469.3 206.6h0M471.5 207.9h0M467.3 209.5h0M463.7 209.7h0M463.3 207.1h0M460.6 207.7h0M467.1 205.5h0M457.7 206.4h0M437.8 210.8h0M434.8 209.9h0M435.6 213.2h0M434.1 210.7h0M440.5 212.1h0M438.8 210.8h0M437.5 211.4h0M440.4 212.2h0M437.0 209.4h0M436.5 210.8h0M435.4 209.7h0M434.7 210.8h0M435.6 211.6h0M439.0 211.5h0M436.9 213.3h0M438.3 208.8h0M435.3 211.3h0M435.0 212.1h0M438.9 211.9h0M433.4 211.1h0M439.7 209.3h0M434.3 209.2h0M434.7 208.4h0M435.8 208.8h0M342.6 256.9h0M348.6 254.5h0M346.3 256.7h0M345.8 255.5h0M346.0 254.1h0M347.7 251.5h0M347.0 252.7h0M344.2 257.8h0M346.3 252.6h0M352.4 253.8h0M347.8 259.7h0M352.5 257.9h0M350.2 258.0h0M347.2 257.1h0M353.5 253.4h0M341.4 255.9h0M347.4 256.1h0M344.9 255.9h0M357.3 255.6h0M355.5 252.8h0M354.1 254.9h0M354.9 255.4h0M346.8 252.6h0M354.5 254.7h0M351.7 255.8h0M346.1 255.6h0M350.5 249.7h0M346.4 254.3h0M350.0 257.0h0M344.5 253.9h0M351.3 249.6h0M354.8 254.9h0M347.9 249.9h0M348.7 255.4h0M350.8 251.1h0M343.8 252.4h0M349.5 252.2h0M347.4 257.0h0M345.9 258.1h0M349.6 253.8h0M353.7 255.8h0M346.5 252.9h0M347.8 255.4h0M353.9 255.2h0M344.8 250.9h0M349.3 255.6h0M353.9 253.1h0M341.3 256.8h0M347.1 251.2h0M356.6 256.9h0M348.4 255.3h0M344.2 257.2h0M345.8 253.3h0M346.5 251.5h0M353.3 259.0h0M346.5 252.8h0M353.1 254.0h0M348.2 254.1h0M343.7 257.5h0M341.2 251.7h0M346.2 253.2h0M353.9 253.1h0M350.6 253.3h0M354.6 254.5h0M349.4 250.1h0M351.7 252.8h0M352.6 255.9h0M350.8 257.5h0M350.0 252.1h0M348.8 255.0h0M342.0 256.2h0M355.6 255.2h0M348.6 255.7h0M353.7 253.1h0M353.0 252.5h0M350.8 255.9h0M341.4 256.3h0M349.2 250.0h0M345.7 252.8h0M343.4 255.6h0M343.9 254.6h0M342.4 253.8h0M357.5 255.6h0M340.0 252.0h0M347.3 250.1h0M353.1 254.4h0M347.7 254.6h0M344.5 251.4h0M349.2 256.3h0M347.1 249.6h0M346.3 254.6h0M341.3 258.2h0M342.2 254.5h0M342.4 256.9h0M341.5 252.1h0M353.8 251.1h0M345.2 256.0h0M349.9 249.8h0M351.1 253.7h0M352.0 255.6h0M346.1 253.4h0M350.0 252.7h0M346.2 252.4h0M348.7 256.3h0M339.8 254.6h0M406.0 254.0h0M402.9 253.5h0M403.8 252.0h0M405.7 251.5h0M404.1 249.0h0M404.7 250.7h0M404.5 248.3h0M401.8 251.8h0M407.8 250.5h0M402.3 248.9h0M403.3 252.4h0M405.2 248.2h0M401.7 251.6h0M405.9 254.5h0M409.3 251.4h0M403.1 251.4h0M401.8 249.6h0M408.0 252.2h0M407.8 254.1h0M403.9 252.6h0M405.3 251.6h0M405.7 252.1h0M401.0 248.3h0M405.3 252.0h0M403.7 250.8h0M401.0 252.9h0M406.4 254.0h0M403.9 250.8h0M419.4 251.5h0M420.7 249.0h0M414.8 245.8h0M415.2 247.5h0M421.5 248.1h0M416.2 251.6h0M422.3 248.7h0M422.8 245.2h0M417.7 247.2h0M420.2 247.5h0M423.8 247.0h0M418.6 244.9h0M420.5 250.0h0M417.2 244.7h0M415.5 251.0h0M421.3 248.7h0M421.2 249.2h0M420.4 243.8h0M420.6 249.8h0M422.3 250.5h0M417.4 248.7h0M415.4 251.7h0M415.5 249.8h0M417.1 245.9h0M416.8 247.1h0M420.2 250.9h0M418.4 250.2h0M417.6 248.8h0M421.1 248.4h0M420.9 246.3h0M418.2 246.4h0M417.5 245.7h0M443.5 243.5h0M441.0 249.4h0M435.6 244.0h0M441.8 244.0h0M445.8 246.0h0M440.1 242.4h0M447.0 245.8h0M448.9 247.4h0M446.8 250.4h0M441.0 245.6h0M443.0 253.3h0M437.3 244.0h0M446.8 241.0h0M452.0 243.7h0M450.4 247.0h0M442.1 243.7h0M451.8 246.6h0M436.8 249.6h0M443.3 249.2h0M441.8 248.7h0M446.5 247.5h0M435.2 249.1h0M451.4 248.9h0M449.0 250.0h0M442.4 250.9h0M442.7 244.2h0M437.3 250.9h0M447.8 249.5h0M441.0 241.5h0M448.2 247.2h0M440.8 245.5h0M440.9 241.4h0M447.4 249.8h0M448.7 246.3h0M437.3 243.0h0M442.4 253.2h0M449.0 247.6h0M446.6 250.1h0M444.4 248.2h0M445.2 245.6h0M437.9 245.6h0M450.2 242.3h0M441.7 246.1h0M444.2 246.0h0M448.3 246.3h0M444.0 249.8h0M436.4 251.0h0M449.6 243.2h0M443.5 245.1h0M442.1 250.0h0M434.0 250.2h0M446.3 247.5h0M436.0 248.7h0M444.8 245.4h0M451.5 250.2h0M447.5 251.1h0M451.2 251.6h0M443.8 246.7h0M443.0 249.2h0M439.0 244.0h0M449.8 246.7h0M439.5 246.1h0M439.8 245.4h0M435.7 249.5h0M445.8 250.1h0M444.4 245.2h0M447.1 250.4h0M442.4 249.9h0M440.0 250.8h0M449.1 250.2h0M446.2 247.9h0M445.3 249.8h0M441.6 249.8h0M448.2 243.4h0M434.9 248.5h0M442.2 244.9h0M437.4 243.9h0M435.2 246.3h0M443.4 252.4h0M450.6 246.9h0M446.1 246.7h0M443.4 244.9h0M444.1 244.0h0M440.1 247.0h0M443.6 254.1h0M452.6 242.3h0M456.4 245.6h0M456.4 244.2h0M451.1 243.8h0M451.7 244.3h0M459.1 243.9h0M455.0 246.6h0M451.5 246.0h0M453.9 243.1h0M453.9 242.5h0M456.9 244.7h0M453.6 245.4h0M458.0 243.3h0M456.6 242.7h0M457.0 245.2h0M453.2 245.8h0M451.1 274.1h0M454.2 275.9h0M446.0 279.3h0M455.8 280.0h0M459.0 278.0h0M451.4 267.9h0M459.3 269.9h0M461.0 269.5h0M457.8 276.8h0M457.7 269.7h0M458.6 274.1h0M458.1 278.1h0M448.0 270.2h0M446.7 278.2h0M456.5 277.9h0M455.5 275.2h0M451.5 275.1h0M444.6 277.3h0M439.3 271.4h0M450.2 273.7h0M452.5 269.7h0M447.3 273.1h0M447.4 277.0h0M452.0 275.1h0M443.7 276.8h0M459.5 267.6h0M465.0 269.0h0M443.3 276.4h0M467.9 275.8h0M451.9 270.6h0M447.0 274.0h0M456.2 269.7h0M455.1 269.8h0M458.2 272.1h0M444.0 278.6h0M454.0 270.4h0M459.4 275.1h0M462.7 272.1h0M450.8 275.9h0M452.8 280.1h0M460.5 277.2h0M458.8 272.4h0M446.5 270.1h0M463.6 272.5h0M453.7 271.4h0M456.5 269.9h0M444.9 273.7h0M454.7 276.5h0M455.1 275.7h0M453.3 272.3h0M444.4 270.5h0M452.7 268.6h0M459.9 272.1h0M463.0 276.3h0M465.1 270.8h0M456.9 271.0h0M445.4 273.9h0M449.1 276.5h0M441.4 274.3h0M464.1 274.2h0M443.0 271.9h0M448.4 279.0h0M447.8 272.0h0M451.8 272.6h0M453.4 270.3h0M452.8 271.5h0M449.5 272.2h0M460.1 274.2h0M458.5 270.4h0M438.8 272.5h0M460.2 273.1h0M448.6 267.3h0M455.8 270.1h0M439.0 274.6h0M453.6 277.9h0M442.6 268.0h0M454.2 279.1h0M454.7 275.7h0M441.6 274.3h0M459.0 277.5h0M447.2 273.9h0M457.8 272.5h0M453.5 274.6h0M446.0 269.1h0M449.9 271.6h0M469.2 270.8h0M447.1 280.5h0M459.0 276.1h0M451.2 277.1h0M457.8 280.3h0M460.3 280.2h0M447.9 277.5h0M458.4 271.4h0M441.8 272.5h0M446.0 271.7h0M449.2 270.9h0M454.3 273.9h0M445.0 270.4h0M455.2 271.4h0M449.3 269.8h0M437.9 272.4h0M444.7 273.0h0M450.8 271.8h0M460.8 270.2h0M463.0 274.6h0M447.7 274.8h0M460.1 272.3h0M460.0 273.8h0M441.2 274.5h0M460.7 274.9h0M452.6 270.0h0M459.7 278.8h0M441.6 275.8h0M438.2 274.2h0M458.9 267.9h0M442.1 273.8h0M451.3 274.6h0M465.2 268.9h0M455.5 266.0h0M460.9 275.3h0M439.6 270.5h0M438.8 272.6h0M444.7 277.6h0M457.0 268.6h0M466.0 274.2h0M460.9 273.5h0M464.5 277.8h0M460.3 278.8h0M458.9 274.6h0M464.2 275.8h0M444.2 276.7h0M455.1 273.8h0M442.0 273.8h0M462.3 277.8h0M458.3 272.0h0M456.8 266.3h0M464.6 273.3h0M448.9 270.7h0M455.1 270.3h0M445.2 269.8h0M468.6 273.1h0M458.0 274.8h0M448.4 276.5h0M452.3 270.6h0M445.0 272.0h0M449.5 278.6h0M447.6 270.3h0M464.5 276.1h0M456.3 270.2h0M451.2 268.9h0M467.8 277.5h0M450.0 277.5h0M454.9 265.8h0M458.6 270.6h0M456.5 271.7h0M445.1 272.2h0M462.7 269.0h0M445.3 267.7h0M448.4 276.9h0M460.0 275.6h0M458.0 279.4h0M446.2 271.1h0M460.4 276.3h0M449.3 272.7h0M461.6 273.0h0M447.3 274.7h0M448.9 275.7h0M455.7 272.3h0M446.1 277.4h0M446.2 273.9h0M464.6 259.5h0M461.0 258.5h0M465.2 260.5h0M468.0 260.7h0M463.1 258.8h0M467.7 262.4h0M462.6 259.9h0M467.9 257.5h0M458.7 252.4h0M459.7 259.5h0M462.5 256.7h0M464.2 257.7h0M467.8 259.0h0M462.6 253.6h0M470.2 259.8h0M468.9 257.8h0M463.1 253.7h0M462.5 257.9h0M461.5 253.5h0M466.1 259.2h0M470.3 257.8h0M470.2 259.1h0M462.6 252.7h0M458.4 252.9h0M469.3 257.3h0M468.0 258.3h0M462.3 261.6h0M430.4 263.0h0M451.8 262.7h0M438.0 258.9h0M454.6 261.6h0M429.0 262.7h0M458.3 260.3h0M450.4 260.7h0M432.6 263.3h0M447.0 266.2h0M455.0 262.6h0M465.6 259.6h0M438.9 264.2h0M460.8 261.0h0M427.7 261.6h0M467.8 262.7h0M445.3 262.8h0M431.8 264.5h0M456.4 260.0h0M444.0 262.4h0M429.4 261.0h0M461.1 263.0h0M435.4 260.6h0M442.1 260.2h0M432.0 265.0h0M461.4 260.0h0M465.2 264.6h0M439.8 261.8h0M436.1 263.0h0M444.6 258.9h0M458.8 259.8h0M428.3 263.1h0M461.9 259.2h0M459.4 259.7h0M466.3 262.3h0M459.1 262.7h0M443.1 261.8h0M433.0 263.2h0M445.4 257.9h0M491.8 261.2h0M496.1 254.0h0M497.1 267.0h0M493.9 268.0h0M493.0 269.6h0M490.6 264.0h0M496.8 264.8h0M490.9 263.5h0M492.2 260.1h0M504.1 265.3h0M482.9 265.1h0M488.0 260.9h0M505.6 267.4h0M491.6 259.7h0M502.0 266.7h0M503.7 259.7h0M496.8 265.5h0M490.6 263.7h0M481.6 264.1h0M493.0 272.4h0M493.4 272.4h0M496.8 264.4h0M502.2 265.1h0M503.9 264.3h0M484.3 269.5h0M493.9 258.4h0M495.4 256.5h0M487.9 260.3h0M498.4 268.2h0M486.7 262.6h0M497.9 262.9h0M501.0 259.8h0M500.8 266.9h0M496.8 268.6h0M482.4 264.3h0M496.0 262.2h0M495.4 264.9h0M492.1 263.5h0M499.4 267.4h0M496.1 269.8h0M496.4 270.4h0M491.9 261.8h0M495.7 263.1h0M491.6 259.1h0M487.4 266.0h0M502.7 265.3h0M502.8 270.4h0M501.3 267.4h0M492.2 262.8h0M499.7 267.0h0M490.8 265.0h0M497.7 265.4h0M495.2 260.7h0M493.9 260.7h0M498.5 255.4h0M498.7 259.8h0M500.6 262.4h0M485.3 256.3h0M495.0 264.4h0M492.1 259.8h0M495.3 268.9h0M496.3 266.7h0M494.6 265.3h0M498.9 254.4h0M493.0 257.9h0M501.2 260.3h0M492.5 262.9h0M490.9 266.0h0M489.7 260.0h0M495.1 261.4h0M494.5 261.8h0M504.7 261.4h0M501.4 262.7h0M490.1 259.0h0M493.8 257.0h0M482.2 265.6h0M498.8 261.7h0M490.5 267.3h0M488.5 262.0h0M488.6 264.3h0M482.6 266.4h0M498.6 261.6h0M495.6 255.6h0M488.4 259.1h0M501.3 260.1h0M496.7 262.3h0M491.5 265.3h0M492.4 257.8h0M491.2 267.3h0M488.1 263.6h0M484.5 263.5h0M498.4 263.6h0M484.1 262.1h0M484.7 258.7h0M494.7 257.3h0M482.9 259.3h0M492.7 267.2h0M485.9 263.2h0M501.3 265.1h0M505.4 258.3h0M483.8 261.3h0M492.0 264.6h0M497.4 257.6h0M486.7 258.8h0M499.4 262.5h0M484.0 259.7h0M505.3 265.5h0M499.5 264.2h0M486.6 270.4h0M500.3 259.1h0M484.5 260.7h0M500.1 264.0h0M491.8 263.7h0M491.8 267.0h0M496.8 265.5h0M487.0 268.5h0M497.3 259.7h0M496.2 255.5h0M497.3 265.2h0M496.4 261.3h0M487.6 258.5h0M497.8 255.1h0M495.3 260.7h0M500.3 266.0h0M499.3 262.3h0M490.7 266.7h0M488.8 267.0h0M488.7 263.1h0M490.8 266.3h0M502.9 259.3h0M499.4 262.8h0M504.7 263.2h0M490.3 259.0h0M503.7 258.1h0M485.5 260.2h0M490.1 264.8h0M490.8 271.0h0M485.7 263.4h0M496.0 264.7h0M494.4 259.7h0M472.0 300.9h0M474.2 297.6h0M471.9 306.5h0M487.7 299.7h0M469.3 304.9h0M485.1 303.1h0M471.6 301.7h0M470.7 298.5h0M472.5 307.4h0M477.9 304.7h0M481.0 304.3h0M475.5 304.3h0M479.6 296.6h0M475.4 304.8h0M468.3 307.4h0M482.3 297.4h0M470.1 308.4h0M472.9 302.8h0M484.7 299.2h0M479.9 303.6h0M468.5 304.2h0M471.7 305.0h0M482.9 307.4h0M473.6 305.2h0M479.7 308.6h0M481.2 298.3h0M472.4 299.6h0M475.8 296.6h0M476.2 303.1h0M476.4 295.8h0M473.0 307.3h0M486.8 304.7h0M473.3 296.1h0M477.5 303.2h0M482.1 305.0h0M478.6 306.1h0M484.7 306.4h0M474.0 307.0h0M470.6 302.1h0M477.2 298.5h0M482.8 303.5h0M486.3 303.5h0M485.0 301.9h0M475.4 297.8h0M481.3 302.6h0M473.5 301.3h0M474.2 303.8h0M479.0 299.2h0M476.7 311.4h0M481.5 303.3h0M485.3 300.2h0M478.9 305.2h0M473.1 295.8h0M478.0 301.2h0M479.4 298.5h0M476.8 302.8h0M484.6 303.4h0M475.3 300.3h0M480.0 302.7h0M486.8 307.3h0M473.5 300.0h0M471.5 305.1h0M486.3 299.8h0M471.9 303.8h0M481.1 307.8h0M483.0 298.3h0M473.0 300.3h0M488.7 302.2h0M469.9 302.3h0M479.4 299.9h0M474.8 300.4h0M478.4 299.3h0M486.2 301.5h0M470.9 302.0h0M474.2 301.3h0M484.0 303.7h0M476.3 307.7h0M478.9 305.8h0M483.3 302.5h0M477.9 300.6h0M485.2 306.4h0M468.8 306.0h0M484.4 303.7h0M474.8 301.3h0M477.2 300.2h0M480.5 304.6h0M483.4 304.3h0M478.7 300.4h0M476.9 306.8h0M480.0 311.5h0M479.4 301.1h0M483.6 303.3h0M482.7 303.6h0M482.4 306.3h0M480.5 309.7h0M476.3 304.2h0M472.2 301.4h0M477.4 295.9h0M478.1 307.2h0M470.8 301.1h0M475.0 307.0h0M475.3 307.6h0M476.9 306.7h0M480.3 303.3h0M481.4 300.1h0M482.0 302.3h0M470.1 305.2h0M478.9 298.8h0M478.2 303.6h0M482.7 298.7h0M483.1 298.8h0M483.5 306.6h0M475.4 303.2h0M483.0 303.5h0M470.1 309.3h0M473.2 310.6h0M474.1 305.8h0M476.5 302.4h0M477.1 301.6h0M470.2 299.2h0M485.4 305.3h0M472.9 302.8h0M478.9 299.3h0M480.0 307.1h0M471.2 309.0h0M433.9 303.2h0M433.8 299.7h0M432.4 302.4h0M431.3 303.3h0M430.2 301.2h0M433.4 299.7h0M433.1 304.2h0M434.1 300.6h0M433.8 301.1h0M434.2 303.1h0M435.7 300.5h0M432.1 302.6h0M430.0 302.0h0M436.2 303.5h0M436.7 301.1h0M432.1 298.6h0M434.9 300.6h0M428.5 302.6h0M434.8 303.2h0M435.8 301.2h0M430.7 302.3h0M428.8 302.0h0M435.5 302.8h0M434.5 300.5h0M437.2 301.8h0M435.4 301.7h0M430.9 299.6h0M432.0 300.7h0M429.1 303.5h0M432.7 303.7h0M382.4 287.2h0M388.5 284.7h0M384.9 292.6h0M387.8 288.4h0M386.6 286.1h0M384.3 291.5h0M388.9 286.6h0M386.2 288.5h0M384.0 291.3h0M388.2 289.2h0M389.1 285.7h0M391.3 289.5h0M385.1 287.4h0M386.3 288.1h0M389.4 292.0h0M385.6 285.7h0M385.5 289.7h0M386.4 291.6h0M386.8 289.0h0M386.3 290.6h0M387.9 290.9h0M386.5 293.5h0M389.4 286.3h0M384.7 286.4h0M390.6 289.7h0M388.1 288.3h0M387.1 291.1h0M388.8 288.7h0M389.2 292.2h0M385.5 292.2h0M387.0 290.9h0M384.7 287.5h0M385.4 286.1h0M387.1 290.8h0M387.9 289.5h0M386.5 286.7h0M395.4 334.6h0M398.7 331.3h0M396.2 339.8h0M395.4 334.0h0M397.3 338.7h0M394.7 332.3h0M389.1 334.9h0M386.4 338.4h0M387.2 332.6h0M393.3 333.9h0M392.7 334.7h0M390.7 331.2h0M393.0 330.8h0M392.9 337.5h0M397.8 336.9h0M391.1 334.5h0M401.3 335.9h0M388.0 330.7h0M391.7 334.9h0M389.5 334.3h0M397.2 333.4h0M396.8 330.6h0M391.9 338.5h0M398.0 335.6h0M393.6 333.8h0M403.1 333.4h0M396.2 332.3h0M391.3 336.4h0M396.1 335.1h0M397.6 335.3h0M391.4 337.1h0M383.8 335.2h0M390.0 337.1h0M396.0 331.5h0M397.5 333.1h0M394.3 336.3h0M393.0 330.2h0M385.4 334.6h0M400.5 338.7h0M390.4 335.4h0M386.9 336.6h0M401.0 331.3h0M402.0 332.1h0M391.7 335.9h0M398.9 332.8h0M401.8 333.4h0M395.8 330.7h0M395.9 337.9h0M392.7 333.4h0M387.3 338.5h0M394.2 335.1h0M395.0 337.8h0M392.7 338.2h0M393.3 337.8h0M402.9 331.8h0M394.3 331.4h0M384.8 332.8h0M395.4 337.3h0M397.9 337.1h0M391.0 338.8h0M388.9 337.9h0M387.6 332.8h0M388.9 335.9h0M399.5 337.7h0M392.1 336.8h0M398.5 332.7h0M399.9 337.2h0M389.7 336.3h0M388.9 332.4h0M397.7 333.1h0M398.1 329.3h0M394.0 335.1h0M397.8 337.7h0M398.1 332.1h0M394.5 338.6h0M355.1 255.9h0M356.1 254.4h0M357.3 255.0h0M358.2 254.2h0M360.2 254.6h0M361.4 255.1h0M361.7 255.8h0M364.0 254.4h0M365.0 254.1h0M366.4 254.3h0M367.4 255.5h0M368.6 255.8h0M369.4 255.9h0M371.1 254.2h0M371.7 254.4h0M373.0 254.8h0M411.0 258.9h0M422.5 263.0h0M413.5 257.2h0M410.5 259.1h0M410.1 257.4h0M424.7 259.3h0M422.2 256.6h0M411.5 256.5h0M417.5 264.7h0M422.5 259.7h0M421.6 259.9h0M417.3 258.9h0M414.3 262.4h0M415.2 258.0h0M411.3 258.3h0M411.9 265.4h0M414.4 260.1h0M413.2 262.3h0M408.7 262.3h0M410.5 258.9h0M409.9 260.7h0M416.5 258.4h0M413.3 262.6h0M418.3 259.1h0M475.5 264.9h0M431.2 277.5h0M470.9 289.8h0M440.0 278.7h0M486.3 272.2h0M469.6 256.7h0M442.3 267.0h0M435.3 256.5h0M447.5 276.4h0M456.9 271.7h0M457.6 280.5h0M472.6 264.6h0M429.7 257.2h0M446.8 267.9h0M470.0 255.8h0M437.1 280.2h0M480.3 262.0h0M460.2 273.0h0M439.9 270.9h0M426.4 287.6h0M439.2 286.4h0M483.1 267.6h0M433.9 262.9h0M485.5 254.1h0M440.5 262.1h0M446.8 289.3h0M452.4 286.9h0M466.8 252.3h0M446.8 264.7h0M435.3 260.9h0M470.8 294.0h0M475.4 286.0h0M471.8 289.3h0M472.5 278.4h0M470.0 292.5h0M477.1 290.5h0M473.7 289.1h0M468.1 289.4h0M479.1 289.1h0M474.9 290.5h0M484.7 270.2h0M474.1 274.7h0M482.5 280.8h0M472.7 273.5h0M486.7 262.9h0M483.1 274.9h0M442.2 262.3h0M439.8 264.3h0M431.9 258.1h0M440.3 259.3h0M430.3 258.9h0M443.4 265.1h0M436.3 263.8h0M433.2 258.9h0M438.6 260.2h0M429.1 263.8h0M429.4 259.3h0M431.5 256.3h0M433.5 259.9h0M436.6 254.6h0M433.0 258.3h0M440.2 257.5h0M438.5 260.6h0M437.9 256.0h0M431.0 260.3h0M431.9 257.9h0M482.9 275.3h0M487.6 270.7h0M479.8 277.3h0M481.1 274.7h0M481.5 278.4h0M484.8 277.8h0M402.4 265.8h0M404.5 265.7h0M400.4 269.0h0M405.7 265.4h0M402.8 265.3h0M432.1 266.0h0M437.9 269.6h0M438.8 263.9h0M431.9 266.6h0M435.5 261.2h0M433.5 261.6h0M439.0 263.2h0M439.4 265.7h0M437.3 267.8h0M433.4 268.5h0M439.0 260.9h0M442.5 269.1h0M457.3 269.8h0M461.7 272.3h0M450.7 269.1h0M445.4 269.6h0M454.5 268.9h0M449.4 274.8h0M448.7 274.5h0M433.3 269.3h0M457.3 272.4h0M450.6 273.5h0M455.4 278.7h0M449.9 272.8h0M447.8 271.2h0M460.7 269.4h0M456.7 274.0h0M456.0 266.8h0M457.7 270.1h0M444.1 270.6h0M449.9 280.4h0M459.5 279.1h0M454.9 277.9h0M449.9 272.6h0M407.3 273.8h0M408.4 273.2h0M409.4 272.6h0M410.4 272.0h0M411.4 271.4h0M412.4 270.8h0M393.9 234.6h0M394.8 235.3h0M395.8 235.8h0M396.7 236.6h0M397.6 237.0h0M398.5 237.7h0M399.3 237.5h0M399.9 238.9h0M400.3 238.2h0M400.8 239.2h0M401.4 239.1h0M401.0 239.8h0M441.8 212.0h0M456.5 210.5h0" stroke="#f2f2f2" stroke-width="0.9" stroke-linecap="round" fill="none"/>
<path d="M446.0 264.8h0M442.6 262.3h0M443.3 261.2h0M444.6 261.5h0" stroke="#b7d3ec" stroke-width="2.1" stroke-linecap="round" fill="none"/>
<path d="M466.6 251.3h0M460.4 254.1h0M469.1 255.3h0M468.1 257.3h0M463.1 250.0h0M472.2 259.7h0M460.6 254.5h0M468.0 254.6h0M462.7 252.8h0M461.6 254.9h0M461.6 260.2h0M465.1 255.6h0M458.7 252.7h0M460.3 251.8h0M474.3 255.9h0M465.7 259.1h0M468.0 257.9h0M462.9 250.0h0M470.1 258.4h0M462.8 256.2h0M466.4 257.0h0M466.4 257.2h0M461.9 255.2h0M466.7 253.5h0M461.8 254.2h0M464.0 253.4h0M470.4 254.6h0M467.2 257.0h0M462.7 255.1h0M473.4 255.8h0M467.8 263.2h0M470.9 251.9h0M463.2 260.1h0M462.0 261.6h0M471.4 251.3h0M467.2 259.0h0M465.0 259.8h0M450.8 261.6h0M455.4 261.1h0M454.9 259.9h0M449.3 264.0h0M454.6 260.1h0M446.8 262.9h0M451.5 261.4h0M450.7 262.5h0M457.5 262.8h0M447.7 265.6h0M445.4 263.1h0M455.5 262.5h0M446.4 262.2h0M444.8 261.7h0M453.2 262.4h0M453.1 264.2h0M453.7 259.1h0M454.5 264.7h0M470.6 261.9h0M452.1 261.9h0M462.2 263.0h0M456.4 260.3h0M458.1 261.0h0M452.4 261.0h0M441.6 260.3h0M453.2 260.5h0M462.9 263.7h0M452.4 262.6h0M453.1 263.3h0M448.5 261.0h0M455.0 262.8h0M440.1 261.0h0M453.3 260.9h0M447.2 260.9h0M458.6 262.2h0M453.2 265.6h0M454.7 264.2h0M452.6 259.6h0M457.3 265.1h0M453.1 259.6h0M441.7 264.0h0M453.3 263.9h0M453.4 264.3h0M448.4 261.1h0M457.2 262.3h0M451.1 260.7h0M455.9 259.4h0M457.9 263.2h0M458.2 261.5h0M447.8 258.5h0M456.0 266.4h0M448.1 260.7h0M455.4 265.3h0M463.0 261.1h0M453.9 259.5h0M456.1 262.5h0M451.8 259.5h0M447.4 261.8h0M455.8 264.0h0M451.8 262.9h0M453.5 259.4h0M456.3 262.4h0M447.9 264.1h0M438.9 260.4h0M448.1 263.4h0M434.1 262.6h0M444.6 274.7h0M457.8 273.0h0" stroke="#3b6bbf" stroke-width="2.1" stroke-linecap="round" fill="none"/>
<path d="M464.7 255.6h0M471.2 250.5h0M470.3 254.3h0M467.3 252.3h0M466.4 255.6h0M469.8 255.4h0M470.5 256.7h0M466.8 256.2h0M467.6 252.9h0M470.4 254.8h0M472.3 251.3h0M469.4 255.1h0M468.7 253.5h0M467.1 255.5h0M464.6 251.3h0M470.9 256.6h0M468.2 255.9h0M467.2 255.4h0M465.2 251.2h0M473.4 254.6h0M468.2 254.4h0M470.1 251.5h0M464.6 254.6h0M465.1 251.4h0M465.9 251.5h0M468.9 254.4h0M466.3 255.5h0M466.2 248.5h0M463.4 251.4h0M466.7 253.6h0M466.5 252.6h0M467.8 255.7h0" stroke="#aec4ea" stroke-width="2.1" stroke-linecap="round" fill="none"/>
<path d="M433.1 259.3h0M429.0 263.2h0M426.9 278.0h0M424.7 275.1h0M420.8 278.5h0M431.4 277.1h0M426.9 277.8h0M431.0 276.5h0M430.2 282.6h0M430.1 276.9h0M424.7 282.9h0M425.6 282.0h0M425.7 280.3h0M423.8 278.7h0M418.4 279.9h0M428.6 280.8h0M434.8 280.8h0M426.9 281.0h0M433.2 278.0h0M429.3 283.5h0M428.1 280.2h0M422.0 282.2h0M424.3 277.4h0M429.8 280.4h0M423.0 277.6h0M419.8 278.2h0M418.7 277.1h0M433.0 277.8h0M423.9 281.6h0M427.7 280.9h0M426.7 276.6h0M432.6 279.6h0M426.9 280.1h0M434.5 279.8h0M430.9 274.8h0M424.8 278.3h0M425.1 277.8h0M428.2 281.5h0M429.3 280.2h0M429.8 279.2h0M435.2 278.6h0M427.6 278.1h0M426.3 277.8h0M422.2 279.2h0M429.6 278.6h0M434.3 279.5h0M420.6 278.7h0M431.8 280.5h0M426.2 276.0h0M427.4 279.6h0M427.4 280.2h0M426.8 281.0h0M426.2 279.1h0M420.7 278.4h0M421.2 278.5h0M427.9 281.8h0M427.6 277.3h0M429.2 277.9h0M425.6 277.6h0M425.0 280.8h0M427.7 276.9h0M431.7 276.0h0M430.7 276.6h0M426.2 283.0h0M426.2 279.6h0M424.6 279.8h0M431.2 280.2h0M434.8 278.3h0M421.7 280.6h0M422.8 281.4h0M427.0 284.2h0M429.2 276.7h0M423.2 278.5h0M428.9 274.6h0M429.8 278.8h0M430.6 278.3h0M431.6 281.0h0" stroke="#e8830f" stroke-width="2.1" stroke-linecap="round" fill="none"/>
<path d="M461.5 266.3h0M488.9 269.8h0M430.4 258.4h0M435.5 267.8h0M467.7 267.0h0M455.8 267.1h0M477.8 261.1h0M440.7 270.1h0M446.2 272.1h0M492.8 271.4h0M470.1 268.7h0M480.7 263.6h0M436.9 266.3h0M479.3 274.5h0M458.7 271.0h0M444.3 269.9h0M449.1 269.1h0M490.3 265.2h0M489.8 272.1h0M463.4 269.5h0M431.6 259.3h0M437.6 272.5h0M470.6 272.3h0M490.9 272.1h0M443.8 269.9h0M466.7 268.1h0M431.2 272.5h0M492.6 270.7h0M458.6 262.8h0M436.4 271.8h0M469.4 270.9h0M495.2 273.5h0M433.7 262.2h0M440.2 265.9h0" stroke="#3b6bbf" stroke-width="2.7" stroke-linecap="round" fill="none"/>
<path d="M433.6 274.0h0M438.0 268.7h0M436.2 273.7h0M433.4 271.7h0M432.3 270.2h0" stroke="#e8830f" stroke-width="2.2" stroke-linecap="round" fill="none"/>
<line x1="328.90" y1="196.00" x2="328.90" y2="348.30" stroke="#111" stroke-width="1.1" />
<line x1="328.50" y1="347.90" x2="512.70" y2="347.90" stroke="#111" stroke-width="1.1" />
<text x="324.30" y="272.20" font-size="8.1" fill="#262626" stroke="#262626" stroke-width="0.15" text-anchor="middle" textLength="24.00" lengthAdjust="spacingAndGlyphs" transform="rotate(-90 324.30 272.20)">UMAP 2</text>
<text x="421.20" y="358.50" font-size="8.1" fill="#262626" stroke="#262626" stroke-width="0.15" text-anchor="middle" textLength="24.00" lengthAdjust="spacingAndGlyphs">UMAP 1</text>
<text x="335.90" y="204.60" font-size="6.6" fill="#444" stroke="#444" stroke-width="0.15">subcluster</text>
<circle cx="338.2" cy="211.80" r="2.0" fill="#e8950f"/>
<text x="343.60" y="214.10" font-size="6.6" fill="#262626" stroke="#262626" stroke-width="0.15">delHBS1L</text>
<circle cx="338.2" cy="218.80" r="2.0" fill="#f2d71a"/>
<text x="343.60" y="221.10" font-size="6.6" fill="#262626" stroke="#262626" stroke-width="0.15">del7</text>
<circle cx="338.2" cy="225.60" r="2.0" fill="#bcd8ec"/>
<text x="343.60" y="227.90" font-size="6.6" fill="#262626" stroke="#262626" stroke-width="0.15">IKZF1</text>
<circle cx="338.2" cy="232.50" r="2.0" fill="#3b6bbf"/>
<text x="343.60" y="234.80" font-size="6.6" fill="#262626" stroke="#262626" stroke-width="0.15">CDKN2A/PAX5</text>
<circle cx="338.2" cy="239.60" r="2.0" fill="#cfcfcf"/>
<text x="343.60" y="241.90" font-size="6.6" fill="#262626" stroke="#262626" stroke-width="0.15">other</text>
<line x1="37.40" y1="400.30" x2="37.40" y2="488.90" stroke="#111" stroke-width="1.1" />
<line x1="37.00" y1="488.80" x2="117.00" y2="488.80" stroke="#111" stroke-width="1.1" />
<line x1="34.80" y1="402.50" x2="37.40" y2="402.50" stroke="#111" stroke-width="0.9" />
<text x="31.60" y="404.80" font-size="6.4" fill="#262626" stroke="#262626" stroke-width="0.15" text-anchor="end" textLength="12.20" lengthAdjust="spacingAndGlyphs">1.00</text>
<line x1="34.80" y1="424.00" x2="37.40" y2="424.00" stroke="#111" stroke-width="0.9" />
<text x="31.60" y="426.30" font-size="6.4" fill="#262626" stroke="#262626" stroke-width="0.15" text-anchor="end" textLength="12.20" lengthAdjust="spacingAndGlyphs">0.75</text>
<line x1="34.80" y1="445.50" x2="37.40" y2="445.50" stroke="#111" stroke-width="0.9" />
<text x="31.60" y="447.80" font-size="6.4" fill="#262626" stroke="#262626" stroke-width="0.15" text-anchor="end" textLength="12.20" lengthAdjust="spacingAndGlyphs">0.50</text>
<line x1="34.80" y1="467.00" x2="37.40" y2="467.00" stroke="#111" stroke-width="0.9" />
<text x="31.60" y="469.30" font-size="6.4" fill="#262626" stroke="#262626" stroke-width="0.15" text-anchor="end" textLength="12.20" lengthAdjust="spacingAndGlyphs">0.25</text>
<line x1="34.80" y1="488.50" x2="37.40" y2="488.50" stroke="#111" stroke-width="0.9" />
<text x="31.60" y="490.80" font-size="6.4" fill="#262626" stroke="#262626" stroke-width="0.15" text-anchor="end" textLength="12.20" lengthAdjust="spacingAndGlyphs">0.00</text>
<text x="13.90" y="443.40" font-size="7.8" fill="#262626" stroke="#262626" stroke-width="0.15" text-anchor="middle" textLength="31.60" lengthAdjust="spacingAndGlyphs" transform="rotate(-90 13.90 443.40)">Proportion</text>
<rect x="42.00" y="402.50" width="22.50" height="17.50" fill="#f5a00c" />
<rect x="42.00" y="419.70" width="22.50" height="7.78" fill="#f1e40c" />
<rect x="42.00" y="427.18" width="22.50" height="10.96" fill="#bcd9eb" />
<rect x="42.00" y="437.85" width="22.50" height="50.95" fill="#3b79b2" />
<line x1="53.25" y1="488.50" x2="53.25" y2="490.90" stroke="#111" stroke-width="0.9" />
<text x="53.25" y="499.60" font-size="6.5" fill="#262626" stroke="#262626" stroke-width="0.15" text-anchor="middle">0-18</text>
<text x="53.25" y="397.60" font-size="6.3" fill="#262626" stroke="#262626" stroke-width="0.15" text-anchor="middle">n = 39</text>
<rect x="67.40" y="402.50" width="22.50" height="16.64" fill="#f5a00c" />
<rect x="67.40" y="418.84" width="22.50" height="8.04" fill="#f1e40c" />
<rect x="67.40" y="426.58" width="22.50" height="28.68" fill="#bcd9eb" />
<rect x="67.40" y="454.96" width="22.50" height="33.84" fill="#3b79b2" />
<line x1="78.65" y1="488.50" x2="78.65" y2="490.90" stroke="#111" stroke-width="0.9" />
<text x="78.65" y="499.60" font-size="6.5" fill="#262626" stroke="#262626" stroke-width="0.15" text-anchor="middle">19-55</text>
<text x="78.65" y="397.60" font-size="6.3" fill="#262626" stroke="#262626" stroke-width="0.15" text-anchor="middle">n = 172</text>
<rect x="93.00" y="402.50" width="22.50" height="21.37" fill="#f5a00c" />
<rect x="93.00" y="423.57" width="22.50" height="16.21" fill="#f1e40c" />
<rect x="93.00" y="439.48" width="22.50" height="18.79" fill="#bcd9eb" />
<rect x="93.00" y="457.97" width="22.50" height="30.83" fill="#3b79b2" />
<line x1="104.25" y1="488.50" x2="104.25" y2="490.90" stroke="#111" stroke-width="0.9" />
<text x="104.25" y="499.60" font-size="6.5" fill="#262626" stroke="#262626" stroke-width="0.15" text-anchor="middle">&gt;56</text>
<text x="104.25" y="397.60" font-size="6.3" fill="#262626" stroke="#262626" stroke-width="0.15" text-anchor="middle">n = 72</text>
<text x="78.30" y="513.20" font-size="8.2" fill="#262626" stroke="#262626" stroke-width="0.15" text-anchor="middle" textLength="51.80" lengthAdjust="spacingAndGlyphs">Age group (years)</text>
<line x1="39.00" y1="531.80" x2="39.00" y2="621.20" stroke="#111" stroke-width="1.1" />
<line x1="38.60" y1="621.10" x2="88.50" y2="621.10" stroke="#111" stroke-width="1.1" />
<line x1="36.40" y1="534.40" x2="39.00" y2="534.40" stroke="#111" stroke-width="0.9" />
<text x="33.20" y="536.70" font-size="6.4" fill="#262626" stroke="#262626" stroke-width="0.15" text-anchor="end" textLength="12.20" lengthAdjust="spacingAndGlyphs">1.00</text>
<line x1="36.40" y1="556.00" x2="39.00" y2="556.00" stroke="#111" stroke-width="0.9" />
<text x="33.20" y="558.30" font-size="6.4" fill="#262626" stroke="#262626" stroke-width="0.15" text-anchor="end" textLength="12.20" lengthAdjust="spacingAndGlyphs">0.75</text>
<line x1="36.40" y1="577.60" x2="39.00" y2="577.60" stroke="#111" stroke-width="0.9" />
<text x="33.20" y="579.90" font-size="6.4" fill="#262626" stroke="#262626" stroke-width="0.15" text-anchor="end" textLength="12.20" lengthAdjust="spacingAndGlyphs">0.50</text>
<line x1="36.40" y1="599.20" x2="39.00" y2="599.20" stroke="#111" stroke-width="0.9" />
<text x="33.20" y="601.50" font-size="6.4" fill="#262626" stroke="#262626" stroke-width="0.15" text-anchor="end" textLength="12.20" lengthAdjust="spacingAndGlyphs">0.25</text>
<line x1="36.40" y1="620.80" x2="39.00" y2="620.80" stroke="#111" stroke-width="0.9" />
<text x="33.20" y="623.10" font-size="6.4" fill="#262626" stroke="#262626" stroke-width="0.15" text-anchor="end" textLength="12.20" lengthAdjust="spacingAndGlyphs">0.00</text>
<text x="13.90" y="575.50" font-size="7.8" fill="#262626" stroke="#262626" stroke-width="0.15" text-anchor="middle" textLength="31.60" lengthAdjust="spacingAndGlyphs" transform="rotate(-90 13.90 575.50)">Proportion</text>
<rect x="41.80" y="534.40" width="20.40" height="12.40" fill="#f5a00c" />
<rect x="41.80" y="546.50" width="20.40" height="12.14" fill="#f1e40c" />
<rect x="41.80" y="558.33" width="20.40" height="27.08" fill="#bcd9eb" />
<rect x="41.80" y="585.12" width="20.40" height="35.98" fill="#3b79b2" />
<line x1="52.00" y1="620.80" x2="52.00" y2="623.20" stroke="#111" stroke-width="0.9" />
<text x="52.00" y="632.20" font-size="6.6" fill="#262626" stroke="#262626" stroke-width="0.15" text-anchor="middle">minor</text>
<text x="52.00" y="530.20" font-size="6.3" fill="#262626" stroke="#262626" stroke-width="0.15" text-anchor="middle">n = 127</text>
<rect x="64.90" y="534.40" width="20.40" height="25.96" fill="#f5a00c" />
<rect x="64.90" y="560.06" width="20.40" height="16.72" fill="#f1e40c" />
<rect x="64.90" y="576.48" width="20.40" height="17.58" fill="#bcd9eb" />
<rect x="64.90" y="593.76" width="20.40" height="27.34" fill="#3b79b2" />
<line x1="75.10" y1="620.80" x2="75.10" y2="623.20" stroke="#111" stroke-width="0.9" />
<text x="75.10" y="632.20" font-size="6.6" fill="#262626" stroke="#262626" stroke-width="0.15" text-anchor="middle">Major</text>
<text x="75.10" y="530.20" font-size="6.3" fill="#262626" stroke="#262626" stroke-width="0.15" text-anchor="middle">n = 56</text>
<text x="63.50" y="644.80" font-size="8.0" fill="#262626" stroke="#262626" stroke-width="0.15" text-anchor="middle" textLength="67.70" lengthAdjust="spacingAndGlyphs">BCR::ABL1 break point</text>
<text x="6.40" y="658.60" font-size="6.8" fill="#333" stroke="#333" stroke-width="0.15">subcluster</text>
<rect x="6.90" y="663.00" width="5.90" height="5.50" fill="#f5a00c" />
<text x="15.70" y="667.90" font-size="6.4" fill="#262626" stroke="#262626" stroke-width="0.15">delHBS1L</text>
<rect x="52.60" y="663.00" width="5.90" height="5.50" fill="#f1e40c" />
<text x="61.40" y="667.90" font-size="6.4" fill="#262626" stroke="#262626" stroke-width="0.15">del7</text>
<rect x="6.90" y="673.10" width="5.90" height="5.50" fill="#bcd9eb" />
<text x="15.70" y="678.00" font-size="6.4" fill="#262626" stroke="#262626" stroke-width="0.15">IKZF1</text>
<rect x="52.60" y="673.10" width="5.90" height="5.50" fill="#3b79b2" />
<text x="61.40" y="678.00" font-size="6.4" fill="#262626" stroke="#262626" stroke-width="0.15">CDKN2A/PAX5</text>
<line x1="164.40" y1="393.70" x2="164.40" y2="489.00" stroke="#111" stroke-width="1.1" />
<line x1="164.00" y1="488.60" x2="296.00" y2="488.60" stroke="#111" stroke-width="1.1" />
<line x1="176.50" y1="488.60" x2="176.50" y2="491.00" stroke="#111" stroke-width="0.9" />
<text x="176.50" y="500.80" font-size="6.6" fill="#262626" stroke="#262626" stroke-width="0.15" text-anchor="middle">3</text>
<line x1="217.80" y1="488.60" x2="217.80" y2="491.00" stroke="#111" stroke-width="0.9" />
<text x="217.80" y="500.80" font-size="6.6" fill="#262626" stroke="#262626" stroke-width="0.15" text-anchor="middle">4</text>
<line x1="259.10" y1="488.60" x2="259.10" y2="491.00" stroke="#111" stroke-width="0.9" />
<text x="259.10" y="500.80" font-size="6.6" fill="#262626" stroke="#262626" stroke-width="0.15" text-anchor="middle">5</text>
<text x="230.00" y="512.80" font-size="8" fill="#262626" stroke="#262626" stroke-width="0.15" text-anchor="middle" textLength="37.50" lengthAdjust="spacingAndGlyphs">WBC (log10)</text>
<line x1="237.70" y1="393.70" x2="237.70" y2="488.60" stroke="#333" stroke-width="0.8" />
<line x1="161.80" y1="407.20" x2="164.40" y2="407.20" stroke="#111" stroke-width="0.9" />
<line x1="161.80" y1="429.80" x2="164.40" y2="429.80" stroke="#111" stroke-width="0.9" />
<line x1="161.80" y1="452.10" x2="164.40" y2="452.10" stroke="#111" stroke-width="0.9" />
<line x1="161.80" y1="475.00" x2="164.40" y2="475.00" stroke="#111" stroke-width="0.9" />
<text x="158.00" y="409.40" font-size="6.6" fill="#262626" stroke="#262626" stroke-width="0.15" text-anchor="end">delHBS1L</text>
<text x="158.00" y="432.00" font-size="6.6" fill="#262626" stroke="#262626" stroke-width="0.15" text-anchor="end">del7</text>
<text x="158.00" y="454.30" font-size="6.6" fill="#262626" stroke="#262626" stroke-width="0.15" text-anchor="end">IKZF1</text>
<text x="158.00" y="475.20" font-size="6.6" fill="#262626" stroke="#262626" stroke-width="0.15" text-anchor="end">CDKN2A/</text>
<text x="158.00" y="482.60" font-size="6.6" fill="#262626" stroke="#262626" stroke-width="0.15" text-anchor="end">PAX5</text>
<circle cx="205.30" cy="407.40" r="2.3" fill="#f5a00c" stroke="#222" stroke-width="0.6"/>
<circle cx="209.90" cy="407.40" r="2.3" fill="#f5a00c" stroke="#222" stroke-width="0.6"/>
<circle cx="218.10" cy="405.45" r="2.3" fill="#f5a00c" stroke="#222" stroke-width="0.6"/>
<circle cx="218.10" cy="409.35" r="2.3" fill="#f5a00c" stroke="#222" stroke-width="0.6"/>
<circle cx="230.40" cy="407.40" r="2.3" fill="#f5a00c" stroke="#222" stroke-width="0.6"/>
<circle cx="235.00" cy="407.40" r="2.3" fill="#f5a00c" stroke="#222" stroke-width="0.6"/>
<circle cx="239.70" cy="403.50" r="2.3" fill="#f5a00c" stroke="#222" stroke-width="0.6"/>
<circle cx="239.70" cy="407.40" r="2.3" fill="#f5a00c" stroke="#222" stroke-width="0.6"/>
<circle cx="239.70" cy="411.30" r="2.3" fill="#f5a00c" stroke="#222" stroke-width="0.6"/>
<circle cx="242.20" cy="407.40" r="2.3" fill="#f5a00c" stroke="#222" stroke-width="0.6"/>
<circle cx="244.50" cy="405.45" r="2.3" fill="#f5a00c" stroke="#222" stroke-width="0.6"/>
<circle cx="244.50" cy="409.35" r="2.3" fill="#f5a00c" stroke="#222" stroke-width="0.6"/>
<circle cx="247.20" cy="407.40" r="2.3" fill="#f5a00c" stroke="#222" stroke-width="0.6"/>
<circle cx="249.90" cy="407.40" r="2.3" fill="#f5a00c" stroke="#222" stroke-width="0.6"/>
<circle cx="253.90" cy="407.40" r="2.3" fill="#f5a00c" stroke="#222" stroke-width="0.6"/>
<circle cx="256.60" cy="405.45" r="2.3" fill="#f5a00c" stroke="#222" stroke-width="0.6"/>
<circle cx="256.60" cy="409.35" r="2.3" fill="#f5a00c" stroke="#222" stroke-width="0.6"/>
<circle cx="259.30" cy="403.50" r="2.3" fill="#f5a00c" stroke="#222" stroke-width="0.6"/>
<circle cx="259.30" cy="407.40" r="2.3" fill="#f5a00c" stroke="#222" stroke-width="0.6"/>
<circle cx="259.30" cy="411.30" r="2.3" fill="#f5a00c" stroke="#222" stroke-width="0.6"/>
<circle cx="262.00" cy="405.45" r="2.3" fill="#f5a00c" stroke="#222" stroke-width="0.6"/>
<circle cx="262.00" cy="409.35" r="2.3" fill="#f5a00c" stroke="#222" stroke-width="0.6"/>
<circle cx="264.50" cy="407.40" r="2.3" fill="#f5a00c" stroke="#222" stroke-width="0.6"/>
<circle cx="268.00" cy="407.40" r="2.3" fill="#f5a00c" stroke="#222" stroke-width="0.6"/>
<circle cx="271.40" cy="403.50" r="2.3" fill="#f5a00c" stroke="#222" stroke-width="0.6"/>
<circle cx="271.40" cy="407.40" r="2.3" fill="#f5a00c" stroke="#222" stroke-width="0.6"/>
<circle cx="271.40" cy="411.30" r="2.3" fill="#f5a00c" stroke="#222" stroke-width="0.6"/>
<circle cx="274.80" cy="405.45" r="2.3" fill="#f5a00c" stroke="#222" stroke-width="0.6"/>
<circle cx="274.80" cy="409.35" r="2.3" fill="#f5a00c" stroke="#222" stroke-width="0.6"/>
<circle cx="284.20" cy="407.40" r="2.3" fill="#f5a00c" stroke="#222" stroke-width="0.6"/>
<circle cx="287.60" cy="407.40" r="2.3" fill="#f5a00c" stroke="#222" stroke-width="0.6"/>
<circle cx="258.80" cy="407.40" r="2.3" fill="#e3191c"/>
<circle cx="219.60" cy="430.00" r="2.3" fill="#f1e40c" stroke="#222" stroke-width="0.6"/>
<circle cx="226.50" cy="430.00" r="2.3" fill="#f1e40c" stroke="#222" stroke-width="0.6"/>
<circle cx="229.50" cy="430.00" r="2.3" fill="#f1e40c" stroke="#222" stroke-width="0.6"/>
<circle cx="232.50" cy="430.00" r="2.3" fill="#f1e40c" stroke="#222" stroke-width="0.6"/>
<circle cx="235.80" cy="426.10" r="2.3" fill="#f1e40c" stroke="#222" stroke-width="0.6"/>
<circle cx="235.80" cy="430.00" r="2.3" fill="#f1e40c" stroke="#222" stroke-width="0.6"/>
<circle cx="235.80" cy="433.90" r="2.3" fill="#f1e40c" stroke="#222" stroke-width="0.6"/>
<circle cx="238.20" cy="430.00" r="2.3" fill="#f1e40c" stroke="#222" stroke-width="0.6"/>
<circle cx="243.00" cy="430.00" r="2.3" fill="#f1e40c" stroke="#222" stroke-width="0.6"/>
<circle cx="246.00" cy="430.00" r="2.3" fill="#f1e40c" stroke="#222" stroke-width="0.6"/>
<circle cx="249.20" cy="426.10" r="2.3" fill="#f1e40c" stroke="#222" stroke-width="0.6"/>
<circle cx="249.20" cy="430.00" r="2.3" fill="#f1e40c" stroke="#222" stroke-width="0.6"/>
<circle cx="249.20" cy="433.90" r="2.3" fill="#f1e40c" stroke="#222" stroke-width="0.6"/>
<circle cx="265.40" cy="430.00" r="2.3" fill="#f1e40c" stroke="#222" stroke-width="0.6"/>
<circle cx="269.50" cy="430.00" r="2.3" fill="#f1e40c" stroke="#222" stroke-width="0.6"/>
<circle cx="273.50" cy="430.00" r="2.3" fill="#f1e40c" stroke="#222" stroke-width="0.6"/>
<circle cx="280.90" cy="430.00" r="2.3" fill="#f1e40c" stroke="#222" stroke-width="0.6"/>
<circle cx="239.10" cy="430.00" r="2.3" fill="#e3191c"/>
<circle cx="181.10" cy="452.60" r="2.3" fill="#bcd9eb" stroke="#222" stroke-width="0.6"/>
<circle cx="183.70" cy="452.60" r="2.3" fill="#bcd9eb" stroke="#222" stroke-width="0.6"/>
<circle cx="187.10" cy="452.60" r="2.3" fill="#bcd9eb" stroke="#222" stroke-width="0.6"/>
<circle cx="190.90" cy="448.70" r="2.3" fill="#bcd9eb" stroke="#222" stroke-width="0.6"/>
<circle cx="190.90" cy="452.60" r="2.3" fill="#bcd9eb" stroke="#222" stroke-width="0.6"/>
<circle cx="190.90" cy="456.50" r="2.3" fill="#bcd9eb" stroke="#222" stroke-width="0.6"/>
<circle cx="195.20" cy="452.60" r="2.3" fill="#bcd9eb" stroke="#222" stroke-width="0.6"/>
<circle cx="198.50" cy="452.60" r="2.3" fill="#bcd9eb" stroke="#222" stroke-width="0.6"/>
<circle cx="201.00" cy="452.60" r="2.3" fill="#bcd9eb" stroke="#222" stroke-width="0.6"/>
<circle cx="203.90" cy="444.80" r="2.3" fill="#bcd9eb" stroke="#222" stroke-width="0.6"/>
<circle cx="203.90" cy="448.70" r="2.3" fill="#bcd9eb" stroke="#222" stroke-width="0.6"/>
<circle cx="203.90" cy="452.60" r="2.3" fill="#bcd9eb" stroke="#222" stroke-width="0.6"/>
<circle cx="203.90" cy="456.50" r="2.3" fill="#bcd9eb" stroke="#222" stroke-width="0.6"/>
<circle cx="203.90" cy="460.40" r="2.3" fill="#bcd9eb" stroke="#222" stroke-width="0.6"/>
<circle cx="207.30" cy="446.75" r="2.3" fill="#bcd9eb" stroke="#222" stroke-width="0.6"/>
<circle cx="207.30" cy="450.65" r="2.3" fill="#bcd9eb" stroke="#222" stroke-width="0.6"/>
<circle cx="207.30" cy="454.55" r="2.3" fill="#bcd9eb" stroke="#222" stroke-width="0.6"/>
<circle cx="207.30" cy="458.45" r="2.3" fill="#bcd9eb" stroke="#222" stroke-width="0.6"/>
<circle cx="210.70" cy="448.70" r="2.3" fill="#bcd9eb" stroke="#222" stroke-width="0.6"/>
<circle cx="210.70" cy="452.60" r="2.3" fill="#bcd9eb" stroke="#222" stroke-width="0.6"/>
<circle cx="210.70" cy="456.50" r="2.3" fill="#bcd9eb" stroke="#222" stroke-width="0.6"/>
<circle cx="214.70" cy="450.65" r="2.3" fill="#bcd9eb" stroke="#222" stroke-width="0.6"/>
<circle cx="214.70" cy="454.55" r="2.3" fill="#bcd9eb" stroke="#222" stroke-width="0.6"/>
<circle cx="222.10" cy="448.70" r="2.3" fill="#bcd9eb" stroke="#222" stroke-width="0.6"/>
<circle cx="222.10" cy="452.60" r="2.3" fill="#bcd9eb" stroke="#222" stroke-width="0.6"/>
<circle cx="222.10" cy="456.50" r="2.3" fill="#bcd9eb" stroke="#222" stroke-width="0.6"/>
<circle cx="226.10" cy="448.70" r="2.3" fill="#bcd9eb" stroke="#222" stroke-width="0.6"/>
<circle cx="226.10" cy="452.60" r="2.3" fill="#bcd9eb" stroke="#222" stroke-width="0.6"/>
<circle cx="226.10" cy="456.50" r="2.3" fill="#bcd9eb" stroke="#222" stroke-width="0.6"/>
<circle cx="230.20" cy="446.75" r="2.3" fill="#bcd9eb" stroke="#222" stroke-width="0.6"/>
<circle cx="230.20" cy="450.65" r="2.3" fill="#bcd9eb" stroke="#222" stroke-width="0.6"/>
<circle cx="230.20" cy="454.55" r="2.3" fill="#bcd9eb" stroke="#222" stroke-width="0.6"/>
<circle cx="230.20" cy="458.45" r="2.3" fill="#bcd9eb" stroke="#222" stroke-width="0.6"/>
<circle cx="232.90" cy="444.80" r="2.3" fill="#bcd9eb" stroke="#222" stroke-width="0.6"/>
<circle cx="232.90" cy="448.70" r="2.3" fill="#bcd9eb" stroke="#222" stroke-width="0.6"/>
<circle cx="232.90" cy="452.60" r="2.3" fill="#bcd9eb" stroke="#222" stroke-width="0.6"/>
<circle cx="232.90" cy="456.50" r="2.3" fill="#bcd9eb" stroke="#222" stroke-width="0.6"/>
<circle cx="232.90" cy="460.40" r="2.3" fill="#bcd9eb" stroke="#222" stroke-width="0.6"/>
<circle cx="236.90" cy="448.70" r="2.3" fill="#bcd9eb" stroke="#222" stroke-width="0.6"/>
<circle cx="236.90" cy="452.60" r="2.3" fill="#bcd9eb" stroke="#222" stroke-width="0.6"/>
<circle cx="236.90" cy="456.50" r="2.3" fill="#bcd9eb" stroke="#222" stroke-width="0.6"/>
<circle cx="239.60" cy="452.60" r="2.3" fill="#bcd9eb" stroke="#222" stroke-width="0.6"/>
<circle cx="245.50" cy="452.60" r="2.3" fill="#bcd9eb" stroke="#222" stroke-width="0.6"/>
<circle cx="249.90" cy="452.60" r="2.3" fill="#bcd9eb" stroke="#222" stroke-width="0.6"/>
<circle cx="265.70" cy="452.60" r="2.3" fill="#bcd9eb" stroke="#222" stroke-width="0.6"/>
<circle cx="273.30" cy="452.60" r="2.3" fill="#bcd9eb" stroke="#222" stroke-width="0.6"/>
<circle cx="281.80" cy="452.60" r="2.3" fill="#bcd9eb" stroke="#222" stroke-width="0.6"/>
<circle cx="217.80" cy="452.60" r="2.3" fill="#e3191c"/>
<circle cx="170.50" cy="475.40" r="2.3" fill="#3b79b2" stroke="#222" stroke-width="0.6"/>
<circle cx="193.80" cy="471.50" r="2.3" fill="#3b79b2" stroke="#222" stroke-width="0.6"/>
<circle cx="193.80" cy="475.40" r="2.3" fill="#3b79b2" stroke="#222" stroke-width="0.6"/>
<circle cx="193.80" cy="479.30" r="2.3" fill="#3b79b2" stroke="#222" stroke-width="0.6"/>
<circle cx="199.20" cy="475.40" r="2.3" fill="#3b79b2" stroke="#222" stroke-width="0.6"/>
<circle cx="205.30" cy="471.50" r="2.3" fill="#3b79b2" stroke="#222" stroke-width="0.6"/>
<circle cx="205.30" cy="475.40" r="2.3" fill="#3b79b2" stroke="#222" stroke-width="0.6"/>
<circle cx="205.30" cy="479.30" r="2.3" fill="#3b79b2" stroke="#222" stroke-width="0.6"/>
<circle cx="210.00" cy="475.40" r="2.3" fill="#3b79b2" stroke="#222" stroke-width="0.6"/>
<circle cx="214.00" cy="473.45" r="2.3" fill="#3b79b2" stroke="#222" stroke-width="0.6"/>
<circle cx="214.00" cy="477.35" r="2.3" fill="#3b79b2" stroke="#222" stroke-width="0.6"/>
<circle cx="216.70" cy="471.50" r="2.3" fill="#3b79b2" stroke="#222" stroke-width="0.6"/>
<circle cx="216.70" cy="475.40" r="2.3" fill="#3b79b2" stroke="#222" stroke-width="0.6"/>
<circle cx="216.70" cy="479.30" r="2.3" fill="#3b79b2" stroke="#222" stroke-width="0.6"/>
<circle cx="219.40" cy="473.45" r="2.3" fill="#3b79b2" stroke="#222" stroke-width="0.6"/>
<circle cx="219.40" cy="477.35" r="2.3" fill="#3b79b2" stroke="#222" stroke-width="0.6"/>
<circle cx="223.50" cy="469.55" r="2.3" fill="#3b79b2" stroke="#222" stroke-width="0.6"/>
<circle cx="223.50" cy="473.45" r="2.3" fill="#3b79b2" stroke="#222" stroke-width="0.6"/>
<circle cx="223.50" cy="477.35" r="2.3" fill="#3b79b2" stroke="#222" stroke-width="0.6"/>
<circle cx="223.50" cy="481.25" r="2.3" fill="#3b79b2" stroke="#222" stroke-width="0.6"/>
<circle cx="226.80" cy="469.55" r="2.3" fill="#3b79b2" stroke="#222" stroke-width="0.6"/>
<circle cx="226.80" cy="473.45" r="2.3" fill="#3b79b2" stroke="#222" stroke-width="0.6"/>
<circle cx="226.80" cy="477.35" r="2.3" fill="#3b79b2" stroke="#222" stroke-width="0.6"/>
<circle cx="226.80" cy="481.25" r="2.3" fill="#3b79b2" stroke="#222" stroke-width="0.6"/>
<circle cx="230.20" cy="471.50" r="2.3" fill="#3b79b2" stroke="#222" stroke-width="0.6"/>
<circle cx="230.20" cy="475.40" r="2.3" fill="#3b79b2" stroke="#222" stroke-width="0.6"/>
<circle cx="230.20" cy="479.30" r="2.3" fill="#3b79b2" stroke="#222" stroke-width="0.6"/>
<circle cx="234.20" cy="475.40" r="2.3" fill="#3b79b2" stroke="#222" stroke-width="0.6"/>
<circle cx="237.00" cy="475.40" r="2.3" fill="#3b79b2" stroke="#222" stroke-width="0.6"/>
<circle cx="240.80" cy="471.50" r="2.3" fill="#3b79b2" stroke="#222" stroke-width="0.6"/>
<circle cx="240.80" cy="475.40" r="2.3" fill="#3b79b2" stroke="#222" stroke-width="0.6"/>
<circle cx="240.80" cy="479.30" r="2.3" fill="#3b79b2" stroke="#222" stroke-width="0.6"/>
<circle cx="243.50" cy="469.55" r="2.3" fill="#3b79b2" stroke="#222" stroke-width="0.6"/>
<circle cx="243.50" cy="473.45" r="2.3" fill="#3b79b2" stroke="#222" stroke-width="0.6"/>
<circle cx="243.50" cy="477.35" r="2.3" fill="#3b79b2" stroke="#222" stroke-width="0.6"/>
<circle cx="243.50" cy="481.25" r="2.3" fill="#3b79b2" stroke="#222" stroke-width="0.6"/>
<circle cx="246.20" cy="471.50" r="2.3" fill="#3b79b2" stroke="#222" stroke-width="0.6"/>
<circle cx="246.20" cy="475.40" r="2.3" fill="#3b79b2" stroke="#222" stroke-width="0.6"/>
<circle cx="246.20" cy="479.30" r="2.3" fill="#3b79b2" stroke="#222" stroke-width="0.6"/>
<circle cx="249.00" cy="469.55" r="2.3" fill="#3b79b2" stroke="#222" stroke-width="0.6"/>
<circle cx="249.00" cy="473.45" r="2.3" fill="#3b79b2" stroke="#222" stroke-width="0.6"/>
<circle cx="249.00" cy="477.35" r="2.3" fill="#3b79b2" stroke="#222" stroke-width="0.6"/>
<circle cx="249.00" cy="481.25" r="2.3" fill="#3b79b2" stroke="#222" stroke-width="0.6"/>
<circle cx="251.80" cy="471.50" r="2.3" fill="#3b79b2" stroke="#222" stroke-width="0.6"/>
<circle cx="251.80" cy="475.40" r="2.3" fill="#3b79b2" stroke="#222" stroke-width="0.6"/>
<circle cx="251.80" cy="479.30" r="2.3" fill="#3b79b2" stroke="#222" stroke-width="0.6"/>
<circle cx="254.50" cy="473.45" r="2.3" fill="#3b79b2" stroke="#222" stroke-width="0.6"/>
<circle cx="254.50" cy="477.35" r="2.3" fill="#3b79b2" stroke="#222" stroke-width="0.6"/>
<circle cx="257.50" cy="475.40" r="2.3" fill="#3b79b2" stroke="#222" stroke-width="0.6"/>
<circle cx="260.50" cy="473.45" r="2.3" fill="#3b79b2" stroke="#222" stroke-width="0.6"/>
<circle cx="260.50" cy="477.35" r="2.3" fill="#3b79b2" stroke="#222" stroke-width="0.6"/>
<circle cx="263.20" cy="471.50" r="2.3" fill="#3b79b2" stroke="#222" stroke-width="0.6"/>
<circle cx="263.20" cy="475.40" r="2.3" fill="#3b79b2" stroke="#222" stroke-width="0.6"/>
<circle cx="263.20" cy="479.30" r="2.3" fill="#3b79b2" stroke="#222" stroke-width="0.6"/>
<circle cx="266.20" cy="473.45" r="2.3" fill="#3b79b2" stroke="#222" stroke-width="0.6"/>
<circle cx="266.20" cy="477.35" r="2.3" fill="#3b79b2" stroke="#222" stroke-width="0.6"/>
<circle cx="269.70" cy="467.60" r="2.3" fill="#3b79b2" stroke="#222" stroke-width="0.6"/>
<circle cx="269.70" cy="471.50" r="2.3" fill="#3b79b2" stroke="#222" stroke-width="0.6"/>
<circle cx="269.70" cy="475.40" r="2.3" fill="#3b79b2" stroke="#222" stroke-width="0.6"/>
<circle cx="269.70" cy="479.30" r="2.3" fill="#3b79b2" stroke="#222" stroke-width="0.6"/>
<circle cx="269.70" cy="483.20" r="2.3" fill="#3b79b2" stroke="#222" stroke-width="0.6"/>
<circle cx="272.80" cy="471.50" r="2.3" fill="#3b79b2" stroke="#222" stroke-width="0.6"/>
<circle cx="272.80" cy="475.40" r="2.3" fill="#3b79b2" stroke="#222" stroke-width="0.6"/>
<circle cx="272.80" cy="479.30" r="2.3" fill="#3b79b2" stroke="#222" stroke-width="0.6"/>
<circle cx="276.40" cy="475.40" r="2.3" fill="#3b79b2" stroke="#222" stroke-width="0.6"/>
<circle cx="281.10" cy="475.40" r="2.3" fill="#3b79b2" stroke="#222" stroke-width="0.6"/>
<circle cx="289.00" cy="475.40" r="2.3" fill="#3b79b2" stroke="#222" stroke-width="0.6"/>
<circle cx="246.80" cy="475.40" r="2.3" fill="#e3191c"/>
<line x1="347.50" y1="398.50" x2="347.50" y2="489.20" stroke="#111" stroke-width="1.1" />
<line x1="347.10" y1="488.80" x2="487.90" y2="488.80" stroke="#111" stroke-width="1.1" />
<line x1="344.90" y1="486.90" x2="347.50" y2="486.90" stroke="#111" stroke-width="0.9" />
<text x="341.70" y="489.10" font-size="6.1" fill="#262626" stroke="#262626" stroke-width="0.15" text-anchor="end" textLength="8.60" lengthAdjust="spacingAndGlyphs">0.0</text>
<line x1="344.90" y1="469.78" x2="347.50" y2="469.78" stroke="#111" stroke-width="0.9" />
<text x="341.70" y="471.98" font-size="6.1" fill="#262626" stroke="#262626" stroke-width="0.15" text-anchor="end" textLength="8.60" lengthAdjust="spacingAndGlyphs">0.2</text>
<line x1="344.90" y1="452.66" x2="347.50" y2="452.66" stroke="#111" stroke-width="0.9" />
<text x="341.70" y="454.86" font-size="6.1" fill="#262626" stroke="#262626" stroke-width="0.15" text-anchor="end" textLength="8.60" lengthAdjust="spacingAndGlyphs">0.4</text>
<line x1="344.90" y1="435.54" x2="347.50" y2="435.54" stroke="#111" stroke-width="0.9" />
<text x="341.70" y="437.74" font-size="6.1" fill="#262626" stroke="#262626" stroke-width="0.15" text-anchor="end" textLength="8.60" lengthAdjust="spacingAndGlyphs">0.6</text>
<line x1="344.90" y1="418.42" x2="347.50" y2="418.42" stroke="#111" stroke-width="0.9" />
<text x="341.70" y="420.62" font-size="6.1" fill="#262626" stroke="#262626" stroke-width="0.15" text-anchor="end" textLength="8.60" lengthAdjust="spacingAndGlyphs">0.8</text>
<line x1="344.90" y1="401.30" x2="347.50" y2="401.30" stroke="#111" stroke-width="0.9" />
<text x="341.70" y="403.50" font-size="6.1" fill="#262626" stroke="#262626" stroke-width="0.15" text-anchor="end" textLength="8.60" lengthAdjust="spacingAndGlyphs">1.0</text>
<line x1="355.20" y1="488.80" x2="355.20" y2="491.20" stroke="#111" stroke-width="0.9" />
<text x="355.20" y="501.40" font-size="6.1" fill="#262626" stroke="#262626" stroke-width="0.15" text-anchor="middle">0</text>
<line x1="388.02" y1="488.80" x2="388.02" y2="491.20" stroke="#111" stroke-width="0.9" />
<text x="388.02" y="501.40" font-size="6.1" fill="#262626" stroke="#262626" stroke-width="0.15" text-anchor="middle">2</text>
<line x1="420.85" y1="488.80" x2="420.85" y2="491.20" stroke="#111" stroke-width="0.9" />
<text x="420.85" y="501.40" font-size="6.1" fill="#262626" stroke="#262626" stroke-width="0.15" text-anchor="middle">4</text>
<line x1="453.68" y1="488.80" x2="453.68" y2="491.20" stroke="#111" stroke-width="0.9" />
<text x="453.68" y="501.40" font-size="6.1" fill="#262626" stroke="#262626" stroke-width="0.15" text-anchor="middle">6</text>
<line x1="486.50" y1="488.80" x2="486.50" y2="491.20" stroke="#111" stroke-width="0.9" />
<text x="486.50" y="501.40" font-size="6.1" fill="#262626" stroke="#262626" stroke-width="0.15" text-anchor="middle">8</text>
<text x="326.20" y="444.30" font-size="7" fill="#262626" stroke="#262626" stroke-width="0.15" text-anchor="middle" textLength="102.50" lengthAdjust="spacingAndGlyphs" transform="rotate(-90 326.20 444.30)">Probability of disease-free survival</text>
<text x="418.10" y="512.80" font-size="8.4" fill="#262626" stroke="#262626" stroke-width="0.15" text-anchor="middle" textLength="39.30" lengthAdjust="spacingAndGlyphs">Time in years</text>
<path d="M355.40 401.20H359.20V404.20H361.00V409.20H373.80V414.20H375.40V415.80H378.50V418.00H383.00V426.50H413.80V432.40H423.00V440.00H453.80" fill="none" stroke="#e5414a" stroke-width="0.95"/>
<path d="M366.00 408.10v2.2M370.00 408.10v2.2M380.00 416.90v2.2M390.00 425.40v2.2M395.00 425.40v2.2M400.00 425.40v2.2M405.00 425.40v2.2M410.00 425.40v2.2M426.00 438.90v2.2M430.00 438.90v2.2M434.00 438.90v2.2M438.00 438.90v2.2M442.00 438.90v2.2M446.00 438.90v2.2M450.00 438.90v2.2" stroke="#e5414a" stroke-width="0.6"/>
<path d="M355.40 401.20H356.90V406.50H358.00V409.60H360.80V412.00H363.00V414.20H365.40V418.00H367.70V422.70H369.70V426.50H375.40V428.00H378.50V430.70H381.50V432.40H386.90V434.20H403.80V435.80H413.00V438.50H479.20" fill="none" stroke="#3b4d9e" stroke-width="0.95"/>
<path d="M372.00 425.40v2.2M384.00 431.30v2.2M390.00 433.10v2.2M393.00 433.10v2.2M396.00 433.10v2.2M399.00 433.10v2.2M402.00 433.10v2.2M407.00 434.70v2.2M416.00 437.40v2.2M420.00 437.40v2.2M424.00 437.40v2.2M428.00 437.40v2.2M432.00 437.40v2.2M436.00 437.40v2.2M440.00 437.40v2.2M444.00 437.40v2.2M450.00 437.40v2.2M458.00 437.40v2.2M466.00 437.40v2.2M474.00 437.40v2.2M478.00 437.40v2.2" stroke="#3b4d9e" stroke-width="0.6"/>
<text x="486.90" y="423.40" font-size="6.2" fill="#e5414a" stroke="#e5414a" stroke-width="0.15" text-anchor="end" textLength="98.00" lengthAdjust="spacingAndGlyphs">multilineage, 3-yrs DFS 70%±9%, n = 29</text>
<text x="485.40" y="449.10" font-size="6.2" fill="#3b4d9e" stroke="#3b4d9e" stroke-width="0.15" text-anchor="end" textLength="90.60" lengthAdjust="spacingAndGlyphs">lymphoid, 3-yrs DFS 61%±6%, n = 62</text>
<text x="459.6" y="485" font-size="6.8" fill="#222"><tspan font-style="italic">P</tspan> = .53</text>
<line x1="164.20" y1="552.70" x2="164.20" y2="643.10" stroke="#111" stroke-width="1.1" />
<line x1="163.80" y1="642.70" x2="304.00" y2="642.70" stroke="#111" stroke-width="1.1" />
<line x1="161.60" y1="640.60" x2="164.20" y2="640.60" stroke="#111" stroke-width="0.9" />
<text x="158.40" y="642.80" font-size="6.1" fill="#262626" stroke="#262626" stroke-width="0.15" text-anchor="end" textLength="8.60" lengthAdjust="spacingAndGlyphs">0.0</text>
<line x1="161.60" y1="623.60" x2="164.20" y2="623.60" stroke="#111" stroke-width="0.9" />
<text x="158.40" y="625.80" font-size="6.1" fill="#262626" stroke="#262626" stroke-width="0.15" text-anchor="end" textLength="8.60" lengthAdjust="spacingAndGlyphs">0.2</text>
<line x1="161.60" y1="606.60" x2="164.20" y2="606.60" stroke="#111" stroke-width="0.9" />
<text x="158.40" y="608.80" font-size="6.1" fill="#262626" stroke="#262626" stroke-width="0.15" text-anchor="end" textLength="8.60" lengthAdjust="spacingAndGlyphs">0.4</text>
<line x1="161.60" y1="589.60" x2="164.20" y2="589.60" stroke="#111" stroke-width="0.9" />
<text x="158.40" y="591.80" font-size="6.1" fill="#262626" stroke="#262626" stroke-width="0.15" text-anchor="end" textLength="8.60" lengthAdjust="spacingAndGlyphs">0.6</text>
<line x1="161.60" y1="572.60" x2="164.20" y2="572.60" stroke="#111" stroke-width="0.9" />
<text x="158.40" y="574.80" font-size="6.1" fill="#262626" stroke="#262626" stroke-width="0.15" text-anchor="end" textLength="8.60" lengthAdjust="spacingAndGlyphs">0.8</text>
<line x1="161.60" y1="555.60" x2="164.20" y2="555.60" stroke="#111" stroke-width="0.9" />
<text x="158.40" y="557.80" font-size="6.1" fill="#262626" stroke="#262626" stroke-width="0.15" text-anchor="end" textLength="8.60" lengthAdjust="spacingAndGlyphs">1.0</text>
<line x1="171.20" y1="642.70" x2="171.20" y2="645.10" stroke="#111" stroke-width="0.9" />
<text x="171.20" y="655.40" font-size="6.1" fill="#262626" stroke="#262626" stroke-width="0.15" text-anchor="middle">0</text>
<line x1="204.07" y1="642.70" x2="204.07" y2="645.10" stroke="#111" stroke-width="0.9" />
<text x="204.07" y="655.40" font-size="6.1" fill="#262626" stroke="#262626" stroke-width="0.15" text-anchor="middle">2</text>
<line x1="236.95" y1="642.70" x2="236.95" y2="645.10" stroke="#111" stroke-width="0.9" />
<text x="236.95" y="655.40" font-size="6.1" fill="#262626" stroke="#262626" stroke-width="0.15" text-anchor="middle">4</text>
<line x1="269.82" y1="642.70" x2="269.82" y2="645.10" stroke="#111" stroke-width="0.9" />
<text x="269.82" y="655.40" font-size="6.1" fill="#262626" stroke="#262626" stroke-width="0.15" text-anchor="middle">6</text>
<line x1="302.70" y1="642.70" x2="302.70" y2="645.10" stroke="#111" stroke-width="0.9" />
<text x="302.70" y="655.40" font-size="6.1" fill="#262626" stroke="#262626" stroke-width="0.15" text-anchor="middle">8</text>
<text x="141.20" y="598.30" font-size="7" fill="#262626" stroke="#262626" stroke-width="0.15" text-anchor="middle" textLength="103.00" lengthAdjust="spacingAndGlyphs" transform="rotate(-90 141.20 598.30)">Probability of disease-free survival</text>
<text x="234.30" y="667.10" font-size="8.4" fill="#262626" stroke="#262626" stroke-width="0.15" text-anchor="middle" textLength="39.30" lengthAdjust="spacingAndGlyphs">Time in years</text>
<path d="M171.90 555.70H175.00V561.50H176.50V565.00H178.00V567.20H180.00V569.70H182.00V573.00H183.80V577.00H185.80V579.00H192.40V581.50H194.20V585.00H195.80V589.20H202.70V593.00H229.60V600.50H258.80" fill="none" stroke="#2f8a7c" stroke-width="0.95"/>
<path d="M197.00 588.10v2.2M199.00 588.10v2.2M206.00 591.90v2.2M212.00 591.90v2.2M216.00 591.90v2.2M220.00 591.90v2.2M233.00 599.40v2.2M237.00 599.40v2.2M241.00 599.40v2.2M245.00 599.40v2.2M249.00 599.40v2.2M253.00 599.40v2.2M256.00 599.40v2.2" stroke="#2f8a7c" stroke-width="0.6"/>
<path d="M171.90 555.70H173.50V561.50H176.00V564.60H180.40V570.00H295.40" fill="none" stroke="#5c2a26" stroke-width="0.95"/>
<path d="M184.00 568.90v2.2M188.00 568.90v2.2M196.00 568.90v2.2M200.00 568.90v2.2M204.00 568.90v2.2M210.00 568.90v2.2M214.00 568.90v2.2M218.00 568.90v2.2M222.00 568.90v2.2M225.00 568.90v2.2M228.00 568.90v2.2M232.00 568.90v2.2M238.00 568.90v2.2M244.00 568.90v2.2M252.00 568.90v2.2M260.00 568.90v2.2M270.00 568.90v2.2M280.00 568.90v2.2M290.00 568.90v2.2" stroke="#5c2a26" stroke-width="0.6"/>
<path d="M171.90 555.70H178.00V566.60H198.80V573.80H266.50" fill="none" stroke="#4461ad" stroke-width="0.95"/>
<path d="M186.00 565.50v2.2M205.00 572.70v2.2M212.00 572.70v2.2M220.00 572.70v2.2M228.00 572.70v2.2M236.00 572.70v2.2M244.00 572.70v2.2M252.00 572.70v2.2M260.00 572.70v2.2" stroke="#4461ad" stroke-width="0.6"/>
<path d="M171.90 555.70H175.00V562.00H191.20V570.00H198.80V577.40H269.40" fill="none" stroke="#e0343a" stroke-width="0.95"/>
<path d="M182.00 560.90v2.2M188.00 560.90v2.2M204.00 576.30v2.2M214.00 576.30v2.2M224.00 576.30v2.2M234.00 576.30v2.2M244.00 576.30v2.2M254.00 576.30v2.2M264.00 576.30v2.2" stroke="#e0343a" stroke-width="0.6"/>
<path d="M180.4 562V570H191.2" fill="none" stroke="#e0343a" stroke-width="0.8"/>
<text x="302.70" y="565.00" font-size="6.2" fill="#8a5a2c" stroke="#8a5a2c" stroke-width="0.15" text-anchor="end" textLength="104.20" lengthAdjust="spacingAndGlyphs">CDKN2A/PAX5, 3-yrs DFS 81%±6%, n = 36</text>
<text x="303.50" y="584.70" font-size="6.2" fill="#4461ad" stroke="#4461ad" stroke-width="0.15" text-anchor="end" textLength="94.70" lengthAdjust="spacingAndGlyphs">delHBS1L, 3-yrs DFS 79%±11%, n = 16</text>
<text x="296.90" y="591.00" font-size="6.2" fill="#e0343a" stroke="#e0343a" stroke-width="0.15" text-anchor="end" textLength="81.50" lengthAdjust="spacingAndGlyphs">del7, 3-yrs DFS 75%±12%, n = 13</text>
<text x="299.20" y="608.70" font-size="6.2" fill="#3a9a62" stroke="#3a9a62" stroke-width="0.15" text-anchor="end" textLength="83.80" lengthAdjust="spacingAndGlyphs">IKZF1, 3-yrs DFS 57%±10%, n = 26</text>
<text x="276" y="639.3" font-size="6.8" fill="#222"><tspan font-style="italic">P</tspan> = .09</text>
<line x1="347.70" y1="552.50" x2="347.70" y2="644.10" stroke="#111" stroke-width="1.1" />
<line x1="347.30" y1="643.70" x2="487.80" y2="643.70" stroke="#111" stroke-width="1.1" />
<line x1="345.10" y1="641.30" x2="347.70" y2="641.30" stroke="#111" stroke-width="0.9" />
<text x="341.90" y="643.50" font-size="6.1" fill="#262626" stroke="#262626" stroke-width="0.15" text-anchor="end" textLength="8.60" lengthAdjust="spacingAndGlyphs">0.0</text>
<line x1="345.10" y1="624.12" x2="347.70" y2="624.12" stroke="#111" stroke-width="0.9" />
<text x="341.90" y="626.32" font-size="6.1" fill="#262626" stroke="#262626" stroke-width="0.15" text-anchor="end" textLength="8.60" lengthAdjust="spacingAndGlyphs">0.2</text>
<line x1="345.10" y1="606.94" x2="347.70" y2="606.94" stroke="#111" stroke-width="0.9" />
<text x="341.90" y="609.14" font-size="6.1" fill="#262626" stroke="#262626" stroke-width="0.15" text-anchor="end" textLength="8.60" lengthAdjust="spacingAndGlyphs">0.4</text>
<line x1="345.10" y1="589.76" x2="347.70" y2="589.76" stroke="#111" stroke-width="0.9" />
<text x="341.90" y="591.96" font-size="6.1" fill="#262626" stroke="#262626" stroke-width="0.15" text-anchor="end" textLength="8.60" lengthAdjust="spacingAndGlyphs">0.6</text>
<line x1="345.10" y1="572.58" x2="347.70" y2="572.58" stroke="#111" stroke-width="0.9" />
<text x="341.90" y="574.78" font-size="6.1" fill="#262626" stroke="#262626" stroke-width="0.15" text-anchor="end" textLength="8.60" lengthAdjust="spacingAndGlyphs">0.8</text>
<line x1="345.10" y1="555.40" x2="347.70" y2="555.40" stroke="#111" stroke-width="0.9" />
<text x="341.90" y="557.60" font-size="6.1" fill="#262626" stroke="#262626" stroke-width="0.15" text-anchor="end" textLength="8.60" lengthAdjust="spacingAndGlyphs">1.0</text>
<line x1="354.50" y1="643.70" x2="354.50" y2="646.10" stroke="#111" stroke-width="0.9" />
<text x="354.50" y="655.40" font-size="6.1" fill="#262626" stroke="#262626" stroke-width="0.15" text-anchor="middle">0</text>
<line x1="387.55" y1="643.70" x2="387.55" y2="646.10" stroke="#111" stroke-width="0.9" />
<text x="387.55" y="655.40" font-size="6.1" fill="#262626" stroke="#262626" stroke-width="0.15" text-anchor="middle">2</text>
<line x1="420.60" y1="643.70" x2="420.60" y2="646.10" stroke="#111" stroke-width="0.9" />
<text x="420.60" y="655.40" font-size="6.1" fill="#262626" stroke="#262626" stroke-width="0.15" text-anchor="middle">4</text>
<line x1="453.65" y1="643.70" x2="453.65" y2="646.10" stroke="#111" stroke-width="0.9" />
<text x="453.65" y="655.40" font-size="6.1" fill="#262626" stroke="#262626" stroke-width="0.15" text-anchor="middle">6</text>
<line x1="486.70" y1="643.70" x2="486.70" y2="646.10" stroke="#111" stroke-width="0.9" />
<text x="486.70" y="655.40" font-size="6.1" fill="#262626" stroke="#262626" stroke-width="0.15" text-anchor="middle">8</text>
<text x="324.50" y="598.30" font-size="7" fill="#262626" stroke="#262626" stroke-width="0.15" text-anchor="middle" textLength="103.00" lengthAdjust="spacingAndGlyphs" transform="rotate(-90 324.50 598.30)">Probability of disease-free survival</text>
<text x="418.00" y="667.10" font-size="8.4" fill="#262626" stroke="#262626" stroke-width="0.15" text-anchor="middle" textLength="39.30" lengthAdjust="spacingAndGlyphs">Time in years</text>
<path d="M356.90 555.40H480.40" fill="none" stroke="#9a62b0" stroke-width="0.95"/>
<path d="M364.00 554.30v2.2M372.00 554.30v2.2M380.00 554.30v2.2M395.00 554.30v2.2M405.00 554.30v2.2M420.00 554.30v2.2M440.00 554.30v2.2M455.00 554.30v2.2M470.00 554.30v2.2M478.00 554.30v2.2" stroke="#9a62b0" stroke-width="0.6"/>
<path d="M356.90 555.40H358.00V560.00H359.20V563.80H362.30V568.50H365.40V577.00H368.20V580.00H370.00V582.60H375.40V587.00H380.00V591.50H386.90V596.20H415.40V604.60H444.00" fill="none" stroke="#2f8a7c" stroke-width="0.95"/>
<path d="M377.00 585.90v2.2M392.00 595.10v2.2M397.00 595.10v2.2M402.00 595.10v2.2M406.00 595.10v2.2M410.00 595.10v2.2M419.00 603.50v2.2M424.00 603.50v2.2M429.00 603.50v2.2M434.00 603.50v2.2M439.00 603.50v2.2" stroke="#2f8a7c" stroke-width="0.6"/>
<path d="M356.90 555.40H361.50V566.20H383.80V574.60H453.00" fill="none" stroke="#4461ad" stroke-width="0.95"/>
<path d="M370.00 565.10v2.2M388.00 573.50v2.2M396.00 573.50v2.2M404.00 573.50v2.2M412.00 573.50v2.2M420.00 573.50v2.2M428.00 573.50v2.2M436.00 573.50v2.2M444.00 573.50v2.2" stroke="#4461ad" stroke-width="0.6"/>
<path d="M356.90 555.40H360.80V562.00H374.60V569.20H383.80V577.00H455.40" fill="none" stroke="#e0343a" stroke-width="0.95"/>
<path d="M366.00 560.90v2.2M387.00 575.90v2.2M396.00 575.90v2.2M405.00 575.90v2.2M414.00 575.90v2.2M423.00 575.90v2.2M432.00 575.90v2.2M441.00 575.90v2.2M450.00 575.90v2.2" stroke="#e0343a" stroke-width="0.6"/>
<path d="M356.90 555.40H358.50V564.60H363.00V568.50H365.40V574.60H476.60" fill="none" stroke="#7b5a2a" stroke-width="0.95"/>
<path d="M370.00 573.50v2.2M380.00 573.50v2.2M390.00 573.50v2.2M395.00 573.50v2.2M400.00 573.50v2.2M405.00 573.50v2.2M410.00 573.50v2.2M415.00 573.50v2.2M420.00 573.50v2.2M425.00 573.50v2.2M430.00 573.50v2.2M435.00 573.50v2.2M440.00 573.50v2.2M445.00 573.50v2.2M450.00 573.50v2.2M458.00 573.50v2.2M466.00 573.50v2.2M472.00 573.50v2.2" stroke="#7b5a2a" stroke-width="0.6"/>
<text x="487.80" y="562.30" font-size="6.2" fill="#9a62b0" stroke="#9a62b0" stroke-width="0.15" text-anchor="end" textLength="91.00" lengthAdjust="spacingAndGlyphs">Hyperdiploid, 3-yrs DFS 100%±0%, n = 11</text>
<text x="485.70" y="570.30" font-size="6.2" fill="#4461ad" stroke="#4461ad" stroke-width="0.15" text-anchor="end" textLength="83.60" lengthAdjust="spacingAndGlyphs">delHBS1L, 3-yrs DFS 79%±11%, n = 16</text>
<text x="484.60" y="584.50" font-size="6.2" fill="#7b5a2a" stroke="#7b5a2a" stroke-width="0.15" text-anchor="end" textLength="105.10" lengthAdjust="spacingAndGlyphs">CDKN2A/PAX5, 3-yrs DFS 77%±8%, n = 27</text>
<text x="473.00" y="591.30" font-size="6.2" fill="#e0343a" stroke="#e0343a" stroke-width="0.15" text-anchor="end" textLength="82.20" lengthAdjust="spacingAndGlyphs">del7, 3-yrs DFS 75%±13%, n = 13</text>
<text x="486.70" y="612.00" font-size="6.2" fill="#2f8a7c" stroke="#2f8a7c" stroke-width="0.15" text-anchor="end" textLength="83.80" lengthAdjust="spacingAndGlyphs">IKZF1, 3-yrs DFS 52%±11%, n = 24</text>
<text x="459.9" y="639" font-size="6.8" fill="#222"><tspan font-style="italic">P</tspan> = .03</text>
</g>
</svg>
</body></html>
